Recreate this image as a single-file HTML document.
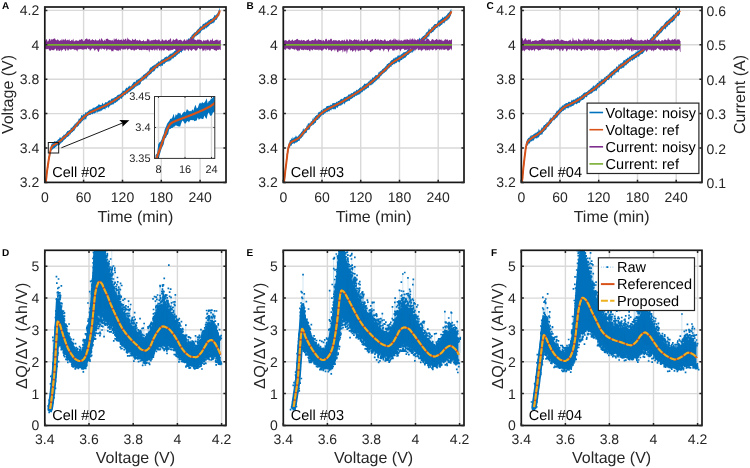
<!DOCTYPE html><html><head><meta charset="utf-8"><style>html,body{margin:0;padding:0;background:#fff}svg{display:block;will-change:transform;text-rendering:geometricPrecision}</style></head><body>
<svg width="750" height="468" viewBox="0 0 750 468" font-family="'Liberation Sans', sans-serif">
<rect width="750" height="468" fill="#fff"/>
<clipPath id="clipA"><rect x="44.8" y="7" width="181.2" height="175.4"/></clipPath>
<path d="M83.6 7V182.4M122.5 7V182.4M161.3 7V182.4M200.1 7V182.4M44.8 148H226M44.8 113.6H226M44.8 79.2H226M44.8 44.8H226M44.8 10.4H226" stroke="#d9d9d9" stroke-width="1.4" fill="none"/>
<g clip-path="url(#clipA)">
<path d="M45.5 178.2 46.4 173.3 47 168.2 47.6 163.8 48.2 158.6 48.8 155.3 49.4 153.2 50 149.7 50.6 147.3 51.2 145.1 51.8 143.6 52.4 143.6 53 142.6 53.6 142.3 54.2 141.3 54.8 141.3 55.4 141.5 56 141.6 56.6 141.1 57.2 140.7 57.8 139.8 58.4 138.9 59 139.5 59.6 137.3 60.2 137.8 60.8 137.6 61.4 138 62 136.7 62.6 136.3 63.2 135.8 63.8 134.5 64.4 135.1 65 134.2 65.6 133.9 66.2 132.6 66.8 132.2 67.4 131.1 68 130.9 68.6 130.7 69.2 129.9 69.8 130.2 70.4 129.4 71 127.2 71.6 128.1 72.2 127.4 72.8 126.4 73.4 125.8 74 125.2 74.6 124.2 75.2 123 75.8 123.9 76.4 122.2 77 122.2 77.6 121.6 78.2 120.4 78.8 118.6 79.4 118.9 80 118.1 80.6 117.7 81.2 115.5 81.8 114.8 82.4 115.9 83 114.4 83.6 114.3 84.2 114.3 84.8 114.5 85.4 111.9 86 112.5 86.6 112.6 87.2 112.1 87.8 111.6 88.4 110.5 89 110.9 89.6 109.5 90.2 109.4 90.8 109.7 91.4 108.9 92 109.5 92.6 108.2 93.2 107.2 93.8 108.3 94.4 107.7 95 107.2 95.6 107.3 96.2 106.5 96.8 106.3 97.4 106 98 105.2 98.6 104.3 99.2 104.8 99.8 104.6 100.4 105 101 105 101.6 104.9 102.2 102.6 102.8 103.5 103.4 104.4 104 103.5 104.6 103.8 105.2 102.3 105.8 102.3 106.4 102.3 107 102.5 107.6 101.9 108.2 100.5 108.8 100.9 109.4 99.9 110 100.5 110.6 100.5 111.2 98.2 111.8 99.2 112.4 98.7 113 97.8 113.6 98.6 114.2 98.2 114.8 97 115.4 97.1 116 97.1 116.6 96.3 117.2 95.3 117.8 95.2 118.4 94.6 119 94.9 119.6 94.2 120.2 94 120.8 93.4 121.4 92.6 122 92.8 122.6 90.8 123.2 90.5 123.8 91.1 124.4 90.8 125 90.1 125.6 88.8 126.2 87.9 126.8 87.4 127.4 88.5 128 86.9 128.6 86.8 129.2 85.2 129.8 86.4 130.4 86.1 131 86.5 131.6 85.1 132.2 84.3 132.8 83.6 133.4 82.2 134 82.2 134.6 81.6 135.2 82.6 135.8 81.3 136.4 79.8 137 80.6 137.6 79.5 138.2 79.2 138.8 78.9 139.4 78.7 140 78.1 140.6 77.5 141.2 77.9 141.8 76.1 142.4 76.7 143 75.3 143.6 74.7 144.2 74.3 144.8 74.3 145.4 73.6 146 73.1 146.6 72.8 147.2 71.9 147.8 71.2 148.4 71.2 149 70 149.6 68.8 150.2 67.5 150.8 67.6 151.4 67.2 152 66.6 152.6 66 153.2 65.7 153.8 65.3 154.4 65.3 155 63.9 155.6 64.8 156.2 63.8 156.8 63.1 157.4 62.7 158 62.3 158.6 61 159.2 61.7 159.8 61.4 160.4 61.1 161 60.1 161.6 59.4 162.2 59.8 162.8 58.9 163.4 58.9 164 58.6 164.6 57.6 165.2 57.3 165.8 56.9 166.4 56.8 167 56.1 167.6 57.2 168.2 55.9 168.8 55.2 169.4 54.5 170 54.5 170.6 53.8 171.2 53.1 171.8 54.3 172.4 53.1 173 52.3 173.6 52.6 174.2 50.7 174.8 51.6 175.4 50.1 176 50.6 176.6 49.2 177.2 48.8 177.8 49.2 178.4 49 179 48.1 179.6 48.1 180.2 47.4 180.8 46 181.4 44.8 182 45.4 182.6 44.5 183.2 44.5 183.8 43.9 184.4 43.2 185 41.4 185.6 40.9 186.2 42.2 186.8 40.9 187.4 40 188 39.1 188.6 38.2 189.2 38.7 189.8 38.5 190.4 36.7 191 37.1 191.6 35.6 192.2 34.3 192.8 34.7 193.4 33.5 194 33.3 194.6 32.3 195.2 32.2 195.8 31.9 196.4 30.8 197 30.5 197.6 29.4 198.2 28.4 198.8 29 199.4 27.4 200 27 200.6 25.9 201.2 26.7 201.8 26 202.4 25.3 203 23.5 203.6 24 204.2 23.7 204.8 23.2 205.4 22.2 206 22.7 206.6 22.3 207.2 21.1 207.8 21.7 208.4 20.6 209 19.5 209.6 20.2 210.2 19 210.8 18.9 211.4 18.7 212 18.8 212.6 18.3 213.2 17.5 213.8 16.7 214.4 15.2 215 14.7 215.6 15.7 216.2 14.7 216.8 14 217.4 13.5 218 11.9 218.6 10.9 219.2 8.9 219.7 6.8L219.7 12.4 219.2 15.9 218.6 16.2 218 16.7 217.4 18.2 216.8 19.4 216.2 20.1 215.6 19.9 215 20.8 214.4 22.5 213.8 22.2 213.2 23.4 212.6 23.1 212 23.6 211.4 24.1 210.8 24.1 210.2 24.6 209.6 25.2 209 25.8 208.4 26.4 207.8 26.8 207.2 27.6 206.6 27.7 206 29 205.4 27.2 204.8 29.4 204.2 29.2 203.6 29.7 203 29.4 202.4 30.3 201.8 30.6 201.2 31.2 200.6 32.7 200 33.1 199.4 33.8 198.8 33.7 198.2 34.8 197.6 35.3 197 35.1 196.4 36.3 195.8 36 195.2 36.7 194.6 37.6 194 38.3 193.4 40.3 192.8 39.7 192.2 40.5 191.6 40.8 191 41.9 190.4 43 189.8 44.2 189.2 44 188.6 44.8 188 44.9 187.4 45 186.8 46.2 186.2 46.6 185.6 48.2 185 47.4 184.4 48.3 183.8 48.8 183.2 50.8 182.6 50.5 182 51.5 181.4 52.9 180.8 51.8 180.2 51.9 179.6 53.4 179 53.4 178.4 53.7 177.8 54.4 177.2 55 176.6 55.2 176 56.6 175.4 56.8 174.8 56.7 174.2 57.3 173.6 58.1 173 58.9 172.4 58.3 171.8 58.6 171.2 60.2 170.6 60.7 170 59.8 169.4 61.7 168.8 60.6 168.2 62.1 167.6 61.3 167 62.1 166.4 61.8 165.8 63 165.2 62.3 164.6 64.3 164 63.7 163.4 63.8 162.8 65.4 162.2 66.1 161.6 66 161 65 160.4 67.1 159.8 66.1 159.2 66.1 158.6 66.4 158 68.1 157.4 68.3 156.8 68.1 156.2 68.5 155.6 68.8 155 70.2 154.4 71 153.8 71.4 153.2 71.5 152.6 71.7 152 72.4 151.4 73.4 150.8 73.9 150.2 74.3 149.6 75.4 149 74.5 148.4 76.2 147.8 76.6 147.2 77.3 146.6 79.2 146 77.5 145.4 79.1 144.8 79.3 144.2 79.5 143.6 80.4 143 80.6 142.4 80.7 141.8 81.3 141.2 81.8 140.6 83.7 140 84.6 139.4 85.1 138.8 84.4 138.2 85.7 137.6 86.1 137 85.3 136.4 86.8 135.8 86.5 135.2 87.2 134.6 87.9 134 88.6 133.4 89.1 132.8 89.2 132.2 89.9 131.6 90 131 91.2 130.4 91 129.8 92.3 129.2 91.4 128.6 92.5 128 92.8 127.4 94 126.8 93.6 126.2 94.1 125.6 95.1 125 95.6 124.4 95.1 123.8 95.5 123.2 97 122.6 97 122 98.1 121.4 99.3 120.8 98.1 120.2 98.8 119.6 99.5 119 100.5 118.4 99.9 117.8 101.2 117.2 101.5 116.6 101.7 116 102.4 115.4 103.1 114.8 102.6 114.2 103.5 113.6 103.9 113 104.9 112.4 104.1 111.8 105.2 111.2 104.5 110.6 104.9 110 106.3 109.4 106.1 108.8 108.5 108.2 107 107.6 106.6 107 107.9 106.4 107.8 105.8 107.6 105.2 110.1 104.6 109 104 108.7 103.4 109.3 102.8 109.2 102.2 110.3 101.6 111 101 110 100.4 111.4 99.8 110.9 99.2 111.7 98.6 111.7 98 111.2 97.4 113 96.8 111.1 96.2 112.9 95.6 112.8 95 112.8 94.4 113.8 93.8 113.2 93.2 113.6 92.6 114.6 92 113.8 91.4 113.9 90.8 115 90.2 114.7 89.6 115 89 115.2 88.4 115.4 87.8 115.9 87.2 116.3 86.6 117.5 86 119.9 85.4 118.9 84.8 118.6 84.2 120.5 83.6 119.8 83 120.4 82.4 121.3 81.8 121.4 81.2 122.7 80.6 123.5 80 123.6 79.4 124 78.8 125.9 78.2 125.5 77.6 127 77 126.7 76.4 127.2 75.8 128.1 75.2 129.1 74.6 130.2 74 131.1 73.4 131.1 72.8 132.1 72.2 132.3 71.6 132.7 71 133.2 70.4 134.7 69.8 134.1 69.2 135.9 68.6 136.1 68 136.9 67.4 136.8 66.8 137.5 66.2 137.8 65.6 139 65 138.9 64.4 140 63.8 140.3 63.2 141.1 62.6 142.3 62 141.8 61.4 143.1 60.8 143.6 60.2 143.4 59.6 145 59 144.9 58.4 145.7 57.8 145.5 57.2 145.2 56.6 146.2 56 146.8 55.4 147 54.8 148.3 54.2 148.1 53.6 148.5 53 149.2 52.4 149.4 51.8 150 51.2 151.1 50.6 153.5 50 156.6 49.4 159.6 48.8 161.6 48.2 167.7 47.6 171.3 47 175.7 46.4 180.4 45.5 183.5Z" fill="#0072bd"/>
<path d="M45.5 182L45.8 181.3 46 180.5 46.1 179.7 46.2 178.9 46.3 178.1 46.4 177.3 46.5 176.5 46.6 175.7 46.6 174.9 46.7 174.1 46.8 173.3 46.9 172.5 47 171.7 47.1 170.9 47.2 170.2 47.3 169.4 47.4 168.6 47.6 167.8 47.7 167 47.8 166.2 47.9 165.4 48 164.6 48.2 163.8 48.3 163 48.4 162.2 48.5 161.4 48.6 160.7 48.7 159.9 48.8 159.1 49 158.3 49.1 157.5 49.2 156.7 49.4 155.9 49.5 155.1 49.6 154.3 49.8 153.6 50 152.8 50.1 152 50.3 151.2 50.5 150.4 50.6 149.6 50.8 148.8 51.1 148.1 51.4 147.4 51.9 146.7 52.4 146.1 53 145.6 53.6 145.1 54.4 144.7 55.1 144.4 55.8 144 56.5 143.6 57.2 143.2 57.9 142.8 58.5 142.3 59.1 141.8 59.7 141.3 60.4 140.8 61 140.3 61.6 139.7 62.1 139.2 62.7 138.6 63.3 138.1 63.9 137.5 64.5 137 65.1 136.5 65.7 135.9 66.3 135.4 66.9 134.9 67.5 134.3 68.1 133.8 68.7 133.3 69.2 132.7 69.8 132.2 70.4 131.6 71 131.1 71.6 130.5 72.1 130 72.7 129.4 73.3 128.8 73.8 128.2 74.4 127.7 74.9 127.1 75.4 126.4 75.9 125.8 76.4 125.2 76.9 124.6 77.4 123.9 77.9 123.3 78.4 122.7 78.9 122.1 79.5 121.5 80 120.9 80.6 120.3 81.1 119.7 81.7 119.2 82.2 118.6 82.8 118 83.4 117.5 84 117 84.6 116.4 85.2 115.9 85.8 115.4 86.4 114.9 87.1 114.4 87.7 113.9 88.4 113.5 89 113.1 89.7 112.7 90.4 112.3 91.2 112 91.9 111.6 92.6 111.3 93.4 111 94.1 110.6 94.8 110.3 95.5 109.9 96.3 109.6 97 109.3 97.7 108.9 98.5 108.6 99.2 108.3 99.9 108 100.7 107.7 101.4 107.4 102.1 107 102.9 106.7 103.6 106.4 104.3 106 105 105.7 105.7 105.3 106.4 105 107.2 104.6 107.9 104.2 108.6 103.8 109.3 103.4 110 103 110.6 102.6 111.3 102.2 112 101.8 112.7 101.4 113.4 101 114.1 100.5 114.7 100.1 115.4 99.7 116.1 99.2 116.7 98.8 117.4 98.3 118.1 97.9 118.7 97.4 119.4 96.9 120 96.5 120.7 96 121.3 95.5 122 95.1 122.6 94.6 123.2 94.1 123.9 93.6 124.5 93.1 125.1 92.7 125.8 92.2 126.4 91.7 127 91.2 127.6 90.7 128.3 90.2 128.9 89.7 129.5 89.2 130.2 88.7 130.8 88.2 131.4 87.7 132 87.2 132.7 86.7 133.3 86.2 133.9 85.7 134.6 85.2 135.2 84.7 135.8 84.2 136.4 83.7 137.1 83.2 137.7 82.7 138.3 82.2 138.9 81.7 139.5 81.2 140.2 80.7 140.8 80.2 141.4 79.7 142 79.1 142.6 78.6 143.2 78.1 143.8 77.6 144.4 77.1 145 76.5 145.6 76 146.2 75.4 146.8 74.9 147.4 74.3 147.9 73.8 148.5 73.2 149.1 72.7 149.7 72.1 150.2 71.5 150.8 71 151.4 70.4 152 69.9 152.6 69.4 153.2 68.8 153.8 68.3 154.4 67.8 155 67.2 155.6 66.7 156.2 66.2 156.8 65.7 157.4 65.2 158.1 64.7 158.7 64.3 159.4 63.8 160 63.4 160.7 63 161.4 62.5 162.1 62.1 162.8 61.7 163.5 61.3 164.2 60.9 164.9 60.5 165.6 60.1 166.3 59.7 167 59.3 167.6 58.9 168.3 58.5 169 58.1 169.7 57.7 170.4 57.3 171.1 56.9 171.7 56.4 172.4 55.9 173 55.5 173.7 55 174.3 54.5 174.9 54 175.5 53.5 176.2 53 176.8 52.5 177.4 52 178 51.5 178.7 51 179.3 50.5 179.9 50 180.5 49.4 181.1 48.9 181.7 48.4 182.3 47.8 182.9 47.3 183.5 46.8 184.1 46.2 184.7 45.7 185.2 45.1 185.8 44.6 186.4 44 187 43.5 187.5 42.9 188.1 42.3 188.7 41.8 189.2 41.2 189.8 40.6 190.3 40 190.9 39.4 191.4 38.8 191.9 38.2 192.4 37.6 193 37 193.5 36.4 194 35.8 194.6 35.2 195.1 34.6 195.7 34.1 196.2 33.5 196.8 32.9 197.3 32.3 197.9 31.8 198.5 31.2 199 30.7 199.6 30.1 200.2 29.6 200.8 29.1 201.5 28.6 202.1 28.1 202.7 27.6 203.4 27.1 204 26.6 204.6 26.1 205.3 25.7 205.9 25.2 206.6 24.7 207.2 24.3 207.9 23.8 208.6 23.4 209.2 22.9 209.9 22.4 210.5 22 211.2 21.5 211.8 21.1 212.5 20.6 213.1 20.1 213.7 19.6 214.3 19.1 214.9 18.5 215.5 18 216.1 17.4 216.7 16.8 217.2 16.2 217.6 15.6 218.1 14.9 218.5 14.2 218.8 13.5 219.2 12.8 219.4 12 219.6 11.2 219.7 10.4 219.7 10.4" stroke="#d95319" stroke-width="2" fill="none" stroke-linejoin="round"/>
<path d="M44.8 41.7 46 39.4 46.8 39.3 47.6 41.7 48.4 41 49.2 39.1 50 38.8 50.8 41 51.6 38.7 52.4 39.8 53.2 38.8 54 38.9 54.8 38 55.6 39.8 56.4 40.6 57.2 39.5 58 39.4 58.8 40.6 59.6 40.9 60.4 40 61.2 40.8 62 38.4 62.8 40.7 63.6 39.1 64.4 40.5 65.2 38.6 66 39.7 66.8 40.8 67.6 39.6 68.4 40.6 69.2 39.1 70 41 70.8 40.9 71.6 39.8 72.4 40.7 73.2 38.4 74 41.7 74.8 40.8 75.6 40.4 76.4 40.3 77.2 40.7 78 40.7 78.8 40.8 79.6 39.6 80.4 39.9 81.2 39.2 82 38.7 82.8 40.3 83.6 41.3 84.4 40.7 85.2 39.1 86 39.2 86.8 38.1 87.6 39.5 88.4 39.8 89.2 38.7 90 39.6 90.8 40.7 91.6 40.1 92.4 39.1 93.2 40 94 40 94.8 40.7 95.6 38.9 96.4 40.4 97.2 40.6 98 40.6 98.8 40.3 99.6 38.6 100.4 41.1 101.2 37.9 102 39.1 102.8 40.3 103.6 41.3 104.4 39.4 105.2 41.3 106 38.8 106.8 38.9 107.6 38.4 108.4 39.4 109.2 40.3 110 39.7 110.8 40.5 111.6 40.4 112.4 39.8 113.2 41.5 114 38 114.8 39.9 115.6 39.1 116.4 38.3 117.2 40.3 118 39.8 118.8 39.3 119.6 40.2 120.4 39.9 121.2 39.4 122 39.8 122.8 41 123.6 38.5 124.4 40.3 125.2 39.1 126 38.6 126.8 41.2 127.6 37.2 128.4 39.3 129.2 39.4 130 40.3 130.8 40.3 131.6 41.1 132.4 38.4 133.2 39.9 134 39.8 134.8 39.7 135.6 38.6 136.4 40.7 137.2 40 138 40.6 138.8 40.8 139.6 39.4 140.4 40.3 141.2 41.2 142 41 142.8 40.9 143.6 39.8 144.4 41.4 145.2 40.8 146 41.4 146.8 40.4 147.6 38.6 148.4 39.5 149.2 39.4 150 41.4 150.8 40.3 151.6 40.3 152.4 40.2 153.2 40.3 154 39.5 154.8 40.3 155.6 38.9 156.4 40.3 157.2 39.9 158 40.6 158.8 38.9 159.6 40.1 160.4 41.3 161.2 41.3 162 39.2 162.8 39.6 163.6 40.8 164.4 40.6 165.2 40.2 166 39.3 166.8 40.5 167.6 41 168.4 39.8 169.2 40.3 170 38.7 170.8 38.2 171.6 41.9 172.4 40.7 173.2 38.8 174 40.2 174.8 39.9 175.6 39.5 176.4 38.4 177.2 38.8 178 40.8 178.8 39.9 179.6 40.1 180.4 39.4 181.2 40.3 182 40.4 182.8 41.7 183.6 40.3 184.4 39 185.2 40.2 186 41.2 186.8 39.1 187.6 40.6 188.4 39.2 189.2 40.6 190 38.9 190.8 39.5 191.6 37.1 192.4 39.5 193.2 39.4 194 37.9 194.8 39.9 195.6 39.8 196.4 40.4 197.2 40.1 198 39.1 198.8 39.9 199.6 39.5 200.4 40.1 201.2 39.9 202 40.9 202.8 41.7 203.6 39.8 204.4 40.8 205.2 40.5 206 40.2 206.8 40.4 207.6 39.2 208.4 39.8 209.2 41.7 210 40.4 210.8 39.4 211.6 40.8 212.4 38 213.2 40.9 214 40.8 214.8 40.6 215.6 39.9 216.4 39.4 217.2 40.4 218 39.2 218.8 41.6 219.6 40.3 220.8 39.9L220.8 50.2 219.6 49.3 218.8 50.1 218 49.4 217.2 50 216.4 50.9 215.6 50.5 214.8 50.1 214 50.2 213.2 48.7 212.4 49.3 211.6 48.8 210.8 49.4 210 51.2 209.2 50 208.4 49.5 207.6 49.7 206.8 50.7 206 48.6 205.2 51.4 204.4 49.3 203.6 50.4 202.8 51.5 202 48.8 201.2 48.4 200.4 49.4 199.6 49.3 198.8 48.1 198 48.3 197.2 50 196.4 50.4 195.6 50.7 194.8 50 194 48.9 193.2 49.1 192.4 49.7 191.6 50.9 190.8 50.3 190 49.6 189.2 49.3 188.4 51.5 187.6 49.4 186.8 49.5 186 49.2 185.2 51.1 184.4 50.6 183.6 49.6 182.8 48.7 182 51 181.2 50.6 180.4 50.5 179.6 49.2 178.8 50.6 178 49.7 177.2 52.5 176.4 50.2 175.6 50.1 174.8 49.1 174 48.9 173.2 49.6 172.4 50 171.6 49.7 170.8 50.8 170 49.5 169.2 51 168.4 50.8 167.6 50.1 166.8 50.3 166 48.9 165.2 49.1 164.4 50.5 163.6 50.6 162.8 50.2 162 49.3 161.2 51.6 160.4 49 159.6 50.9 158.8 49.5 158 48.3 157.2 51 156.4 49.4 155.6 49.2 154.8 50.9 154 49.2 153.2 49.4 152.4 50.6 151.6 50 150.8 49.6 150 49.8 149.2 52.6 148.4 49.2 147.6 50.2 146.8 49.9 146 50.2 145.2 49.3 144.4 50.1 143.6 49.8 142.8 49.2 142 50.5 141.2 50 140.4 49.8 139.6 50.2 138.8 49.6 138 48.8 137.2 49.3 136.4 49.9 135.6 49.4 134.8 50.3 134 50.9 133.2 49.4 132.4 49.8 131.6 50.3 130.8 50.1 130 48.8 129.2 48.7 128.4 49.3 127.6 50.4 126.8 48.6 126 48.7 125.2 49.8 124.4 49.3 123.6 49.6 122.8 49.6 122 49.2 121.2 48.4 120.4 50.9 119.6 49.6 118.8 51.2 118 49.9 117.2 51 116.4 50.2 115.6 49.7 114.8 50 114 49.1 113.2 51.5 112.4 51 111.6 51.6 110.8 49.3 110 50 109.2 49.4 108.4 49.2 107.6 49.2 106.8 51.2 106 49.1 105.2 48.6 104.4 50 103.6 49.1 102.8 48.9 102 48.3 101.2 50.1 100.4 48.5 99.6 49.2 98.8 52 98 51.5 97.2 49.6 96.4 49.1 95.6 49.6 94.8 51 94 49.6 93.2 48.5 92.4 48.5 91.6 49 90.8 50 90 51.1 89.2 48.7 88.4 49.3 87.6 47.5 86.8 49.7 86 48.9 85.2 49.3 84.4 49.3 83.6 49.5 82.8 49.9 82 48.9 81.2 49.6 80.4 49.1 79.6 49.3 78.8 49.4 78 49.3 77.2 51.7 76.4 50.1 75.6 49.4 74.8 50.3 74 49.3 73.2 49.3 72.4 49.1 71.6 49.6 70.8 49.6 70 49.7 69.2 48.8 68.4 50.5 67.6 50.5 66.8 48.2 66 50.5 65.2 51.1 64.4 49.1 63.6 48.7 62.8 50.3 62 49.5 61.2 51.7 60.4 49.3 59.6 51 58.8 51 58 49.1 57.2 51 56.4 50.7 55.6 48.5 54.8 48.9 54 50.5 53.2 49.9 52.4 50.3 51.6 49.4 50.8 50.8 50 50.4 49.2 50.4 48.4 48.7 47.6 48.9 46.8 49.4 46 48.7 44.8 49.2Z" fill="#7e2f8e"/>
<path d="M44.8 44.9H220.8" stroke="#77ac30" stroke-width="1.7"/>
</g>
<rect x="44.8" y="7" width="181.2" height="175.4" fill="none" stroke="#181818" stroke-width="1.7"/>
<path d="M44.8 182.4v-2.6M44.8 7v2.6M83.6 182.4v-2.6M83.6 7v2.6M122.5 182.4v-2.6M122.5 7v2.6M161.3 182.4v-2.6M161.3 7v2.6M200.1 182.4v-2.6M200.1 7v2.6M44.8 182.4h2.6M226 182.4h-2.6M44.8 148h2.6M226 148h-2.6M44.8 113.6h2.6M226 113.6h-2.6M44.8 79.2h2.6M226 79.2h-2.6M44.8 44.8h2.6M226 44.8h-2.6M44.8 10.4h2.6M226 10.4h-2.6" stroke="#262626" stroke-width="1.5" fill="none"/>
<g font-size="14" fill="#262626" text-anchor="middle">
<text x="44.8" y="201.7">0</text>
<text x="83.6" y="201.7">60</text>
<text x="122.5" y="201.7">120</text>
<text x="161.3" y="201.7">180</text>
<text x="200.1" y="201.7">240</text>
</g>
<g font-size="14" fill="#262626" text-anchor="end">
<text x="39.3" y="187.3">3.2</text>
<text x="39.3" y="152.9">3.4</text>
<text x="39.3" y="118.5">3.6</text>
<text x="39.3" y="84.1">3.8</text>
<text x="39.3" y="49.7">4</text>
<text x="39.3" y="15.3">4.2</text>
</g>
<text font-size="16" fill="#262626" text-anchor="middle" x="135.4" y="221.6">Time (min)</text>
<text font-size="16" fill="#262626" text-anchor="middle" transform="translate(13,94.5) rotate(-90)">Voltage (V)</text>
<text font-size="10" font-weight="bold" fill="#000" x="2" y="9.3">A</text>
<text font-size="14.5" fill="#000" x="52.3" y="177">Cell #02</text>
<clipPath id="clipB"><rect x="283.3" y="7" width="180.7" height="175.4"/></clipPath>
<path d="M322 7V182.4M360.7 7V182.4M399.5 7V182.4M438.2 7V182.4M283.3 148H464M283.3 113.6H464M283.3 79.2H464M283.3 44.8H464M283.3 10.4H464" stroke="#d9d9d9" stroke-width="1.4" fill="none"/>
<g clip-path="url(#clipB)">
<path d="M283.6 177.7 284.5 174.1 285.1 166.3 285.7 165.3 286.3 159.2 286.9 153.6 287.5 148.3 288.1 145.7 288.7 143.5 289.3 142.7 289.9 139.9 290.5 140 291.1 139.6 291.7 137.7 292.3 139.2 292.9 136.6 293.5 138.8 294.1 137.4 294.7 137.6 295.3 137 295.9 135.3 296.5 136.6 297.1 136.9 297.7 136.4 298.3 136.1 298.9 134.7 299.5 134.6 300.1 133.5 300.7 133.3 301.3 132.1 301.9 131.5 302.5 130.9 303.1 127.9 303.7 129.4 304.3 129.8 304.9 128.6 305.5 128.2 306.1 127.8 306.7 125.6 307.3 125.7 307.9 123.4 308.5 123.1 309.1 124.3 309.7 122.5 310.3 123 310.9 121.2 311.5 121.2 312.1 120.7 312.7 118 313.3 119.7 313.9 117 314.5 118.1 315.1 116 315.7 116.2 316.3 115 316.9 115.2 317.5 114.9 318.1 112.2 318.7 112.4 319.3 112.3 319.9 111.6 320.5 111.7 321.1 110.1 321.7 110.1 322.3 111 322.9 108.8 323.5 108.8 324.1 108.9 324.7 108 325.3 108.2 325.9 107.4 326.5 106.2 327.1 105.9 327.7 106.1 328.3 106 328.9 105.5 329.5 105.7 330.1 105.6 330.7 104.6 331.3 104.7 331.9 104.9 332.5 103.1 333.1 103.2 333.7 102.9 334.3 102.7 334.9 103.2 335.5 103 336.1 102.3 336.7 101.5 337.3 102.5 337.9 101.1 338.5 101.1 339.1 100.7 339.7 100.5 340.3 99.5 340.9 99.2 341.5 98.4 342.1 99.5 342.7 98.8 343.3 98.6 343.9 97.5 344.5 97 345.1 96.7 345.7 97.2 346.3 96.5 346.9 96.5 347.5 96.3 348.1 95 348.7 94.5 349.3 94 349.9 95 350.5 93.8 351.1 93.5 351.7 93 352.3 93.2 352.9 93 353.5 91.8 354.1 91.7 354.7 91.2 355.3 91.6 355.9 90.7 356.5 89.5 357.1 90.5 357.7 89.7 358.3 89.2 358.9 89.1 359.5 87.8 360.1 87.9 360.7 86.7 361.3 88.1 361.9 86.4 362.5 86.3 363.1 85.6 363.7 84.9 364.3 83.6 364.9 83.7 365.5 84.1 366.1 83.6 366.7 83.5 367.3 83.2 367.9 82.3 368.5 81.6 369.1 81.6 369.7 80.6 370.3 79.7 370.9 79.8 371.5 79.5 372.1 78.4 372.7 77 373.3 77.7 373.9 77.4 374.5 76.6 375.1 75.8 375.7 74.9 376.3 75.3 376.9 75.1 377.5 75.1 378.1 73.8 378.7 71.9 379.3 72.4 379.9 71.2 380.5 71.2 381.1 70.3 381.7 70.7 382.3 68.8 382.9 69.3 383.5 68.2 384.1 68.1 384.7 67.4 385.3 66.1 385.9 66.7 386.5 64.9 387.1 64 387.7 64 388.3 63.3 388.9 63 389.5 63.1 390.1 61.3 390.7 61.6 391.3 60.2 391.9 59.9 392.5 60.1 393.1 58.7 393.7 58.3 394.3 58.7 394.9 57.4 395.5 57.4 396.1 57.7 396.7 56.9 397.3 56.5 397.9 55.3 398.5 55.6 399.1 55.7 399.7 55.3 400.3 55.4 400.9 54.5 401.5 54.3 402.1 53.4 402.7 53.5 403.3 52.6 403.9 52.2 404.5 52.3 405.1 51.9 405.7 51.8 406.3 51.4 406.9 50.7 407.5 49.7 408.1 49.1 408.7 49.2 409.3 47.8 409.9 49.4 410.5 48.4 411.1 47.6 411.7 46 412.3 47 412.9 46.5 413.5 44.6 414.1 44.1 414.7 43.9 415.3 43.6 415.9 43.8 416.5 42.5 417.1 41.9 417.7 42.2 418.3 40.7 418.9 39.7 419.5 37.5 420.1 38.3 420.7 39.5 421.3 37.8 421.9 37.4 422.5 36.7 423.1 36.1 423.7 36.1 424.3 34.4 424.9 35.8 425.5 34.1 426.1 32.3 426.7 32.4 427.3 31.8 427.9 31.2 428.5 29.6 429.1 28 429.7 30.1 430.3 29.2 430.9 29 431.5 27 432.1 27.2 432.7 26.5 433.3 25.4 433.9 25.2 434.5 23.9 435.1 23.9 435.7 23.9 436.3 24 436.9 23.5 437.5 22.3 438.1 20.7 438.7 20.4 439.3 20.5 439.9 20.3 440.5 19.6 441.1 19.1 441.7 19 442.3 16.5 442.9 17.9 443.5 18.1 444.1 16.3 444.7 16.9 445.3 16.6 445.9 15.8 446.5 15.2 447.1 14.5 447.7 13.5 448.3 12.9 448.9 12.5 449.5 11.8 450.1 11 450.7 9.8 451.3 8.7L451.3 13.8 450.7 16.1 450.1 16.8 449.5 18.4 448.9 18.4 448.3 19.7 447.7 19.6 447.1 20.9 446.5 20.7 445.9 20.6 445.3 21.8 444.7 22.5 444.1 23.7 443.5 22.7 442.9 23.1 442.3 24.4 441.7 24.7 441.1 24.9 440.5 25.9 439.9 25.8 439.3 27.2 438.7 26.1 438.1 26.5 437.5 27.7 436.9 28 436.3 28.1 435.7 28.7 435.1 29.6 434.5 30.3 433.9 30.6 433.3 31.9 432.7 32 432.1 32.3 431.5 33.3 430.9 33 430.3 33.3 429.7 34.4 429.1 36.9 428.5 35.9 427.9 37.9 427.3 36.7 426.7 39.1 426.1 38.9 425.5 39.5 424.9 40.2 424.3 40.5 423.7 41.4 423.1 42 422.5 42.5 421.9 43.2 421.3 43.7 420.7 43.5 420.1 44.7 419.5 45 418.9 45.5 418.3 46.6 417.7 46.3 417.1 47.7 416.5 49.3 415.9 48.7 415.3 49.5 414.7 49.3 414.1 50.1 413.5 51.4 412.9 51.6 412.3 52.9 411.7 51.4 411.1 53.3 410.5 52.5 409.9 53.3 409.3 53.7 408.7 54.6 408.1 55 407.5 55.1 406.9 55.8 406.3 56.6 405.7 57.3 405.1 58 404.5 57.7 403.9 58.4 403.3 58.7 402.7 58.6 402.1 59.9 401.5 60 400.9 60.2 400.3 60.5 399.7 62.8 399.1 61.6 398.5 62.2 397.9 61 397.3 62.1 396.7 62.8 396.1 63.3 395.5 63.3 394.9 63.6 394.3 64.5 393.7 64 393.1 64.6 392.5 65.2 391.9 65.1 391.3 67.1 390.7 66.8 390.1 66.8 389.5 68.1 388.9 68.5 388.3 68.6 387.7 69.4 387.1 70.3 386.5 71.1 385.9 71.9 385.3 71.5 384.7 73.1 384.1 72.5 383.5 73.3 382.9 74.5 382.3 74.1 381.7 75.6 381.1 75.7 380.5 76.2 379.9 77.3 379.3 78.5 378.7 78.5 378.1 79.1 377.5 79.4 376.9 79.9 376.3 80.9 375.7 80.7 375.1 82.6 374.5 82.1 373.9 82.8 373.3 83.5 372.7 84.7 372.1 83.6 371.5 85.2 370.9 85 370.3 85.5 369.7 85.1 369.1 86.3 368.5 88.3 367.9 87.8 367.3 87.9 366.7 88.7 366.1 89.3 365.5 89.4 364.9 89.5 364.3 91.1 363.7 90.5 363.1 90.7 362.5 92.3 361.9 92.3 361.3 92.2 360.7 93.7 360.1 93.2 359.5 94.4 358.9 94.5 358.3 94.8 357.7 94.8 357.1 95.4 356.5 95.8 355.9 95.7 355.3 95.8 354.7 97.4 354.1 96.4 353.5 97.2 352.9 98.1 352.3 98.2 351.7 98.7 351.1 99.1 350.5 99.1 349.9 100.5 349.3 101 348.7 100.5 348.1 101 347.5 101.3 346.9 101.8 346.3 101.7 345.7 102 345.1 103.2 344.5 104.8 343.9 102.6 343.3 103.7 342.7 104.4 342.1 104.3 341.5 105 340.9 106 340.3 105.2 339.7 105.5 339.1 106 338.5 106.1 337.9 107.4 337.3 107.9 336.7 106.9 336.1 108.1 335.5 109.7 334.9 108.5 334.3 109.6 333.7 109 333.1 109.6 332.5 108.9 331.9 108.6 331.3 110.4 330.7 110.3 330.1 109.8 329.5 111.4 328.9 111.5 328.3 110.9 327.7 112.4 327.1 111.4 326.5 112.3 325.9 112.6 325.3 113.3 324.7 113.5 324.1 113.7 323.5 115.3 322.9 114.3 322.3 115.2 321.7 115.2 321.1 116.3 320.5 116.7 319.9 117.5 319.3 118.7 318.7 118.2 318.1 119.9 317.5 119.9 316.9 119.8 316.3 121 315.7 123 315.1 123.1 314.5 123.4 313.9 124.2 313.3 125 312.7 124.6 312.1 125.7 311.5 125.8 310.9 126.1 310.3 127.3 309.7 129.6 309.1 129.5 308.5 129.7 307.9 130.3 307.3 130.1 306.7 132.8 306.1 132.8 305.5 133.2 304.9 133.3 304.3 134.5 303.7 134.6 303.1 136.5 302.5 136.4 301.9 137.4 301.3 138.3 300.7 138.4 300.1 138.9 299.5 140.9 298.9 141 298.3 140.8 297.7 141.7 297.1 142.3 296.5 142.6 295.9 142.4 295.3 142.8 294.7 144 294.1 143.3 293.5 143.2 292.9 144 292.3 143.4 291.7 145.3 291.1 146.1 290.5 145.6 289.9 148 289.3 147.3 288.7 149.4 288.1 153.8 287.5 156.9 286.9 161.8 286.3 167.3 285.7 170.8 285.1 178.5 284.5 180.1 283.6 184.9Z" fill="#0072bd"/>
<path d="M283.6 182L283.9 181.3 284.1 180.5 284.3 179.7 284.4 178.9 284.5 178.2 284.6 177.4 284.7 176.6 284.8 175.8 284.9 175 285 174.2 285.1 173.4 285.1 172.6 285.2 171.8 285.3 171 285.4 170.2 285.5 169.4 285.6 168.6 285.7 167.8 285.8 167 285.9 166.2 286 165.4 286.1 164.6 286.2 163.8 286.3 163 286.4 162.2 286.5 161.4 286.6 160.6 286.7 159.9 286.8 159.1 286.9 158.3 287 157.5 287.1 156.7 287.2 155.9 287.2 155.1 287.3 154.3 287.4 153.5 287.6 152.7 287.7 151.9 287.8 151.1 287.9 150.3 288.1 149.5 288.2 148.7 288.4 148 288.6 147.2 288.8 146.4 289.1 145.7 289.3 144.9 289.6 144.1 290 143.5 290.5 142.9 291.1 142.3 291.8 141.8 292.4 141.4 293.1 141 293.9 140.7 294.6 140.3 295.3 140 296 139.6 296.8 139.2 297.5 138.9 298.2 138.4 298.8 138 299.4 137.5 299.9 136.9 300.5 136.3 301 135.7 301.5 135 302 134.4 302.5 133.8 303 133.2 303.5 132.5 304 131.9 304.5 131.3 305 130.7 305.6 130.1 306.1 129.5 306.6 128.9 307.2 128.3 307.7 127.7 308.3 127.1 308.8 126.6 309.3 126 309.9 125.4 310.4 124.8 311 124.2 311.5 123.6 312 123 312.6 122.4 313.1 121.8 313.7 121.2 314.2 120.6 314.7 120.1 315.3 119.5 315.8 118.9 316.4 118.3 316.9 117.7 317.5 117.1 318 116.5 318.6 116 319.1 115.4 319.7 114.8 320.3 114.3 320.9 113.7 321.5 113.2 322.1 112.7 322.7 112.2 323.4 111.8 324 111.3 324.7 110.9 325.4 110.4 326.1 110 326.7 109.6 327.4 109.2 328.1 108.8 328.8 108.4 329.6 108.1 330.3 107.7 331 107.4 331.7 107 332.4 106.7 333.2 106.3 333.9 106 334.6 105.6 335.3 105.3 336 104.9 336.7 104.5 337.5 104.2 338.2 103.8 338.9 103.4 339.6 103.1 340.3 102.7 341 102.3 341.7 102 342.4 101.6 343.1 101.2 343.8 100.7 344.4 100.3 345.1 99.8 345.8 99.4 346.5 99 347.2 98.6 347.8 98.2 348.5 97.8 349.2 97.4 349.9 97 350.6 96.6 351.3 96.1 352 95.7 352.6 95.3 353.3 94.9 354 94.5 354.7 94 355.4 93.6 356 93.2 356.7 92.8 357.4 92.3 358.1 91.9 358.7 91.5 359.4 91 360.1 90.6 360.7 90.1 361.4 89.7 362.1 89.2 362.7 88.8 363.4 88.3 364 87.8 364.6 87.4 365.3 86.9 365.9 86.4 366.6 85.9 367.2 85.4 367.8 84.9 368.4 84.4 369.1 83.9 369.7 83.4 370.3 82.9 370.9 82.4 371.5 81.9 372.2 81.4 372.8 80.9 373.4 80.4 374 79.8 374.6 79.3 375.2 78.8 375.8 78.3 376.4 77.8 377 77.2 377.6 76.7 378.2 76.1 378.8 75.6 379.3 75 379.9 74.4 380.5 73.9 381 73.3 381.6 72.8 382.2 72.3 382.8 71.7 383.4 71.2 384 70.7 384.6 70.1 385.2 69.6 385.8 69 386.3 68.4 386.9 67.9 387.4 67.3 388 66.7 388.5 66.1 389.1 65.5 389.6 64.9 390.2 64.4 390.8 63.9 391.4 63.4 392.1 62.9 392.7 62.5 393.4 62 394.1 61.5 394.7 61.1 395.4 60.7 396.1 60.2 396.8 59.8 397.5 59.4 398.2 59 398.8 58.6 399.5 58.2 400.2 57.8 400.9 57.4 401.6 57 402.3 56.5 402.9 56.1 403.6 55.6 404.2 55.1 404.9 54.7 405.5 54.2 406.1 53.7 406.8 53.2 407.4 52.8 408.1 52.3 408.7 51.8 409.4 51.4 410 50.9 410.6 50.4 411.3 49.9 411.9 49.4 412.5 48.9 413.1 48.3 413.7 47.8 414.3 47.3 414.9 46.7 415.5 46.2 416 45.6 416.6 45.1 417.2 44.5 417.8 44 418.4 43.4 418.9 42.9 419.5 42.3 420.1 41.8 420.7 41.2 421.3 40.7 421.9 40.1 422.5 39.6 423.1 39.1 423.7 38.6 424.3 38 424.8 37.5 425.4 36.9 425.9 36.3 426.5 35.7 427 35.1 427.5 34.5 428 33.9 428.6 33.3 429.1 32.7 429.7 32.1 430.2 31.5 430.8 31 431.3 30.4 431.9 29.8 432.5 29.2 433 28.7 433.6 28.1 434.2 27.6 434.8 27.1 435.4 26.6 436 26.1 436.7 25.6 437.3 25.1 437.9 24.6 438.6 24.1 439.2 23.6 439.9 23.2 440.5 22.7 441.2 22.3 441.9 21.8 442.5 21.4 443.2 20.9 443.8 20.4 444.4 19.9 445.1 19.4 445.7 18.9 446.3 18.4 446.9 17.8 447.4 17.3 448 16.7 448.5 16.1 449.1 15.5 449.6 14.8 450 14.2 450.4 13.5 450.8 12.8 451.1 12.1 451.3 11.3" stroke="#d95319" stroke-width="2" fill="none" stroke-linejoin="round"/>
<path d="M283.3 40.3 284.5 40.5 285.3 40.3 286.1 39.9 286.9 41 287.7 41.2 288.5 40 289.3 39.4 290.1 40.6 290.9 40.9 291.7 40.3 292.5 39.3 293.3 41.1 294.1 40.4 294.9 40.2 295.7 40.1 296.5 39.3 297.3 38.8 298.1 39.6 298.9 40.4 299.7 39.9 300.5 40.8 301.3 39.6 302.1 40.7 302.9 40.2 303.7 39.9 304.5 40.2 305.3 41.2 306.1 40.8 306.9 40.2 307.7 40 308.5 38.9 309.3 40.9 310.1 40.4 310.9 41.3 311.7 39.9 312.5 40 313.3 40.2 314.1 40.4 314.9 38.7 315.7 38.7 316.5 40.6 317.3 40.8 318.1 39.2 318.9 39.4 319.7 40.1 320.5 40.1 321.3 39.7 322.1 41.4 322.9 39.8 323.7 40.2 324.5 41.4 325.3 39.5 326.1 38.6 326.9 39.6 327.7 41.5 328.5 39.6 329.3 40.5 330.1 39.6 330.9 38.4 331.7 39.1 332.5 41.2 333.3 40.2 334.1 39.8 334.9 40.7 335.7 40 336.5 40.2 337.3 41.3 338.1 40 338.9 40.4 339.7 39.9 340.5 41.2 341.3 40.8 342.1 39.7 342.9 40.5 343.7 40.8 344.5 39.3 345.3 41.4 346.1 40.6 346.9 38.8 347.7 39.9 348.5 41.4 349.3 39.4 350.1 39.1 350.9 40.4 351.7 39.8 352.5 40.9 353.3 40.2 354.1 39.8 354.9 39.1 355.7 40.2 356.5 39.5 357.3 40.3 358.1 40.4 358.9 39.1 359.7 41.6 360.5 41 361.3 40.1 362.1 40.1 362.9 41.4 363.7 40.5 364.5 38.7 365.3 39.8 366.1 41.1 366.9 39.8 367.7 39.1 368.5 41.6 369.3 41 370.1 40.3 370.9 41 371.7 39.5 372.5 38.9 373.3 40.8 374.1 40.4 374.9 39 375.7 38.8 376.5 40.2 377.3 40.1 378.1 38.7 378.9 40.5 379.7 40.6 380.5 39.6 381.3 39.9 382.1 40.1 382.9 40.9 383.7 40.5 384.5 39.2 385.3 39.6 386.1 41.2 386.9 41 387.7 40.5 388.5 41.3 389.3 39.9 390.1 40.3 390.9 38.9 391.7 41.1 392.5 40 393.3 39.7 394.1 38.1 394.9 40.8 395.7 38.5 396.5 40.2 397.3 39.8 398.1 41.2 398.9 39.1 399.7 40.7 400.5 40.4 401.3 40.3 402.1 40.2 402.9 41.2 403.7 39.7 404.5 39.8 405.3 39.3 406.1 40.4 406.9 38.8 407.7 39.5 408.5 40.1 409.3 40.2 410.1 38.1 410.9 40.4 411.7 38.9 412.5 38.2 413.3 40.6 414.1 38 414.9 40.2 415.7 39.3 416.5 40.4 417.3 39.5 418.1 38.7 418.9 39.8 419.7 40.8 420.5 41.2 421.3 38.3 422.1 40.4 422.9 38.3 423.7 39.7 424.5 40.2 425.3 40.7 426.1 40.1 426.9 38.1 427.7 38.8 428.5 39 429.3 39.9 430.1 41.2 430.9 40.9 431.7 39.5 432.5 38.9 433.3 39.4 434.1 40.6 434.9 40.3 435.7 39.7 436.5 38.7 437.3 39.5 438.1 40.6 438.9 39.4 439.7 39.5 440.5 40 441.3 39.3 442.1 41.2 442.9 40 443.7 41.2 444.5 40.1 445.3 38.7 446.1 40.2 446.9 39.3 447.7 39.6 448.5 40.9 449.3 39.7 450.1 40.3 450.9 40.3 452 38.9L452 50.7 450.9 48.3 450.1 49.4 449.3 49.7 448.5 50.5 447.7 50.7 446.9 49.5 446.1 49.1 445.3 49.6 444.5 49.9 443.7 49.5 442.9 49.9 442.1 48.6 441.3 50.6 440.5 49 439.7 50.5 438.9 49.1 438.1 49 437.3 49.2 436.5 50 435.7 50.8 434.9 48.4 434.1 49.3 433.3 49.8 432.5 50.6 431.7 49.2 430.9 50.1 430.1 48.9 429.3 50.9 428.5 49.6 427.7 50 426.9 50.8 426.1 49.3 425.3 50.9 424.5 48.9 423.7 48.8 422.9 50.4 422.1 49.5 421.3 51.6 420.5 49.6 419.7 49.8 418.9 49.8 418.1 50.4 417.3 48.1 416.5 49.5 415.7 49.6 414.9 51.4 414.1 49.3 413.3 48.7 412.5 49.4 411.7 49.9 410.9 48.1 410.1 49.3 409.3 50.2 408.5 50.7 407.7 49.1 406.9 50 406.1 49.6 405.3 50 404.5 50.2 403.7 48.8 402.9 48.9 402.1 48.7 401.3 49.6 400.5 51.6 399.7 49.7 398.9 49.3 398.1 48.9 397.3 50.1 396.5 50.2 395.7 48.8 394.9 50.9 394.1 49.6 393.3 51.1 392.5 50.4 391.7 48.9 390.9 48.7 390.1 49.4 389.3 49.6 388.5 52.6 387.7 49.5 386.9 49.3 386.1 48.9 385.3 48.9 384.5 49.6 383.7 51.7 382.9 48.9 382.1 49.4 381.3 48.6 380.5 50.4 379.7 50.5 378.9 49.8 378.1 49 377.3 49.8 376.5 49.6 375.7 49.4 374.9 49.7 374.1 48.9 373.3 49.9 372.5 50.7 371.7 50.7 370.9 52.2 370.1 51.8 369.3 49.8 368.5 50.1 367.7 49.5 366.9 50.2 366.1 48.3 365.3 49.4 364.5 50.6 363.7 50 362.9 49.8 362.1 49.9 361.3 49.5 360.5 50.7 359.7 50.5 358.9 50.4 358.1 51.6 357.3 49.6 356.5 49.4 355.7 52.5 354.9 49.4 354.1 50.8 353.3 50.6 352.5 52 351.7 50.1 350.9 50.3 350.1 50.8 349.3 48 348.5 49.4 347.7 50.1 346.9 54.2 346.1 49.4 345.3 51.6 344.5 51.7 343.7 49.1 342.9 53.1 342.1 49.8 341.3 50 340.5 50.4 339.7 50.9 338.9 50 338.1 52.5 337.3 52.1 336.5 49.4 335.7 49.2 334.9 51.4 334.1 49.2 333.3 49.7 332.5 49.8 331.7 51.5 330.9 50.6 330.1 49.6 329.3 49.9 328.5 50.6 327.7 48.1 326.9 49.6 326.1 50 325.3 48.9 324.5 48.4 323.7 49.4 322.9 49.7 322.1 51 321.3 50.4 320.5 49.7 319.7 49.4 318.9 50.8 318.1 49.2 317.3 50 316.5 49.8 315.7 49.7 314.9 50.1 314.1 49.3 313.3 49.2 312.5 50.4 311.7 50.1 310.9 49.1 310.1 51.4 309.3 50.8 308.5 49.5 307.7 50.3 306.9 49.9 306.1 49.6 305.3 49.9 304.5 49.3 303.7 50.6 302.9 49.5 302.1 50.3 301.3 49.8 300.5 48.6 299.7 50.9 298.9 49.8 298.1 51.6 297.3 50.6 296.5 49.9 295.7 48.4 294.9 50.2 294.1 49.3 293.3 49.2 292.5 49.1 291.7 48.6 290.9 48.6 290.1 50 289.3 49.5 288.5 49.2 287.7 48.8 286.9 47.9 286.1 49.3 285.3 49.9 284.5 49.2 283.3 49.4Z" fill="#7e2f8e"/>
<path d="M283.3 44.9H452" stroke="#77ac30" stroke-width="1.7"/>
</g>
<rect x="283.3" y="7" width="180.7" height="175.4" fill="none" stroke="#181818" stroke-width="1.7"/>
<path d="M283.3 182.4v-2.6M283.3 7v2.6M322 182.4v-2.6M322 7v2.6M360.7 182.4v-2.6M360.7 7v2.6M399.5 182.4v-2.6M399.5 7v2.6M438.2 182.4v-2.6M438.2 7v2.6M283.3 182.4h2.6M464 182.4h-2.6M283.3 148h2.6M464 148h-2.6M283.3 113.6h2.6M464 113.6h-2.6M283.3 79.2h2.6M464 79.2h-2.6M283.3 44.8h2.6M464 44.8h-2.6M283.3 10.4h2.6M464 10.4h-2.6" stroke="#262626" stroke-width="1.5" fill="none"/>
<g font-size="14" fill="#262626" text-anchor="middle">
<text x="283.3" y="201.7">0</text>
<text x="322" y="201.7">60</text>
<text x="360.7" y="201.7">120</text>
<text x="399.5" y="201.7">180</text>
<text x="438.2" y="201.7">240</text>
</g>
<g font-size="14" fill="#262626" text-anchor="end">
<text x="277.8" y="187.3">3.2</text>
<text x="277.8" y="152.9">3.4</text>
<text x="277.8" y="118.5">3.6</text>
<text x="277.8" y="84.1">3.8</text>
<text x="277.8" y="49.7">4</text>
<text x="277.8" y="15.3">4.2</text>
</g>
<text font-size="16" fill="#262626" text-anchor="middle" x="373.6" y="221.6">Time (min)</text>
<text font-size="10" font-weight="bold" fill="#000" x="246.6" y="9.3">B</text>
<text font-size="14.5" fill="#000" x="290.8" y="177">Cell #03</text>
<clipPath id="clipC"><rect x="521.3" y="7" width="180.7" height="175.4"/></clipPath>
<path d="M560 7V182.4M598.7 7V182.4M637.5 7V182.4M676.2 7V182.4M521.3 148H702M521.3 113.6H702M521.3 79.2H702M521.3 44.8H702M521.3 10.4H702" stroke="#d9d9d9" stroke-width="1.4" fill="none"/>
<g clip-path="url(#clipC)">
<path d="M521.7 177.6 522.6 172 523.2 165.4 523.8 160.4 524.4 155.3 525 151.1 525.6 146.3 526.2 141.9 526.8 140.5 527.4 139.2 528 138.5 528.6 137.7 529.2 137.9 529.8 136.7 530.4 135.2 531 137 531.6 135 532.2 134.9 532.8 135.4 533.4 134.2 534 133.9 534.6 133.5 535.2 133.5 535.8 132.4 536.4 132.8 537 132.2 537.6 131.4 538.2 131.4 538.8 128.6 539.4 129.9 540 131.1 540.6 130.1 541.2 128.7 541.8 127.2 542.4 128.1 543 127 543.6 125.6 544.2 125.1 544.8 125 545.4 123.7 546 124.3 546.6 122.5 547.2 122.2 547.8 122.6 548.4 121.5 549 120.3 549.6 119.4 550.2 116.9 550.8 118.9 551.4 117.7 552 117.8 552.6 116.7 553.2 115.4 553.8 114.9 554.4 114.9 555 113.8 555.6 113.1 556.2 111.9 556.8 110.5 557.4 111.1 558 109.9 558.6 109.5 559.2 109 559.8 107.3 560.4 108 561 106.6 561.6 107 562.2 104.8 562.8 106.1 563.4 105.6 564 103.9 564.6 104.6 565.2 103.4 565.8 103.4 566.4 103 567 103.1 567.6 103.2 568.2 101.9 568.8 101.7 569.4 101.8 570 102.1 570.6 101.9 571.2 101.1 571.8 99.4 572.4 100.5 573 100.2 573.6 99.5 574.2 99.1 574.8 100.3 575.4 98.8 576 98.2 576.6 98.5 577.2 97.4 577.8 97.3 578.4 97.7 579 96.7 579.6 96.3 580.2 96.5 580.8 96 581.4 95.2 582 94.7 582.6 94.5 583.2 93.5 583.8 92.9 584.4 92.3 585 92.9 585.6 92.3 586.2 91.9 586.8 91.9 587.4 91.2 588 90.9 588.6 90 589.2 89.7 589.8 89.6 590.4 89 591 88 591.6 87.8 592.2 87.7 592.8 86.3 593.4 85.1 594 86.8 594.6 85.7 595.2 85.5 595.8 84.4 596.4 84.5 597 83 597.6 82.7 598.2 83.3 598.8 81.8 599.4 80.8 600 81.7 600.6 80.4 601.2 79.5 601.8 79.3 602.4 79.6 603 79 603.6 79.1 604.2 77.3 604.8 77.5 605.4 77.5 606 75.7 606.6 76 607.2 76 607.8 74.6 608.4 74.6 609 74.2 609.6 72.7 610.2 72.6 610.8 72.1 611.4 71.3 612 71 612.6 70.7 613.2 69.8 613.8 69.4 614.4 69.1 615 68.4 615.6 68.7 616.2 66.8 616.8 66.2 617.4 66.7 618 66.7 618.6 64 619.2 65.1 619.8 63.9 620.4 63.3 621 63.8 621.6 62.9 622.2 62.5 622.8 62.4 623.4 60.7 624 59.8 624.6 60.3 625.2 60.8 625.8 58.8 626.4 59 627 58.7 627.6 57.6 628.2 57.8 628.8 57.7 629.4 56.4 630 56.2 630.6 56.5 631.2 54.6 631.8 55.6 632.4 54.6 633 54.8 633.6 53.8 634.2 54.3 634.8 53 635.4 53.1 636 51.1 636.6 52.3 637.2 51.4 637.8 51.1 638.4 50.8 639 50 639.6 50.5 640.2 48.7 640.8 48.2 641.4 47.8 642 47.3 642.6 46.8 643.2 46.5 643.8 46 644.4 46 645 45.2 645.6 43.6 646.2 43.8 646.8 43.1 647.4 42.6 648 41.5 648.6 40.7 649.2 40.4 649.8 39.3 650.4 38 651 38.4 651.6 36.8 652.2 36.8 652.8 36.3 653.4 34.1 654 34.3 654.6 34.5 655.2 33.5 655.8 33.3 656.4 31.6 657 30.4 657.6 30.4 658.2 30.7 658.8 29.4 659.4 28.9 660 28 660.6 27.4 661.2 26.1 661.8 26.8 662.4 25.7 663 25.7 663.6 25 664.2 23.6 664.8 23.5 665.4 21.9 666 22.1 666.6 20.7 667.2 20.8 667.8 20.6 668.4 19.4 669 19.4 669.6 18.3 670.2 18.8 670.8 16.7 671.4 17.5 672 15.9 672.6 16 673.2 14.6 673.8 14.7 674.4 14.8 675 13.5 675.6 12.8 676.2 12.2 676.8 12.4 677.4 10.2 678 9.7 678.6 10.8 679.2 8.6 680 8L680 14.1 679.2 15.3 678.6 16.4 678 15.4 677.4 16.3 676.8 16.6 676.2 17.9 675.6 17.9 675 19.2 674.4 20.6 673.8 21.1 673.2 21.3 672.6 22.5 672 22.3 671.4 22.6 670.8 23.3 670.2 23.8 669.6 25 669 24.7 668.4 24.9 667.8 26.9 667.2 26.3 666.6 26.9 666 28.2 665.4 29.7 664.8 28.4 664.2 29 663.6 29.5 663 30.6 662.4 31.2 661.8 32.6 661.2 32.5 660.6 32.9 660 34 659.4 34.3 658.8 35.4 658.2 35.5 657.6 36.9 657 36.5 656.4 37.5 655.8 38.2 655.2 39.2 654.6 40.1 654 40.2 653.4 41.1 652.8 41.7 652.2 42.7 651.6 42.2 651 42.9 650.4 43.8 649.8 44.9 649.2 45 648.6 46.7 648 47.5 647.4 47.4 646.8 48.3 646.2 49.5 645.6 50.4 645 50.3 644.4 51.4 643.8 52.3 643.2 53 642.6 54 642 53.7 641.4 54.1 640.8 54.7 640.2 54.4 639.6 55.4 639 56.9 638.4 56.4 637.8 56.6 637.2 56.6 636.6 57.7 636 58.1 635.4 58.1 634.8 58.7 634.2 59.8 633.6 59.2 633 60.1 632.4 61 631.8 59.9 631.2 60.6 630.6 61.6 630 62 629.4 61.6 628.8 63 628.2 63.2 627.6 63.7 627 64.1 626.4 65.5 625.8 65.1 625.2 65.7 624.6 65.7 624 68.2 623.4 67.4 622.8 67.5 622.2 68.3 621.6 68.4 621 68.9 620.4 68.5 619.8 69.6 619.2 70.3 618.6 72.2 618 72.4 617.4 71.6 616.8 72.6 616.2 72.7 615.6 72.8 615 75.7 614.4 74.2 613.8 74.4 613.2 75.8 612.6 75.8 612 76.9 611.4 78.7 610.8 77.2 610.2 77.7 609.6 78.8 609 79.4 608.4 80.2 607.8 80 607.2 80.1 606.6 81.3 606 81.7 605.4 82.6 604.8 83.1 604.2 84.6 603.6 84 603 83.9 602.4 84.6 601.8 86.3 601.2 85.1 600.6 86.1 600 86.9 599.4 87.8 598.8 87.5 598.2 87.8 597.6 88.7 597 89.8 596.4 91.3 595.8 90.4 595.2 90.8 594.6 91.5 594 91.1 593.4 91.8 592.8 92.5 592.2 92.7 591.6 93.7 591 93.3 590.4 93.9 589.8 93.9 589.2 94.8 588.6 95 588 94.8 587.4 95.9 586.8 97.4 586.2 96.9 585.6 96.8 585 97.5 584.4 98.7 583.8 98.9 583.2 99.7 582.6 100.1 582 100 581.4 100.5 580.8 100.5 580.2 102.1 579.6 102.9 579 102.8 578.4 102.8 577.8 103.5 577.2 103.3 576.6 104.4 576 103.9 575.4 103.5 574.8 104.3 574.2 104.8 573.6 105.6 573 106.1 572.4 105.7 571.8 106.6 571.2 106.5 570.6 107.5 570 106 569.4 107.3 568.8 108.8 568.2 107.4 567.6 108.4 567 108.1 566.4 108.3 565.8 108.6 565.2 110.2 564.6 109.6 564 110.3 563.4 110.9 562.8 110.8 562.2 111.5 561.6 112.3 561 112.5 560.4 113.4 559.8 113.9 559.2 114.8 558.6 115.5 558 115.7 557.4 117.6 556.8 117.6 556.2 118 555.6 118.7 555 119.1 554.4 120.5 553.8 119.8 553.2 120.7 552.6 120.7 552 122.3 551.4 122.9 550.8 123.8 550.2 124.3 549.6 124.7 549 126.6 548.4 126.3 547.8 127.4 547.2 126.8 546.6 128.9 546 129.8 545.4 130.3 544.8 130.6 544.2 131.2 543.6 131.9 543 132.2 542.4 134.4 541.8 134.3 541.2 134.7 540.6 134.8 540 135 539.4 136.2 538.8 137.1 538.2 137.8 537.6 137.5 537 138.7 536.4 138.3 535.8 138.1 535.2 138.4 534.6 138.5 534 139.9 533.4 140.7 532.8 140.3 532.2 141.2 531.6 141.5 531 141 530.4 142.1 529.8 142.9 529.2 143.7 528.6 143.6 528 145.2 527.4 145.3 526.8 146.4 526.2 148.6 525.6 152.4 525 157.3 524.4 163.1 523.8 168.5 523.2 173.2 522.6 181.1 521.7 184.5Z" fill="#0072bd"/>
<path d="M521.7 182L521.9 181.2 522.1 180.5 522.2 179.7 522.4 178.9 522.5 178.1 522.6 177.3 522.6 176.5 522.7 175.7 522.8 174.9 522.8 174.1 522.9 173.3 523 172.5 523 171.7 523.1 170.9 523.2 170.1 523.2 169.3 523.3 168.5 523.4 167.7 523.5 166.9 523.6 166.1 523.7 165.3 523.8 164.5 523.9 163.7 523.9 163 524 162.2 524.1 161.4 524.2 160.6 524.3 159.8 524.4 159 524.5 158.2 524.6 157.4 524.7 156.6 524.8 155.8 524.9 155 525 154.2 525.1 153.4 525.2 152.6 525.3 151.8 525.4 151 525.5 150.2 525.6 149.5 525.7 148.7 525.9 147.9 526 147 526.1 146.2 526.3 145.5 526.5 144.7 526.7 143.9 526.9 143.2 527.3 142.5 527.7 141.8 528.3 141.2 528.8 140.6 529.3 140 529.9 139.5 530.6 139 531.2 138.5 531.9 138 532.5 137.6 533.2 137.1 533.9 136.7 534.6 136.3 535.3 135.9 536 135.5 536.6 135.1 537.3 134.7 538 134.2 538.6 133.7 539.2 133.2 539.9 132.7 540.5 132.2 541.1 131.7 541.7 131.2 542.3 130.6 542.8 130 543.4 129.5 543.9 128.9 544.5 128.3 545 127.7 545.6 127.1 546.1 126.5 546.6 125.9 547.1 125.3 547.6 124.7 548.2 124.1 548.7 123.5 549.2 122.8 549.7 122.2 550.2 121.6 550.8 121 551.3 120.4 551.8 119.9 552.4 119.3 552.9 118.7 553.5 118.1 554 117.5 554.5 116.9 555.1 116.3 555.6 115.7 556.1 115.1 556.7 114.5 557.2 113.9 557.8 113.4 558.3 112.8 558.9 112.2 559.4 111.6 560 111.1 560.6 110.5 561.2 109.9 561.7 109.3 562.3 108.8 562.9 108.3 563.5 107.8 564.2 107.3 564.8 106.8 565.5 106.4 566.2 106 566.9 105.7 567.6 105.3 568.3 105 569.1 104.6 569.8 104.3 570.5 103.9 571.2 103.6 572 103.3 572.7 102.9 573.4 102.6 574.1 102.2 574.9 101.9 575.6 101.5 576.3 101.1 577 100.7 577.6 100.3 578.3 99.9 579 99.5 579.7 99.1 580.4 98.6 581 98.2 581.7 97.7 582.3 97.2 583 96.8 583.6 96.3 584.2 95.8 584.9 95.3 585.5 94.9 586.2 94.4 586.8 93.9 587.5 93.5 588.1 93 588.8 92.5 589.5 92.1 590.1 91.6 590.8 91.2 591.5 90.8 592.1 90.3 592.8 89.9 593.4 89.4 594.1 88.9 594.7 88.4 595.3 87.9 595.9 87.4 596.5 86.9 597.1 86.4 597.7 85.8 598.3 85.3 598.9 84.8 599.6 84.3 600.2 83.8 600.8 83.3 601.4 82.8 602.1 82.3 602.7 81.8 603.3 81.3 603.9 80.7 604.5 80.2 605.1 79.7 605.8 79.2 606.4 78.7 607 78.2 607.6 77.6 608.2 77.1 608.8 76.6 609.4 76 610 75.5 610.6 75 611.2 74.5 611.8 73.9 612.4 73.4 613 72.9 613.6 72.4 614.2 71.8 614.8 71.3 615.4 70.8 616 70.3 616.6 69.7 617.2 69.2 617.8 68.6 618.4 68.1 619 67.6 619.6 67.1 620.2 66.6 620.9 66.1 621.5 65.6 622.2 65.2 622.9 64.8 623.5 64.3 624.2 63.9 624.8 63.4 625.4 62.9 626.1 62.4 626.7 61.9 627.3 61.4 627.9 60.9 628.6 60.4 629.2 59.9 629.9 59.4 630.5 59 631.2 58.5 631.8 58 632.5 57.6 633.1 57.1 633.8 56.7 634.4 56.2 635.1 55.7 635.8 55.3 636.4 54.9 637.1 54.4 637.7 54 638.4 53.5 639.1 53 639.7 52.6 640.4 52.1 641 51.6 641.7 51.2 642.3 50.7 642.9 50.2 643.5 49.7 644.1 49.1 644.7 48.6 645.2 48 645.7 47.4 646.2 46.8 646.8 46.2 647.3 45.6 647.8 44.9 648.3 44.3 648.8 43.7 649.3 43 649.8 42.4 650.3 41.8 650.8 41.1 651.3 40.5 651.8 39.9 652.4 39.3 652.9 38.8 653.5 38.2 654 37.6 654.5 37 655.1 36.4 655.6 35.8 656.2 35.2 656.7 34.6 657.2 34 657.8 33.4 658.3 32.8 658.8 32.2 659.4 31.7 659.9 31.1 660.4 30.5 661 29.9 661.5 29.3 662.1 28.7 662.6 28.1 663.1 27.5 663.7 26.9 664.2 26.4 664.8 25.8 665.4 25.2 666 24.7 666.6 24.2 667.2 23.6 667.8 23.1 668.4 22.6 669 22 669.6 21.5 670.2 21 670.8 20.4 671.4 19.9 672 19.4 672.6 18.9 673.2 18.3 673.7 17.8 674.3 17.2 674.8 16.6 675.3 16 675.8 15.3 676.3 14.7 676.9 14.1 677.4 13.6 678 13 678.6 12.4 679.1 11.9 679.7 11.3 680 10.8" stroke="#d95319" stroke-width="2" fill="none" stroke-linejoin="round"/>
<path d="M521.3 38.8 522.5 38 523.3 40.8 524.1 40.1 524.9 38.6 525.7 38.2 526.5 39.9 527.3 40.5 528.1 39.8 528.9 39.6 529.7 40 530.5 39.1 531.3 42.1 532.1 40.9 532.9 40.7 533.7 41.1 534.5 40.6 535.3 40.6 536.1 39.8 536.9 41.1 537.7 40.7 538.5 40.7 539.3 40 540.1 40.1 540.9 40.1 541.7 38.4 542.5 38.6 543.3 38.7 544.1 40.1 544.9 38.9 545.7 41 546.5 40.4 547.3 40.3 548.1 40.5 548.9 39.8 549.7 40.6 550.5 39.8 551.3 41.2 552.1 39 552.9 41.1 553.7 39.9 554.5 38.7 555.3 39.9 556.1 40.1 556.9 39.4 557.7 38.9 558.5 39.2 559.3 40.7 560.1 40.8 560.9 39.9 561.7 39.6 562.5 40.1 563.3 40.2 564.1 40.7 564.9 40.7 565.7 40.9 566.5 40.7 567.3 41.2 568.1 41 568.9 40.4 569.7 40.3 570.5 39.6 571.3 41.2 572.1 41.2 572.9 37.2 573.7 40.4 574.5 40.2 575.3 40.8 576.1 39.5 576.9 40.8 577.7 41.6 578.5 38.3 579.3 39.6 580.1 40.6 580.9 39.8 581.7 41.2 582.5 40.6 583.3 40 584.1 38.1 584.9 40.4 585.7 39.1 586.5 40 587.3 40.5 588.1 37.9 588.9 40.1 589.7 40.5 590.5 38.9 591.3 39.2 592.1 39.8 592.9 39.6 593.7 39.7 594.5 41.4 595.3 40.5 596.1 41 596.9 40.4 597.7 39.5 598.5 39.4 599.3 39.3 600.1 40.7 600.9 39.8 601.7 39.5 602.5 40.3 603.3 41.1 604.1 39.6 604.9 39.6 605.7 41.3 606.5 40.5 607.3 39.1 608.1 39.1 608.9 39.4 609.7 40.3 610.5 40.1 611.3 39.1 612.1 39.4 612.9 40.4 613.7 40 614.5 39.7 615.3 39.8 616.1 40.4 616.9 39.7 617.7 40 618.5 40.5 619.3 39.7 620.1 40.4 620.9 39.2 621.7 39.5 622.5 40.6 623.3 38.6 624.1 40.9 624.9 39.4 625.7 39.6 626.5 40.3 627.3 39.4 628.1 39.4 628.9 39.4 629.7 39.9 630.5 38.6 631.3 37.1 632.1 39.5 632.9 39.1 633.7 39.9 634.5 40.2 635.3 40.5 636.1 39.3 636.9 41.3 637.7 39.9 638.5 40.3 639.3 40.7 640.1 39.8 640.9 40.5 641.7 39.6 642.5 40.5 643.3 40.8 644.1 40.6 644.9 39.5 645.7 40.1 646.5 40.8 647.3 38.4 648.1 40.1 648.9 39.9 649.7 40.1 650.5 39.8 651.3 40.5 652.1 40.1 652.9 41.2 653.7 39.8 654.5 40.4 655.3 39 656.1 40.7 656.9 39.8 657.7 41.2 658.5 39.3 659.3 40 660.1 41.5 660.9 40.8 661.7 40.3 662.5 40.1 663.3 41.1 664.1 39.5 664.9 39.7 665.7 39.6 666.5 40.3 667.3 40.2 668.1 37.5 668.9 39.8 669.7 39.8 670.5 40.4 671.3 40.2 672.1 39.3 672.9 39.4 673.7 39.9 674.5 39 675.3 38.5 676.1 40.8 676.9 39.6 677.7 39.4 678.5 39.4 679.3 39.2 680.1 40.9 680.5 41.1L680.5 51.9 680.1 52 679.3 48.6 678.5 49 677.7 50.1 676.9 50.7 676.1 50.6 675.3 50.8 674.5 49.4 673.7 49.2 672.9 48.4 672.1 51.1 671.3 49.4 670.5 50.4 669.7 49.9 668.9 49.9 668.1 49.2 667.3 51 666.5 50.3 665.7 50.1 664.9 49.8 664.1 51.4 663.3 50.3 662.5 49.2 661.7 49 660.9 50.7 660.1 49.5 659.3 49.8 658.5 49 657.7 48.1 656.9 48.8 656.1 49.8 655.3 50 654.5 49.7 653.7 51.7 652.9 49.4 652.1 50.7 651.3 50.7 650.5 49.6 649.7 49.8 648.9 49.4 648.1 49.4 647.3 51.1 646.5 52.2 645.7 50 644.9 49.8 644.1 50.5 643.3 48.4 642.5 50.9 641.7 49.7 640.9 51.3 640.1 48.5 639.3 50.1 638.5 49.8 637.7 50.7 636.9 49.5 636.1 50.2 635.3 50.1 634.5 49.7 633.7 51 632.9 48.8 632.1 51.9 631.3 50.7 630.5 48.6 629.7 50.7 628.9 49.5 628.1 49.4 627.3 49.7 626.5 48.2 625.7 49 624.9 48.8 624.1 50.1 623.3 50.4 622.5 49.7 621.7 49.3 620.9 49.1 620.1 49.2 619.3 49.7 618.5 50.6 617.7 48.9 616.9 51.9 616.1 49.3 615.3 49.4 614.5 50.5 613.7 49.6 612.9 48.9 612.1 47.8 611.3 50.1 610.5 48.7 609.7 49.8 608.9 49.9 608.1 49.7 607.3 49.9 606.5 50.3 605.7 49.8 604.9 51.1 604.1 49.8 603.3 49.9 602.5 49.9 601.7 49.5 600.9 50.4 600.1 50.1 599.3 50.7 598.5 49.4 597.7 51 596.9 48.7 596.1 49.2 595.3 49.7 594.5 51.1 593.7 49.1 592.9 49.6 592.1 51.1 591.3 49.7 590.5 50 589.7 49.6 588.9 48.7 588.1 49.7 587.3 49.9 586.5 49.8 585.7 49.3 584.9 51.3 584.1 49.1 583.3 49.8 582.5 49.6 581.7 51 580.9 51.1 580.1 49.3 579.3 49.3 578.5 48.5 577.7 50.7 576.9 50.5 576.1 50.1 575.3 48.7 574.5 50.4 573.7 49.1 572.9 49.5 572.1 49.1 571.3 50.7 570.5 48.6 569.7 49.7 568.9 49.3 568.1 49.1 567.3 50.4 566.5 51.7 565.7 48.7 564.9 49 564.1 48.4 563.3 50.6 562.5 51 561.7 49.5 560.9 48.8 560.1 51.5 559.3 50.2 558.5 49 557.7 49.3 556.9 49.7 556.1 48.4 555.3 48.6 554.5 49 553.7 50.5 552.9 48.9 552.1 49.7 551.3 50.7 550.5 49.4 549.7 49.7 548.9 49.9 548.1 48.5 547.3 49.8 546.5 48.9 545.7 49.6 544.9 48.4 544.1 49.5 543.3 48.9 542.5 49.4 541.7 48.8 540.9 49.7 540.1 50.2 539.3 49.9 538.5 50.8 537.7 49.7 536.9 49.3 536.1 49 535.3 49.3 534.5 51.4 533.7 49.3 532.9 49.9 532.1 50.2 531.3 50.4 530.5 49.3 529.7 50.8 528.9 50.3 528.1 49.9 527.3 49 526.5 49.5 525.7 49.4 524.9 50.5 524.1 51.6 523.3 49.7 522.5 51 521.3 49.8Z" fill="#7e2f8e"/>
<path d="M521.3 44.9H680.5" stroke="#77ac30" stroke-width="1.7"/>
</g>
<rect x="521.3" y="7" width="180.7" height="175.4" fill="none" stroke="#181818" stroke-width="1.7"/>
<path d="M521.3 182.4v-2.6M521.3 7v2.6M560 182.4v-2.6M560 7v2.6M598.7 182.4v-2.6M598.7 7v2.6M637.5 182.4v-2.6M637.5 7v2.6M676.2 182.4v-2.6M676.2 7v2.6M521.3 182.4h2.6M521.3 148h2.6M521.3 113.6h2.6M521.3 79.2h2.6M521.3 44.8h2.6M521.3 10.4h2.6M702 182.4h-2.6M702 148h-2.6M702 113.6h-2.6M702 79.2h-2.6M702 44.8h-2.6M702 10.4h-2.6" stroke="#262626" stroke-width="1.5" fill="none"/>
<g font-size="14" fill="#262626" text-anchor="middle">
<text x="521.3" y="201.7">0</text>
<text x="560" y="201.7">60</text>
<text x="598.7" y="201.7">120</text>
<text x="637.5" y="201.7">180</text>
<text x="676.2" y="201.7">240</text>
</g>
<g font-size="14" fill="#262626" text-anchor="end">
<text x="515.8" y="187.3">3.2</text>
<text x="515.8" y="152.9">3.4</text>
<text x="515.8" y="118.5">3.6</text>
<text x="515.8" y="84.1">3.8</text>
<text x="515.8" y="49.7">4</text>
<text x="515.8" y="15.3">4.2</text>
</g>
<g font-size="14" fill="#262626" text-anchor="start">
<text x="706.5" y="187.9">0.1</text>
<text x="706.5" y="153.5">0.2</text>
<text x="706.5" y="119.1">0.3</text>
<text x="706.5" y="84.7">0.4</text>
<text x="706.5" y="50.3">0.5</text>
<text x="706.5" y="15.9">0.6</text>
</g>
<text font-size="16" fill="#262626" text-anchor="middle" transform="translate(745,94.5) rotate(-90)">Current (A)</text>
<text font-size="16" fill="#262626" text-anchor="middle" x="611.6" y="221.6">Time (min)</text>
<text font-size="10" font-weight="bold" fill="#000" x="486.4" y="9.3">C</text>
<text font-size="14.5" fill="#000" x="528.8" y="177">Cell #04</text>
<clipPath id="clipD"><rect x="44.8" y="250.3" width="181.2" height="175.2"/></clipPath>
<path d="M89 250.3V425.5M133.2 250.3V425.5M177.4 250.3V425.5M221.6 250.3V425.5M44.8 393.6H226M44.8 361.8H226M44.8 329.9H226M44.8 298.1H226M44.8 266.2H226" stroke="#d9d9d9" stroke-width="1.4" fill="none"/>
<g clip-path="url(#clipD)">
<path d="M50.2 393.3 50.6 389.5 51 385.6 51.4 381.6 51.8 377.4 52.2 372.7 52.6 367.3 53 361.3 53.4 354 53.8 345.4 54.2 336.4 54.6 327.4 55 318.2 55.4 310.1 55.8 302 56.2 299.6 56.6 299.6 57 299.6 57.4 299.6 57.8 299.6 58.2 299.6 58.6 299.6 59 299.6 59.4 299.6 59.8 300.8 60.2 302.2 60.6 303.8 61 305.5 61.4 307.5 61.8 309.7 62.2 311.6 62.6 313.3 63 315.1 63.4 316.7 63.8 318.3 64.2 319.9 64.6 321.5 65 323.1 65.4 324.6 65.8 326.1 66.2 327.6 66.6 329 67 330.5 67.4 331.9 67.8 333.3 68.2 334.6 68.6 335.9 69 337.2 69.4 338.3 69.8 339.4 70.2 340.4 70.6 341.4 71 342.3 71.4 343.2 71.8 344.1 72.2 344.9 72.6 345.7 73 346.5 73.4 347.3 73.8 348 74.2 348.7 74.6 349.4 75 350.2 75.4 350.8 75.8 351.4 76.2 351.9 76.6 352.3 77 352.7 77.4 353.1 77.8 353.3 78.2 353.6 78.6 353.9 79 354.1 79.4 354.3 79.8 354.3 80.2 353.9 80.6 353.4 81 352.9 81.4 352.3 81.8 351.8 82.2 351.1 82.6 350.3 83 349.4 83.4 348.2 83.8 347 84.2 345.6 84.6 343.9 85 342.2 85.4 340.4 85.8 338.5 86.2 336.4 86.6 334.1 87 331.6 87.4 328.8 87.8 325.9 88.2 322.8 88.6 319.5 89 315.9 89.4 312.1 89.8 307.9 90.2 303.3 90.6 298.2 91 292.5 91.4 286.5 91.8 280.5 92.2 274.6 92.6 268.3 93 262 93.4 256.2 93.8 251.3 94.2 248.3 94.6 248.3 95 248.3 95.4 248.3 95.8 248.3 96.2 248.3 96.6 248.3 97 248.3 97.4 248.3 97.8 248.3 98.2 248.3 98.6 248.3 99 248.3 99.4 248.3 99.8 248.3 100.2 248.3 100.6 248.3 101 248.3 101.4 248.3 101.8 248.3 102.2 248.3 102.6 248.3 103 248.3 103.4 248.3 103.8 248.3 104.2 248.3 104.6 248.3 105 250.4 105.4 252.6 105.8 254.6 106.2 256.5 106.6 258.5 107 260.4 107.4 262.3 107.8 264.1 108.2 266 108.6 267.9 109 269.8 109.4 271.8 109.8 273.7 110.2 275.7 110.6 277.5 111 278.8 111.4 280.1 111.8 281.3 112.2 282.6 112.6 283.8 113 285 113.4 286.2 113.8 287.4 114.2 288.5 114.6 289.6 115 290.8 115.4 291.9 115.8 293 116.2 294.1 116.6 295.1 117 296.2 117.4 297.2 117.8 298.3 118.2 299.3 118.6 300.3 119 301.3 119.4 302.3 119.8 303.3 120.2 304.3 120.6 305.3 121 306.3 121.4 307.3 121.8 308.3 122.2 309.2 122.6 310.1 123 310.9 123.4 311.8 123.8 312.5 124.2 313.3 124.6 314 125 314.7 125.4 315.4 125.8 316.1 126.2 316.8 126.6 317.5 127 318.1 127.4 318.8 127.8 319.4 128.2 320 128.6 320.7 129 321.3 129.4 321.9 129.8 322.5 130.2 323.1 130.6 323.7 131 324.3 131.4 324.9 131.8 325.4 132.2 326 132.6 326.6 133 327.1 133.4 327.6 133.8 328.2 134.2 328.7 134.6 329.2 135 329.7 135.4 330.2 135.8 330.7 136.2 331.1 136.6 331.6 137 332.1 137.4 332.5 137.8 333 138.2 333.5 138.6 334 139 334.5 139.4 335 139.8 335.6 140.2 336.2 140.6 336.8 141 337.3 141.4 337.8 141.8 338.3 142.2 338.7 142.6 339 143 339.3 143.4 339.5 143.8 339.8 144.2 340 144.6 340.3 145 340.3 145.4 339.8 145.8 339.4 146.2 338.9 146.6 338.3 147 337.7 147.4 337.2 147.8 336.5 148.2 335.6 148.6 334.6 149 333.5 149.4 332.3 149.8 331.1 150.2 329.8 150.6 328.5 151 327.3 151.4 326.1 151.8 324.9 152.2 323.9 152.6 322.8 153 321.8 153.4 320.7 153.8 319.6 154.2 318.6 154.6 317.6 155 316.6 155.4 315.7 155.8 314.8 156.2 314 156.6 313.2 157 312.4 157.4 311.6 157.8 310.8 158.2 310.1 158.6 309.3 159 308.6 159.4 307.9 159.8 307.3 160.2 306.8 160.6 306.3 161 306 161.4 305.8 161.8 305.8 162.2 305.8 162.6 305.8 163 305.8 163.4 305.8 163.8 305.8 164.2 305.8 164.6 305.8 165 305.9 165.4 306.2 165.8 306.5 166.2 306.8 166.6 307.1 167 307.5 167.4 307.9 167.8 308.3 168.2 308.7 168.6 309.1 169 309.5 169.4 310 169.8 310.5 170.2 311 170.6 311.6 171 312.2 171.4 312.8 171.8 313.5 172.2 314.2 172.6 314.9 173 315.6 173.4 316.3 173.8 317.1 174.2 317.8 174.6 318.6 175 319.3 175.4 320.1 175.8 321 176.2 321.8 176.6 322.7 177 323.6 177.4 324.5 177.8 325.4 178.2 326.3 178.6 327.1 179 328 179.4 328.9 179.8 329.7 180.2 330.6 180.6 331.5 181 332.4 181.4 333.3 181.8 334.2 182.2 335 182.6 335.8 183 336.6 183.4 337.3 183.8 337.9 184.2 338.6 184.6 339.2 185 339.9 185.4 340.5 185.8 341.1 186.2 341.6 186.6 342.2 187 342.7 187.4 343.2 187.8 343.7 188.2 344.1 188.6 344.5 189 344.9 189.4 345.3 189.8 345.6 190.2 346 190.6 346.3 191 346.6 191.4 346.9 191.8 347.2 192.2 347.4 192.6 347.5 193 347.6 193.4 347.8 193.8 347.9 194.2 348 194.6 348.1 195 348.2 195.4 347.9 195.8 347.5 196.2 347.1 196.6 346.6 197 346 197.4 345.4 197.8 344.8 198.2 344.2 198.6 343.6 199 343 199.4 342.3 199.8 341.6 200.2 340.8 200.6 339.9 201 339.1 201.4 338.2 201.8 337.2 202.2 336.3 202.6 335.4 203 334.5 203.4 333.6 203.8 332.7 204.2 331.8 204.6 330.9 205 330 205.4 329 205.8 328.2 206.2 327.4 206.6 326.8 207 326.3 207.4 325.8 207.8 325.4 208.2 325 208.6 324.6 209 324.3 209.4 324.1 209.8 324.1 210.2 324.1 210.6 324.1 211 324.1 211.4 324.1 211.8 324.1 212.2 324.1 212.6 324.1 213 324.1 213.4 324.3 213.8 324.7 214.2 325.2 214.6 325.7 215 326.2 215.4 326.8 215.8 327.4 216.2 328.1 216.6 328.9 217 329.7 217.4 330.7 217.8 331.6 218.2 332.6 218.6 333.6 219 334.6 219.4 335.6 219.8 336.6 220.2 337.7L220.2 362.5 219.8 362.5 219.4 362.5 219 362.5 218.6 362.5 218.2 361.7 217.8 360.9 217.4 360.2 217 359.5 216.6 358.8 216.2 358.1 215.8 357.5 215.4 356.9 215 356.2 214.6 355.6 214.2 355 213.8 354.5 213.4 354 213 353.5 212.6 353.1 212.2 352.8 211.8 352.5 211.4 352.3 211 352 210.6 352 210.2 352.1 209.8 352.3 209.4 352.6 209 353 208.6 353.5 208.2 354 207.8 354.5 207.4 355.1 207 355.6 206.6 356 206.2 356.5 205.8 357.1 205.4 357.6 205 358.2 204.6 358.7 204.2 359.2 203.8 359.8 203.4 360.3 203 360.7 202.6 361.1 202.2 361.5 201.8 361.8 201.4 362.1 201 362.4 200.6 362.8 200.2 363.1 199.8 363.4 199.4 363.6 199 363.8 198.6 364 198.2 364.1 197.8 364.1 197.4 364.1 197 364.1 196.6 364.1 196.2 364.1 195.8 364.1 195.4 364.1 195 364.1 194.6 364.1 194.2 364.1 193.8 364.1 193.4 364.1 193 364.1 192.6 364.1 192.2 364.1 191.8 364.1 191.4 364 191 364 190.6 363.9 190.2 363.9 189.8 363.8 189.4 363.8 189 363.7 188.6 363.6 188.2 363.4 187.8 363.3 187.4 363.1 187 362.8 186.6 362.6 186.2 362.3 185.8 362.1 185.4 361.8 185 361.6 184.6 361.3 184.2 360.9 183.8 360.6 183.4 360.2 183 359.8 182.6 359.4 182.2 359 181.8 358.6 181.4 358.1 181 357.7 180.6 357.2 180.2 356.7 179.8 356.2 179.4 355.7 179 355.1 178.6 354.5 178.2 353.9 177.8 353.2 177.4 352.6 177 351.9 176.6 351.3 176.2 350.7 175.8 350.1 175.4 349.6 175 349.1 174.6 348.6 174.2 348.1 173.8 347.6 173.4 347.2 173 346.7 172.6 346.2 172.2 345.8 171.8 345.4 171.4 345 171 344.7 170.6 344.3 170.2 344 169.8 343.7 169.4 343.3 169 343 168.6 342.7 168.2 342.4 167.8 342.2 167.4 341.9 167 341.7 166.6 341.6 166.2 341.4 165.8 341.3 165.4 341.2 165 341.1 164.6 341.1 164.2 341 163.8 341 163.4 341 163 341.1 162.6 341.3 162.2 341.6 161.8 341.9 161.4 342.2 161 342.5 160.6 342.9 160.2 343.2 159.8 343.5 159.4 343.9 159 344.3 158.6 344.7 158.2 345.1 157.8 345.6 157.4 346.2 157 346.7 156.6 347.3 156.2 347.9 155.8 348.4 155.4 349 155 349.6 154.6 350.2 154.2 351 153.8 351.7 153.4 352.5 153 353.3 152.6 354 152.2 354.7 151.8 355.4 151.4 356 151 356.4 150.6 356.8 150.2 357 149.8 357.3 149.4 357.5 149 357.8 148.6 357.9 148.2 358.1 147.8 358.2 147.4 358.2 147 358.2 146.6 358.2 146.2 358.2 145.8 358.2 145.4 358.2 145 358.2 144.6 358.2 144.2 358.2 143.8 358.2 143.4 358.2 143 358.2 142.6 358.1 142.2 358.1 141.8 358 141.4 357.9 141 357.8 140.6 357.7 140.2 357.5 139.8 357.4 139.4 357.2 139 357.1 138.6 356.8 138.2 356.5 137.8 356.2 137.4 355.8 137 355.4 136.6 355.1 136.2 354.7 135.8 354.3 135.4 354 135 353.7 134.6 353.4 134.2 353.1 133.8 352.8 133.4 352.5 133 352.2 132.6 351.9 132.2 351.6 131.8 351.3 131.4 351 131 350.7 130.6 350.4 130.2 350 129.8 349.7 129.4 349.3 129 349 128.6 348.6 128.2 348.3 127.8 347.9 127.4 347.5 127 347.1 126.6 346.8 126.2 346.4 125.8 346 125.4 345.6 125 345.2 124.6 344.8 124.2 344.4 123.8 344 123.4 343.5 123 343.1 122.6 342.6 122.2 342.2 121.8 341.7 121.4 341.2 121 340.7 120.6 340.1 120.2 339.6 119.8 339 119.4 338.4 119 337.7 118.6 337.1 118.2 336.4 117.8 335.7 117.4 335 117 334.3 116.6 333.5 116.2 332.8 115.8 332.1 115.4 331.4 115 330.7 114.6 329.9 114.2 329.2 113.8 328.5 113.4 327.8 113 327.1 112.6 326.3 112.2 325.6 111.8 324.9 111.4 324.1 111 323.4 110.6 322.6 110.2 321.8 109.8 321.1 109.4 320.3 109 319.5 108.6 318.6 108.2 317.8 107.8 316.9 107.4 316.1 107 315.5 106.6 315 106.2 314.6 105.8 314.2 105.4 313.8 105 313.5 104.6 313.2 104.2 312.9 103.8 312.6 103.4 312.3 103 312 102.6 311.8 102.2 311.5 101.8 311.9 101.4 312.3 101 312.9 100.6 313.7 100.2 313.8 99.8 313.8 99.4 314 99 314.1 98.6 314.5 98.2 315 97.8 315.8 97.4 316.8 97 318 96.6 319.9 96.2 322.3 95.8 325.1 95.4 328 95 330.8 94.6 333.8 94.2 336.9 93.8 339.9 93.4 342.6 93 344.8 92.6 347 92.2 348.9 91.8 350.7 91.4 352.3 91 353.8 90.6 355.3 90.2 356.6 89.8 357.9 89.4 359 89 359.9 88.6 360.7 88.2 361.4 87.8 362.2 87.4 362.9 87 363.6 86.6 364.2 86.2 364.8 85.8 365.2 85.4 365.5 85 365.7 84.6 365.9 84.2 366 83.8 366.1 83.4 366.1 83 366.2 82.6 366.2 82.2 366.2 81.8 366.2 81.4 366.2 81 366.2 80.6 366.2 80.2 366.2 79.8 366.2 79.4 366.1 79 366.1 78.6 365.9 78.2 365.9 77.8 365.9 77.4 365.8 77 365.7 76.6 365.6 76.2 365.5 75.8 365.4 75.4 365.2 75 365.1 74.6 364.9 74.2 364.7 73.8 364.5 73.4 364.2 73 363.9 72.6 363.5 72.2 363.1 71.8 362.7 71.4 362.2 71 361.8 70.6 361.4 70.2 361 69.8 360.5 69.4 360.1 69 359.6 68.6 359.1 68.2 358.6 67.8 358 67.4 357.4 67 356.8 66.6 356.2 66.2 355.5 65.8 354.8 65.4 354 65 353.2 64.6 352.3 64.2 351.4 63.8 350.5 63.4 349.5 63 348.6 62.6 347.7 62.2 346.7 61.8 345.7 61.4 344.7 61 343.7 60.6 342.7 60.2 341.7 59.8 340.7 59.4 339.6 59 339.7 58.6 344.2 58.2 348.9 57.8 354.6 57.4 360.3 57 366.1 56.6 371.8 56.2 376.6 55.8 380.6 55.4 384.2 55 387.7 54.6 391 54.2 394.2 53.8 397.2 53.4 400.2 53 403.1 52.6 405.8 52.2 408.4 51.8 410.8 51.4 410.8 51 410.8 50.6 410.8 50.2 410.8Z" fill="#0072bd"/>
<path d="M50.2 409L50.3 408.2 50.4 407.4 50.5 406.6 50.7 405.8 50.8 405 50.9 404.2 51 403.5 51.1 402.7 51.2 401.9 51.3 401.1 51.4 400.3 51.5 399.5 51.6 398.7 51.7 397.9 51.8 397.1 51.9 396.3 52 395.5 52.1 394.7 52.2 393.9 52.3 393.1 52.4 392.3 52.5 391.5 52.6 390.8 52.6 390 52.7 389.2 52.8 388.4 52.9 387.6 53 386.8 53.1 386 53.2 385.2 53.3 384.4 53.3 383.6 53.4 382.8 53.5 382 53.6 381.2 53.7 380.4 53.8 379.6 53.8 378.8 53.9 378 54 377.2 54.1 376.4 54.1 375.6 54.2 374.8 54.3 374 54.3 373.2 54.4 372.4 54.5 371.6 54.5 370.8 54.6 370.1 54.7 369.3 54.7 368.5 54.8 367.7 54.8 366.9 54.9 366.1 54.9 365.3 55 364.5 55 363.7 55.1 362.9 55.1 362.1 55.2 361.3 55.2 360.5 55.3 359.7 55.3 358.9 55.4 358.1 55.4 357.3 55.4 356.5 55.5 355.7 55.5 354.9 55.6 354.1 55.6 353.3 55.7 352.5 55.7 351.7 55.8 350.9 55.8 350.1 55.9 349.3 55.9 348.5 55.9 347.7 56 346.9 56 346.1 56.1 345.3 56.1 344.5 56.2 343.7 56.2 342.9 56.3 342.1 56.3 341.3 56.3 340.5 56.4 339.7 56.4 338.9 56.5 338.1 56.5 337.3 56.6 336.5 56.6 335.7 56.7 334.9 56.7 334.1 56.8 333.3 56.8 332.5 56.9 331.7 57 330.9 57 330.1 57.1 329.3 57.2 328.5 57.2 327.7 57.3 326.9 57.4 326.1 57.4 325.3 57.5 324.5 57.6 323.8 57.7 323 57.7 322.2 57.8 321.5" stroke="#0072bd" stroke-width="5.5" stroke-linecap="round" fill="none"/>
<path transform="scale(0.1)" d="M492 4046V4081M511 4054V4083M498 4059V4063M482 4059V4088M527 4029V4071M496 4012V4065M504 4093V4069M519 3978V4042M520 4023V3980M510 4015V3976M532 3838V3912M540 3935V3857M536 3923V3893M529 3644V3677M531 3627V3792M553 3502V3607M551 3357V3555M529 3373V3591M563 3580V3458M564 3520V3304M572 3534V3310M580 3530V3341M588 3464V3376M581 2922V3202M594 3420V3343M583 2931V3226M592 2951V3228M592 2929V3287M602 2950V3221M600 2993V3240M596 3452V3203M592 3404V3337M612 3415V3187M619 3036V3325M628 3452V3313M613 3032V3259M608 3070V3317M615 3447V3384M608 3442V3294M620 3476V3315M627 3111V3256M612 3497V3371M621 3128V3319M618 3155V3322M628 3114V3314M616 3060V3297M633 3527V3315M640 3489V3346M634 3508V3403M639 3135V3412M658 3501V3331M644 3206V3332M632 3251V3406M653 3529V3398M640 3535V3351M659 3593V3448M668 3327V3489M672 3567V3404M668 3573V3462M678 3624V3478M685 3363V3523M675 3591V3496M679 3361V3494M690 3333V3509M698 3383V3500M682 3357V3519M718 3616V3504M702 3402V3504M701 3620V3516M711 3390V3547M724 3618V3539M718 3619V3537M715 3419V3560M717 3643V3513M734 3395V3521M715 3436V3555M706 3445V3550M734 3437V3529M719 3471V3539M722 3661V3523M736 3467V3558M734 3480V3565M743 3657V3570M740 3662V3595M736 3667V3611M757 3669V3567M752 3689V3571M765 3508V3639M764 3668V3622M769 3505V3599M778 3491V3580M780 3671V3584M781 3674V3607M799 3672V3602M792 3675V3582M805 3505V3609M802 3671V3613M793 3672V3626M822 3493V3589M809 3674V3615M835 3680V3563M817 3675V3588M829 3449V3591M830 3678V3609M826 3676V3607M833 3719V3632M843 3423V3567M841 3454V3633M834 3688V3573M845 3673V3516M853 3450V3531M832 3407V3633M835 3446V3547M866 3656V3603M852 3667V3539M880 3346V3542M899 3611V3472M869 3279V3409M879 3600V3443M883 3190V3426M889 3200V3381M897 2916V3355M912 3557V3402M913 3519V3297M911 3496V3319M913 2936V3331M939 2883V3295M914 3513V3346M907 2814V3224M934 3388V3081M947 3391V3090M942 2753V3244M937 2582V3063M933 2677V3118M942 2538V3178M955 3388V2966M912 3405V2937M952 3334V3210M945 2548V3026M926 3311V2966M960 3305V2908M961 3283V3076M944 3289V2729M960 3268V2901M928 3263V3007M967 3278V2939M940 3281V2973M952 3357V3166M962 3332V3160M969 3226V3080M959 3289V2905M985 3285V2626M978 3213V3097M964 3230V2832M991 3266V2643M987 3241V2935M997 3204V2797M998 3208V2496M986 3227V2844M985 3234V2723M1002 3196V2970M996 3209V2812M1013 3197V2822M1004 3336V2772M990 3227V2901M1005 3245V3021M1017 3169V2827M1011 3212V2762M1025 3214V2754M1009 3181V2961M1015 3199V3000M1037 3172V2942M1030 3232V2709M1028 3267V3092M1018 3262V2941M1048 3220V2763M1041 3231V2858M1026 3228V2858M1037 3204V2931M1053 3179V2766M1045 3234V2828M1039 3189V3049M1052 3252V2950M1061 3184V2729M1060 3172V2894M1041 3367V3000M1062 3239V2788M1054 2562V2793M1065 2571V2956M1063 3199V2966M1076 2503V2895M1074 2538V2999M1076 2627V2979M1080 2629V3134M1085 3241V3024M1090 3275V2928M1084 3203V2943M1066 2647V2883M1088 2635V3088M1076 2668V2918M1081 2691V3064M1117 3223V2735M1104 3229V2994M1088 2648V3049M1094 3276V3148M1099 3291V2960M1112 3265V2961M1118 2503V3007M1114 2715V3087M1115 2760V3110M1121 2673V2996M1122 2749V3024M1138 3304V3017M1134 2790V3142M1126 2746V3094M1140 3330V3049M1128 3305V3190M1161 3320V3168M1148 2682V3112M1135 2881V3197M1143 3329V3099M1146 2887V3086M1170 3343V2980M1159 3333V3082M1153 3330V3083M1151 3388V3230M1179 3353V3219M1166 3400V3117M1178 2902V3151M1178 2818V3288M1154 2923V3236M1187 2929V3221M1191 2890V3150M1169 3379V3096M1164 2886V3238M1163 2944V3215M1186 3367V3242M1185 3410V3259M1170 3405V3175M1203 2963V3189M1169 3368V3201M1198 2951V3029M1192 3394V3323M1204 3420V3206M1183 3379V3256M1182 3408V3135M1203 3382V3237M1187 2953V3261M1190 2997V3078M1168 3393V3312M1189 2932V3213M1205 2833V3332M1197 2961V3264M1190 2930V3242M1187 2931V3223M1207 3428V3250M1204 3019V3293M1201 3408V3227M1213 2963V3223M1214 3047V3241M1207 3046V3325M1235 3438V3239M1233 3432V3287M1231 3001V3334M1235 3457V3363M1248 3446V3275M1231 3048V3394M1223 3081V3213M1227 3080V3257M1247 2988V3327M1261 3452V3365M1241 3094V3232M1233 3050V3255M1247 3072V3309M1251 3473V3203M1242 3467V3308M1240 3071V3378M1248 3462V3343M1249 3117V3360M1261 3478V3396M1258 3138V3333M1273 3530V3391M1272 3491V3254M1270 3485V3380M1260 3091V3294M1286 3011V3350M1264 3496V3361M1285 3160V3364M1284 3488V3374M1281 3069V3356M1273 3133V3270M1289 3513V3352M1290 3099V3350M1295 3559V3281M1294 3104V3333M1320 3194V3283M1296 3506V3389M1306 3045V3405M1295 3197V3416M1287 3518V3334M1315 3532V3396M1319 3542V3491M1324 3176V3420M1308 3553V3390M1340 3237V3385M1333 3543V3447M1336 3204V3462M1360 3545V3406M1334 3554V3405M1342 3552V3395M1339 3225V3502M1338 3207V3451M1343 3562V3495M1366 3229V3402M1351 3194V3478M1368 3560V3436M1363 3578V3452M1363 3258V3428M1358 3248V3406M1386 3576V3452M1382 3299V3488M1378 3590V3445M1389 3581V3420M1401 3585V3457M1379 3583V3501M1407 3310V3513M1405 3610V3563M1405 3342V3515M1406 3310V3570M1410 3323V3460M1421 3285V3489M1421 3343V3494M1414 3351V3564M1427 3654V3481M1432 3281V3460M1446 3603V3523M1446 3380V3493M1454 3601V3543M1458 3371V3520M1442 3235V3492M1454 3650V3466M1469 3628V3563M1458 3607V3474M1459 3372V3528M1470 3605V3504M1468 3357V3469M1465 3344V3455M1450 3632V3498M1469 3341V3522M1473 3350V3535M1471 3341V3556M1496 3644V3499M1492 3266V3572M1498 3597V3503M1483 3282V3505M1515 3587V3486M1518 3588V3505M1502 3253V3455M1508 3606V3456M1480 3277V3367M1497 3257V3358M1526 3571V3302M1500 3571V3406M1522 3548V3422M1543 3530V3326M1534 3562V3398M1533 3572V3407M1525 3508V3313M1550 3504V3418M1560 3145V3409M1542 3516V3400M1559 3076V3317M1584 3492V3305M1554 3011V3348M1563 3104V3383M1581 3497V3334M1564 3488V3425M1563 3060V3280M1560 3066V3251M1577 3092V3280M1606 2978V3211M1576 2950V3366M1583 3074V3221M1579 3064V3286M1599 3496V3287M1583 3036V3308M1573 3479V3264M1618 3010V3367M1577 3487V3318M1601 2956V3207M1593 3456V3246M1593 3002V3190M1606 2987V3233M1602 3457V3344M1600 2857V3334M1602 2863V3287M1605 3490V3152M1624 3008V3209M1626 2851V3261M1629 2971V3366M1624 3452V3191M1625 2892V3228M1618 2913V3345M1625 3446V3244M1639 2917V3236M1641 2984V3336M1626 3477V3170M1631 2912V3179M1642 3503V3328M1626 3450V3331M1635 3451V3291M1626 2993V3126M1645 2995V3190M1644 3491V3232M1669 3006V3326M1658 3461V3313M1647 3442V3317M1678 3456V3282M1651 3449V3276M1668 3004V3192M1671 3447V3219M1665 3496V3325M1663 3474V3108M1655 3489V3286M1681 3486V3266M1657 2964V3265M1658 3448V3350M1675 3021V3185M1661 3477V3381M1667 3451V3350M1668 2952V3353M1670 3010V3249M1703 3464V3339M1677 3007V3191M1670 3535V3316M1689 3489V3317M1689 3044V3282M1707 3493V3325M1715 3028V3311M1700 3468V3411M1710 2974V3370M1703 3069V3264M1722 3474V3309M1721 3095V3352M1735 3124V3233M1753 2949V3357M1737 3106V3271M1743 3043V3354M1738 3503V3363M1748 3018V3416M1750 3167V3357M1737 3156V3345M1769 3194V3283M1753 3549V3395M1767 3209V3334M1765 3205V3385M1772 3534V3310M1767 3540V3289M1766 3210V3333M1757 3545V3257M1765 3558V3392M1794 3560V3438M1781 3573V3447M1781 3574V3394M1795 3259V3456M1793 3229V3419M1789 3547V3334M1785 3565V3394M1796 3567V3415M1791 3287V3432M1802 3300V3470M1798 3239V3372M1795 3591V3423M1829 3315V3502M1826 3609V3455M1829 3294V3557M1823 3321V3529M1803 3595V3540M1816 3615V3542M1846 3354V3457M1826 3370V3523M1858 3367V3542M1844 3382V3520M1858 3252V3514M1856 3382V3533M1876 3633V3552M1875 3646V3581M1864 3658V3523M1895 3682V3589M1884 3419V3566M1892 3678V3565M1884 3369V3531M1887 3662V3571M1889 3371V3499M1895 3655V3528M1902 3421V3595M1906 3657V3539M1916 3434V3554M1923 3421V3628M1898 3435V3539M1922 3410V3610M1905 3379V3503M1923 3447V3598M1933 3660V3593M1939 3671V3568M1920 3430V3563M1933 3447V3547M1951 3453V3611M1952 3664V3532M1937 3659V3588M1950 3660V3560M1941 3437V3549M1937 3679V3623M1935 3665V3618M1967 3660V3631M1948 3686V3614M1964 3674V3559M1956 3358V3590M1969 3675V3548M1976 3373V3573M1988 3655V3573M1982 3371V3595M2021 3385V3536M1993 3353V3567M2024 3327V3560M2010 3296V3505M2017 3380V3499M2010 3644V3560M2026 3632V3466M2042 3324V3509M2036 3309V3515M2035 3613V3502M2035 3317V3475M2055 3596V3348M2044 3612V3442M2046 3584V3436M2048 3279V3514M2068 3268V3476M2063 3182V3423M2071 3140V3390M2086 3158V3388M2068 3568V3400M2059 3598V3338M2087 3579V3366M2073 3588V3501M2092 3175V3417M2089 3104V3445M2087 3590V3339M2079 3566V3449M2097 3554V3427M2105 3103V3445M2080 3201V3446M2099 3549V3253M2092 3162V3416M2095 3550V3391M2108 3551V3417M2121 3178V3362M2094 3597V3433M2097 3566V3389M2114 3551V3326M2120 3584V3420M2134 3167V3482M2119 3101V3378M2124 3564V3250M2107 3548V3451M2125 3594V3468M2129 3562V3435M2114 3167V3456M2128 3558V3401M2126 3578V3413M2129 3570V3330M2129 3143V3300M2161 3649V3388M2178 3576V3351M2145 3179V3362M2145 3109V3390M2183 3238V3518M2157 3607V3507M2176 3607V3470M2190 3637V3527M2167 3622V3466M2177 3625V3542M2197 3639V3556" stroke="#0072bd" stroke-opacity="0.3" stroke-width="6" fill="none"/>
<path transform="scale(0.1)" d="M474 4059h17M483 4125h17M484 4046h17M484 4058h17M484 4002h17M488 4012h17M489 4059h17M490 4106h17M492 4031h17M493 4005h17M493 4085h17M494 4039h17M496 4093h17M497 3839h17M498 3938h17M499 3949h17M499 4035h17M500 3764h17M502 3971h17M502 4015h17M502 3976h17M502 4109h17M503 4029h17M503 4054h17M503 4115h17M503 4109h17M505 4039h17M505 3996h17M506 4068h17M507 4038h17M507 3971h17M509 3938h17M510 3978h17M511 3860h17M511 3896h17M511 4023h17M512 4007h17M512 3946h17M513 3944h17M513 3938h17M513 4034h17M513 3965h17M514 3941h17M517 3750h17M517 3800h17M518 3915h17M519 4029h17M519 3857h17M520 3849h17M520 3644h17M520 3373h17M520 3799h17M522 3837h17M523 3627h17M523 3838h17M524 3822h17M524 3406h17M525 3845h17M525 3909h17M525 3733h17M526 3948h17M526 3982h17M527 3977h17M528 3923h17M528 3908h17M528 3532h17M529 3659h17M529 3774h17M530 3779h17M530 3572h17M531 3977h17M531 3935h17M533 3716h17M535 3931h17M536 3841h17M537 3721h17M537 3820h17M538 3442h17M539 3569h17M539 3768h17M540 3837h17M543 3357h17M543 3607h17M543 3668h17M543 3778h17M544 3356h17M544 3463h17M544 3502h17M545 3273h17M546 3177h17M546 3883h17M547 3774h17M547 3718h17M547 3814h17M547 3562h17M549 3509h17M549 3176h17M550 3736h17M551 3479h17M551 3108h17M552 3374h17M553 3117h17M553 3142h17M555 2994h17M555 3580h17M555 3352h17M555 3520h17M556 2766h17M557 3479h17M558 3140h17M558 3435h17M559 2988h17M560 2831h17M560 3044h17M561 3106h17M561 3279h17M562 3187h17M563 3663h17M563 3446h17M563 3103h17M564 3366h17M564 3534h17M564 3508h17M564 3544h17M565 2927h17M567 3201h17M568 3401h17M568 2950h17M568 3407h17M568 2996h17M569 3469h17M569 3026h17M570 3388h17M570 3143h17M570 3550h17M570 2884h17M570 2969h17M570 3376h17M571 3364h17M571 3384h17M571 3367h17M571 3530h17M571 3007h17M572 3029h17M572 3390h17M572 3353h17M572 2922h17M574 3530h17M575 2931h17M575 3409h17M575 3013h17M577 3052h17M577 2952h17M577 2999h17M577 3617h17M577 2790h17M578 2990h17M578 3025h17M578 3412h17M578 3044h17M579 3364h17M579 3464h17M579 3356h17M580 3361h17M581 2875h17M581 3410h17M582 3375h17M582 3023h17M583 3395h17M584 2929h17M584 3366h17M584 3404h17M584 2951h17M584 2953h17M585 3385h17M585 3422h17M585 3386h17M586 3420h17M586 3385h17M586 3390h17M587 3030h17M587 3077h17M588 3452h17M589 3393h17M590 2982h17M590 3379h17M590 3435h17M590 3397h17M590 2929h17M590 3378h17M591 3360h17M591 3426h17M592 2993h17M592 2961h17M592 3088h17M592 3378h17M592 3387h17M593 3387h17M593 3429h17M593 2950h17M594 3387h17M595 3390h17M595 3059h17M595 2975h17M595 3375h17M596 3084h17M596 3081h17M596 3067h17M596 3372h17M597 2957h17M597 3108h17M598 3404h17M598 3383h17M599 3404h17M599 3395h17M599 3085h17M600 3442h17M600 3454h17M600 3070h17M601 3399h17M601 3145h17M602 3143h17M602 3391h17M603 3128h17M604 3415h17M604 3171h17M604 3497h17M604 3472h17M604 3032h17M605 2858h17M605 3400h17M605 3070h17M605 3461h17M607 3447h17M607 3200h17M607 3060h17M607 3483h17M608 3107h17M608 3408h17M608 3105h17M609 3198h17M609 3155h17M611 3183h17M611 3036h17M611 3494h17M611 3468h17M611 3398h17M611 3422h17M611 3476h17M611 3158h17M612 3149h17M612 3139h17M613 3487h17M613 3128h17M613 3422h17M613 3139h17M614 3419h17M614 3139h17M614 3480h17M615 3419h17M615 3194h17M616 3415h17M616 3434h17M617 3459h17M617 3454h17M618 3495h17M619 3111h17M619 3114h17M620 3452h17M621 3479h17M621 3162h17M622 3451h17M623 3251h17M624 3241h17M624 3257h17M625 3527h17M625 3165h17M626 3508h17M626 3415h17M626 3186h17M626 3111h17M627 3182h17M628 3198h17M629 3185h17M630 3554h17M630 3267h17M630 3516h17M630 3135h17M631 3489h17M631 3535h17M631 3513h17M632 3460h17M632 3251h17M633 3273h17M635 3245h17M635 3187h17M636 3206h17M636 3162h17M636 3508h17M636 3128h17M638 3269h17M638 3483h17M638 3534h17M638 3566h17M638 3300h17M639 3269h17M639 3523h17M641 3481h17M641 3268h17M643 3542h17M643 3469h17M645 3529h17M645 3279h17M645 3290h17M646 3272h17M646 3512h17M647 3533h17M648 3240h17M648 3505h17M648 3263h17M649 3524h17M650 3501h17M650 3261h17M650 3302h17M651 3593h17M651 3324h17M651 3495h17M651 3345h17M651 3503h17M652 3325h17M652 3484h17M653 3252h17M653 3288h17M654 3376h17M655 3289h17M655 3503h17M657 3311h17M657 3287h17M658 3534h17M658 3334h17M658 3563h17M659 3551h17M659 3298h17M659 3506h17M659 3327h17M660 3557h17M660 3573h17M660 3546h17M661 3565h17M661 3360h17M661 3502h17M663 3388h17M663 3398h17M664 3567h17M664 3386h17M664 3264h17M664 3333h17M665 3571h17M665 3329h17M665 3598h17M665 3555h17M665 3563h17M666 3548h17M667 3591h17M667 3563h17M667 3575h17M667 3558h17M669 3408h17M669 3370h17M669 3532h17M670 3624h17M670 3361h17M671 3387h17M671 3568h17M671 3572h17M672 3556h17M672 3563h17M672 3379h17M674 3357h17M674 3399h17M676 3582h17M677 3363h17M677 3573h17M679 3590h17M680 3358h17M680 3377h17M682 3333h17M682 3240h17M683 3572h17M683 3340h17M683 3446h17M685 3600h17M685 3569h17M686 3382h17M686 3441h17M687 3383h17M687 3417h17M687 3586h17M688 3411h17M689 3435h17M689 3607h17M689 3371h17M689 3388h17M690 3383h17M690 3601h17M690 3553h17M691 3431h17M691 3470h17M691 3458h17M693 3613h17M693 3601h17M693 3620h17M693 3596h17M693 3614h17M693 3402h17M694 3444h17M695 3595h17M696 3477h17M697 3588h17M697 3575h17M697 3445h17M697 3407h17M698 3583h17M698 3604h17M699 3591h17M700 3417h17M701 3592h17M702 3390h17M703 3601h17M705 3619h17M706 3612h17M706 3464h17M706 3436h17M707 3598h17M707 3446h17M707 3419h17M707 3416h17M708 3468h17M708 3450h17M709 3643h17M709 3431h17M709 3616h17M710 3645h17M710 3471h17M710 3619h17M710 3600h17M711 3471h17M712 3616h17M712 3439h17M712 3623h17M713 3475h17M713 3595h17M713 3603h17M713 3661h17M714 3441h17M714 3444h17M714 3447h17M714 3458h17M715 3429h17M715 3631h17M716 3618h17M716 3619h17M718 3486h17M721 3645h17M721 3449h17M721 3488h17M722 3641h17M722 3505h17M722 3617h17M723 3614h17M723 3668h17M723 3500h17M723 3504h17M723 3635h17M724 3613h17M724 3639h17M724 3509h17M724 3628h17M725 3480h17M726 3395h17M726 3437h17M727 3641h17M727 3467h17M727 3641h17M728 3667h17M728 3495h17M729 3501h17M729 3621h17M729 3629h17M731 3649h17M731 3468h17M731 3635h17M732 3662h17M733 3646h17M734 3495h17M734 3657h17M735 3480h17M735 3666h17M737 3537h17M737 3519h17M739 3537h17M739 3521h17M740 3643h17M740 3640h17M740 3640h17M740 3484h17M740 3535h17M742 3641h17M744 3651h17M744 3689h17M745 3504h17M745 3690h17M746 3518h17M747 3437h17M747 3528h17M748 3669h17M749 3511h17M749 3511h17M749 3509h17M749 3540h17M750 3656h17M752 3635h17M752 3651h17M752 3676h17M753 3657h17M753 3539h17M753 3493h17M754 3656h17M754 3475h17M754 3647h17M755 3668h17M755 3531h17M756 3544h17M756 3508h17M758 3544h17M758 3655h17M758 3650h17M759 3655h17M759 3659h17M760 3505h17M761 3505h17M761 3516h17M763 3539h17M764 3660h17M764 3648h17M765 3658h17M766 3523h17M766 3485h17M766 3662h17M767 3677h17M768 3543h17M769 3534h17M769 3539h17M769 3491h17M769 3536h17M769 3651h17M771 3540h17M771 3534h17M771 3671h17M772 3674h17M773 3677h17M773 3517h17M775 3685h17M775 3666h17M775 3652h17M776 3653h17M776 3654h17M776 3665h17M777 3517h17M778 3654h17M779 3673h17M780 3545h17M781 3536h17M781 3662h17M782 3537h17M782 3660h17M783 3551h17M783 3656h17M784 3654h17M784 3675h17M784 3535h17M784 3549h17M784 3672h17M785 3656h17M785 3658h17M785 3669h17M785 3543h17M786 3533h17M787 3556h17M787 3465h17M788 3553h17M789 3513h17M790 3498h17M790 3672h17M791 3533h17M791 3553h17M792 3499h17M792 3520h17M793 3538h17M793 3655h17M793 3671h17M794 3665h17M796 3516h17M796 3539h17M796 3536h17M796 3669h17M796 3478h17M796 3662h17M796 3505h17M797 3557h17M797 3556h17M798 3519h17M798 3655h17M798 3538h17M798 3527h17M798 3548h17M799 3517h17M800 3538h17M801 3674h17M801 3669h17M801 3658h17M801 3551h17M801 3542h17M802 3667h17M802 3522h17M803 3658h17M805 3670h17M806 3536h17M807 3541h17M808 3533h17M808 3655h17M808 3532h17M809 3675h17M809 3683h17M811 3537h17M811 3539h17M812 3521h17M813 3666h17M814 3689h17M814 3493h17M815 3660h17M815 3667h17M815 3555h17M816 3511h17M816 3660h17M817 3676h17M818 3662h17M818 3660h17M820 3677h17M821 3475h17M821 3449h17M821 3678h17M822 3665h17M822 3482h17M823 3663h17M823 3407h17M823 3649h17M824 3672h17M824 3647h17M824 3479h17M825 3719h17M825 3688h17M826 3637h17M826 3680h17M826 3650h17M827 3446h17M827 3686h17M827 3396h17M827 3502h17M828 3666h17M828 3661h17M829 3502h17M830 3631h17M831 3644h17M831 3507h17M832 3454h17M833 3644h17M833 3473h17M834 3670h17M834 3423h17M835 3470h17M836 3417h17M836 3404h17M837 3673h17M837 3672h17M839 3669h17M840 3681h17M841 3399h17M841 3487h17M841 3655h17M841 3484h17M842 3442h17M843 3642h17M843 3667h17M843 3659h17M844 3635h17M844 3450h17M844 3440h17M845 3491h17M845 3405h17M845 3468h17M846 3338h17M849 3684h17M849 3632h17M850 3656h17M850 3652h17M850 3442h17M852 3638h17M852 3610h17M853 3402h17M853 3487h17M853 3471h17M854 3665h17M854 3348h17M855 3395h17M855 3338h17M855 3638h17M856 3447h17M857 3432h17M857 3606h17M857 3656h17M859 3287h17M859 3630h17M859 3638h17M860 3652h17M860 3608h17M860 3279h17M861 3448h17M861 3400h17M862 3346h17M862 3491h17M864 3605h17M864 3263h17M864 3306h17M865 3363h17M865 3453h17M865 3515h17M868 3378h17M869 3298h17M869 3403h17M870 3576h17M871 3600h17M871 3340h17M871 3030h17M871 3346h17M871 3273h17M872 3511h17M872 3211h17M872 3548h17M873 3210h17M873 3252h17M873 3604h17M874 3355h17M874 3549h17M875 3190h17M875 3211h17M875 3335h17M875 3292h17M876 3529h17M877 3315h17M877 3532h17M877 3284h17M878 3357h17M878 3249h17M878 3328h17M878 3585h17M879 3557h17M879 3203h17M880 3360h17M880 3381h17M881 3589h17M881 3200h17M881 3533h17M882 3198h17M882 3522h17M883 3298h17M884 3566h17M884 3500h17M884 3199h17M886 3570h17M886 3123h17M886 3274h17M888 3166h17M889 2916h17M889 3484h17M889 3261h17M890 3152h17M890 3597h17M890 3083h17M890 3465h17M890 3147h17M890 3297h17M891 3210h17M891 3485h17M891 3249h17M891 3611h17M891 3209h17M891 3325h17M892 3178h17M892 3273h17M893 3565h17M894 3216h17M896 3141h17M896 3360h17M896 3213h17M898 2814h17M898 3455h17M898 3095h17M899 3163h17M899 3035h17M899 3564h17M900 3039h17M900 3526h17M901 3046h17M901 3159h17M901 3516h17M902 3516h17M903 3496h17M903 3405h17M904 3524h17M904 3557h17M904 3303h17M905 2936h17M905 3519h17M906 3513h17M906 3375h17M907 3484h17M908 3432h17M908 3553h17M908 3014h17M908 3432h17M909 2900h17M910 3348h17M910 2887h17M910 2959h17M911 2848h17M911 2912h17M911 3454h17M911 2809h17M911 2864h17M912 3357h17M912 2853h17M914 2925h17M914 3330h17M914 2931h17M914 2940h17M914 2976h17M914 2806h17M914 3365h17M915 2838h17M916 3460h17M916 3073h17M918 2788h17M918 3311h17M918 3409h17M919 3263h17M920 3367h17M921 2585h17M921 2828h17M921 2871h17M921 3449h17M921 3350h17M922 3406h17M923 3332h17M923 3195h17M923 2996h17M923 3324h17M923 2628h17M924 2838h17M924 2760h17M924 2677h17M925 2729h17M925 3341h17M926 3388h17M926 2523h17M927 2752h17M927 2773h17M928 3383h17M928 2582h17M928 3025h17M929 3304h17M929 3276h17M929 2564h17M929 3231h17M929 2667h17M930 2883h17M931 3206h17M931 2644h17M931 3281h17M932 3380h17M932 2858h17M932 2610h17M932 2928h17M933 3268h17M933 3315h17M933 2538h17M934 3328h17M934 3237h17M934 2753h17M934 2719h17M934 3266h17M935 3276h17M936 2694h17M936 3274h17M936 3289h17M936 2726h17M937 2548h17M937 3165h17M937 3231h17M938 3352h17M938 2641h17M938 2656h17M938 3231h17M939 3391h17M939 3177h17M939 2534h17M939 3241h17M940 2510h17M941 3225h17M941 3198h17M942 3304h17M942 2619h17M942 3212h17M943 2665h17M944 3285h17M944 3160h17M944 3334h17M944 3357h17M944 3152h17M946 2524h17M947 3388h17M947 3187h17M948 3195h17M948 3179h17M948 3200h17M951 3289h17M951 3268h17M952 3305h17M952 3238h17M953 3283h17M953 3332h17M953 3123h17M954 3272h17M954 3150h17M954 3183h17M954 3168h17M955 3201h17M955 2589h17M956 3230h17M957 3157h17M958 3186h17M958 3138h17M958 3278h17M959 3200h17M960 3141h17M960 3164h17M961 3226h17M961 3262h17M961 3143h17M961 3285h17M961 3244h17M962 3150h17M962 3176h17M963 3197h17M963 3132h17M963 3214h17M964 3240h17M964 3145h17M964 3243h17M964 3180h17M966 3193h17M966 3120h17M966 3116h17M966 3137h17M967 3145h17M968 3144h17M968 3134h17M969 3335h17M970 3213h17M972 3118h17M974 3105h17M974 3148h17M974 3194h17M974 3206h17M974 3103h17M975 3137h17M975 3183h17M976 3139h17M976 3285h17M977 3234h17M977 3285h17M977 3227h17M977 3334h17M977 3121h17M978 3145h17M979 3185h17M979 3241h17M981 3227h17M982 3130h17M982 3266h17M983 3116h17M983 3147h17M984 3142h17M985 3133h17M986 3138h17M986 3141h17M986 3117h17M987 3132h17M987 3209h17M988 3094h17M988 3204h17M989 3114h17M989 3260h17M989 3141h17M990 3208h17M990 3148h17M991 3356h17M992 3324h17M992 3124h17M992 3195h17M994 3196h17M994 3162h17M996 3135h17M996 3336h17M996 3245h17M997 3126h17M998 3175h17M998 3098h17M999 3120h17M999 3113h17M999 3151h17M1000 3148h17M1000 3155h17M1000 3117h17M1001 3181h17M1003 3212h17M1003 3095h17M1004 3094h17M1004 3227h17M1004 3197h17M1004 3097h17M1005 3111h17M1005 3105h17M1006 3122h17M1006 3095h17M1007 3199h17M1008 3169h17M1008 3169h17M1009 3144h17M1009 3213h17M1010 3262h17M1010 3151h17M1010 3094h17M1011 3162h17M1011 3162h17M1012 3113h17M1012 3300h17M1012 3134h17M1013 3129h17M1013 3097h17M1014 3121h17M1014 3208h17M1015 2514h17M1016 3133h17M1017 3214h17M1017 3133h17M1017 3142h17M1017 3228h17M1018 3101h17M1019 3105h17M1019 3103h17M1020 3267h17M1020 3091h17M1020 3091h17M1021 2517h17M1021 3132h17M1021 3134h17M1022 3232h17M1023 2546h17M1023 3096h17M1024 3134h17M1024 3203h17M1025 3153h17M1026 2514h17M1027 2579h17M1027 3103h17M1027 3091h17M1028 3230h17M1028 3172h17M1029 3177h17M1029 3204h17M1030 3137h17M1031 2591h17M1031 2587h17M1031 3189h17M1032 3147h17M1032 3231h17M1032 3107h17M1032 3367h17M1033 2581h17M1034 3171h17M1035 3117h17M1036 3099h17M1037 3234h17M1037 3143h17M1038 3121h17M1038 3241h17M1038 2579h17M1039 2489h17M1039 3151h17M1039 3168h17M1039 3109h17M1039 3135h17M1039 2537h17M1040 3144h17M1040 3126h17M1040 3220h17M1040 3151h17M1040 3117h17M1040 3172h17M1041 2544h17M1041 3126h17M1042 2619h17M1042 2522h17M1043 2491h17M1043 3171h17M1044 2629h17M1044 3252h17M1044 2595h17M1044 3199h17M1044 2524h17M1045 2689h17M1045 3179h17M1045 2502h17M1046 2562h17M1046 2608h17M1046 3150h17M1046 3200h17M1047 3187h17M1047 3246h17M1047 3140h17M1047 2686h17M1048 3111h17M1048 3134h17M1048 2507h17M1049 2559h17M1049 2710h17M1050 2611h17M1051 2498h17M1051 3178h17M1051 3208h17M1051 3172h17M1051 3125h17M1052 2672h17M1052 3152h17M1052 3156h17M1052 2642h17M1053 3184h17M1054 2732h17M1054 3239h17M1055 3199h17M1055 3149h17M1055 3109h17M1055 3159h17M1055 3099h17M1056 3118h17M1056 3121h17M1056 3127h17M1057 2571h17M1057 2647h17M1058 2684h17M1059 2692h17M1059 3147h17M1059 2659h17M1060 2665h17M1060 2647h17M1061 3122h17M1061 3148h17M1061 2492h17M1061 3138h17M1062 3218h17M1062 3118h17M1062 3123h17M1063 2649h17M1063 3171h17M1064 3171h17M1064 3160h17M1064 2669h17M1064 3190h17M1064 2651h17M1064 2540h17M1064 3190h17M1065 2597h17M1065 3202h17M1065 2556h17M1065 2538h17M1066 3254h17M1067 3238h17M1067 3191h17M1067 3235h17M1067 3131h17M1067 2627h17M1068 2668h17M1068 2491h17M1069 3183h17M1069 3166h17M1069 2632h17M1069 3308h17M1070 3147h17M1070 3200h17M1070 3147h17M1071 3183h17M1072 2629h17M1072 3138h17M1072 3153h17M1072 3276h17M1073 2691h17M1073 2788h17M1073 3182h17M1074 2657h17M1074 2645h17M1074 2750h17M1075 3224h17M1075 2712h17M1075 2666h17M1075 3203h17M1075 2697h17M1076 2753h17M1076 3173h17M1076 3241h17M1076 2710h17M1077 2762h17M1078 2819h17M1079 2635h17M1079 2648h17M1080 3215h17M1081 3142h17M1081 3164h17M1082 3275h17M1082 2833h17M1082 2637h17M1082 2701h17M1082 3242h17M1082 3267h17M1082 2775h17M1083 2614h17M1083 3201h17M1083 2784h17M1084 3167h17M1084 3159h17M1084 3130h17M1085 2714h17M1085 3276h17M1085 2837h17M1086 3220h17M1086 3167h17M1087 3157h17M1087 3189h17M1088 3155h17M1088 3319h17M1089 2765h17M1089 2801h17M1089 2877h17M1089 3178h17M1089 3151h17M1090 2777h17M1090 2806h17M1090 2689h17M1090 3256h17M1090 2733h17M1091 2804h17M1091 3291h17M1091 2744h17M1091 3189h17M1091 2813h17M1092 2672h17M1092 2746h17M1092 3178h17M1092 3182h17M1093 2783h17M1093 3163h17M1094 2845h17M1094 3241h17M1095 3210h17M1095 3229h17M1095 3256h17M1096 2789h17M1096 2696h17M1096 2734h17M1096 3238h17M1097 2808h17M1097 3250h17M1098 2590h17M1099 3180h17M1099 3251h17M1099 2762h17M1099 2825h17M1099 3275h17M1100 2749h17M1101 3215h17M1101 2868h17M1101 2813h17M1101 3186h17M1103 2824h17M1103 3318h17M1104 3265h17M1104 3149h17M1104 3205h17M1104 3226h17M1105 3249h17M1105 3203h17M1106 2715h17M1106 3214h17M1106 2837h17M1107 2760h17M1107 3275h17M1107 2726h17M1107 2783h17M1108 2874h17M1108 2842h17M1108 2786h17M1109 3223h17M1109 3238h17M1109 2878h17M1109 3213h17M1109 3222h17M1109 3225h17M1109 2501h17M1110 2703h17M1111 2899h17M1112 3241h17M1112 3285h17M1112 3214h17M1112 3234h17M1113 2692h17M1113 2673h17M1113 2879h17M1113 3189h17M1113 2749h17M1114 2861h17M1115 2891h17M1115 2857h17M1115 3245h17M1115 3298h17M1116 3243h17M1116 2819h17M1116 2928h17M1116 3209h17M1117 3221h17M1118 2746h17M1119 3252h17M1120 2862h17M1120 3305h17M1120 2854h17M1120 3239h17M1120 2867h17M1120 2736h17M1121 2894h17M1122 2936h17M1123 2896h17M1123 2906h17M1123 2942h17M1123 3258h17M1124 3228h17M1124 3331h17M1125 3257h17M1125 3263h17M1126 2790h17M1126 3243h17M1126 2887h17M1126 3227h17M1126 2660h17M1126 2917h17M1127 2881h17M1127 3233h17M1127 3286h17M1128 3244h17M1128 3244h17M1129 3409h17M1129 3306h17M1129 2921h17M1129 2953h17M1129 3318h17M1130 3270h17M1130 3304h17M1131 3271h17M1131 3297h17M1131 3330h17M1132 2845h17M1133 2840h17M1134 2872h17M1135 3329h17M1135 3261h17M1136 2921h17M1136 2933h17M1137 2929h17M1137 2887h17M1137 3268h17M1138 3297h17M1138 2701h17M1139 3303h17M1139 2682h17M1140 3349h17M1141 3282h17M1141 2824h17M1141 2941h17M1142 3285h17M1142 2970h17M1143 2724h17M1143 3388h17M1143 2984h17M1143 2828h17M1144 3350h17M1144 3270h17M1144 3303h17M1144 2979h17M1144 3330h17M1145 3272h17M1145 3291h17M1146 2923h17M1148 3319h17M1149 2924h17M1150 2929h17M1150 3356h17M1151 2997h17M1151 2979h17M1151 3333h17M1151 3345h17M1151 3293h17M1152 2865h17M1152 3307h17M1153 3320h17M1153 3362h17M1155 2960h17M1155 3298h17M1155 2944h17M1155 2904h17M1155 3328h17M1155 2886h17M1156 3011h17M1157 3012h17M1157 3013h17M1157 3325h17M1157 3321h17M1157 3400h17M1159 3335h17M1160 2846h17M1160 3393h17M1160 3009h17M1160 3368h17M1161 3325h17M1161 2985h17M1161 3379h17M1161 3305h17M1161 3405h17M1161 3339h17M1161 3343h17M1162 3313h17M1162 3042h17M1163 3328h17M1163 2980h17M1164 2994h17M1164 3291h17M1164 3344h17M1164 3319h17M1165 3317h17M1165 3365h17M1166 2775h17M1167 3331h17M1167 3067h17M1167 3334h17M1167 3345h17M1167 3339h17M1167 3292h17M1167 3359h17M1167 3329h17M1168 3014h17M1169 3341h17M1169 2818h17M1170 2902h17M1170 2960h17M1170 3340h17M1171 3061h17M1171 3364h17M1171 3353h17M1171 3035h17M1172 2970h17M1172 3324h17M1173 2966h17M1173 3408h17M1173 3384h17M1174 3080h17M1174 3356h17M1174 3382h17M1174 3379h17M1175 3357h17M1175 3030h17M1175 3004h17M1175 3024h17M1176 3078h17M1177 3410h17M1177 3380h17M1177 3373h17M1177 3046h17M1177 3390h17M1178 3348h17M1178 3367h17M1178 3374h17M1178 2929h17M1178 2953h17M1178 3037h17M1179 3349h17M1179 2931h17M1179 2872h17M1179 3019h17M1180 2984h17M1180 2932h17M1180 3026h17M1181 2913h17M1181 3024h17M1181 3387h17M1181 3360h17M1182 2997h17M1182 2930h17M1182 3100h17M1182 3351h17M1182 3358h17M1182 2890h17M1183 3345h17M1183 2971h17M1183 3045h17M1183 3394h17M1184 3363h17M1185 3032h17M1185 2988h17M1186 3398h17M1186 2959h17M1186 3113h17M1186 3085h17M1186 3355h17M1186 3071h17M1188 3395h17M1188 3377h17M1189 2961h17M1189 2951h17M1190 3034h17M1190 3079h17M1190 3061h17M1191 2991h17M1191 3386h17M1191 3077h17M1192 3408h17M1192 3068h17M1193 3358h17M1194 3091h17M1194 3382h17M1194 3416h17M1194 3076h17M1195 3471h17M1195 2963h17M1195 2897h17M1195 3038h17M1196 3420h17M1196 3120h17M1196 3019h17M1196 3399h17M1196 3020h17M1197 2833h17M1197 3044h17M1197 3427h17M1197 3402h17M1198 3358h17M1198 3439h17M1198 3391h17M1198 3428h17M1199 3046h17M1199 3103h17M1199 3047h17M1200 3410h17M1200 3389h17M1201 3098h17M1201 3044h17M1201 3038h17M1202 3401h17M1202 2971h17M1203 3125h17M1203 3373h17M1203 3487h17M1203 3434h17M1203 3442h17M1204 2963h17M1205 3368h17M1205 3115h17M1206 3377h17M1206 3047h17M1207 3383h17M1207 3387h17M1207 3110h17M1208 3121h17M1209 3431h17M1209 3447h17M1209 3084h17M1209 2855h17M1210 3058h17M1210 3044h17M1210 3119h17M1211 3422h17M1211 3411h17M1211 3485h17M1211 3044h17M1212 3402h17M1213 3458h17M1213 3404h17M1213 3405h17M1213 3049h17M1214 3411h17M1214 3396h17M1214 3110h17M1214 3107h17M1214 3081h17M1215 3418h17M1216 3137h17M1216 3424h17M1216 3118h17M1217 3105h17M1217 3096h17M1217 3125h17M1218 3148h17M1218 3159h17M1218 3080h17M1219 3436h17M1220 3151h17M1220 3145h17M1222 3128h17M1222 3001h17M1223 3048h17M1223 3135h17M1223 3411h17M1224 3050h17M1225 3432h17M1225 3070h17M1226 3438h17M1226 3386h17M1226 3440h17M1226 3431h17M1227 3457h17M1227 3414h17M1228 3173h17M1230 3427h17M1231 3071h17M1232 3174h17M1232 3094h17M1233 3132h17M1233 3467h17M1233 3385h17M1233 3137h17M1234 3496h17M1235 3458h17M1236 3460h17M1236 3472h17M1236 3164h17M1236 3455h17M1238 3140h17M1239 3072h17M1239 2988h17M1239 3462h17M1240 3446h17M1240 3144h17M1240 3117h17M1240 3158h17M1242 3164h17M1242 3428h17M1242 3441h17M1242 3159h17M1242 3434h17M1243 3473h17M1243 3173h17M1243 3179h17M1244 3193h17M1246 3423h17M1246 3175h17M1248 3208h17M1248 3081h17M1249 3484h17M1249 3171h17M1249 3138h17M1249 3100h17M1250 3457h17M1251 3058h17M1251 3202h17M1251 3091h17M1252 3194h17M1252 3478h17M1252 3454h17M1252 3190h17M1252 3478h17M1252 3455h17M1253 3452h17M1254 3472h17M1254 3197h17M1254 3217h17M1255 3438h17M1255 3469h17M1255 3462h17M1256 3496h17M1257 3470h17M1257 3522h17M1258 3441h17M1258 3211h17M1259 3184h17M1259 3446h17M1260 3517h17M1260 3484h17M1261 3500h17M1261 3190h17M1261 3485h17M1262 3154h17M1262 3190h17M1262 3520h17M1263 3463h17M1264 3491h17M1264 3133h17M1265 3530h17M1265 3444h17M1265 3507h17M1267 3226h17M1268 3096h17M1268 3205h17M1269 3480h17M1269 3199h17M1269 3559h17M1271 3520h17M1272 3166h17M1272 3199h17M1272 3480h17M1273 3069h17M1273 3216h17M1274 3212h17M1274 3187h17M1274 3472h17M1275 3453h17M1276 3488h17M1277 3160h17M1277 3484h17M1277 3011h17M1278 3491h17M1278 3465h17M1279 3518h17M1280 3504h17M1280 3221h17M1281 3513h17M1281 3226h17M1281 3136h17M1281 3099h17M1282 3211h17M1283 3478h17M1283 3493h17M1284 3206h17M1285 3486h17M1285 3104h17M1285 3497h17M1285 3468h17M1286 3478h17M1286 3197h17M1286 3478h17M1287 3159h17M1287 3559h17M1287 3506h17M1291 3481h17M1291 3482h17M1291 3092h17M1292 3511h17M1292 3260h17M1293 3509h17M1293 3269h17M1293 3484h17M1295 3252h17M1298 3468h17M1298 3045h17M1298 3530h17M1300 3553h17M1300 3233h17M1303 3503h17M1304 3509h17M1304 3214h17M1304 3257h17M1304 3510h17M1305 3209h17M1305 3273h17M1306 3551h17M1306 3253h17M1306 3285h17M1306 3532h17M1306 3488h17M1307 3550h17M1308 3282h17M1308 3511h17M1308 3262h17M1310 3274h17M1311 3516h17M1311 3542h17M1311 3556h17M1311 3518h17M1311 3194h17M1312 3232h17M1312 3548h17M1313 3273h17M1315 3176h17M1315 3289h17M1315 3275h17M1315 3518h17M1316 3207h17M1317 3518h17M1317 3531h17M1317 3313h17M1319 3503h17M1320 3520h17M1321 3237h17M1321 3268h17M1322 3288h17M1322 3519h17M1324 3272h17M1324 3268h17M1325 3543h17M1325 3228h17M1326 3554h17M1327 3204h17M1328 3507h17M1328 3538h17M1328 3301h17M1329 3533h17M1329 3531h17M1329 3207h17M1330 3225h17M1330 3288h17M1330 3611h17M1330 3539h17M1331 3237h17M1332 3301h17M1332 3520h17M1332 3569h17M1333 3517h17M1333 3322h17M1334 3552h17M1334 3170h17M1334 3562h17M1335 3303h17M1335 3534h17M1336 3301h17M1337 3303h17M1337 3521h17M1337 3531h17M1338 3126h17M1338 3264h17M1338 3237h17M1338 3237h17M1340 3535h17M1340 3575h17M1341 3588h17M1341 3517h17M1342 3277h17M1342 3296h17M1342 3525h17M1342 3315h17M1342 3550h17M1343 3194h17M1343 3561h17M1345 3530h17M1345 3298h17M1346 3327h17M1347 3544h17M1347 3333h17M1348 3541h17M1348 3524h17M1349 3529h17M1349 3248h17M1349 3583h17M1349 3552h17M1349 3580h17M1349 3326h17M1350 3333h17M1350 3287h17M1351 3545h17M1351 3312h17M1351 3546h17M1354 3258h17M1354 3578h17M1356 3533h17M1356 3525h17M1357 3542h17M1357 3333h17M1358 3551h17M1358 3229h17M1359 3351h17M1359 3543h17M1359 3560h17M1360 3280h17M1360 3539h17M1360 3560h17M1360 3539h17M1361 3559h17M1362 3348h17M1365 3556h17M1367 3545h17M1367 3323h17M1367 3336h17M1368 3581h17M1368 3570h17M1369 3343h17M1369 3367h17M1370 3590h17M1370 3352h17M1370 3544h17M1370 3324h17M1371 3583h17M1371 3336h17M1372 3353h17M1373 3564h17M1373 3299h17M1374 3541h17M1374 3555h17M1374 3547h17M1374 3344h17M1375 3333h17M1376 3537h17M1377 3616h17M1377 3576h17M1379 3555h17M1380 3570h17M1380 3367h17M1380 3581h17M1381 3382h17M1381 3327h17M1382 3550h17M1382 3566h17M1382 3385h17M1382 3563h17M1383 3368h17M1383 3316h17M1383 3564h17M1385 3578h17M1387 3554h17M1388 3566h17M1388 3367h17M1389 3341h17M1389 3333h17M1389 3577h17M1389 3563h17M1390 3566h17M1390 3587h17M1391 3576h17M1391 3371h17M1392 3187h17M1392 3579h17M1392 3585h17M1392 3307h17M1393 3548h17M1393 3351h17M1393 3574h17M1394 3569h17M1396 3369h17M1396 3610h17M1397 3342h17M1398 3310h17M1398 3326h17M1399 3310h17M1399 3573h17M1399 3374h17M1400 3571h17M1400 3578h17M1402 3323h17M1402 3587h17M1404 3571h17M1404 3587h17M1404 3402h17M1405 3571h17M1406 3351h17M1406 3387h17M1407 3590h17M1407 3600h17M1408 3367h17M1408 3570h17M1408 3580h17M1409 3390h17M1410 3396h17M1410 3605h17M1411 3370h17M1411 3376h17M1411 3582h17M1411 3578h17M1412 3403h17M1412 3285h17M1412 3343h17M1412 3589h17M1413 3565h17M1414 3582h17M1414 3395h17M1414 3387h17M1416 3387h17M1416 3408h17M1417 3586h17M1417 3391h17M1418 3654h17M1418 3378h17M1419 3348h17M1421 3583h17M1422 3375h17M1422 3407h17M1423 3281h17M1424 3578h17M1425 3577h17M1425 3413h17M1426 3600h17M1427 3629h17M1427 3578h17M1427 3605h17M1427 3585h17M1428 3593h17M1430 3404h17M1430 3584h17M1431 3618h17M1431 3392h17M1432 3602h17M1432 3399h17M1432 3355h17M1433 3235h17M1433 3596h17M1434 3406h17M1435 3409h17M1437 3583h17M1437 3587h17M1437 3380h17M1437 3575h17M1438 3603h17M1438 3590h17M1440 3608h17M1441 3380h17M1441 3632h17M1442 3587h17M1442 3577h17M1443 3394h17M1443 3576h17M1444 3411h17M1445 3413h17M1445 3650h17M1446 3601h17M1446 3579h17M1448 3579h17M1448 3613h17M1448 3581h17M1449 3607h17M1449 3371h17M1450 3388h17M1450 3372h17M1452 3410h17M1452 3576h17M1452 3391h17M1453 3366h17M1454 3408h17M1454 3409h17M1454 3631h17M1454 3384h17M1455 3410h17M1455 3398h17M1456 3344h17M1457 3584h17M1459 3357h17M1460 3341h17M1461 3596h17M1461 3628h17M1462 3605h17M1462 3341h17M1463 3586h17M1464 3574h17M1464 3350h17M1464 3564h17M1464 3565h17M1465 3578h17M1465 3583h17M1466 3345h17M1466 3561h17M1466 3400h17M1466 3368h17M1467 3583h17M1467 3597h17M1467 3389h17M1467 3594h17M1470 3380h17M1471 3360h17M1471 3370h17M1472 3277h17M1472 3575h17M1472 3268h17M1473 3592h17M1474 3359h17M1474 3282h17M1475 3398h17M1475 3368h17M1476 3596h17M1476 3588h17M1477 3336h17M1477 3363h17M1479 3366h17M1479 3368h17M1479 3349h17M1480 3567h17M1480 3325h17M1480 3585h17M1481 3357h17M1481 3586h17M1481 3631h17M1483 3266h17M1484 3405h17M1484 3323h17M1484 3573h17M1485 3578h17M1485 3567h17M1486 3568h17M1486 3338h17M1487 3540h17M1487 3362h17M1488 3644h17M1488 3257h17M1488 3580h17M1489 3317h17M1489 3549h17M1489 3570h17M1489 3366h17M1490 3597h17M1490 3321h17M1492 3571h17M1493 3570h17M1493 3556h17M1493 3263h17M1493 3253h17M1495 3527h17M1496 3555h17M1497 3337h17M1498 3542h17M1499 3515h17M1499 3236h17M1499 3357h17M1499 3278h17M1500 3606h17M1500 3381h17M1502 3289h17M1502 3530h17M1502 3353h17M1502 3274h17M1503 3561h17M1503 3321h17M1503 3574h17M1505 3308h17M1505 3524h17M1505 3545h17M1505 3324h17M1506 3223h17M1507 3241h17M1507 3535h17M1507 3318h17M1507 3284h17M1507 3587h17M1508 3489h17M1509 3544h17M1509 3561h17M1509 3286h17M1510 3588h17M1510 3527h17M1510 3563h17M1510 3512h17M1510 3280h17M1510 3552h17M1510 3247h17M1511 3524h17M1511 3274h17M1513 3309h17M1513 3552h17M1514 3332h17M1514 3548h17M1515 3557h17M1516 3510h17M1516 3305h17M1516 3513h17M1516 3533h17M1517 3296h17M1517 3508h17M1517 3237h17M1517 3541h17M1517 3571h17M1518 3525h17M1518 3244h17M1519 3564h17M1520 3288h17M1521 3525h17M1521 3518h17M1521 3186h17M1522 2988h17M1522 3515h17M1522 3241h17M1522 3524h17M1523 3489h17M1524 3204h17M1524 3545h17M1525 3572h17M1525 3495h17M1525 3180h17M1525 3562h17M1526 3229h17M1526 3139h17M1527 3170h17M1527 3095h17M1528 3532h17M1528 3536h17M1529 3492h17M1529 3547h17M1530 3166h17M1531 3534h17M1531 3203h17M1532 3191h17M1532 3517h17M1532 3502h17M1533 3516h17M1534 3183h17M1534 3465h17M1534 3530h17M1535 3493h17M1535 3190h17M1535 3504h17M1536 3178h17M1536 3468h17M1537 2966h17M1538 3487h17M1538 3130h17M1538 3483h17M1538 3507h17M1539 3478h17M1539 3475h17M1539 3480h17M1539 3482h17M1539 3497h17M1540 3154h17M1541 3163h17M1541 3213h17M1542 3504h17M1543 3155h17M1544 3194h17M1545 3191h17M1546 3011h17M1546 3157h17M1546 3451h17M1546 3165h17M1547 3210h17M1547 3219h17M1547 3174h17M1549 3147h17M1549 3481h17M1550 3076h17M1550 3490h17M1551 3145h17M1551 3066h17M1551 3486h17M1552 3455h17M1552 3154h17M1552 3473h17M1553 2971h17M1553 3136h17M1554 3109h17M1554 3129h17M1554 3151h17M1554 3104h17M1555 3060h17M1555 3513h17M1555 3483h17M1555 3477h17M1556 3488h17M1556 3146h17M1556 3443h17M1557 3474h17M1557 3436h17M1557 3444h17M1558 3432h17M1558 3100h17M1558 3461h17M1559 3055h17M1560 2994h17M1560 3139h17M1563 3139h17M1564 3135h17M1564 3116h17M1565 3479h17M1565 3444h17M1565 3092h17M1566 3426h17M1566 3465h17M1566 3464h17M1566 3067h17M1567 3443h17M1567 3053h17M1567 2950h17M1567 3152h17M1567 3093h17M1568 3478h17M1568 3473h17M1568 3092h17M1568 3425h17M1568 3142h17M1569 3077h17M1569 3487h17M1570 3134h17M1570 3149h17M1570 3434h17M1570 3420h17M1570 3064h17M1571 3449h17M1571 3424h17M1572 3097h17M1573 3457h17M1573 3497h17M1573 3148h17M1574 3036h17M1574 3157h17M1575 3074h17M1575 3142h17M1575 3069h17M1575 3145h17M1575 3427h17M1576 3155h17M1576 3492h17M1576 3446h17M1576 3427h17M1577 3078h17M1577 3407h17M1578 3146h17M1579 3113h17M1579 3467h17M1580 3131h17M1580 3110h17M1581 3453h17M1581 3060h17M1583 3421h17M1583 3407h17M1583 3420h17M1584 3460h17M1584 3496h17M1584 3162h17M1584 3439h17M1584 3002h17M1585 3422h17M1585 3456h17M1585 3493h17M1585 3465h17M1586 3063h17M1586 3038h17M1586 3434h17M1588 3058h17M1589 3423h17M1589 3409h17M1589 3088h17M1589 3444h17M1590 3496h17M1590 3087h17M1591 3125h17M1591 3114h17M1591 3148h17M1592 2857h17M1592 2956h17M1592 3161h17M1593 3114h17M1593 3457h17M1594 2863h17M1594 3429h17M1594 3436h17M1594 3087h17M1595 3434h17M1595 3403h17M1595 3412h17M1596 3437h17M1596 3490h17M1596 3079h17M1597 2978h17M1597 3442h17M1597 3102h17M1598 2987h17M1598 3416h17M1599 3056h17M1599 3027h17M1599 3431h17M1600 3419h17M1600 3023h17M1601 3065h17M1601 3023h17M1601 3438h17M1602 3468h17M1602 3015h17M1603 3459h17M1603 3414h17M1604 3016h17M1604 3414h17M1605 3431h17M1606 3063h17M1606 3051h17M1606 3063h17M1606 3049h17M1606 3399h17M1608 3080h17M1608 3401h17M1608 3403h17M1608 3401h17M1608 3403h17M1608 3437h17M1610 2913h17M1610 3010h17M1611 3105h17M1611 2937h17M1612 3076h17M1612 3405h17M1613 3397h17M1613 3085h17M1614 3012h17M1614 3072h17M1615 3008h17M1615 3432h17M1615 3064h17M1615 3456h17M1616 3452h17M1616 2892h17M1616 3418h17M1617 3446h17M1617 2851h17M1617 3450h17M1618 3477h17M1618 2993h17M1618 3450h17M1618 3010h17M1618 3061h17M1618 3057h17M1619 2862h17M1619 3450h17M1620 3402h17M1620 2974h17M1620 2928h17M1621 2971h17M1621 3082h17M1621 3399h17M1622 3406h17M1622 3433h17M1622 3421h17M1622 3437h17M1623 2912h17M1623 3441h17M1623 3486h17M1624 3398h17M1624 3050h17M1624 3000h17M1624 3406h17M1624 2941h17M1625 3420h17M1625 3424h17M1625 2959h17M1626 2848h17M1627 3451h17M1628 3424h17M1629 3049h17M1629 3426h17M1630 3029h17M1631 2917h17M1631 3001h17M1631 3000h17M1632 3035h17M1632 3066h17M1632 2984h17M1633 3070h17M1633 3416h17M1633 3027h17M1633 3503h17M1633 2993h17M1634 3049h17M1634 3048h17M1634 3458h17M1634 3437h17M1634 2784h17M1635 3052h17M1635 3415h17M1635 3084h17M1636 3491h17M1636 3013h17M1636 2995h17M1636 3069h17M1636 3063h17M1638 3445h17M1638 3458h17M1638 3439h17M1638 2971h17M1638 3079h17M1638 3436h17M1639 3442h17M1641 3436h17M1641 3403h17M1641 3450h17M1641 3458h17M1642 3413h17M1642 3449h17M1642 3448h17M1643 3025h17M1643 2957h17M1643 3460h17M1643 3083h17M1643 2983h17M1644 3025h17M1645 3416h17M1645 3022h17M1645 3434h17M1646 3421h17M1646 3050h17M1646 3064h17M1646 3489h17M1647 2949h17M1648 3039h17M1648 3418h17M1648 3433h17M1649 3427h17M1649 2964h17M1649 3427h17M1649 3461h17M1650 3448h17M1651 3472h17M1651 3405h17M1651 3077h17M1651 3070h17M1651 3044h17M1652 3071h17M1652 3399h17M1653 3442h17M1653 3477h17M1654 3411h17M1654 3067h17M1655 3474h17M1655 3420h17M1656 3090h17M1657 3069h17M1657 3496h17M1657 3403h17M1658 3405h17M1658 3454h17M1658 3067h17M1659 3451h17M1659 3510h17M1659 3085h17M1659 3075h17M1659 2952h17M1660 3004h17M1660 3092h17M1660 3006h17M1661 3044h17M1661 3010h17M1661 3458h17M1661 3090h17M1661 3016h17M1662 3535h17M1662 3447h17M1663 2978h17M1663 3088h17M1664 3492h17M1664 3079h17M1665 3433h17M1665 3432h17M1665 3057h17M1666 3095h17M1666 3421h17M1666 3057h17M1666 3486h17M1666 3021h17M1667 3444h17M1667 3126h17M1667 3125h17M1668 3007h17M1669 3030h17M1669 3494h17M1669 3100h17M1669 3443h17M1670 3456h17M1670 3476h17M1671 3005h17M1671 3021h17M1671 3074h17M1672 3486h17M1672 3410h17M1673 3059h17M1673 3103h17M1675 3426h17M1675 2884h17M1675 3407h17M1676 3093h17M1677 3035h17M1677 3409h17M1677 3108h17M1679 3116h17M1680 3066h17M1680 2652h17M1680 3129h17M1680 3489h17M1680 3044h17M1682 3117h17M1682 3423h17M1682 3057h17M1682 3408h17M1682 3061h17M1682 3130h17M1684 3433h17M1684 3415h17M1684 3425h17M1684 3111h17M1685 3135h17M1685 3443h17M1686 3455h17M1686 3131h17M1686 3416h17M1687 3413h17M1687 3151h17M1687 2963h17M1688 2921h17M1688 3150h17M1688 3414h17M1689 3422h17M1690 3430h17M1690 3447h17M1691 3419h17M1691 3468h17M1691 3122h17M1692 3091h17M1694 3444h17M1694 3451h17M1694 3148h17M1695 3464h17M1695 3069h17M1695 3424h17M1695 3125h17M1695 3471h17M1695 3428h17M1695 3140h17M1695 3453h17M1696 3102h17M1696 3443h17M1696 3462h17M1697 3165h17M1697 3133h17M1697 3080h17M1698 3455h17M1698 2892h17M1698 3493h17M1698 3157h17M1699 3439h17M1699 3183h17M1700 3064h17M1702 2974h17M1703 3193h17M1704 3151h17M1705 3420h17M1706 3419h17M1707 3028h17M1707 3443h17M1707 3195h17M1707 3129h17M1708 3435h17M1708 3089h17M1708 3464h17M1710 3453h17M1710 3497h17M1711 3454h17M1711 3455h17M1712 3095h17M1713 3462h17M1713 3444h17M1713 3474h17M1715 3162h17M1715 3152h17M1716 3167h17M1716 3147h17M1720 3075h17M1720 3471h17M1720 3470h17M1721 3471h17M1721 3471h17M1722 3184h17M1722 3074h17M1723 3185h17M1723 3458h17M1724 3125h17M1725 3159h17M1725 3184h17M1725 3177h17M1725 3020h17M1726 3188h17M1726 3457h17M1726 3124h17M1726 3451h17M1727 3448h17M1727 3223h17M1727 3441h17M1728 3106h17M1729 3156h17M1729 3190h17M1729 3503h17M1730 3448h17M1730 3463h17M1731 3449h17M1732 3487h17M1732 3205h17M1732 3253h17M1732 3485h17M1733 3497h17M1733 3469h17M1733 3458h17M1733 3208h17M1733 3179h17M1734 3545h17M1734 3043h17M1735 3484h17M1736 3465h17M1736 3477h17M1736 3196h17M1737 3492h17M1737 3501h17M1737 3143h17M1737 3472h17M1739 3491h17M1739 3217h17M1739 3242h17M1740 3018h17M1740 3470h17M1740 3503h17M1741 3053h17M1741 3174h17M1742 3167h17M1742 3467h17M1744 3504h17M1744 3451h17M1745 3549h17M1745 2949h17M1746 3494h17M1747 3506h17M1747 3209h17M1748 3246h17M1749 3545h17M1749 3241h17M1749 3474h17M1749 3262h17M1750 3283h17M1751 3176h17M1752 3481h17M1752 3507h17M1753 3162h17M1753 3239h17M1753 3282h17M1754 3561h17M1755 3459h17M1756 3492h17M1756 3205h17M1757 3558h17M1758 3254h17M1758 3210h17M1758 3522h17M1758 3540h17M1759 3265h17M1759 3209h17M1760 3220h17M1760 3194h17M1760 3563h17M1761 3475h17M1762 3530h17M1763 3277h17M1763 3228h17M1763 3291h17M1764 3534h17M1764 3258h17M1764 3232h17M1765 3536h17M1766 3520h17M1767 3280h17M1767 3213h17M1768 3208h17M1768 3493h17M1769 3477h17M1771 3545h17M1772 3266h17M1772 3257h17M1772 3249h17M1772 3509h17M1772 3262h17M1773 3230h17M1773 3574h17M1773 3573h17M1774 3311h17M1775 3302h17M1776 3336h17M1776 3565h17M1776 3199h17M1776 3525h17M1776 3567h17M1778 3297h17M1778 3274h17M1779 3256h17M1779 3532h17M1779 3272h17M1779 3523h17M1780 3274h17M1780 3530h17M1780 3547h17M1781 3550h17M1781 3618h17M1782 3487h17M1782 3541h17M1782 3311h17M1782 3545h17M1783 3514h17M1783 3561h17M1783 3287h17M1783 3526h17M1784 3282h17M1784 3186h17M1784 3596h17M1785 3229h17M1785 3582h17M1786 3560h17M1786 3575h17M1786 3259h17M1786 3515h17M1787 3319h17M1787 3591h17M1787 3536h17M1787 3576h17M1787 3567h17M1789 3239h17M1789 3301h17M1789 3304h17M1790 3302h17M1791 3248h17M1792 3308h17M1792 3324h17M1793 3289h17M1793 3574h17M1793 3300h17M1795 3595h17M1795 3536h17M1795 3572h17M1796 3373h17M1796 3558h17M1797 3560h17M1798 3567h17M1798 3305h17M1799 3366h17M1799 3260h17M1800 3545h17M1801 3577h17M1801 3296h17M1801 3314h17M1802 3557h17M1803 3568h17M1803 3293h17M1803 3558h17M1804 3388h17M1805 3330h17M1806 3333h17M1806 3217h17M1806 3376h17M1806 3331h17M1807 3366h17M1808 3615h17M1808 3383h17M1808 3559h17M1809 3582h17M1809 3358h17M1809 3583h17M1809 3591h17M1809 3373h17M1810 3587h17M1810 3309h17M1811 3382h17M1811 3574h17M1811 3365h17M1811 3577h17M1812 3363h17M1812 3352h17M1812 3351h17M1812 3551h17M1812 3351h17M1813 3596h17M1813 3361h17M1814 3569h17M1814 3585h17M1815 3391h17M1815 3321h17M1815 3368h17M1816 3287h17M1816 3601h17M1816 3404h17M1817 3586h17M1817 3609h17M1818 3558h17M1818 3370h17M1818 3597h17M1818 3366h17M1819 3602h17M1819 3384h17M1820 3348h17M1820 3294h17M1821 3315h17M1821 3603h17M1821 3611h17M1822 3568h17M1822 3616h17M1823 3608h17M1823 3361h17M1824 3572h17M1825 3588h17M1827 3585h17M1827 3417h17M1827 3561h17M1827 3620h17M1828 3598h17M1828 3575h17M1828 3419h17M1829 3575h17M1829 3375h17M1831 3618h17M1831 3592h17M1831 3590h17M1832 3423h17M1832 3581h17M1832 3610h17M1834 3604h17M1834 3591h17M1835 3596h17M1835 3382h17M1836 3371h17M1836 3399h17M1837 3354h17M1837 3386h17M1837 3412h17M1838 3373h17M1838 3407h17M1839 3429h17M1839 3619h17M1839 3623h17M1840 3602h17M1840 3605h17M1840 3446h17M1842 3601h17M1843 3597h17M1843 3437h17M1845 3361h17M1847 3382h17M1848 3617h17M1848 3425h17M1848 3365h17M1849 3409h17M1849 3410h17M1850 3367h17M1850 3252h17M1851 3417h17M1851 3669h17M1852 3622h17M1852 3391h17M1853 3440h17M1853 3605h17M1853 3442h17M1854 3614h17M1854 3613h17M1854 3351h17M1854 3392h17M1855 3593h17M1855 3658h17M1855 3611h17M1856 3619h17M1856 3621h17M1857 3351h17M1859 3423h17M1859 3400h17M1860 3453h17M1861 3449h17M1862 3638h17M1862 3453h17M1864 3612h17M1865 3439h17M1866 3642h17M1866 3646h17M1867 3468h17M1867 3633h17M1867 3608h17M1867 3619h17M1870 3623h17M1871 3636h17M1872 3618h17M1872 3662h17M1872 3644h17M1872 3451h17M1874 3400h17M1875 3369h17M1876 3419h17M1876 3468h17M1877 3434h17M1877 3616h17M1878 3634h17M1878 3465h17M1878 3635h17M1878 3662h17M1879 3655h17M1880 3455h17M1880 3641h17M1881 3371h17M1881 3630h17M1881 3436h17M1881 3632h17M1882 3430h17M1882 3432h17M1883 3459h17M1883 3678h17M1884 3655h17M1884 3630h17M1885 3372h17M1886 3633h17M1886 3631h17M1886 3682h17M1887 3655h17M1887 3628h17M1888 3431h17M1889 3435h17M1889 3651h17M1890 3639h17M1890 3483h17M1891 3644h17M1892 3648h17M1892 3461h17M1892 3451h17M1893 3481h17M1893 3458h17M1894 3421h17M1895 3478h17M1895 3678h17M1896 3379h17M1897 3657h17M1898 3439h17M1899 3644h17M1899 3645h17M1899 3628h17M1900 3458h17M1902 3482h17M1903 3647h17M1904 3639h17M1904 3637h17M1904 3468h17M1905 3472h17M1905 3634h17M1906 3481h17M1907 3456h17M1907 3434h17M1909 3646h17M1909 3459h17M1909 3633h17M1910 3646h17M1910 3659h17M1911 3482h17M1911 3430h17M1912 3483h17M1912 3484h17M1912 3427h17M1913 3645h17M1913 3410h17M1913 3637h17M1914 3636h17M1914 3480h17M1914 3447h17M1914 3421h17M1916 3640h17M1917 3655h17M1917 3469h17M1917 3487h17M1917 3639h17M1918 3455h17M1920 3638h17M1921 3459h17M1923 3633h17M1923 3440h17M1924 3660h17M1925 3415h17M1925 3447h17M1925 3439h17M1925 3491h17M1925 3665h17M1925 3458h17M1925 3642h17M1926 3440h17M1926 3469h17M1926 3460h17M1927 3665h17M1927 3654h17M1929 3679h17M1929 3659h17M1929 3426h17M1930 3652h17M1930 3464h17M1930 3481h17M1931 3671h17M1933 3642h17M1933 3437h17M1933 3479h17M1933 3639h17M1934 3478h17M1934 3477h17M1935 3648h17M1935 3638h17M1936 3643h17M1936 3493h17M1937 3635h17M1937 3658h17M1938 3688h17M1938 3642h17M1940 3686h17M1941 3638h17M1942 3638h17M1942 3660h17M1942 3453h17M1942 3636h17M1943 3639h17M1943 3641h17M1944 3664h17M1944 3667h17M1946 3642h17M1946 3638h17M1946 3650h17M1947 3483h17M1947 3358h17M1947 3414h17M1947 3640h17M1949 3635h17M1949 3468h17M1949 3656h17M1950 3635h17M1952 3645h17M1954 3489h17M1954 3649h17M1954 3473h17M1954 3681h17M1955 3649h17M1955 3630h17M1955 3485h17M1956 3640h17M1956 3674h17M1956 3455h17M1957 3641h17M1957 3493h17M1958 3660h17M1960 3675h17M1960 3655h17M1960 3640h17M1961 3647h17M1961 3474h17M1962 3662h17M1962 3480h17M1962 3639h17M1963 3637h17M1963 3635h17M1964 3654h17M1965 3479h17M1965 3455h17M1966 3647h17M1966 3480h17M1966 3416h17M1967 3471h17M1967 3637h17M1967 3373h17M1967 3636h17M1967 3651h17M1968 3664h17M1968 3424h17M1968 3662h17M1969 3437h17M1970 3681h17M1970 3634h17M1972 3396h17M1973 3465h17M1974 3371h17M1974 3639h17M1975 3626h17M1975 3635h17M1975 3429h17M1976 3643h17M1976 3630h17M1977 3628h17M1978 3666h17M1980 3425h17M1980 3655h17M1980 3472h17M1983 3638h17M1983 3635h17M1983 3642h17M1984 3611h17M1985 3420h17M1985 3353h17M1985 3408h17M1985 3425h17M1986 3380h17M1986 3466h17M1987 3374h17M1987 3647h17M1987 3669h17M1989 3455h17M1991 3446h17M1992 3630h17M1992 3626h17M1992 3631h17M1993 3641h17M1993 3443h17M1994 3439h17M1994 3468h17M1994 3437h17M1995 3399h17M1995 3413h17M1996 3398h17M1996 3592h17M1998 3600h17M1998 3620h17M1998 3627h17M1998 3451h17M1999 3416h17M2000 3636h17M2001 3622h17M2001 3644h17M2001 3625h17M2001 3296h17M2001 3662h17M2004 3370h17M2004 3634h17M2004 3626h17M2005 3650h17M2006 3616h17M2006 3621h17M2007 3396h17M2007 3423h17M2007 3359h17M2007 3435h17M2008 3601h17M2009 3385h17M2009 3380h17M2011 3690h17M2011 3587h17M2011 3357h17M2011 3438h17M2011 3347h17M2011 3344h17M2011 3430h17M2012 3385h17M2012 3589h17M2013 3413h17M2015 3364h17M2015 3327h17M2015 3378h17M2016 3609h17M2016 3395h17M2018 3595h17M2018 3632h17M2019 3313h17M2019 3582h17M2019 3599h17M2020 3601h17M2021 3575h17M2022 3327h17M2022 3582h17M2022 3596h17M2024 3322h17M2024 3588h17M2025 3380h17M2026 3613h17M2026 3330h17M2027 3317h17M2027 3352h17M2028 3309h17M2028 3330h17M2028 3570h17M2029 3412h17M2030 3350h17M2031 3375h17M2031 3385h17M2031 3587h17M2031 3558h17M2032 3554h17M2032 3642h17M2034 3324h17M2034 3580h17M2034 3372h17M2034 3342h17M2035 3541h17M2035 3589h17M2035 3311h17M2036 3612h17M2036 3540h17M2036 3329h17M2037 3600h17M2037 3584h17M2038 3560h17M2039 3343h17M2039 3586h17M2039 3279h17M2042 3341h17M2043 3571h17M2043 3630h17M2043 3333h17M2043 3302h17M2043 3332h17M2045 3355h17M2046 3535h17M2046 3290h17M2046 3596h17M2047 3305h17M2047 3343h17M2048 3570h17M2048 3246h17M2048 3572h17M2049 3265h17M2050 3316h17M2050 3633h17M2050 3598h17M2051 3269h17M2051 3577h17M2051 3574h17M2052 3293h17M2053 3553h17M2054 3307h17M2054 3547h17M2054 3575h17M2054 3315h17M2055 3182h17M2055 3227h17M2055 3298h17M2056 3537h17M2056 3547h17M2056 3336h17M2056 3293h17M2056 3301h17M2057 3512h17M2057 3322h17M2057 3296h17M2058 3269h17M2058 3105h17M2059 3560h17M2059 3568h17M2060 3268h17M2060 3316h17M2060 3249h17M2060 3225h17M2061 3272h17M2062 3271h17M2062 3140h17M2064 3588h17M2065 3314h17M2065 3307h17M2065 3133h17M2067 3169h17M2068 3521h17M2068 3551h17M2069 3578h17M2069 3234h17M2069 3525h17M2069 3546h17M2070 3240h17M2071 3566h17M2071 3238h17M2071 3201h17M2072 3533h17M2072 3259h17M2073 3534h17M2073 3517h17M2074 3190h17M2074 3520h17M2074 3534h17M2074 3517h17M2075 3522h17M2076 3244h17M2076 3520h17M2076 3255h17M2076 3540h17M2077 3513h17M2077 3204h17M2078 3111h17M2078 3158h17M2078 3249h17M2078 3511h17M2079 3590h17M2079 3579h17M2080 3104h17M2081 3179h17M2081 3227h17M2081 3276h17M2083 3563h17M2083 3162h17M2083 3175h17M2085 3239h17M2085 3512h17M2085 3597h17M2086 3549h17M2087 3550h17M2087 3188h17M2089 3566h17M2089 3554h17M2090 3278h17M2090 3236h17M2090 3549h17M2090 3537h17M2091 3232h17M2092 3250h17M2092 3266h17M2093 3510h17M2094 3514h17M2094 3509h17M2097 3103h17M2097 3209h17M2098 3514h17M2098 3532h17M2098 3526h17M2098 3548h17M2099 3530h17M2099 3525h17M2100 3566h17M2100 3551h17M2100 3263h17M2101 3533h17M2102 3126h17M2103 3600h17M2103 3174h17M2103 3238h17M2104 3238h17M2104 3229h17M2105 3526h17M2106 3167h17M2106 3551h17M2109 3516h17M2109 3223h17M2109 3260h17M2109 3511h17M2110 3245h17M2110 3101h17M2111 3584h17M2111 3523h17M2113 3534h17M2113 3511h17M2113 3178h17M2113 3551h17M2113 3207h17M2114 3521h17M2115 3233h17M2116 3564h17M2116 3547h17M2116 3226h17M2116 3594h17M2117 3545h17M2117 3578h17M2117 3521h17M2118 3242h17M2119 3558h17M2120 3518h17M2120 3521h17M2120 3570h17M2120 3534h17M2121 3143h17M2121 3562h17M2121 3544h17M2121 3271h17M2122 3533h17M2123 3589h17M2123 3576h17M2123 3528h17M2124 3225h17M2124 3220h17M2126 3167h17M2126 3544h17M2127 3161h17M2129 3582h17M2129 3244h17M2129 3236h17M2130 3576h17M2130 3312h17M2131 3281h17M2131 3218h17M2132 3289h17M2133 3259h17M2133 3280h17M2134 3286h17M2134 3518h17M2134 3279h17M2136 3519h17M2136 3250h17M2136 3109h17M2137 3179h17M2137 3549h17M2139 3561h17M2139 3162h17M2139 3543h17M2140 3556h17M2140 3304h17M2141 3244h17M2141 3286h17M2141 3528h17M2143 3550h17M2145 3212h17M2145 3542h17M2145 3543h17M2145 3546h17M2145 3540h17M2146 3539h17M2146 3267h17M2147 3269h17M2148 3607h17M2148 3564h17M2149 3296h17M2149 3301h17M2149 3619h17M2149 3536h17M2150 3533h17M2150 3273h17M2150 3532h17M2150 3261h17M2152 3562h17M2152 3288h17M2153 3649h17M2153 3587h17M2153 3347h17M2153 3558h17M2154 3262h17M2154 3342h17M2154 3558h17M2154 3291h17M2154 3558h17M2154 3336h17M2155 3330h17M2155 3311h17M2155 3284h17M2155 3562h17M2155 3360h17M2156 3548h17M2156 3110h17M2158 3622h17M2159 3270h17M2160 3567h17M2160 3313h17M2161 3614h17M2162 3348h17M2163 3309h17M2164 3620h17M2164 3576h17M2168 3587h17M2168 3607h17M2168 3600h17M2168 3551h17M2169 3625h17M2170 3550h17M2170 3576h17M2171 3556h17M2172 3331h17M2172 3627h17M2173 3356h17M2173 3362h17M2174 3238h17M2174 3248h17M2175 3584h17M2176 3373h17M2176 3590h17M2177 3616h17M2177 3420h17M2178 3641h17M2179 3596h17M2179 3376h17M2180 3405h17M2180 3634h17M2180 3617h17M2181 3433h17M2181 3637h17M2181 3611h17M2182 3394h17M2185 3636h17M2185 3618h17M2185 3608h17M2185 3386h17M2187 3622h17M2187 3296h17M2188 3399h17M2188 3639h17M2191 3390h17M2191 3374h17M2192 3602h17M2192 3604h17M2192 3579h17M2193 3397h17M2194 3367h17M2194 3633h17M2194 3394h17M2195 3645h17M2202 3621h17M2203 3357h17M2204 3383h17M2205 3639h17" stroke="#0072bd" stroke-width="17" fill="none"/>
<path d="M50.2 409L50.3 408.2 50.4 407.4 50.5 406.6 50.7 405.8 50.8 405 50.9 404.2 51 403.5 51.1 402.7 51.2 401.9 51.3 401.1 51.4 400.3 51.5 399.5 51.6 398.7 51.7 397.9 51.8 397.1 51.9 396.3 52 395.5 52.1 394.7 52.2 393.9 52.3 393.1 52.4 392.3 52.5 391.5 52.6 390.8 52.6 390 52.7 389.2 52.8 388.4 52.9 387.6 53 386.8 53.1 386 53.2 385.2 53.3 384.4 53.3 383.6 53.4 382.8 53.5 382 53.6 381.2 53.7 380.4 53.8 379.6 53.8 378.8 53.9 378 54 377.2 54.1 376.4 54.1 375.6 54.2 374.8 54.3 374 54.3 373.2 54.4 372.4 54.5 371.6 54.5 370.8 54.6 370.1 54.7 369.3 54.7 368.5 54.8 367.7 54.8 366.9 54.9 366.1 54.9 365.3 55 364.5 55 363.7 55.1 362.9 55.1 362.1 55.2 361.3 55.2 360.5 55.3 359.7 55.3 358.9 55.4 358.1 55.4 357.3 55.4 356.5 55.5 355.7 55.5 354.9 55.6 354.1 55.6 353.3 55.7 352.5 55.7 351.7 55.8 350.9 55.8 350.1 55.9 349.3 55.9 348.5 55.9 347.7 56 346.9 56 346.1 56.1 345.3 56.1 344.5 56.2 343.7 56.2 342.9 56.3 342.1 56.3 341.3 56.3 340.5 56.4 339.7 56.4 338.9 56.5 338.1 56.5 337.3 56.6 336.5 56.6 335.7 56.7 334.9 56.7 334.1 56.8 333.3 56.8 332.5 56.9 331.6 56.9 330.6 57 329.6 57 328.5 57.1 327.4 57.1 326.4 57.2 325.4 57.2 324.5 57.3 323.6 57.4 322.9 57.4 322.3 57.6 321.8 57.7 321.6 57.8 321.5 58.4 322 59 322.7 59.4 323.4 59.7 324.1 60 324.8 60.3 325.5 60.5 326.3 60.7 327.1 61 327.9 61.2 328.7 61.4 329.5 61.6 330.3 61.9 331 62.1 331.8 62.4 332.6 62.6 333.3 62.9 334.1 63.1 334.9 63.3 335.6 63.6 336.4 63.8 337.1 64.1 337.9 64.4 338.7 64.6 339.4 64.9 340.2 65.1 340.9 65.4 341.7 65.7 342.4 65.9 343.2 66.2 344 66.5 344.7 66.8 345.5 67.1 346.2 67.4 346.9 67.7 347.7 68 348.4 68.4 349.1 68.7 349.8 69.1 350.5 69.5 351.2 69.9 351.9 70.4 352.6 70.8 353.3 71.2 353.9 71.7 354.6 72.1 355.2 72.6 355.9 73.1 356.6 73.6 357.3 74.1 357.9 74.7 358.5 75.2 359 75.9 359.4 76.5 359.8 77.3 360.2 78 360.5 78.8 360.8 79.6 360.9 80.4 361 81.2 360.8 81.9 360.5 82.7 360.1 83.3 359.6 83.8 359.1 84.2 358.5 84.6 357.9 85 357.2 85.4 356.5 85.7 355.7 86 354.9 86.3 354.1 86.6 353.3 86.8 352.5 87.1 351.7 87.3 350.9 87.6 350.2 87.8 349.4 88 348.6 88.2 347.9 88.4 347.1 88.5 346.3 88.7 345.5 88.9 344.7 89.1 343.9 89.2 343.1 89.4 342.4 89.5 341.6 89.7 340.8 89.8 340 90 339.2 90.1 338.4 90.2 337.6 90.4 336.8 90.5 336 90.6 335.3 90.7 334.5 90.9 333.7 91 332.9 91.1 332.1 91.2 331.3 91.3 330.5 91.4 329.7 91.5 328.9 91.6 328.1 91.7 327.3 91.8 326.5 91.9 325.7 92 325 92.1 324.2 92.2 323.4 92.3 322.6 92.3 321.8 92.4 321 92.5 320.2 92.6 319.4 92.7 318.6 92.7 317.8 92.8 317 92.9 316.2 93 315.4 93 314.6 93.1 313.8 93.2 313 93.3 312.2 93.4 311.4 93.4 310.6 93.5 309.8 93.6 309 93.7 308.2 93.8 307.4 93.8 306.6 93.9 305.8 94 305 94.1 304.2 94.1 303.4 94.2 302.6 94.3 301.8 94.4 301 94.4 300.2 94.5 299.4 94.6 298.7 94.7 297.9 94.8 297.1 94.9 296.3 95 295.5 95.1 294.7 95.2 293.9 95.3 293.1 95.4 292.3 95.6 291.5 95.7 290.8 95.9 290 96.1 289.2 96.2 288.4 96.4 287.6 96.7 286.8 96.9 286 97.2 285.3 97.5 284.6 97.8 283.8 98.2 282.9 98.7 282.2 99.3 281.7 99.8 281.8 100.5 282.2 101.2 282.9 101.7 283.5 102.1 284.1 102.5 284.8 102.8 285.5 103.1 286.3 103.4 287.1 103.7 287.9 104 288.6 104.4 289.3 104.7 290 105.1 290.8 105.4 291.5 105.8 292.2 106.1 292.9 106.5 293.6 106.8 294.4 107.1 295.1 107.5 295.8 107.8 296.6 108.1 297.3 108.4 298 108.7 298.8 109 299.5 109.2 300.3 109.5 301 109.8 301.8 110.1 302.5 110.4 303.3 110.7 304 111 304.8 111.3 305.5 111.6 306.2 111.9 307 112.3 307.7 112.6 308.4 112.9 309.2 113.2 309.9 113.6 310.6 113.9 311.3 114.2 312.1 114.5 312.8 114.9 313.5 115.2 314.3 115.6 315 115.9 315.7 116.2 316.4 116.6 317.2 116.9 317.9 117.3 318.6 117.6 319.3 117.9 320.1 118.3 320.8 118.6 321.5 119 322.2 119.3 323 119.7 323.7 120 324.4 120.4 325.1 120.8 325.8 121.2 326.5 121.6 327.2 122 327.9 122.4 328.6 122.8 329.2 123.3 329.9 123.7 330.5 124.2 331.2 124.7 331.8 125.1 332.5 125.6 333.1 126.1 333.7 126.6 334.4 127.2 335 127.7 335.6 128.2 336.2 128.7 336.8 129.2 337.4 129.7 338 130.3 338.6 130.8 339.2 131.4 339.8 131.9 340.4 132.5 341 133 341.5 133.6 342.1 134.2 342.6 134.8 343.2 135.4 343.7 136 344.2 136.6 344.8 137.1 345.3 137.7 345.9 138.2 346.6 138.8 347.2 139.3 347.8 139.9 348.4 140.5 348.9 141.1 349.3 141.8 349.6 142.6 349.9 143.4 350.2 144.2 350.5 145 350.6 145.7 350.6 146.4 350.3 147.1 349.9 147.8 349.3 148.5 348.8 149 348.2 149.5 347.6 149.9 347 150.3 346.4 150.6 345.7 150.9 344.9 151.3 344.2 151.6 343.4 151.9 342.6 152.2 341.8 152.5 341.1 152.8 340.3 153.1 339.5 153.5 338.8 153.9 338.1 154.2 337.4 154.6 336.7 155 335.9 155.4 335.2 155.7 334.5 156.1 333.8 156.5 333.1 157 332.4 157.4 331.8 157.9 331.2 158.4 330.5 158.9 329.8 159.4 329.1 160 328.4 160.6 327.7 161.2 327.1 161.8 326.7 162.5 326.5 163.1 326.4 163.9 326.5 164.6 326.7 165.4 327 166.2 327.4 167 327.7 167.7 328.1 168.3 328.5 168.9 329 169.5 329.5 170.1 330.1 170.6 330.7 171.2 331.4 171.7 332 172.2 332.6 172.7 333.3 173.2 333.9 173.6 334.5 174.1 335.2 174.5 335.9 175 336.5 175.4 337.2 175.8 337.9 176.2 338.6 176.7 339.3 177.1 339.9 177.5 340.6 177.9 341.3 178.3 342 178.7 342.7 179 343.5 179.4 344.2 179.8 344.9 180.2 345.6 180.6 346.3 181 347 181.4 347.6 181.9 348.3 182.3 348.9 182.8 349.6 183.3 350.2 183.8 350.9 184.3 351.5 184.8 352.1 185.4 352.7 185.9 353.3 186.5 353.8 187.1 354.3 187.7 354.8 188.4 355.3 189.1 355.8 189.8 356.2 190.5 356.5 191.3 356.7 192.1 356.8 192.9 356.9 193.7 357.1 194.5 357.1 195.3 357.2 196 357.2 196.7 357 197.4 356.7 198.1 356.2 198.7 355.6 199.3 354.9 199.9 354.2 200.4 353.6 200.9 353 201.4 352.4 201.8 351.8 202.3 351.1 202.7 350.4 203.1 349.7 203.5 349 203.9 348.3 204.3 347.6 204.7 346.9 205.1 346.2 205.5 345.5 206 344.8 206.4 344 206.8 343.3 207.2 342.6 207.7 342 208.2 341.4 208.8 341 209.5 340.6 210.3 340.2 211 340 211.7 340.1 212.4 340.5 213.1 341.1 213.7 341.7 214.2 342.3 214.7 342.9 215.2 343.5 215.6 344.2 216 344.9 216.4 345.7 216.7 346.4 217.1 347.1 217.5 347.8 217.8 348.5 218.2 349.2 218.5 350 218.9 350.7 219.2 351.4 219.5 352.1 219.8 352.9 220.1 353.6 220.4 354.4 220.6 354.8" stroke="#d95319" stroke-width="2" fill="none" stroke-linejoin="round"/>
<path d="M50.2 409L50.3 408.2 50.4 407.4 50.5 406.6 50.7 405.8 50.8 405 50.9 404.2 51 403.5 51.1 402.7 51.2 401.9 51.3 401.1 51.4 400.3 51.5 399.5 51.6 398.7 51.7 397.9 51.8 397.1 51.9 396.3 52 395.5 52.1 394.7 52.2 393.9 52.3 393.1 52.4 392.3 52.5 391.5 52.6 390.8 52.6 390 52.7 389.2 52.8 388.4 52.9 387.6 53 386.8 53.1 386 53.2 385.2 53.3 384.4 53.3 383.6 53.4 382.8 53.5 382 53.6 381.2 53.7 380.4 53.8 379.6 53.8 378.8 53.9 378 54 377.2 54.1 376.4 54.1 375.6 54.2 374.8 54.3 374 54.3 373.2 54.4 372.4 54.5 371.6 54.5 370.8 54.6 370.1 54.7 369.3 54.7 368.5 54.8 367.7 54.8 366.9 54.9 366.1 54.9 365.3 55 364.5 55 363.7 55.1 362.9 55.1 362.1 55.2 361.3 55.2 360.5 55.3 359.7 55.3 358.9 55.4 358.1 55.4 357.3 55.4 356.5 55.5 355.7 55.5 354.9 55.6 354.1 55.6 353.3 55.7 352.5 55.7 351.7 55.8 350.9 55.8 350.1 55.9 349.3 55.9 348.5 55.9 347.7 56 346.9 56 346.1 56.1 345.3 56.1 344.5 56.2 343.7 56.2 342.9 56.3 342.1 56.3 341.3 56.3 340.5 56.4 339.7 56.4 338.9 56.5 338.1 56.5 337.3 56.6 336.5 56.6 335.7 56.7 334.9 56.7 334.1 56.8 333.3 56.8 332.5 56.9 331.6 56.9 330.6 57 329.6 57 328.5 57.1 327.4 57.1 326.4 57.2 325.4 57.2 324.5 57.3 323.6 57.4 322.9 57.4 322.3 57.6 321.8 57.7 321.6 57.8 321.5 58.4 322 59 322.7 59.4 323.4 59.7 324.1 60 324.8 60.3 325.5 60.5 326.3 60.7 327.1 61 327.9 61.2 328.7 61.4 329.5 61.6 330.3 61.9 331 62.1 331.8 62.4 332.6 62.6 333.3 62.9 334.1 63.1 334.9 63.3 335.6 63.6 336.4 63.8 337.1 64.1 337.9 64.4 338.7 64.6 339.4 64.9 340.2 65.1 340.9 65.4 341.7 65.7 342.4 65.9 343.2 66.2 344 66.5 344.7 66.8 345.5 67.1 346.2 67.4 346.9 67.7 347.7 68 348.4 68.4 349.1 68.7 349.8 69.1 350.5 69.5 351.2 69.9 351.9 70.4 352.6 70.8 353.3 71.2 353.9 71.7 354.6 72.1 355.2 72.6 355.9 73.1 356.6 73.6 357.3 74.1 357.9 74.7 358.5 75.2 359 75.9 359.4 76.5 359.8 77.3 360.2 78 360.5 78.8 360.8 79.6 360.9 80.4 361 81.2 360.8 81.9 360.5 82.7 360.1 83.3 359.6 83.8 359.1 84.2 358.5 84.6 357.9 85 357.2 85.4 356.5 85.7 355.7 86 354.9 86.3 354.1 86.6 353.3 86.8 352.5 87.1 351.7 87.3 350.9 87.6 350.2 87.8 349.4 88 348.6 88.2 347.9 88.4 347.1 88.5 346.3 88.7 345.5 88.9 344.7 89.1 343.9 89.2 343.1 89.4 342.4 89.5 341.6 89.7 340.8 89.8 340 90 339.2 90.1 338.4 90.2 337.6 90.4 336.8 90.5 336 90.6 335.3 90.7 334.5 90.9 333.7 91 332.9 91.1 332.1 91.2 331.3 91.3 330.5 91.4 329.7 91.5 328.9 91.6 328.1 91.7 327.3 91.8 326.5 91.9 325.7 92 325 92.1 324.2 92.2 323.4 92.3 322.6 92.3 321.8 92.4 321 92.5 320.2 92.6 319.4 92.7 318.6 92.7 317.8 92.8 317 92.9 316.2 93 315.4 93 314.6 93.1 313.8 93.2 313 93.3 312.2 93.4 311.4 93.4 310.6 93.5 309.8 93.6 309 93.7 308.2 93.8 307.4 93.8 306.6 93.9 305.8 94 305 94.1 304.2 94.1 303.4 94.2 302.6 94.3 301.8 94.4 301 94.4 300.2 94.5 299.4 94.6 298.7 94.7 297.9 94.8 297.1 94.9 296.3 95 295.5 95.1 294.7 95.2 293.9 95.3 293.1 95.4 292.3 95.6 291.5 95.7 290.8 95.9 290 96.1 289.2 96.2 288.4 96.4 287.6 96.7 286.8 96.9 286 97.2 285.3 97.5 284.6 97.8 283.8 98.2 282.9 98.7 282.2 99.3 281.7 99.8 281.8 100.5 282.2 101.2 282.9 101.7 283.5 102.1 284.1 102.5 284.8 102.8 285.5 103.1 286.3 103.4 287.1 103.7 287.9 104 288.6 104.4 289.3 104.7 290 105.1 290.8 105.4 291.5 105.8 292.2 106.1 292.9 106.5 293.6 106.8 294.4 107.1 295.1 107.5 295.8 107.8 296.6 108.1 297.3 108.4 298 108.7 298.8 109 299.5 109.2 300.3 109.5 301 109.8 301.8 110.1 302.5 110.4 303.3 110.7 304 111 304.8 111.3 305.5 111.6 306.2 111.9 307 112.3 307.7 112.6 308.4 112.9 309.2 113.2 309.9 113.6 310.6 113.9 311.3 114.2 312.1 114.5 312.8 114.9 313.5 115.2 314.3 115.6 315 115.9 315.7 116.2 316.4 116.6 317.2 116.9 317.9 117.3 318.6 117.6 319.3 117.9 320.1 118.3 320.8 118.6 321.5 119 322.2 119.3 323 119.7 323.7 120 324.4 120.4 325.1 120.8 325.8 121.2 326.5 121.6 327.2 122 327.9 122.4 328.6 122.8 329.2 123.3 329.9 123.7 330.5 124.2 331.2 124.7 331.8 125.1 332.5 125.6 333.1 126.1 333.7 126.6 334.4 127.2 335 127.7 335.6 128.2 336.2 128.7 336.8 129.2 337.4 129.7 338 130.3 338.6 130.8 339.2 131.4 339.8 131.9 340.4 132.5 341 133 341.5 133.6 342.1 134.2 342.6 134.8 343.2 135.4 343.7 136 344.2 136.6 344.8 137.1 345.3 137.7 345.9 138.2 346.6 138.8 347.2 139.3 347.8 139.9 348.4 140.5 348.9 141.1 349.3 141.8 349.6 142.6 349.9 143.4 350.2 144.2 350.5 145 350.6 145.7 350.6 146.4 350.3 147.1 349.9 147.8 349.3 148.5 348.8 149 348.2 149.5 347.6 149.9 347 150.3 346.4 150.6 345.7 150.9 344.9 151.3 344.2 151.6 343.4 151.9 342.6 152.2 341.8 152.5 341.1 152.8 340.3 153.1 339.5 153.5 338.8 153.9 338.1 154.2 337.4 154.6 336.7 155 335.9 155.4 335.2 155.7 334.5 156.1 333.8 156.5 333.1 157 332.4 157.4 331.8 157.9 331.2 158.4 330.5 158.9 329.8 159.4 329.1 160 328.4 160.6 327.7 161.2 327.1 161.8 326.7 162.5 326.5 163.1 326.4 163.9 326.5 164.6 326.7 165.4 327 166.2 327.4 167 327.7 167.7 328.1 168.3 328.5 168.9 329 169.5 329.5 170.1 330.1 170.6 330.7 171.2 331.4 171.7 332 172.2 332.6 172.7 333.3 173.2 333.9 173.6 334.5 174.1 335.2 174.5 335.9 175 336.5 175.4 337.2 175.8 337.9 176.2 338.6 176.7 339.3 177.1 339.9 177.5 340.6 177.9 341.3 178.3 342 178.7 342.7 179 343.5 179.4 344.2 179.8 344.9 180.2 345.6 180.6 346.3 181 347 181.4 347.6 181.9 348.3 182.3 348.9 182.8 349.6 183.3 350.2 183.8 350.9 184.3 351.5 184.8 352.1 185.4 352.7 185.9 353.3 186.5 353.8 187.1 354.3 187.7 354.8 188.4 355.3 189.1 355.8 189.8 356.2 190.5 356.5 191.3 356.7 192.1 356.8 192.9 356.9 193.7 357.1 194.5 357.1 195.3 357.2 196 357.2 196.7 357 197.4 356.7 198.1 356.2 198.7 355.6 199.3 354.9 199.9 354.2 200.4 353.6 200.9 353 201.4 352.4 201.8 351.8 202.3 351.1 202.7 350.4 203.1 349.7 203.5 349 203.9 348.3 204.3 347.6 204.7 346.9 205.1 346.2 205.5 345.5 206 344.8 206.4 344 206.8 343.3 207.2 342.6 207.7 342 208.2 341.4 208.8 341 209.5 340.6 210.3 340.2 211 340 211.7 340.1 212.4 340.5 213.1 341.1 213.7 341.7 214.2 342.3 214.7 342.9 215.2 343.5 215.6 344.2 216 344.9 216.4 345.7 216.7 346.4 217.1 347.1 217.5 347.8 217.8 348.5 218.2 349.2 218.5 350 218.9 350.7 219.2 351.4 219.5 352.1 219.8 352.9 220.1 353.6 220.4 354.4 220.6 354.8" stroke="#edb120" stroke-width="2" fill="none" stroke-dasharray="6 1.6" stroke-linejoin="round"/>
</g>
<rect x="44.8" y="250.3" width="181.2" height="175.2" fill="none" stroke="#181818" stroke-width="1.7"/>
<path d="M44.8 425.5v-2.6M44.8 250.3v2.6M89 425.5v-2.6M89 250.3v2.6M133.2 425.5v-2.6M133.2 250.3v2.6M177.4 425.5v-2.6M177.4 250.3v2.6M221.6 425.5v-2.6M221.6 250.3v2.6M44.8 425.5h2.6M226 425.5h-2.6M44.8 393.6h2.6M226 393.6h-2.6M44.8 361.8h2.6M226 361.8h-2.6M44.8 329.9h2.6M226 329.9h-2.6M44.8 298.1h2.6M226 298.1h-2.6M44.8 266.2h2.6M226 266.2h-2.6" stroke="#262626" stroke-width="1.5" fill="none"/>
<g font-size="14" fill="#262626" text-anchor="middle">
<text x="44.8" y="443.7">3.4</text>
<text x="89" y="443.7">3.6</text>
<text x="133.2" y="443.7">3.8</text>
<text x="177.4" y="443.7">4</text>
<text x="221.6" y="443.7">4.2</text>
</g>
<g font-size="14" fill="#262626" text-anchor="end">
<text x="39.3" y="430.4">0</text>
<text x="39.3" y="398.5">1</text>
<text x="39.3" y="366.7">2</text>
<text x="39.3" y="334.8">3</text>
<text x="39.3" y="303">4</text>
<text x="39.3" y="271.1">5</text>
</g>
<text font-size="16" fill="#262626" text-anchor="middle" x="135.4" y="463">Voltage (V)</text>
<text font-size="16" fill="#262626" text-anchor="middle" transform="translate(26.8,335.8) rotate(-90)" textLength="106.5" lengthAdjust="spacing">ΔQ/ΔV (Ah/V)</text>
<text font-size="10" font-weight="bold" fill="#000" x="2.1" y="255.8">D</text>
<text font-size="14.5" fill="#000" x="52.3" y="420">Cell #02</text>
<clipPath id="clipE"><rect x="283.3" y="250.3" width="180.7" height="175.2"/></clipPath>
<path d="M327.4 250.3V425.5M371.4 250.3V425.5M415.5 250.3V425.5M459.6 250.3V425.5M283.3 393.6H464M283.3 361.8H464M283.3 329.9H464M283.3 298.1H464M283.3 266.2H464" stroke="#d9d9d9" stroke-width="1.4" fill="none"/>
<g clip-path="url(#clipE)">
<path d="M293.7 392.3 294.1 389.3 294.5 386.4 294.9 383.6 295.3 380.8 295.7 377.7 296.1 373.9 296.5 368.9 296.9 362.7 297.3 355.8 297.7 348.7 298.1 341.2 298.5 333.6 298.9 326.8 299.3 320.2 299.7 314.8 300.1 311.1 300.5 308.5 300.9 307.9 301.3 307.9 301.7 307.9 302.1 307.9 302.5 307.9 302.9 307.9 303.3 307.9 303.7 307.9 304.1 307.9 304.5 309.6 304.9 311.5 305.3 313.5 305.7 315.7 306.1 318.1 306.5 320.3 306.9 322.3 307.3 323.6 307.7 324.8 308.1 325.9 308.5 327 308.9 328.1 309.3 329.2 309.7 330.3 310.1 331.3 310.5 332.3 310.9 333.3 311.3 334.3 311.7 335.2 312.1 336.2 312.5 337.1 312.9 337.9 313.3 338.8 313.7 339.6 314.1 340.4 314.5 341.2 314.9 341.9 315.3 342.6 315.7 343.4 316.1 344.1 316.5 344.7 316.9 345.4 317.3 346.1 317.7 346.7 318.1 347.4 318.5 348 318.9 348.6 319.3 349.2 319.7 349.8 320.1 350.3 320.5 350.6 320.9 350.8 321.3 351 321.7 351.3 322.1 351.5 322.5 351.7 322.9 351.4 323.3 351.1 323.7 350.7 324.1 350.3 324.5 349.9 324.9 349.4 325.3 348.9 325.7 348.4 326.1 347.3 326.5 346 326.9 344.5 327.3 342.9 327.7 341.2 328.1 339.4 328.5 337.4 328.9 335.3 329.3 333.1 329.7 330.8 330.1 328.3 330.5 326.2 330.9 324 331.3 321.5 331.7 318.6 332.1 315.3 332.5 311.8 332.9 308 333.3 304 333.7 299.9 334.1 295.6 334.5 291 334.9 287.3 335.3 283.7 335.7 279.9 336.1 276.1 336.5 271.9 336.9 266.9 337.3 262 337.7 257.9 338.1 255.1 338.5 252.6 338.9 250.3 339.3 248.5 339.7 248.3 340.1 248.3 340.5 248.3 340.9 248.3 341.3 248.3 341.7 248.3 342.1 248.3 342.5 248.3 342.9 248.3 343.3 248.3 343.7 249 344.1 250.4 344.5 251.8 344.9 253.4 345.3 255 345.7 256.5 346.1 258.2 346.5 259.9 346.9 261.8 347.3 263.7 347.7 265.6 348.1 267.5 348.5 269.3 348.9 270.9 349.3 272 349.7 273.1 350.1 274.3 350.5 275.4 350.9 276.6 351.3 277.7 351.7 278.9 352.1 280 352.5 281.2 352.9 282.3 353.3 283.4 353.7 284.5 354.1 285.6 354.5 286.7 354.9 287.9 355.3 289 355.7 290.1 356.1 291.2 356.5 292.3 356.9 293.3 357.3 294.4 357.7 295.5 358.1 296.5 358.5 297.5 358.9 298.5 359.3 299.5 359.7 300.5 360.1 301.4 360.5 302.2 360.9 303 361.3 303.7 361.7 304.5 362.1 305.3 362.5 306 362.9 306.7 363.3 307.5 363.7 308.1 364.1 308.8 364.5 309.5 364.9 310.1 365.3 310.7 365.7 311.3 366.1 311.9 366.5 312.5 366.9 313.1 367.3 313.6 367.7 314.2 368.1 314.7 368.5 315.2 368.9 315.7 369.3 316.3 369.7 316.8 370.1 317.3 370.5 317.8 370.9 318.3 371.3 318.8 371.7 319.3 372.1 319.8 372.5 320.3 372.9 320.8 373.3 321.3 373.7 321.8 374.1 322.3 374.5 322.8 374.9 323.3 375.3 323.7 375.7 324.2 376.1 324.7 376.5 325.1 376.9 325.6 377.3 326 377.7 326.5 378.1 326.9 378.5 327.3 378.9 327.7 379.3 328.2 379.7 328.6 380.1 329 380.5 329.5 380.9 329.9 381.3 330.3 381.7 330.7 382.1 331 382.5 331.4 382.9 331.8 383.3 332.1 383.7 332.4 384.1 332.7 384.5 332.9 384.9 333.1 385.3 333.4 385.7 333.6 386.1 333.8 386.5 334.1 386.9 334.3 387.3 334.5 387.7 334.7 388.1 334.7 388.5 334.3 388.9 333.7 389.3 333.1 389.7 332.5 390.1 331.9 390.5 331.2 390.9 330.5 391.3 329.7 391.7 328.8 392.1 327.9 392.5 327 392.9 326 393.3 325 393.7 324 394.1 323 394.5 322 394.9 321 395.3 320 395.7 318.9 396.1 317.7 396.5 316.5 396.9 315.3 397.3 314.2 397.7 313.2 398.1 312.3 398.5 311.6 398.9 310.9 399.3 310.2 399.7 309.5 400.1 308.9 400.5 308.3 400.9 307.7 401.3 307.2 401.7 306.8 402.1 306.4 402.5 306.1 402.9 305.9 403.3 305.9 403.7 305.9 404.1 305.9 404.5 305.9 404.9 305.9 405.3 305.9 405.7 305.9 406.1 305.9 406.5 306.1 406.9 306.3 407.3 306.6 407.7 306.9 408.1 307.2 408.5 307.6 408.9 307.9 409.3 308.3 409.7 308.7 410.1 309.1 410.5 309.5 410.9 310 411.3 310.6 411.7 311.3 412.1 312 412.5 312.8 412.9 313.6 413.3 314.4 413.7 315.2 414.1 315.9 414.5 316.6 414.9 317.4 415.3 318.1 415.7 318.9 416.1 319.7 416.5 320.4 416.9 321.2 417.3 322 417.7 322.8 418.1 323.6 418.5 324.3 418.9 325.1 419.3 325.9 419.7 326.6 420.1 327.3 420.5 328.1 420.9 328.7 421.3 329.5 421.7 330.2 422.1 330.9 422.5 331.6 422.9 332.3 423.3 333 423.7 333.7 424.1 334.4 424.5 335.1 424.9 335.8 425.3 336.5 425.7 337.1 426.1 337.8 426.5 338.4 426.9 339 427.3 339.6 427.7 340.2 428.1 340.8 428.5 341.3 428.9 341.9 429.3 342.5 429.7 343 430.1 343.5 430.5 344 430.9 344.4 431.3 344.8 431.7 345.2 432.1 345.5 432.5 345.8 432.9 346.2 433.3 346.5 433.7 346.8 434.1 347 434.5 347 434.9 346.7 435.3 346.4 435.7 346.1 436.1 345.7 436.5 345.4 436.9 345 437.3 344.6 437.7 344.2 438.1 343.8 438.5 343.4 438.9 343 439.3 342.6 439.7 342.1 440.1 341.5 440.5 340.9 440.9 340.3 441.3 339.6 441.7 338.9 442.1 338.3 442.5 337.6 442.9 337 443.3 336.4 443.7 335.8 444.1 335.4 444.5 334.9 444.9 334.4 445.3 333.9 445.7 333.4 446.1 332.9 446.5 332.5 446.9 332.1 447.3 331.7 447.7 331.4 448.1 331.1 448.5 331 448.9 331 449.3 331 449.7 331 450.1 331 450.5 331 450.9 331 451.3 331 451.7 331 452.1 331 452.5 331.2 452.9 331.5 453.3 331.8 453.7 332.2 454.1 332.6 454.5 333 454.9 333.5 455.3 334 455.7 334.5 456.1 335.1 456.5 335.7 456.9 336.2 457.3 336.8 457.7 337.5 458.1 338.2 458.5 339.1L458.5 363 458.1 363 457.7 363 457.3 363 456.9 363 456.5 362.3 456.1 361.7 455.7 361.1 455.3 360.5 454.9 360 454.5 359.6 454.1 359.2 453.7 358.9 453.3 358.6 452.9 358.3 452.5 358 452.1 357.8 451.7 357.5 451.3 357.3 450.9 357.1 450.5 357 450.1 356.8 449.7 356.9 449.3 357.1 448.9 357.2 448.5 357.4 448.1 357.7 447.7 357.9 447.3 358.1 446.9 358.3 446.5 358.5 446.1 358.8 445.7 359.1 445.3 359.5 444.9 359.8 444.5 360.2 444.1 360.5 443.7 360.9 443.3 361.2 442.9 361.5 442.5 361.7 442.1 361.9 441.7 362.1 441.3 362.2 440.9 362.4 440.5 362.5 440.1 362.7 439.7 362.8 439.3 363 438.9 363.1 438.5 363.2 438.1 363.3 437.7 363.4 437.3 363.4 436.9 363.4 436.5 363.5 436.1 363.5 435.7 363.5 435.3 363.6 434.9 363.6 434.5 363.6 434.1 363.6 433.7 363.6 433.3 363.6 432.9 363.6 432.5 363.6 432.1 363.6 431.7 363.5 431.3 363.5 430.9 363.4 430.5 363.3 430.1 363.1 429.7 363 429.3 362.8 428.9 362.6 428.5 362.5 428.1 362.3 427.7 362.1 427.3 361.8 426.9 361.5 426.5 361.2 426.1 360.9 425.7 360.6 425.3 360.2 424.9 359.8 424.5 359.5 424.1 359.1 423.7 358.8 423.3 358.4 422.9 358 422.5 357.6 422.1 357.2 421.7 356.8 421.3 356.4 420.9 356 420.5 355.5 420.1 355.1 419.7 354.6 419.3 354.2 418.9 353.8 418.5 353.3 418.1 352.9 417.7 352.5 417.3 352 416.9 351.6 416.5 351.2 416.1 350.8 415.7 350.3 415.3 349.9 414.9 349.5 414.5 349.1 414.1 348.7 413.7 348.3 413.3 347.9 412.9 347.5 412.5 347.1 412.1 346.8 411.7 346.4 411.3 346.1 410.9 345.7 410.5 345.3 410.1 345 409.7 344.6 409.3 344.2 408.9 343.8 408.5 343.5 408.1 343.2 407.7 343 407.3 342.8 406.9 342.7 406.5 342.6 406.1 342.5 405.7 342.4 405.3 342.4 404.9 342.4 404.5 342.4 404.1 342.4 403.7 342.4 403.3 342.5 402.9 342.7 402.5 342.9 402.1 343.1 401.7 343.3 401.3 343.5 400.9 343.9 400.5 344.4 400.1 344.9 399.7 345.5 399.3 346.1 398.9 346.7 398.5 347.3 398.1 347.8 397.7 348.3 397.3 348.7 396.9 349.3 396.5 349.8 396.1 350.3 395.7 350.7 395.3 351.2 394.9 351.6 394.5 352 394.1 352.4 393.7 352.8 393.3 353 392.9 353.3 392.5 353.5 392.1 353.7 391.7 353.9 391.3 354.2 390.9 354.4 390.5 354.6 390.1 354.7 389.7 354.8 389.3 354.8 388.9 354.8 388.5 354.8 388.1 354.8 387.7 354.8 387.3 354.8 386.9 354.8 386.5 354.8 386.1 354.8 385.7 354.8 385.3 354.7 384.9 354.7 384.5 354.6 384.1 354.5 383.7 354.4 383.3 354.3 382.9 354.1 382.5 354 382.1 353.9 381.7 353.7 381.3 353.6 380.9 353.4 380.5 353.3 380.1 353.1 379.7 352.9 379.3 352.7 378.9 352.4 378.5 352.2 378.1 351.9 377.7 351.7 377.3 351.4 376.9 351.1 376.5 350.8 376.1 350.6 375.7 350.3 375.3 350 374.9 349.7 374.5 349.4 374.1 349.2 373.7 348.9 373.3 348.6 372.9 348.3 372.5 348 372.1 347.7 371.7 347.3 371.3 347 370.9 346.7 370.5 346.4 370.1 346 369.7 345.7 369.3 345.3 368.9 345 368.5 344.6 368.1 344.2 367.7 343.9 367.3 343.5 366.9 343.1 366.5 342.8 366.1 342.4 365.7 342 365.3 341.6 364.9 341.2 364.5 340.9 364.1 340.5 363.7 340.1 363.3 339.6 362.9 339.2 362.5 338.8 362.1 338.3 361.7 337.9 361.3 337.4 360.9 336.9 360.5 336.5 360.1 335.9 359.7 335.4 359.3 334.9 358.9 334.3 358.5 333.8 358.1 333.2 357.7 332.6 357.3 332 356.9 331.5 356.5 330.9 356.1 330.4 355.7 329.9 355.3 329.4 354.9 328.9 354.5 328.3 354.1 327.8 353.7 327.2 353.3 326.7 352.9 326.1 352.5 325.6 352.1 325 351.7 324.5 351.3 323.9 350.9 323.4 350.5 322.8 350.1 322.3 349.7 321.7 349.3 321.2 348.9 320.6 348.5 320.1 348.1 319.5 347.7 319 347.3 318.4 346.9 317.9 346.5 317.4 346.1 316.8 345.7 316.3 345.3 316.1 344.9 315.9 344.5 315.7 344.1 315.9 343.7 316.2 343.3 316.5 342.9 317.2 342.5 318.5 342.1 320.3 341.7 322.4 341.3 324.6 340.9 327 340.5 330 340.1 333.6 339.7 337.1 339.3 340.1 338.9 342.9 338.5 345.6 338.1 348.2 337.7 350.5 337.3 352.2 336.9 353.8 336.5 355.3 336.1 356.8 335.7 358.2 335.3 359.6 334.9 360.7 334.5 361.8 334.1 362.6 333.7 363.2 333.3 363.8 332.9 364.1 332.5 364.4 332.1 364.7 331.7 364.9 331.3 365.1 330.9 365.2 330.5 365.2 330.1 365.2 329.7 365.2 329.3 365.2 328.9 365.2 328.5 365.2 328.1 365.4 327.7 365.7 327.3 365.9 326.9 366.1 326.5 366.3 326.1 366.4 325.7 366.5 325.3 366.6 324.9 366.6 324.5 366.6 324.1 366.6 323.7 366.6 323.3 366.6 322.9 366.6 322.5 366.6 322.1 366.6 321.7 366.6 321.3 366.5 320.9 366.4 320.5 366.2 320.1 366 319.7 365.8 319.3 365.5 318.9 365.2 318.5 364.9 318.1 364.6 317.7 364.3 317.3 364 316.9 363.6 316.5 363.3 316.1 363 315.7 362.7 315.3 362.3 314.9 361.9 314.5 361.4 314.1 361 313.7 360.6 313.3 360.2 312.9 359.8 312.5 359.3 312.1 358.9 311.7 358.4 311.3 357.9 310.9 357.5 310.5 357 310.1 356.5 309.7 356 309.3 355.5 308.9 354.9 308.5 354.4 308.1 353.9 307.7 353.3 307.3 352.7 306.9 352.1 306.5 351.5 306.1 350.9 305.7 350.3 305.3 349.6 304.9 349 304.5 348.3 304.1 347.6 303.7 346.9 303.3 346.4 302.9 345.8 302.5 348.5 302.1 352.3 301.7 356.5 301.3 361.3 300.9 366.2 300.5 371 300.1 376.1 299.7 381 299.3 385 298.9 387.9 298.5 390.4 298.1 392.6 297.7 394.8 297.3 397.1 296.9 399.5 296.5 401.8 296.1 404.2 295.7 406.5 295.3 408.8 294.9 408.8 294.5 408.8 294.1 408.8 293.7 408.8Z" fill="#0072bd"/>
<path d="M293.7 406.8L293.8 406 293.9 405.2 294.1 404.4 294.2 403.6 294.3 402.8 294.4 402.1 294.6 401.3 294.7 400.5 294.8 399.7 294.9 398.9 295 398.1 295.2 397.3 295.3 396.5 295.4 395.7 295.5 394.9 295.6 394.1 295.7 393.4 295.9 392.6 296 391.8 296.1 391 296.2 390.2 296.4 389.4 296.5 388.6 296.6 387.8 296.8 387 296.9 386.2 297 385.4 297.1 384.7 297.2 383.9 297.3 383.1 297.4 382.3 297.5 381.5 297.6 380.7 297.7 379.9 297.8 379.1 297.9 378.3 297.9 377.5 298 376.7 298.1 375.9 298.1 375.1 298.2 374.3 298.3 373.5 298.3 372.7 298.4 371.9 298.4 371.1 298.5 370.3 298.6 369.5 298.6 368.7 298.7 367.9 298.7 367.1 298.8 366.3 298.8 365.5 298.9 364.7 298.9 363.9 299 363.1 299 362.3 299.1 361.6 299.1 360.8 299.2 360 299.3 359.2 299.3 358.4 299.4 357.6 299.4 356.8 299.5 356 299.5 355.2 299.6 354.4 299.6 353.6 299.7 352.8 299.7 352 299.8 351.2 299.8 350.4 299.9 349.6 300 348.8 300 348 300.1 347.2 300.1 346.4 300.2 345.6 300.2 344.8 300.3 344 300.4 343.2 300.4 342.4 300.5 341.6 300.5 340.8 300.6 340 300.7 339.2 300.7 338.4 300.8 337.6 300.9 336.8 300.9 336 301 335.2 301.1 334.4 301.2 333.6 301.3 332.8 301.4 332 301.5 331.3 301.7 330.5 301.9 329.7 302.2 328.9 302.2 328.8" stroke="#0072bd" stroke-width="5.5" stroke-linecap="round" fill="none"/>
<path transform="scale(0.1)" d="M2935 4096V4068M2905 4097V4059M2950 4094V4069M2947 4050V4042M2953 3970V4028M2950 3955V4009M2939 4048V4000M2947 4002V3986M2949 4004V3976M2952 4004V3974M2969 3899V3971M2947 3876V3927M2941 3827V3918M2960 3957V3928M2961 3787V3823M2980 3915V3867M2956 3750V3864M2972 3892V3829M2978 3714V3770M3000 3718V3837M2989 3628V3719M3001 3831V3802M2984 3458V3628M2979 3696V3584M2985 3416V3550M2986 3453V3503M2994 3336V3509M3006 3589V3508M3029 3473V3323M3030 2746V3183M3014 3473V3160M3019 2974V3262M3033 3047V3377M3049 3472V3402M3043 2938V3260M3041 3085V3336M3045 3487V3344M3046 3116V3317M3041 3485V3335M3034 3512V3319M3051 3111V3376M3047 3507V3377M3050 3514V3406M3057 3548V3358M3048 3525V3358M3048 3204V3440M3068 3227V3368M3055 3225V3420M3060 3539V3432M3094 3273V3420M3077 3550V3427M3079 3267V3421M3095 3623V3492M3088 3586V3460M3116 3612V3486M3107 3576V3464M3104 3612V3511M3104 3584V3529M3119 3595V3520M3127 3606V3499M3108 3615V3511M3118 3604V3470M3128 3386V3505M3132 3380V3539M3140 3395V3520M3140 3630V3572M3165 3405V3517M3150 3388V3539M3162 3430V3556M3145 3638V3539M3179 3649V3580M3176 3458V3515M3185 3664V3579M3186 3452V3593M3221 3673V3533M3200 3697V3605M3233 3703V3646M3254 3469V3536M3256 3687V3566M3255 3461V3651M3261 3469V3578M3248 3399V3562M3267 3668V3533M3293 3704V3573M3276 3671V3528M3282 3687V3547M3294 3291V3538M3300 3694V3550M3288 3299V3525M3272 3683V3547M3309 3690V3465M3305 3695V3507M3323 3672V3472M3297 2906V3487M3312 3738V3467M3307 3678V3491M3313 3668V3462M3324 3670V3386M3333 3089V3433M3313 3679V3485M3336 3022V3432M3338 2687V3496M3345 2976V3505M3344 2867V3383M3331 3665V3244M3338 2942V3190M3351 3641V3425M3336 2588V3397M3342 3642V3360M3358 3588V3339M3348 2795V3367M3369 3575V3438M3351 3565V3072M3367 3584V3303M3344 3549V3344M3357 3530V3160M3363 2540V3013M3363 3515V3278M3365 3481V3320M3381 3428V3224M3369 3372V2928M3388 3339V2588M3415 3287V2944M3395 3251V2983M3428 3247V3005M3413 3232V3090M3406 3269V2844M3437 3217V2867M3437 3209V2707M3445 3248V2872M3445 3212V2951M3456 3272V2781M3460 3241V3042M3460 2569V2985M3466 3226V2870M3475 3265V2975M3473 2522V2899M3477 3215V2967M3483 2617V2927M3483 3220V2950M3472 3292V2915M3478 2599V2936M3479 2590V3061M3478 2638V3004M3478 2582V2928M3505 3219V2986M3516 3289V3121M3494 3240V3035M3477 2667V3007M3481 3250V3001M3493 2646V2856M3511 3253V3096M3502 3258V2957M3526 2678V3095M3507 3280V3030M3488 2703V3058M3505 3255V3033M3498 3264V3119M3499 3262V3035M3511 3249V3000M3510 3305V3099M3511 3251V3058M3505 2724V3104M3518 3296V3010M3518 2536V3075M3524 2693V3086M3532 2797V3063M3552 2812V3085M3543 3299V3130M3555 3321V3062M3532 2813V3134M3550 2794V3278M3548 2668V3131M3551 2776V3237M3540 3352V3066M3564 3345V3182M3559 2865V3086M3551 2828V3113M3560 2800V3201M3551 3320V3236M3564 3338V3174M3565 2804V3156M3569 2883V3158M3555 2909V3134M3587 2886V3165M3566 3334V3203M3567 3359V3215M3571 3344V3184M3580 2947V3002M3582 3349V3252M3588 2837V3243M3574 2931V3221M3593 3386V3186M3565 2953V3148M3589 2953V3212M3590 3372V3176M3608 2961V3121M3614 3412V3251M3599 2993V3196M3606 2975V3240M3627 2919V3215M3609 3400V3279M3638 2944V3315M3620 2927V3264M3630 2946V3234M3622 2938V3270M3643 3027V3336M3636 3424V3296M3635 3047V3294M3645 3022V3282M3637 3450V3275M3634 2958V3300M3640 3030V3333M3640 3061V3291M3646 3449V3289M3644 3039V3292M3652 3446V3315M3653 3489V3313M3657 3077V3302M3661 3058V3216M3663 3442V3357M3678 3021V3243M3661 3459V3308M3661 3445V3189M3669 3084V3263M3660 3452V3348M3676 3487V3314M3669 3461V3302M3659 3450V3332M3672 3459V3273M3696 3458V3347M3692 3107V3376M3687 3525V3338M3701 3099V3426M3683 3488V3362M3717 3090V3293M3691 3498V3350M3713 3114V3359M3707 3490V3358M3718 3150V3270M3687 3137V3328M3715 3130V3315M3715 3147V3286M3701 3488V3239M3720 3517V3403M3722 3024V3326M3717 3111V3350M3739 3502V3393M3751 3499V3312M3723 3164V3329M3732 3182V3234M3739 3157V3428M3738 3100V3413M3754 3509V3422M3740 3024V3371M3728 3527V3271M3755 3527V3433M3750 3541V3458M3767 3202V3437M3755 3197V3386M3754 3519V3414M3750 3152V3345M3729 3203V3356M3767 3161V3396M3755 3225V3424M3767 3151V3420M3748 3575V3384M3782 3241V3344M3781 3209V3416M3781 3575V3448M3784 3213V3368M3790 3236V3417M3780 3561V3413M3795 3213V3439M3794 3547V3442M3809 3186V3446M3810 3259V3410M3823 3137V3480M3786 3624V3426M3782 3556V3390M3816 3551V3392M3812 3560V3432M3806 3572V3412M3805 3230V3491M3795 3230V3454M3828 3283V3448M3806 3215V3418M3823 3204V3412M3827 3571V3416M3849 3568V3429M3866 3599V3494M3852 3610V3469M3858 3583V3538M3859 3221V3400M3882 3591V3444M3876 3581V3458M3891 3621V3479M3891 3575V3446M3890 3274V3484M3875 3253V3483M3905 3595V3408M3900 3606V3393M3895 3613V3468M3899 3242V3482M3873 3283V3486M3890 3266V3421M3886 3279V3406M3907 3270V3535M3908 3224V3429M3910 3560V3425M3927 3568V3440M3924 3069V3430M3921 3254V3449M3936 3552V3358M3940 3200V3378M3951 3136V3424M3942 3140V3394M3948 3024V3381M3971 3560V3315M3952 3152V3378M3979 3557V3258M3941 3510V3289M3949 3113V3389M3970 3538V3349M3952 2982V3350M3956 3118V3364M3967 3069V3447M3978 3486V3395M3985 3029V3368M3976 3054V3366M3995 3079V3377M3983 3534V3329M3995 2904V3199M3976 3480V3266M4003 3501V3355M4003 3014V3346M3999 3012V3272M3989 3012V3261M4025 3029V3364M3997 3028V3204M4038 3458V3205M4004 3014V3272M4031 2994V3230M4012 3470V3369M4030 3512V3246M4024 3460V3175M4021 3005V3167M4029 3014V3320M4024 3506V3271M4025 2990V3342M4028 2740V3358M4019 2950V3378M4027 2982V3307M4043 2943V3279M4031 3468V3211M4047 3511V3258M4051 3504V3291M4045 3461V3242M4047 3462V3232M4048 2944V3274M4057 3475V3197M4068 2938V3262M4075 3525V3304M4067 3457V3208M4062 3513V3302M4074 3484V3331M4066 3459V3327M4080 2779V3305M4080 2955V3377M4084 2936V3239M4086 3489V3184M4089 3547V3264M4103 3006V3310M4096 2893V3184M4091 2957V3343M4104 3513V3420M4103 2945V3308M4094 3506V3368M4101 3479V3233M4096 3483V3307M4099 2983V3273M4107 3508V3234M4105 3000V3329M4114 3062V3324M4103 3476V3152M4104 2913V3251M4094 3491V3363M4113 3029V3382M4134 3003V3389M4109 3009V3365M4123 3499V3308M4133 2794V3429M4122 3523V3290M4121 3509V3283M4125 3087V3398M4122 3498V3351M4136 3546V3408M4141 3503V3401M4136 3089V3306M4145 3502V3318M4130 3522V3276M4142 3122V3397M4142 3028V3384M4142 3553V3349M4168 3069V3379M4148 3609V3306M4150 3039V3386M4149 3107V3306M4175 3165V3480M4157 3180V3463M4170 3535V3400M4159 3563V3363M4149 3200V3502M4181 3567V3437M4179 3164V3434M4190 3119V3399M4179 3211V3344M4209 3235V3381M4205 3560V3423M4228 3221V3469M4209 3578V3448M4213 3245V3497M4207 3624V3444M4227 3275V3532M4225 3224V3434M4228 3603V3369M4217 3585V3427M4230 3612V3452M4243 3215V3474M4258 3323V3513M4262 3337V3492M4248 3309V3529M4253 3615V3528M4251 3635V3542M4266 3337V3507M4259 3353V3517M4270 3333V3512M4256 3621V3555M4267 3341V3551M4261 3630V3574M4278 3650V3487M4277 3385V3537M4289 3386V3540M4287 3674V3513M4287 3647V3532M4289 3332V3492M4294 3336V3550M4298 3645V3541M4306 3376V3576M4305 3669V3465M4328 3438V3539M4308 3427V3545M4328 3694V3527M4347 3339V3598M4318 3361V3518M4327 3416V3600M4334 3661V3531M4326 3432V3542M4329 3661V3577M4340 3661V3577M4352 3661V3555M4339 3652V3551M4342 3653V3556M4345 3652V3590M4367 3441V3567M4327 3419V3605M4349 3658V3573M4363 3667V3589M4378 3420V3575M4363 3421V3576M4361 3650V3503M4393 3664V3497M4391 3412V3589M4392 3392V3542M4402 3654V3543M4410 3655V3587M4389 3388V3527M4417 3650V3581M4402 3649V3571M4392 3389V3545M4417 3374V3434M4427 3384V3523M4433 3318V3431M4411 3345V3548M4401 3652V3535M4402 3655V3528M4449 3117V3482M4438 3613V3603M4453 3649V3494M4435 3620V3505M4433 3276V3493M4453 3610V3481M4472 3653V3484M4459 3276V3446M4482 3604V3451M4468 3638V3537M4491 3623V3471M4479 3270V3491M4499 3271V3409M4480 3234V3429M4490 3238V3404M4486 3254V3376M4506 3595V3443M4486 3622V3490M4501 3612V3425M4507 3253V3535M4515 3256V3425M4521 3595V3489M4518 3256V3484M4523 3226V3409M4512 3124V3425M4516 3268V3495M4532 3593V3474M4515 3129V3532M4525 3254V3415M4518 3609V3426M4516 3598V3486M4545 3632V3508M4545 3637V3496M4578 3312V3503M4573 3216V3435M4536 3278V3411M4562 3320V3547M4559 3616V3450M4559 3286V3510M4550 3620V3491M4559 3647V3493M4566 3285V3564M4578 3725V3514M4602 3392V3528" stroke="#0072bd" stroke-opacity="0.3" stroke-width="6" fill="none"/>
<path transform="scale(0.1)" d="M2897 4097h17M2919 4013h17M2922 4033h17M2924 3853h17M2926 4096h17M2926 4066h17M2927 4042h17M2927 4042h17M2928 4092h17M2930 4081h17M2930 3950h17M2931 4048h17M2931 3941h17M2931 3984h17M2931 4004h17M2932 4041h17M2932 3827h17M2933 4027h17M2934 4050h17M2934 4004h17M2936 4088h17M2938 4002h17M2938 4050h17M2939 3876h17M2940 3999h17M2941 3939h17M2941 4004h17M2941 3955h17M2941 3926h17M2942 4094h17M2942 3974h17M2942 3930h17M2943 4000h17M2943 4004h17M2945 3970h17M2945 3942h17M2945 4010h17M2946 3978h17M2947 3810h17M2947 3750h17M2947 3868h17M2948 3721h17M2948 3816h17M2949 3981h17M2950 4041h17M2950 3764h17M2951 3922h17M2951 3992h17M2951 3916h17M2952 3932h17M2952 3957h17M2952 3968h17M2953 3787h17M2953 3923h17M2955 3870h17M2955 3927h17M2956 3828h17M2956 4065h17M2958 3953h17M2959 3903h17M2959 3633h17M2960 3809h17M2960 3899h17M2961 3776h17M2961 3814h17M2962 3537h17M2963 3725h17M2964 3892h17M2964 3846h17M2965 3806h17M2965 3880h17M2966 3854h17M2966 3839h17M2968 3631h17M2968 3881h17M2969 3854h17M2969 3714h17M2970 3496h17M2970 3856h17M2970 3689h17M2970 3874h17M2970 3811h17M2970 3696h17M2971 3915h17M2974 3735h17M2976 3552h17M2976 3458h17M2976 3812h17M2976 3630h17M2977 3416h17M2977 3453h17M2978 3724h17M2978 3385h17M2978 3475h17M2978 3743h17M2978 3790h17M2979 3766h17M2979 3756h17M2979 3615h17M2979 3788h17M2980 3350h17M2980 3628h17M2981 3625h17M2982 3887h17M2983 3469h17M2983 3822h17M2984 3908h17M2985 3814h17M2986 3484h17M2986 3336h17M2986 3480h17M2987 3707h17M2987 3342h17M2991 3084h17M2992 3725h17M2992 3718h17M2993 3831h17M2994 3626h17M2994 3124h17M2994 3576h17M2996 3522h17M2996 3157h17M2996 3160h17M2997 3450h17M2997 3589h17M2998 3522h17M2998 3118h17M2998 3427h17M2999 3121h17M3001 3163h17M3001 3470h17M3001 3099h17M3002 3030h17M3003 3457h17M3003 3030h17M3004 3458h17M3004 2916h17M3005 3423h17M3005 3473h17M3005 3785h17M3005 3062h17M3007 3442h17M3007 3446h17M3007 3129h17M3007 3163h17M3008 3456h17M3008 3056h17M3009 3447h17M3009 3078h17M3010 3101h17M3010 3092h17M3010 3099h17M3011 3455h17M3011 2974h17M3011 3452h17M3011 3199h17M3012 2927h17M3012 3049h17M3012 3492h17M3012 3447h17M3013 3442h17M3013 3051h17M3014 3094h17M3014 3491h17M3014 3470h17M3015 3435h17M3015 3147h17M3016 3083h17M3017 2985h17M3017 3053h17M3019 3454h17M3019 3480h17M3019 3078h17M3019 3093h17M3020 3141h17M3020 3473h17M3020 3446h17M3021 3046h17M3021 3099h17M3022 3039h17M3022 3039h17M3022 2746h17M3022 3093h17M3022 3444h17M3023 3475h17M3025 3047h17M3025 3087h17M3025 3069h17M3026 3482h17M3026 3512h17M3026 3146h17M3026 3478h17M3026 3449h17M3027 3508h17M3027 3119h17M3027 3128h17M3027 3055h17M3027 3125h17M3028 3443h17M3028 3105h17M3029 3138h17M3029 3109h17M3030 3498h17M3031 3070h17M3032 3485h17M3033 3478h17M3033 3085h17M3034 3447h17M3034 3435h17M3034 3160h17M3034 2938h17M3035 3473h17M3036 3256h17M3036 3177h17M3036 3487h17M3037 3155h17M3037 3486h17M3037 3080h17M3037 3116h17M3038 3507h17M3038 3173h17M3039 3182h17M3039 3217h17M3039 3525h17M3039 3477h17M3039 3204h17M3040 3459h17M3040 3211h17M3040 3472h17M3041 3159h17M3041 3482h17M3041 3514h17M3042 3117h17M3042 3166h17M3042 3111h17M3042 3500h17M3042 3254h17M3043 3519h17M3044 3456h17M3044 3241h17M3044 3247h17M3045 3265h17M3045 3474h17M3045 3206h17M3045 3488h17M3046 3226h17M3046 3497h17M3046 3481h17M3046 3224h17M3046 3225h17M3047 3201h17M3047 3248h17M3048 3231h17M3049 3548h17M3049 3464h17M3049 3212h17M3049 3238h17M3050 3449h17M3051 3223h17M3051 3231h17M3051 3247h17M3052 3539h17M3052 3219h17M3053 3222h17M3055 3244h17M3055 3016h17M3055 3498h17M3056 3474h17M3056 3229h17M3057 3520h17M3058 3509h17M3059 3209h17M3060 3227h17M3060 3232h17M3061 3194h17M3061 3491h17M3061 3506h17M3061 3544h17M3063 3258h17M3063 3476h17M3066 3249h17M3066 3498h17M3066 3228h17M3067 3241h17M3067 3550h17M3067 3220h17M3068 3549h17M3068 3517h17M3068 3550h17M3070 3516h17M3071 3267h17M3071 3527h17M3071 3347h17M3071 3254h17M3072 3306h17M3072 3507h17M3074 3293h17M3074 3228h17M3074 3550h17M3074 3575h17M3074 3502h17M3075 3519h17M3076 3326h17M3077 3090h17M3078 3303h17M3079 3279h17M3079 3259h17M3079 3533h17M3080 3586h17M3081 3505h17M3081 3347h17M3082 3510h17M3082 3332h17M3083 3606h17M3083 3279h17M3083 3556h17M3084 3564h17M3085 3273h17M3086 3524h17M3086 3542h17M3087 3506h17M3087 3277h17M3087 3316h17M3087 3361h17M3087 3623h17M3088 3292h17M3088 3275h17M3089 3583h17M3089 3550h17M3090 3317h17M3091 3345h17M3091 3530h17M3092 3531h17M3092 3319h17M3093 3545h17M3093 3352h17M3093 3327h17M3094 3331h17M3094 3343h17M3095 3364h17M3095 3291h17M3095 3373h17M3095 3535h17M3095 3584h17M3095 3612h17M3095 3567h17M3096 3558h17M3096 3551h17M3096 3546h17M3097 3336h17M3097 3372h17M3097 3530h17M3098 3338h17M3099 3570h17M3099 3374h17M3099 3576h17M3099 3615h17M3100 3382h17M3101 3593h17M3102 3406h17M3102 3559h17M3102 3366h17M3102 3625h17M3103 3395h17M3104 3384h17M3104 3574h17M3105 3246h17M3105 3363h17M3105 3546h17M3105 3549h17M3107 3362h17M3107 3369h17M3107 3570h17M3107 3569h17M3107 3560h17M3108 3612h17M3108 3578h17M3108 3411h17M3109 3568h17M3109 3597h17M3110 3604h17M3110 3616h17M3110 3553h17M3111 3595h17M3111 3395h17M3113 3579h17M3115 3587h17M3115 3594h17M3115 3387h17M3116 3411h17M3117 3387h17M3118 3606h17M3119 3584h17M3119 3386h17M3119 3591h17M3120 3419h17M3120 3581h17M3121 3597h17M3122 3591h17M3123 3574h17M3123 3410h17M3123 3582h17M3123 3577h17M3123 3380h17M3127 3602h17M3127 3597h17M3128 3589h17M3129 3595h17M3129 3582h17M3130 3441h17M3131 3630h17M3132 3395h17M3132 3358h17M3132 3603h17M3132 3616h17M3132 3620h17M3134 3457h17M3136 3618h17M3136 3638h17M3137 3604h17M3137 3599h17M3139 3425h17M3139 3438h17M3140 3424h17M3140 3602h17M3141 3388h17M3142 3455h17M3144 3473h17M3144 3444h17M3144 3451h17M3145 3437h17M3145 3460h17M3146 3429h17M3147 3451h17M3147 3499h17M3147 3630h17M3148 3621h17M3150 3628h17M3150 3444h17M3151 3600h17M3151 3428h17M3151 3628h17M3151 3615h17M3153 3643h17M3153 3430h17M3154 3461h17M3155 3498h17M3155 3405h17M3157 3486h17M3157 3663h17M3157 3405h17M3159 3619h17M3159 3626h17M3160 3484h17M3162 3453h17M3163 3474h17M3167 3458h17M3167 3637h17M3167 3631h17M3167 3477h17M3168 3670h17M3169 3646h17M3169 3483h17M3169 3516h17M3170 3463h17M3171 3649h17M3171 3630h17M3173 3488h17M3173 3635h17M3173 3645h17M3175 3632h17M3175 3472h17M3176 3444h17M3176 3651h17M3176 3632h17M3176 3664h17M3177 3502h17M3177 3647h17M3178 3494h17M3178 3452h17M3178 3651h17M3178 3643h17M3178 3630h17M3179 3502h17M3179 3644h17M3180 3479h17M3182 3494h17M3183 3652h17M3183 3638h17M3184 3651h17M3185 3638h17M3186 3516h17M3186 3665h17M3187 3493h17M3188 3638h17M3188 3645h17M3190 3642h17M3190 3405h17M3190 3663h17M3191 3475h17M3191 3697h17M3192 3658h17M3192 3643h17M3193 3506h17M3193 3513h17M3194 3657h17M3195 3500h17M3195 3465h17M3196 3488h17M3196 3652h17M3196 3668h17M3197 3472h17M3198 3689h17M3201 3657h17M3202 3654h17M3202 3651h17M3203 3519h17M3204 3697h17M3206 3485h17M3206 3676h17M3206 3669h17M3206 3659h17M3208 3659h17M3209 3521h17M3209 3413h17M3210 3695h17M3212 3500h17M3212 3517h17M3212 3673h17M3213 3658h17M3214 3519h17M3214 3504h17M3214 3662h17M3215 3495h17M3215 3660h17M3216 3526h17M3216 3678h17M3217 3665h17M3217 3514h17M3218 3670h17M3219 3524h17M3219 3680h17M3220 3515h17M3220 3674h17M3221 3662h17M3222 3655h17M3222 3487h17M3222 3663h17M3223 3670h17M3223 3659h17M3224 3667h17M3224 3501h17M3224 3530h17M3224 3516h17M3225 3487h17M3225 3660h17M3225 3703h17M3226 3504h17M3226 3514h17M3227 3664h17M3227 3423h17M3228 3498h17M3228 3484h17M3229 3662h17M3229 3500h17M3229 3689h17M3231 3501h17M3231 3660h17M3232 3662h17M3235 3671h17M3235 3519h17M3236 3513h17M3236 3490h17M3236 3666h17M3236 3505h17M3237 3659h17M3237 3659h17M3238 3665h17M3239 3682h17M3239 3399h17M3240 3676h17M3240 3669h17M3240 3682h17M3240 3661h17M3241 3496h17M3244 3665h17M3245 3674h17M3245 3506h17M3246 3469h17M3246 3664h17M3246 3461h17M3247 3503h17M3247 3713h17M3247 3658h17M3247 3687h17M3248 3660h17M3250 3527h17M3251 3669h17M3252 3653h17M3252 3496h17M3252 3469h17M3253 3478h17M3254 3468h17M3255 3681h17M3255 3665h17M3255 3675h17M3255 3468h17M3257 3438h17M3258 3653h17M3258 3643h17M3258 3668h17M3258 3444h17M3258 3382h17M3259 3649h17M3259 3503h17M3259 3427h17M3260 3461h17M3261 3493h17M3262 3478h17M3262 3665h17M3262 3650h17M3263 3482h17M3263 3392h17M3263 3649h17M3263 3680h17M3264 3683h17M3264 3656h17M3266 3658h17M3267 3671h17M3267 3661h17M3268 3662h17M3269 3662h17M3270 3465h17M3271 3677h17M3272 3449h17M3273 3687h17M3275 3469h17M3275 3716h17M3275 3412h17M3276 3663h17M3276 3406h17M3277 3418h17M3278 3652h17M3279 3458h17M3279 3299h17M3280 3485h17M3280 3383h17M3281 3652h17M3281 3659h17M3283 3669h17M3283 3670h17M3284 3704h17M3286 3291h17M3286 3199h17M3286 3689h17M3286 3700h17M3287 3684h17M3287 3646h17M3288 2906h17M3290 3666h17M3291 3347h17M3291 3694h17M3292 3409h17M3293 3212h17M3294 3637h17M3295 3404h17M3296 3639h17M3296 3695h17M3297 3663h17M3298 3678h17M3298 3382h17M3298 3296h17M3298 3659h17M3299 3666h17M3299 3379h17M3300 3624h17M3300 3690h17M3300 3646h17M3301 3233h17M3302 3651h17M3302 3658h17M3302 3606h17M3303 3655h17M3304 3671h17M3304 3738h17M3304 3679h17M3304 3668h17M3305 3405h17M3305 3122h17M3307 3635h17M3308 3671h17M3308 3180h17M3309 3639h17M3309 3172h17M3309 3646h17M3311 3653h17M3311 3643h17M3311 3639h17M3311 3684h17M3311 2982h17M3312 3188h17M3313 3265h17M3313 3659h17M3314 3644h17M3314 3670h17M3314 2845h17M3314 3276h17M3314 3177h17M3315 3683h17M3315 3672h17M3315 3082h17M3316 3670h17M3317 3589h17M3317 3227h17M3319 3099h17M3320 3184h17M3322 3597h17M3322 3181h17M3322 3638h17M3322 3142h17M3323 3665h17M3323 3243h17M3323 3050h17M3323 3643h17M3323 3638h17M3324 3564h17M3324 3089h17M3325 3580h17M3326 3025h17M3327 3275h17M3327 3616h17M3327 3140h17M3327 2588h17M3327 3022h17M3328 3596h17M3328 3637h17M3328 3211h17M3328 3596h17M3329 3623h17M3329 3110h17M3329 3597h17M3329 2687h17M3329 3116h17M3330 3602h17M3330 2942h17M3330 3645h17M3330 3188h17M3330 2965h17M3330 3619h17M3331 3623h17M3332 3616h17M3332 3615h17M3333 3642h17M3333 3572h17M3333 3625h17M3334 2584h17M3334 3154h17M3334 3147h17M3334 3516h17M3334 3593h17M3335 2577h17M3335 2867h17M3336 3549h17M3336 2921h17M3336 2976h17M3336 3625h17M3336 3029h17M3337 3567h17M3337 3171h17M3337 2914h17M3338 3564h17M3338 3617h17M3338 2863h17M3338 3588h17M3339 3555h17M3339 3508h17M3339 2795h17M3340 3567h17M3340 3139h17M3341 3534h17M3341 2700h17M3341 3507h17M3342 3030h17M3342 2876h17M3342 3641h17M3342 3565h17M3342 2966h17M3343 2989h17M3343 3529h17M3343 3603h17M3344 3113h17M3345 2845h17M3345 3523h17M3346 2953h17M3346 3549h17M3347 2871h17M3347 2995h17M3348 3100h17M3348 2962h17M3348 3530h17M3349 3588h17M3350 3541h17M3350 2765h17M3350 3011h17M3351 2906h17M3351 2940h17M3351 3440h17M3351 3570h17M3351 2960h17M3353 2846h17M3354 3540h17M3354 3023h17M3354 3491h17M3354 3515h17M3355 2540h17M3355 2695h17M3357 3481h17M3357 3459h17M3357 3059h17M3358 2880h17M3358 2845h17M3358 3527h17M3359 3584h17M3359 2715h17M3360 3575h17M3361 3372h17M3361 3362h17M3361 3441h17M3362 3458h17M3362 3401h17M3362 3548h17M3362 2915h17M3363 3473h17M3363 2867h17M3364 2766h17M3364 2852h17M3364 2775h17M3365 2765h17M3365 2719h17M3366 3468h17M3366 3477h17M3366 3465h17M3367 3266h17M3367 2562h17M3368 3444h17M3369 2624h17M3369 2571h17M3370 2639h17M3370 2584h17M3370 3282h17M3371 3449h17M3372 3219h17M3373 3428h17M3373 3317h17M3373 3429h17M3373 3544h17M3373 3530h17M3373 3464h17M3373 2825h17M3374 2722h17M3374 2733h17M3374 2559h17M3375 3330h17M3375 2641h17M3376 3463h17M3376 3417h17M3376 3282h17M3377 2683h17M3377 2592h17M3378 2759h17M3379 3308h17M3379 3284h17M3380 3339h17M3380 2503h17M3381 2517h17M3381 3404h17M3382 3362h17M3383 2686h17M3383 3490h17M3384 3355h17M3384 2559h17M3385 2538h17M3386 2645h17M3386 2496h17M3387 3251h17M3387 3466h17M3388 3391h17M3391 3170h17M3391 3224h17M3391 2526h17M3391 3181h17M3391 3296h17M3392 2509h17M3392 3164h17M3394 2628h17M3394 3289h17M3394 3374h17M3394 2540h17M3396 3352h17M3396 2499h17M3397 3323h17M3397 3241h17M3397 2708h17M3397 3269h17M3398 3155h17M3400 3185h17M3401 3339h17M3401 3253h17M3402 3177h17M3402 2596h17M3403 2509h17M3404 3231h17M3404 2523h17M3404 3232h17M3405 2538h17M3405 3153h17M3406 3157h17M3407 3287h17M3407 2541h17M3407 3255h17M3408 3172h17M3408 2494h17M3408 3204h17M3409 3254h17M3409 2582h17M3409 3232h17M3410 3150h17M3411 2525h17M3412 3156h17M3412 3180h17M3413 3166h17M3413 3173h17M3415 2498h17M3415 2528h17M3416 3252h17M3416 2570h17M3416 3166h17M3417 3218h17M3417 3207h17M3418 3146h17M3418 3206h17M3419 3136h17M3419 3247h17M3420 3146h17M3420 2608h17M3421 2547h17M3422 3276h17M3423 2571h17M3423 2548h17M3425 3170h17M3425 3141h17M3425 3180h17M3426 3198h17M3426 2541h17M3426 3177h17M3426 3181h17M3426 3146h17M3426 3165h17M3428 2531h17M3428 3200h17M3428 3178h17M3428 3158h17M3428 3209h17M3428 2649h17M3428 3217h17M3428 3179h17M3429 2605h17M3429 3182h17M3431 2549h17M3431 3211h17M3432 3181h17M3432 3188h17M3432 3144h17M3433 3161h17M3434 2593h17M3434 2640h17M3434 3139h17M3434 2512h17M3434 2590h17M3434 2502h17M3435 2527h17M3435 2595h17M3435 2603h17M3435 3153h17M3436 3160h17M3436 3133h17M3436 3140h17M3437 3212h17M3437 3248h17M3438 2560h17M3438 3154h17M3439 3189h17M3440 3148h17M3440 3175h17M3440 3202h17M3440 3139h17M3441 3205h17M3442 2604h17M3442 2649h17M3442 3200h17M3443 3140h17M3443 3208h17M3444 2609h17M3444 2620h17M3444 3160h17M3444 3199h17M3445 2606h17M3445 2623h17M3445 3238h17M3445 2573h17M3445 3142h17M3445 3201h17M3447 2492h17M3447 3228h17M3448 3194h17M3448 3262h17M3448 2539h17M3448 3272h17M3449 3156h17M3449 2716h17M3450 2665h17M3450 2525h17M3450 3208h17M3451 3241h17M3451 2625h17M3452 2569h17M3452 2688h17M3453 2660h17M3453 3187h17M3454 3152h17M3454 2619h17M3454 3146h17M3454 2717h17M3455 2704h17M3455 3173h17M3456 3187h17M3456 3201h17M3457 3198h17M3457 2714h17M3457 2692h17M3457 3164h17M3457 2711h17M3458 3190h17M3458 3183h17M3458 3226h17M3459 2661h17M3459 2649h17M3460 3150h17M3462 2714h17M3462 2693h17M3462 2691h17M3463 3198h17M3463 3194h17M3463 2707h17M3464 3292h17M3464 3155h17M3464 2717h17M3465 3230h17M3465 3292h17M3465 2522h17M3465 2641h17M3465 2643h17M3465 2594h17M3466 2685h17M3466 3265h17M3468 2671h17M3468 2648h17M3468 2724h17M3469 3215h17M3469 2667h17M3469 2599h17M3470 3152h17M3470 2638h17M3470 3213h17M3470 2582h17M3470 3208h17M3470 2551h17M3471 2590h17M3471 3193h17M3471 2777h17M3472 3250h17M3472 2737h17M3473 3187h17M3474 3189h17M3474 2773h17M3474 3220h17M3474 2771h17M3474 3192h17M3474 3161h17M3474 2617h17M3475 3281h17M3475 3219h17M3478 3161h17M3478 2742h17M3479 2723h17M3479 3220h17M3479 3214h17M3479 3282h17M3479 3217h17M3480 2690h17M3480 2703h17M3480 2765h17M3480 2794h17M3481 2753h17M3481 3158h17M3482 2797h17M3483 3180h17M3483 3204h17M3483 3166h17M3484 2646h17M3484 2718h17M3484 2758h17M3485 3180h17M3485 3240h17M3485 3195h17M3486 2702h17M3486 2666h17M3486 3187h17M3487 3212h17M3487 3308h17M3487 3184h17M3488 3216h17M3488 2785h17M3488 2745h17M3488 3201h17M3488 3196h17M3488 3205h17M3488 3170h17M3488 2715h17M3489 2716h17M3489 3204h17M3489 3264h17M3489 3270h17M3489 2780h17M3489 2754h17M3490 2702h17M3490 3206h17M3490 3262h17M3491 2485h17M3491 2708h17M3491 2730h17M3492 3376h17M3492 2693h17M3492 2752h17M3492 3225h17M3493 3250h17M3494 3205h17M3494 3258h17M3494 3201h17M3494 2559h17M3494 2760h17M3494 3185h17M3495 2850h17M3496 2831h17M3496 3255h17M3496 2717h17M3496 3185h17M3496 3219h17M3496 2724h17M3497 2764h17M3497 2780h17M3497 2821h17M3498 3182h17M3499 3280h17M3500 2816h17M3500 2778h17M3500 3241h17M3500 2851h17M3501 3248h17M3501 2662h17M3501 3270h17M3501 3305h17M3501 3204h17M3501 2746h17M3502 3251h17M3502 2720h17M3502 2750h17M3502 3249h17M3502 3253h17M3503 3251h17M3503 2829h17M3503 3200h17M3503 2808h17M3504 3202h17M3504 3206h17M3505 3320h17M3505 2832h17M3505 2683h17M3506 2590h17M3506 2752h17M3506 2549h17M3507 3256h17M3507 3215h17M3507 3289h17M3507 3223h17M3507 3317h17M3508 3219h17M3508 2776h17M3508 3209h17M3508 3205h17M3509 3249h17M3509 2859h17M3509 3195h17M3509 3256h17M3509 2830h17M3510 3296h17M3510 2536h17M3510 2727h17M3511 3271h17M3512 3246h17M3512 3209h17M3512 3218h17M3512 3300h17M3513 3257h17M3513 2759h17M3513 2652h17M3514 3296h17M3514 3285h17M3514 2822h17M3515 3222h17M3515 2872h17M3515 3279h17M3515 2693h17M3516 2753h17M3516 3277h17M3516 3333h17M3517 3216h17M3517 3254h17M3517 3265h17M3517 2678h17M3518 3265h17M3518 3226h17M3519 3311h17M3520 3214h17M3521 2869h17M3521 3250h17M3521 2863h17M3521 3209h17M3521 2858h17M3521 3210h17M3522 3243h17M3522 2734h17M3523 2813h17M3524 2797h17M3525 2888h17M3525 2831h17M3526 3264h17M3526 3304h17M3527 3257h17M3528 2881h17M3528 3272h17M3529 3284h17M3529 2860h17M3530 3318h17M3531 2920h17M3531 3310h17M3531 2863h17M3531 2861h17M3531 3352h17M3532 3250h17M3532 2787h17M3533 3241h17M3534 2845h17M3534 3293h17M3534 3238h17M3534 3328h17M3534 2874h17M3534 2813h17M3534 3299h17M3534 3269h17M3535 2865h17M3535 2774h17M3535 3278h17M3535 2809h17M3535 2807h17M3535 3248h17M3537 3232h17M3538 3246h17M3539 3259h17M3539 2738h17M3539 3259h17M3539 2668h17M3540 3304h17M3540 2573h17M3541 2794h17M3542 2828h17M3542 3320h17M3543 2776h17M3543 3286h17M3543 2892h17M3544 2812h17M3544 2900h17M3544 2910h17M3545 2861h17M3546 3265h17M3546 3321h17M3546 2956h17M3546 2909h17M3546 2832h17M3547 3018h17M3547 3257h17M3548 3286h17M3548 2780h17M3548 3273h17M3549 3274h17M3549 2961h17M3549 2932h17M3549 3273h17M3550 2968h17M3550 2973h17M3550 2865h17M3551 2980h17M3551 2946h17M3552 2800h17M3552 3287h17M3552 2940h17M3552 2938h17M3552 2972h17M3552 3278h17M3553 3335h17M3553 2924h17M3553 2943h17M3553 3309h17M3553 3297h17M3553 3254h17M3553 3376h17M3553 2855h17M3554 2942h17M3555 2967h17M3556 3345h17M3556 3302h17M3556 3285h17M3556 3338h17M3556 3275h17M3556 2804h17M3556 2836h17M3556 3274h17M3557 2919h17M3557 2953h17M3557 2965h17M3557 2947h17M3558 3031h17M3558 3334h17M3558 3281h17M3558 2968h17M3558 2911h17M3559 3359h17M3560 2997h17M3560 2793h17M3560 3302h17M3561 3304h17M3561 2883h17M3561 3311h17M3561 2905h17M3562 2754h17M3562 3344h17M3563 3288h17M3563 3319h17M3563 3325h17M3564 2948h17M3564 3321h17M3564 3315h17M3565 2931h17M3566 3306h17M3566 2969h17M3566 3313h17M3566 2999h17M3567 3264h17M3568 3350h17M3568 3374h17M3570 3351h17M3571 2947h17M3571 3316h17M3572 2936h17M3572 2958h17M3572 3028h17M3572 3312h17M3573 3048h17M3574 3349h17M3574 2991h17M3575 3320h17M3575 3368h17M3576 3318h17M3576 2991h17M3576 3390h17M3577 3024h17M3577 3299h17M3578 3355h17M3578 2886h17M3579 2921h17M3579 3380h17M3579 2996h17M3579 2923h17M3579 2837h17M3580 2953h17M3580 3039h17M3581 3357h17M3581 3305h17M3581 3372h17M3581 3367h17M3581 2952h17M3582 2914h17M3583 3345h17M3583 3320h17M3584 3323h17M3584 3290h17M3584 3019h17M3584 3023h17M3585 3386h17M3585 2967h17M3586 3006h17M3586 3359h17M3586 3322h17M3586 2901h17M3587 3338h17M3587 3357h17M3588 2961h17M3588 3047h17M3588 3328h17M3588 3288h17M3588 3354h17M3589 2816h17M3589 3306h17M3589 2881h17M3590 2974h17M3590 2993h17M3591 3348h17M3591 3044h17M3591 3038h17M3591 3337h17M3592 2846h17M3593 3014h17M3594 2993h17M3595 2940h17M3596 3328h17M3596 3360h17M3597 3365h17M3597 3407h17M3597 2961h17M3597 2978h17M3597 3354h17M3597 2975h17M3598 3009h17M3599 2986h17M3599 3373h17M3599 2961h17M3600 3400h17M3601 3386h17M3602 2978h17M3602 2969h17M3602 3330h17M3602 3036h17M3603 3038h17M3603 3099h17M3603 3340h17M3604 3369h17M3605 3412h17M3606 3080h17M3606 3360h17M3607 3405h17M3607 3064h17M3607 3344h17M3608 2976h17M3608 3380h17M3609 3024h17M3609 3048h17M3610 3422h17M3610 3063h17M3610 3350h17M3611 3415h17M3611 3065h17M3611 2927h17M3612 3377h17M3614 3084h17M3614 2938h17M3614 3089h17M3615 3368h17M3615 3336h17M3616 2937h17M3616 3370h17M3616 3441h17M3616 3025h17M3617 3077h17M3618 2977h17M3618 3106h17M3618 2919h17M3618 3370h17M3620 3383h17M3620 3081h17M3621 3114h17M3621 3116h17M3622 2946h17M3624 3390h17M3625 3386h17M3625 3360h17M3625 2958h17M3626 3448h17M3626 3047h17M3626 3119h17M3627 3388h17M3627 3382h17M3627 3365h17M3628 3424h17M3628 3402h17M3628 3410h17M3628 3394h17M3628 3349h17M3628 3450h17M3629 3127h17M3629 3395h17M3629 3363h17M3629 3415h17M3629 3146h17M3630 3066h17M3630 2944h17M3631 3435h17M3632 3061h17M3632 3030h17M3633 3364h17M3633 3385h17M3635 3027h17M3635 3400h17M3635 3039h17M3635 3435h17M3637 3386h17M3637 3022h17M3637 3449h17M3638 3385h17M3638 3079h17M3639 3077h17M3640 3137h17M3641 3030h17M3641 3383h17M3641 3060h17M3642 3406h17M3642 3118h17M3643 3446h17M3643 3386h17M3644 3127h17M3644 3489h17M3645 3071h17M3646 3140h17M3646 3099h17M3648 3386h17M3648 3438h17M3649 3165h17M3649 3077h17M3649 3109h17M3650 3167h17M3650 3396h17M3650 3416h17M3651 3450h17M3651 3452h17M3651 3422h17M3651 3398h17M3652 3105h17M3652 3488h17M3652 3128h17M3652 3058h17M3653 3118h17M3653 3459h17M3653 3445h17M3653 3083h17M3653 3127h17M3653 3401h17M3654 3395h17M3654 3442h17M3655 3432h17M3657 3405h17M3657 3440h17M3658 3128h17M3658 3126h17M3658 3411h17M3658 3420h17M3658 3137h17M3659 3451h17M3659 3407h17M3660 3420h17M3660 3084h17M3661 3461h17M3661 3491h17M3661 3146h17M3661 3171h17M3662 3137h17M3662 3393h17M3663 3399h17M3663 3433h17M3663 3459h17M3664 3414h17M3664 3425h17M3664 3139h17M3665 3427h17M3665 3434h17M3665 3002h17M3665 3470h17M3665 3431h17M3665 3435h17M3666 3138h17M3667 3508h17M3667 3487h17M3668 3155h17M3668 3153h17M3668 3130h17M3668 3168h17M3668 3164h17M3670 3021h17M3672 3419h17M3672 3178h17M3673 3193h17M3674 3448h17M3674 3488h17M3675 3447h17M3676 3164h17M3677 3435h17M3677 3445h17M3677 3183h17M3677 3468h17M3678 3458h17M3678 3147h17M3678 3525h17M3679 3137h17M3679 3430h17M3680 3181h17M3681 3416h17M3681 3196h17M3682 3519h17M3682 3199h17M3683 3190h17M3683 3429h17M3683 3498h17M3684 3107h17M3684 3446h17M3685 3151h17M3685 3434h17M3685 3174h17M3686 3459h17M3686 3189h17M3687 3172h17M3687 3482h17M3688 3457h17M3688 3458h17M3688 3465h17M3689 3477h17M3690 3469h17M3690 3153h17M3691 3132h17M3691 3450h17M3691 3185h17M3692 3139h17M3692 3470h17M3692 3488h17M3692 3216h17M3692 3099h17M3693 3197h17M3693 3470h17M3693 3218h17M3694 3165h17M3694 3461h17M3694 3156h17M3696 3442h17M3696 3457h17M3696 3207h17M3697 3451h17M3697 3126h17M3697 3175h17M3697 3434h17M3698 3177h17M3698 3224h17M3698 3462h17M3698 3143h17M3698 3490h17M3698 3482h17M3699 3439h17M3699 3059h17M3700 3173h17M3701 3462h17M3702 3458h17M3702 3435h17M3703 3205h17M3703 3509h17M3703 3212h17M3704 3114h17M3704 3204h17M3705 3454h17M3706 3130h17M3706 3147h17M3706 3508h17M3706 3466h17M3707 3480h17M3708 3530h17M3708 3525h17M3708 3481h17M3708 3453h17M3708 3212h17M3708 3111h17M3709 3470h17M3709 3166h17M3709 3090h17M3709 3170h17M3709 3150h17M3710 3183h17M3711 3237h17M3711 3108h17M3711 3517h17M3712 3469h17M3714 3024h17M3714 3483h17M3714 3181h17M3714 3185h17M3714 3164h17M3715 3029h17M3715 3485h17M3716 3225h17M3716 3497h17M3717 3469h17M3718 3496h17M3719 3458h17M3719 3484h17M3720 3483h17M3720 3527h17M3720 3469h17M3720 3477h17M3720 3478h17M3721 3190h17M3721 3203h17M3721 3501h17M3721 3215h17M3722 3202h17M3722 3479h17M3722 3461h17M3723 3485h17M3723 3237h17M3723 3182h17M3723 3461h17M3724 3180h17M3724 3245h17M3726 3486h17M3726 3508h17M3727 3237h17M3727 3236h17M3729 3466h17M3730 3100h17M3730 3157h17M3731 3492h17M3731 3502h17M3731 3188h17M3731 3024h17M3731 3485h17M3732 3482h17M3732 3485h17M3733 3487h17M3733 3152h17M3733 3206h17M3734 3244h17M3734 3503h17M3735 3188h17M3736 3492h17M3736 3234h17M3737 3482h17M3738 3258h17M3738 3573h17M3739 3496h17M3739 3246h17M3739 3575h17M3740 3245h17M3740 3241h17M3741 3541h17M3741 3229h17M3742 3152h17M3742 3252h17M3742 3195h17M3742 3499h17M3743 3483h17M3744 3209h17M3745 3283h17M3745 3490h17M3745 3505h17M3745 3509h17M3745 3519h17M3746 3475h17M3746 3527h17M3747 3225h17M3747 3197h17M3747 3275h17M3747 3483h17M3747 3517h17M3748 3494h17M3748 3276h17M3749 3263h17M3749 3490h17M3749 3280h17M3750 3512h17M3751 3490h17M3751 3298h17M3751 3523h17M3751 3233h17M3752 3494h17M3753 3493h17M3754 3221h17M3754 3498h17M3754 3487h17M3754 3312h17M3754 3504h17M3754 3240h17M3755 3138h17M3755 3492h17M3755 3499h17M3756 3488h17M3756 3507h17M3758 3599h17M3758 3268h17M3758 3508h17M3759 3161h17M3759 3151h17M3759 3202h17M3759 3230h17M3759 3517h17M3760 3267h17M3760 3499h17M3761 3256h17M3761 3230h17M3761 3280h17M3761 3506h17M3762 3262h17M3763 3291h17M3763 3277h17M3764 3500h17M3764 3239h17M3764 3529h17M3765 3503h17M3766 3259h17M3766 3512h17M3767 3237h17M3767 3264h17M3767 3517h17M3768 3502h17M3768 3256h17M3768 3508h17M3768 3515h17M3769 3299h17M3769 3523h17M3770 3499h17M3771 3515h17M3771 3292h17M3771 3561h17M3772 3193h17M3773 3275h17M3773 3209h17M3773 3505h17M3773 3575h17M3773 3556h17M3773 3284h17M3773 3277h17M3773 3241h17M3774 3540h17M3776 3213h17M3776 3520h17M3776 3295h17M3776 3284h17M3777 3288h17M3778 3624h17M3778 3530h17M3778 3536h17M3778 3545h17M3780 3522h17M3781 3545h17M3781 3279h17M3781 3236h17M3782 3286h17M3783 3522h17M3783 3535h17M3784 3515h17M3784 3507h17M3784 3327h17M3785 3307h17M3785 3497h17M3785 3547h17M3786 3190h17M3786 3517h17M3786 3529h17M3786 3230h17M3787 3213h17M3787 3528h17M3788 3526h17M3788 3522h17M3788 3269h17M3790 3298h17M3791 3609h17M3791 3305h17M3791 3254h17M3791 3314h17M3791 3293h17M3792 3512h17M3793 3523h17M3794 3328h17M3796 3285h17M3796 3306h17M3796 3581h17M3796 3513h17M3796 3324h17M3796 3230h17M3796 3323h17M3798 3215h17M3798 3527h17M3798 3572h17M3799 3315h17M3799 3516h17M3799 3306h17M3800 3332h17M3800 3296h17M3800 3186h17M3801 3569h17M3801 3259h17M3802 3573h17M3802 3311h17M3803 3334h17M3803 3585h17M3804 3548h17M3804 3560h17M3805 3523h17M3805 3526h17M3805 3318h17M3805 3531h17M3806 3542h17M3807 3533h17M3807 3329h17M3807 3565h17M3808 3550h17M3808 3551h17M3808 3306h17M3808 3551h17M3809 3563h17M3810 3535h17M3811 3542h17M3814 3311h17M3814 3204h17M3815 3530h17M3815 3137h17M3815 3325h17M3816 3328h17M3817 3544h17M3818 3550h17M3818 3571h17M3820 3541h17M3820 3283h17M3820 3564h17M3820 3304h17M3820 3254h17M3820 3535h17M3821 3547h17M3821 3335h17M3822 3546h17M3822 3585h17M3822 3334h17M3823 3550h17M3823 3533h17M3824 3339h17M3824 3319h17M3825 3276h17M3825 3540h17M3825 3544h17M3825 3579h17M3826 3549h17M3826 3596h17M3827 3568h17M3828 3535h17M3829 3316h17M3830 3539h17M3830 3324h17M3830 3315h17M3830 3529h17M3832 3200h17M3833 3239h17M3834 3319h17M3835 3548h17M3836 3338h17M3836 3538h17M3836 3538h17M3836 3534h17M3837 3550h17M3837 3327h17M3837 3549h17M3837 3552h17M3838 3535h17M3838 3318h17M3839 3538h17M3840 3325h17M3840 3242h17M3840 3568h17M3843 3341h17M3844 3610h17M3844 3542h17M3844 3541h17M3844 3355h17M3844 3551h17M3846 3350h17M3848 3539h17M3849 3587h17M3849 3286h17M3850 3583h17M3850 3221h17M3851 3603h17M3852 3356h17M3853 3354h17M3853 3549h17M3854 3294h17M3855 3348h17M3855 3319h17M3856 3538h17M3856 3539h17M3857 3554h17M3857 3291h17M3858 3599h17M3858 3558h17M3859 3329h17M3860 3554h17M3860 3300h17M3860 3336h17M3861 3548h17M3862 3552h17M3862 3361h17M3864 3355h17M3864 3599h17M3864 3283h17M3864 3601h17M3865 3591h17M3865 3549h17M3865 3339h17M3866 3557h17M3866 3566h17M3867 3253h17M3868 3581h17M3868 3359h17M3868 3352h17M3869 3346h17M3869 3330h17M3870 3540h17M3870 3332h17M3870 3544h17M3871 3347h17M3871 3343h17M3872 3549h17M3873 3344h17M3873 3600h17M3873 3591h17M3874 3559h17M3875 3296h17M3876 3357h17M3878 3349h17M3878 3279h17M3878 3554h17M3879 3358h17M3880 3250h17M3880 3352h17M3881 3336h17M3881 3350h17M3881 3274h17M3881 3266h17M3883 3329h17M3883 3575h17M3883 3621h17M3883 3554h17M3883 3613h17M3884 3561h17M3884 3345h17M3884 3580h17M3884 3550h17M3885 3545h17M3886 3322h17M3887 3613h17M3887 3574h17M3888 3562h17M3889 3561h17M3889 3538h17M3891 3242h17M3891 3606h17M3893 3286h17M3893 3312h17M3893 3291h17M3894 3559h17M3894 3543h17M3896 3311h17M3896 3342h17M3896 3595h17M3897 3534h17M3897 3559h17M3897 3543h17M3898 3557h17M3899 3293h17M3899 3270h17M3900 3224h17M3900 3291h17M3900 3538h17M3901 3313h17M3901 3536h17M3901 3560h17M3902 3285h17M3902 3527h17M3903 3566h17M3903 3530h17M3904 3305h17M3904 3357h17M3905 3293h17M3906 3587h17M3907 3522h17M3907 3301h17M3908 3329h17M3908 3543h17M3910 3527h17M3910 3549h17M3910 3543h17M3911 3321h17M3911 3506h17M3911 3274h17M3913 3254h17M3914 3187h17M3914 3524h17M3914 3287h17M3915 3575h17M3915 3517h17M3915 3308h17M3916 3536h17M3916 3069h17M3916 3532h17M3917 3558h17M3918 3532h17M3918 3531h17M3918 3307h17M3918 3568h17M3920 3307h17M3921 3585h17M3921 3266h17M3924 3198h17M3924 3297h17M3924 3204h17M3925 3518h17M3925 3519h17M3926 3508h17M3927 3496h17M3928 3552h17M3928 3537h17M3928 3539h17M3929 3318h17M3929 3273h17M3930 3537h17M3931 3234h17M3931 3248h17M3931 3264h17M3931 3200h17M3932 3200h17M3933 3519h17M3933 3510h17M3934 3140h17M3934 3501h17M3934 3259h17M3935 3512h17M3935 3259h17M3935 3541h17M3938 3270h17M3938 3243h17M3938 3237h17M3939 3531h17M3939 3263h17M3939 3498h17M3939 3489h17M3939 3555h17M3939 3215h17M3940 3024h17M3940 3497h17M3940 3495h17M3941 3113h17M3942 3526h17M3942 3136h17M3942 3526h17M3942 3462h17M3943 3214h17M3943 2982h17M3943 3258h17M3943 3152h17M3944 3511h17M3944 3223h17M3944 3190h17M3945 3521h17M3947 3528h17M3947 3192h17M3948 3118h17M3950 3495h17M3950 3508h17M3951 3205h17M3951 3516h17M3951 3195h17M3952 3141h17M3952 3235h17M3953 3228h17M3953 3498h17M3953 3508h17M3954 3534h17M3954 3498h17M3955 3449h17M3955 3136h17M3955 3494h17M3955 3211h17M3956 3179h17M3958 3069h17M3958 3186h17M3960 3220h17M3961 3526h17M3961 3538h17M3962 3206h17M3962 3560h17M3962 3484h17M3963 3130h17M3963 3516h17M3963 3113h17M3963 3470h17M3964 3109h17M3964 3490h17M3965 3199h17M3965 3461h17M3965 3434h17M3966 3154h17M3966 3540h17M3966 3208h17M3966 3019h17M3966 3521h17M3967 3474h17M3967 3054h17M3967 3492h17M3968 3480h17M3968 3478h17M3968 3491h17M3968 3459h17M3968 3153h17M3969 3212h17M3969 3480h17M3969 3131h17M3969 3483h17M3970 3486h17M3970 3451h17M3971 3557h17M3971 3487h17M3971 3473h17M3971 3183h17M3972 3488h17M3972 3456h17M3973 3476h17M3973 3446h17M3974 3131h17M3974 3158h17M3974 3440h17M3974 3534h17M3974 3111h17M3974 3147h17M3975 3499h17M3975 3132h17M3976 3029h17M3977 3475h17M3978 3151h17M3979 3121h17M3979 3145h17M3980 3178h17M3980 3527h17M3980 3012h17M3981 3040h17M3981 3140h17M3981 3474h17M3981 3113h17M3981 3221h17M3982 3076h17M3982 3083h17M3982 3110h17M3983 3456h17M3984 3158h17M3985 3438h17M3985 3460h17M3986 3051h17M3986 3456h17M3986 3027h17M3986 2904h17M3987 3079h17M3987 3116h17M3988 3435h17M3988 3120h17M3989 3028h17M3989 3514h17M3990 3012h17M3991 3433h17M3991 3110h17M3991 3126h17M3991 3072h17M3992 3460h17M3992 3094h17M3992 3111h17M3993 3442h17M3994 3501h17M3994 3014h17M3995 3448h17M3995 3014h17M3996 3503h17M3997 3472h17M3997 3019h17M3998 3429h17M3999 3036h17M3999 3114h17M4000 3452h17M4002 3417h17M4002 3418h17M4003 3444h17M4004 3447h17M4004 3470h17M4004 2958h17M4004 3450h17M4005 3061h17M4005 2821h17M4006 3112h17M4006 2987h17M4006 3116h17M4006 2910h17M4007 3413h17M4007 3511h17M4008 3005h17M4008 3045h17M4009 3044h17M4009 3452h17M4010 3105h17M4010 2950h17M4011 3420h17M4011 3091h17M4011 3433h17M4013 2993h17M4013 3443h17M4013 3005h17M4013 3429h17M4014 3418h17M4014 3437h17M4014 3088h17M4014 3424h17M4015 3455h17M4015 3037h17M4015 3441h17M4015 3460h17M4015 3506h17M4016 3050h17M4016 3029h17M4016 2990h17M4017 3434h17M4017 3502h17M4018 3492h17M4018 3085h17M4019 2982h17M4019 3087h17M4019 3056h17M4019 3437h17M4019 3057h17M4020 2740h17M4020 2977h17M4021 3418h17M4021 3014h17M4022 3512h17M4022 3415h17M4022 2994h17M4023 3468h17M4023 3072h17M4023 3415h17M4023 3065h17M4023 3055h17M4024 3419h17M4024 3489h17M4024 3436h17M4025 3065h17M4026 3420h17M4026 3417h17M4027 3464h17M4027 3437h17M4027 2913h17M4028 3419h17M4028 3053h17M4028 3430h17M4029 3417h17M4029 3418h17M4029 3026h17M4029 3436h17M4029 3413h17M4030 3083h17M4030 3458h17M4030 3505h17M4031 2979h17M4031 3057h17M4033 3043h17M4033 3419h17M4034 3418h17M4034 2943h17M4035 3449h17M4035 3419h17M4035 3061h17M4035 3420h17M4036 3461h17M4037 3068h17M4037 3500h17M4037 3428h17M4037 3437h17M4038 3065h17M4038 3014h17M4038 3458h17M4038 3462h17M4039 3511h17M4039 2944h17M4039 2725h17M4039 3434h17M4040 3079h17M4040 3418h17M4042 3504h17M4043 3071h17M4043 3023h17M4043 3062h17M4044 3023h17M4044 3429h17M4044 3467h17M4045 3081h17M4046 3053h17M4046 2996h17M4046 3027h17M4047 3089h17M4047 3071h17M4048 3421h17M4048 3475h17M4049 3010h17M4049 3074h17M4049 3416h17M4049 2986h17M4049 3424h17M4050 3458h17M4050 3052h17M4051 3486h17M4051 3096h17M4051 3448h17M4051 3063h17M4053 2994h17M4053 3513h17M4055 3420h17M4055 3541h17M4056 3070h17M4057 3090h17M4058 3099h17M4058 3459h17M4058 3457h17M4058 3435h17M4059 2938h17M4059 3448h17M4059 3418h17M4060 3420h17M4060 3436h17M4061 3098h17M4063 3014h17M4064 3424h17M4064 3049h17M4064 3095h17M4065 3444h17M4065 3093h17M4065 3484h17M4066 3047h17M4067 3436h17M4067 3525h17M4067 3057h17M4068 3434h17M4069 3050h17M4069 3412h17M4069 3447h17M4069 3033h17M4070 3059h17M4070 3455h17M4070 3495h17M4070 3414h17M4071 3091h17M4071 3416h17M4071 2779h17M4072 2955h17M4073 3032h17M4073 3421h17M4074 3441h17M4074 3052h17M4074 3095h17M4075 3466h17M4075 2936h17M4077 3463h17M4077 3489h17M4078 3419h17M4078 3447h17M4080 3438h17M4080 3547h17M4080 3127h17M4081 3059h17M4081 3443h17M4082 3431h17M4082 2957h17M4082 3103h17M4083 2969h17M4083 3092h17M4083 3433h17M4085 3500h17M4086 3506h17M4086 3420h17M4086 3491h17M4086 3019h17M4087 3118h17M4088 2893h17M4088 3483h17M4088 3467h17M4089 3459h17M4089 3122h17M4089 3459h17M4090 3098h17M4090 3087h17M4090 2983h17M4091 3441h17M4091 3438h17M4092 3108h17M4092 2970h17M4092 3140h17M4092 3430h17M4093 3479h17M4094 3063h17M4094 3006h17M4095 3476h17M4095 2945h17M4095 2913h17M4096 3513h17M4096 3089h17M4097 3462h17M4097 3000h17M4097 3106h17M4098 3444h17M4098 3499h17M4099 3508h17M4099 3423h17M4100 3084h17M4100 3004h17M4100 3451h17M4100 3057h17M4101 3009h17M4101 3450h17M4101 3456h17M4101 3448h17M4103 3062h17M4103 3124h17M4105 3170h17M4105 3029h17M4106 3062h17M4107 3451h17M4107 3530h17M4108 3453h17M4108 3478h17M4109 3147h17M4109 3455h17M4110 3192h17M4110 3142h17M4111 3148h17M4112 3440h17M4112 3482h17M4112 3465h17M4112 3093h17M4113 3509h17M4113 3099h17M4113 3498h17M4113 3147h17M4113 3466h17M4114 3435h17M4114 3113h17M4114 3523h17M4114 3499h17M4114 3449h17M4115 3531h17M4115 3113h17M4116 3156h17M4116 3087h17M4116 3477h17M4117 2992h17M4117 3484h17M4117 3182h17M4118 3499h17M4118 3458h17M4118 3119h17M4118 3122h17M4119 3455h17M4120 3184h17M4120 3160h17M4120 2847h17M4120 3116h17M4121 3170h17M4122 3055h17M4122 3522h17M4122 3459h17M4122 3159h17M4123 3156h17M4123 3160h17M4123 3156h17M4124 3116h17M4124 3440h17M4125 2794h17M4125 3495h17M4125 3003h17M4126 3490h17M4126 3073h17M4126 3456h17M4127 3451h17M4127 3089h17M4127 3546h17M4128 3153h17M4130 3480h17M4131 3037h17M4132 3214h17M4133 3503h17M4133 3190h17M4133 3458h17M4133 3122h17M4134 3168h17M4134 3028h17M4134 3553h17M4134 3453h17M4134 3191h17M4134 3485h17M4134 3466h17M4134 3504h17M4134 3472h17M4135 3213h17M4135 3485h17M4135 3490h17M4135 3195h17M4136 3487h17M4136 3552h17M4136 3502h17M4136 3150h17M4138 3472h17M4139 3188h17M4139 3146h17M4140 3609h17M4140 3200h17M4141 3479h17M4141 3107h17M4141 3179h17M4142 3512h17M4142 3039h17M4142 3541h17M4142 3504h17M4143 3167h17M4143 3508h17M4143 3492h17M4144 3147h17M4144 3539h17M4145 3511h17M4146 3220h17M4146 3214h17M4147 3471h17M4147 3208h17M4148 3483h17M4148 3508h17M4148 3180h17M4148 3488h17M4149 3483h17M4149 3501h17M4150 3241h17M4150 3563h17M4151 3213h17M4151 3150h17M4152 3165h17M4152 3518h17M4153 3493h17M4153 3233h17M4154 3260h17M4154 3167h17M4155 3496h17M4156 3221h17M4156 3515h17M4157 3217h17M4158 3495h17M4159 3244h17M4159 3260h17M4159 3069h17M4160 3236h17M4160 3243h17M4161 3241h17M4161 3535h17M4162 3511h17M4162 3233h17M4162 3489h17M4162 3237h17M4164 3185h17M4164 3247h17M4165 3189h17M4165 3255h17M4165 3232h17M4165 3184h17M4166 3532h17M4166 3520h17M4166 3165h17M4167 3507h17M4167 3530h17M4167 3251h17M4168 3050h17M4168 3268h17M4168 3558h17M4168 3273h17M4168 3238h17M4168 3502h17M4169 3291h17M4169 3508h17M4169 3252h17M4170 3510h17M4170 3211h17M4171 3164h17M4171 3268h17M4171 3522h17M4171 3232h17M4172 3525h17M4172 3531h17M4172 3527h17M4172 3544h17M4173 3567h17M4174 3515h17M4175 3505h17M4175 3293h17M4176 3527h17M4176 3282h17M4179 3280h17M4179 3254h17M4179 3213h17M4180 3521h17M4181 3190h17M4181 3260h17M4181 3119h17M4182 3584h17M4183 3309h17M4184 3248h17M4184 3278h17M4185 3323h17M4186 3278h17M4186 3266h17M4187 3278h17M4188 3292h17M4189 3545h17M4189 3542h17M4189 3309h17M4191 3244h17M4191 3279h17M4191 3288h17M4192 3287h17M4192 3337h17M4193 3315h17M4193 3306h17M4193 3301h17M4194 3572h17M4195 3547h17M4196 3514h17M4196 3534h17M4196 3565h17M4196 3560h17M4198 3518h17M4199 3544h17M4199 3624h17M4199 3567h17M4199 3583h17M4199 3316h17M4200 3297h17M4200 3306h17M4200 3323h17M4200 3281h17M4200 3578h17M4200 3279h17M4201 3235h17M4201 3355h17M4202 3552h17M4203 3306h17M4203 3302h17M4204 3558h17M4204 3300h17M4204 3327h17M4204 3299h17M4204 3245h17M4205 3551h17M4205 3300h17M4205 3287h17M4205 3543h17M4206 3238h17M4206 3337h17M4208 3291h17M4208 3564h17M4208 3547h17M4208 3585h17M4208 3601h17M4209 3555h17M4209 3314h17M4210 3590h17M4212 3331h17M4212 3589h17M4212 3253h17M4212 3334h17M4213 3282h17M4213 3336h17M4213 3599h17M4214 3327h17M4215 3262h17M4215 3566h17M4216 3224h17M4217 3556h17M4217 3548h17M4217 3569h17M4218 3570h17M4218 3327h17M4219 3275h17M4219 3591h17M4219 3553h17M4220 3603h17M4220 3221h17M4221 3357h17M4222 3612h17M4222 3300h17M4222 3328h17M4224 3565h17M4224 3559h17M4224 3333h17M4224 3345h17M4224 3345h17M4225 3353h17M4225 3622h17M4225 3583h17M4226 3358h17M4227 3569h17M4227 3213h17M4230 3230h17M4233 3361h17M4233 3393h17M4234 3334h17M4235 3368h17M4235 3215h17M4235 3603h17M4237 3635h17M4237 3592h17M4239 3425h17M4239 3319h17M4240 3309h17M4240 3647h17M4242 3590h17M4243 3635h17M4244 3425h17M4244 3386h17M4245 3615h17M4246 3366h17M4246 3374h17M4247 3621h17M4247 3386h17M4248 3380h17M4249 3602h17M4249 3369h17M4249 3590h17M4249 3611h17M4249 3585h17M4250 3323h17M4250 3353h17M4251 3579h17M4252 3392h17M4253 3630h17M4253 3380h17M4253 3632h17M4254 3337h17M4254 3587h17M4254 3599h17M4255 3625h17M4255 3420h17M4256 3592h17M4256 3582h17M4256 3401h17M4257 3427h17M4257 3358h17M4257 3395h17M4258 3337h17M4258 3417h17M4258 3388h17M4258 3341h17M4258 3405h17M4259 3603h17M4259 3341h17M4260 3613h17M4261 3416h17M4261 3403h17M4261 3333h17M4262 3389h17M4263 3601h17M4264 3389h17M4264 3412h17M4264 3610h17M4265 3604h17M4265 3393h17M4265 3439h17M4267 3429h17M4267 3611h17M4268 3385h17M4268 3631h17M4269 3292h17M4269 3631h17M4270 3650h17M4270 3358h17M4270 3419h17M4271 3609h17M4272 3413h17M4274 3632h17M4275 3411h17M4275 3606h17M4275 3410h17M4275 3420h17M4276 3656h17M4276 3615h17M4277 3632h17M4277 3631h17M4278 3398h17M4278 3627h17M4278 3647h17M4278 3609h17M4278 3629h17M4278 3626h17M4279 3674h17M4279 3409h17M4279 3617h17M4280 3386h17M4281 3332h17M4281 3614h17M4281 3623h17M4283 3629h17M4283 3623h17M4283 3407h17M4283 3430h17M4284 3623h17M4286 3336h17M4286 3427h17M4287 3622h17M4288 3624h17M4288 3457h17M4288 3619h17M4288 3367h17M4289 3446h17M4289 3455h17M4289 3624h17M4289 3652h17M4290 3645h17M4290 3635h17M4290 3642h17M4292 3347h17M4293 3640h17M4293 3414h17M4294 3641h17M4294 3633h17M4295 3437h17M4295 3465h17M4295 3628h17M4296 3620h17M4296 3649h17M4296 3633h17M4296 3632h17M4297 3636h17M4297 3669h17M4298 3376h17M4299 3635h17M4300 3427h17M4300 3629h17M4300 3440h17M4301 3445h17M4301 3457h17M4302 3462h17M4302 3452h17M4302 3431h17M4302 3468h17M4303 3630h17M4304 3622h17M4304 3636h17M4304 3629h17M4305 3644h17M4305 3636h17M4307 3623h17M4307 3483h17M4307 3465h17M4308 3475h17M4308 3462h17M4309 3458h17M4310 3361h17M4310 3467h17M4310 3649h17M4311 3468h17M4311 3461h17M4312 3451h17M4312 3681h17M4313 3634h17M4314 3480h17M4315 3445h17M4315 3475h17M4315 3631h17M4315 3458h17M4315 3631h17M4317 3640h17M4317 3641h17M4317 3628h17M4317 3432h17M4317 3650h17M4318 3651h17M4318 3688h17M4318 3647h17M4318 3416h17M4319 3419h17M4320 3694h17M4320 3438h17M4320 3661h17M4320 3669h17M4321 3478h17M4322 3634h17M4323 3453h17M4324 3668h17M4324 3455h17M4325 3628h17M4325 3465h17M4326 3661h17M4326 3650h17M4327 3646h17M4327 3644h17M4329 3642h17M4330 3637h17M4330 3644h17M4330 3646h17M4330 3652h17M4330 3642h17M4330 3475h17M4330 3462h17M4331 3661h17M4333 3636h17M4334 3653h17M4334 3479h17M4335 3449h17M4336 3629h17M4337 3652h17M4337 3630h17M4337 3656h17M4338 3339h17M4338 3485h17M4340 3457h17M4340 3644h17M4340 3658h17M4340 3464h17M4341 3630h17M4342 3469h17M4342 3464h17M4342 3484h17M4342 3643h17M4343 3638h17M4343 3483h17M4344 3661h17M4344 3628h17M4345 3479h17M4345 3473h17M4346 3481h17M4347 3474h17M4347 3461h17M4347 3464h17M4350 3643h17M4350 3470h17M4351 3638h17M4351 3628h17M4352 3479h17M4353 3650h17M4353 3641h17M4354 3631h17M4354 3635h17M4354 3335h17M4355 3421h17M4355 3667h17M4356 3630h17M4356 3629h17M4357 3670h17M4357 3434h17M4358 3641h17M4358 3635h17M4358 3441h17M4360 3440h17M4360 3630h17M4360 3671h17M4360 3479h17M4360 3460h17M4361 3640h17M4361 3446h17M4361 3627h17M4361 3630h17M4361 3656h17M4362 3449h17M4363 3677h17M4363 3631h17M4363 3648h17M4364 3650h17M4365 3459h17M4365 3462h17M4368 3470h17M4369 3449h17M4370 3420h17M4371 3456h17M4371 3627h17M4371 3410h17M4374 3439h17M4375 3635h17M4377 3411h17M4377 3396h17M4377 3440h17M4378 3451h17M4379 3637h17M4379 3619h17M4380 3448h17M4380 3388h17M4381 3630h17M4382 3412h17M4382 3428h17M4382 3411h17M4383 3462h17M4383 3389h17M4384 3606h17M4384 3392h17M4384 3664h17M4385 3629h17M4385 3649h17M4386 3449h17M4387 3631h17M4388 3626h17M4388 3414h17M4388 3447h17M4389 3447h17M4390 3639h17M4390 3619h17M4390 3636h17M4391 3653h17M4392 3652h17M4392 3670h17M4393 3614h17M4393 3649h17M4393 3619h17M4394 3654h17M4394 3655h17M4394 3632h17M4395 3417h17M4397 3637h17M4397 3655h17M4398 3451h17M4399 3387h17M4400 3427h17M4400 3632h17M4400 3618h17M4400 3397h17M4400 3618h17M4401 3634h17M4401 3436h17M4401 3655h17M4402 3648h17M4402 3345h17M4402 3616h17M4406 3601h17M4407 3404h17M4408 3647h17M4409 3650h17M4409 3374h17M4409 3406h17M4410 3610h17M4410 3592h17M4412 3410h17M4412 3416h17M4414 3589h17M4414 3612h17M4414 3381h17M4414 3606h17M4415 3600h17M4415 3422h17M4419 3349h17M4419 3397h17M4419 3595h17M4419 3384h17M4419 3361h17M4420 3603h17M4420 3614h17M4421 3599h17M4421 3405h17M4422 3362h17M4422 3605h17M4423 3596h17M4423 3600h17M4424 3405h17M4424 3362h17M4424 3318h17M4425 3276h17M4425 3625h17M4425 3599h17M4426 3595h17M4426 3377h17M4427 3620h17M4427 3354h17M4428 3393h17M4429 3613h17M4429 3613h17M4430 3584h17M4430 3624h17M4431 3402h17M4431 3347h17M4432 3590h17M4432 3361h17M4434 3598h17M4436 3332h17M4438 3585h17M4438 3379h17M4438 3586h17M4439 3598h17M4439 3612h17M4439 3584h17M4440 3117h17M4441 3304h17M4441 3317h17M4442 3603h17M4442 3357h17M4442 3580h17M4442 3351h17M4443 3308h17M4443 3333h17M4443 3351h17M4443 3579h17M4443 3266h17M4444 3350h17M4444 3591h17M4444 3610h17M4445 3649h17M4445 3579h17M4445 3332h17M4445 3583h17M4445 3581h17M4446 3221h17M4447 3584h17M4449 3595h17M4449 3591h17M4449 3573h17M4449 3591h17M4450 3600h17M4450 3354h17M4450 3276h17M4451 3324h17M4451 3569h17M4452 3229h17M4452 3596h17M4452 3224h17M4453 3342h17M4453 3580h17M4455 3260h17M4456 3580h17M4458 3345h17M4458 3309h17M4460 3638h17M4460 3343h17M4460 3312h17M4460 3324h17M4460 3586h17M4461 3600h17M4463 3322h17M4464 3653h17M4464 3567h17M4465 3598h17M4466 3560h17M4467 3593h17M4467 3338h17M4467 3340h17M4468 3336h17M4468 3597h17M4468 3597h17M4469 3567h17M4469 3574h17M4469 3573h17M4471 3270h17M4471 3234h17M4472 3334h17M4473 3570h17M4474 3604h17M4476 3264h17M4477 3566h17M4477 3622h17M4478 3254h17M4478 3320h17M4479 3180h17M4479 3283h17M4480 3330h17M4480 3323h17M4480 3580h17M4481 3573h17M4481 3274h17M4482 3238h17M4482 3226h17M4483 3623h17M4483 3281h17M4485 3301h17M4485 3328h17M4487 3325h17M4487 3571h17M4488 3577h17M4489 3564h17M4489 3581h17M4490 3271h17M4491 3262h17M4492 3612h17M4493 3308h17M4494 3270h17M4494 3321h17M4495 3309h17M4496 3594h17M4496 3260h17M4497 3313h17M4498 3595h17M4498 3612h17M4499 3562h17M4499 3253h17M4499 3628h17M4499 3237h17M4500 3575h17M4500 3560h17M4500 3303h17M4501 3289h17M4501 3326h17M4501 3293h17M4502 3299h17M4503 3593h17M4503 3558h17M4503 3124h17M4503 3559h17M4504 3581h17M4505 3609h17M4505 3586h17M4505 3573h17M4505 3289h17M4507 3129h17M4507 3302h17M4507 3256h17M4507 3598h17M4507 3268h17M4508 3604h17M4508 3303h17M4509 3609h17M4510 3610h17M4510 3256h17M4510 3334h17M4512 3575h17M4512 3595h17M4513 3578h17M4513 3307h17M4514 3226h17M4516 3328h17M4516 3561h17M4517 3254h17M4517 3342h17M4518 3589h17M4518 3583h17M4518 3312h17M4521 3289h17M4521 3579h17M4524 3587h17M4524 3593h17M4524 3582h17M4525 3309h17M4525 3292h17M4526 3585h17M4527 3597h17M4528 3278h17M4528 3592h17M4529 3329h17M4529 3593h17M4530 3625h17M4530 3578h17M4530 3351h17M4530 3580h17M4531 3345h17M4531 3344h17M4534 3609h17M4535 3250h17M4535 3322h17M4535 3571h17M4535 3590h17M4535 3591h17M4535 3584h17M4535 3320h17M4536 3322h17M4536 3607h17M4537 3632h17M4537 3637h17M4538 3350h17M4539 3303h17M4540 3329h17M4540 3299h17M4540 3331h17M4540 3609h17M4540 3359h17M4540 3596h17M4541 3322h17M4541 3620h17M4541 3347h17M4542 3356h17M4543 3271h17M4543 3371h17M4543 3296h17M4546 3363h17M4546 3617h17M4547 3612h17M4548 3280h17M4549 3411h17M4549 3614h17M4550 3286h17M4550 3616h17M4550 3345h17M4550 3602h17M4551 3647h17M4551 3588h17M4551 3330h17M4551 3631h17M4552 3391h17M4552 3370h17M4552 3586h17M4553 3279h17M4554 3339h17M4554 3320h17M4554 3405h17M4554 3314h17M4555 3616h17M4555 3637h17M4556 3358h17M4556 3366h17M4557 3388h17M4558 3408h17M4558 3410h17M4558 3285h17M4558 3378h17M4559 3585h17M4559 3694h17M4560 3375h17M4560 3594h17M4560 3347h17M4562 3601h17M4564 3635h17M4564 3323h17M4564 3611h17M4564 3216h17M4565 3624h17M4566 3636h17M4568 3629h17M4568 3629h17M4569 3336h17M4569 3312h17M4570 3725h17M4570 3378h17M4571 3595h17M4572 3625h17M4572 3392h17M4573 3626h17M4575 3421h17M4577 3604h17M4580 3666h17M4581 3414h17M4581 3388h17M4582 3408h17M4583 3632h17M4584 3634h17M4593 3392h17M4594 3376h17" stroke="#0072bd" stroke-width="17" fill="none"/>
<path d="M293.7 406.8L293.8 406 293.9 405.2 294.1 404.4 294.2 403.6 294.3 402.8 294.4 402.1 294.6 401.3 294.7 400.5 294.8 399.7 294.9 398.9 295 398.1 295.2 397.3 295.3 396.5 295.4 395.7 295.5 394.9 295.6 394.1 295.7 393.4 295.9 392.6 296 391.8 296.1 391 296.2 390.2 296.4 389.4 296.5 388.6 296.6 387.8 296.8 387 296.9 386.2 297 385.4 297.1 384.7 297.2 383.9 297.3 383.1 297.4 382.3 297.5 381.5 297.6 380.7 297.7 379.9 297.8 379.1 297.9 378.3 297.9 377.5 298 376.7 298.1 375.9 298.1 375.1 298.2 374.3 298.3 373.5 298.3 372.7 298.4 371.9 298.4 371.1 298.5 370.3 298.6 369.5 298.6 368.7 298.7 367.9 298.7 367.1 298.8 366.3 298.8 365.5 298.9 364.7 298.9 363.9 299 363.1 299 362.3 299.1 361.6 299.1 360.8 299.2 360 299.3 359.2 299.3 358.4 299.4 357.6 299.4 356.8 299.5 356 299.5 355.2 299.6 354.4 299.6 353.6 299.7 352.8 299.7 352 299.8 351.2 299.8 350.4 299.9 349.6 300 348.8 300 348 300.1 347.2 300.1 346.4 300.2 345.6 300.2 344.8 300.3 344 300.4 343.2 300.4 342.4 300.5 341.6 300.5 340.8 300.6 340 300.7 339.2 300.7 338.4 300.8 337.6 300.9 336.8 300.9 336 301 335.2 301.1 334.4 301.2 333.6 301.3 332.8 301.4 332 301.5 331.1 301.7 330.1 301.9 329.2 302.2 328.8 302.5 329.1 302.9 329.8 303.4 330.7 303.7 331.5 304 332.2 304.2 333 304.4 333.7 304.7 334.5 304.9 335.3 305.2 336 305.5 336.8 305.8 337.5 306.2 338.2 306.5 338.9 306.8 339.7 307.2 340.4 307.5 341.1 307.9 341.8 308.3 342.5 308.6 343.3 309 344 309.4 344.7 309.8 345.4 310.2 346.1 310.6 346.8 311 347.4 311.4 348.1 311.8 348.8 312.2 349.5 312.7 350.2 313.1 350.8 313.6 351.5 314.1 352.1 314.5 352.8 315 353.4 315.5 354 316 354.7 316.5 355.4 317 356 317.5 356.6 318.1 357.2 318.6 357.7 319.2 358.2 319.9 358.7 320.6 359.2 321.4 359.6 322.1 359.9 322.8 360.1 323.6 360.1 324.3 359.8 325 359.5 325.8 359 326.5 358.4 327.1 357.9 327.6 357.4 328.1 356.8 328.6 356.2 329 355.6 329.5 354.9 329.9 354.2 330.3 353.5 330.6 352.7 331 352 331.3 351.2 331.6 350.4 331.9 349.6 332.2 348.9 332.4 348.1 332.6 347.4 332.8 346.6 333 345.8 333.2 345.1 333.4 344.3 333.6 343.5 333.8 342.7 333.9 342 334.1 341.2 334.2 340.4 334.4 339.6 334.5 338.8 334.7 338 334.8 337.2 334.9 336.4 335.1 335.6 335.2 334.8 335.3 334 335.5 333.2 335.6 332.4 335.7 331.6 335.8 330.9 336 330.1 336.1 329.3 336.2 328.5 336.3 327.7 336.4 326.9 336.5 326.1 336.6 325.3 336.7 324.5 336.8 323.7 337 322.9 337.1 322.1 337.2 321.3 337.3 320.5 337.3 319.7 337.4 319 337.5 318.2 337.6 317.4 337.7 316.6 337.8 315.8 337.9 315 338 314.2 338.1 313.4 338.2 312.6 338.2 311.8 338.3 311 338.4 310.2 338.5 309.4 338.5 308.6 338.6 307.8 338.7 307 338.8 306.2 338.8 305.4 338.9 304.6 339 303.8 339.1 303 339.2 302.2 339.3 301.4 339.4 300.7 339.5 299.9 339.6 299 339.8 298.1 339.9 297 340 296 340.1 295 340.3 294 340.5 293 340.7 292.2 340.9 291.5 341.1 290.9 341.4 290.6 341.7 290.4 342.1 290.6 342.8 291 343.6 291.6 344.2 292.2 344.7 292.8 345.1 293.4 345.5 294.1 345.9 294.9 346.3 295.6 346.6 296.3 347 297 347.4 297.7 347.8 298.4 348.2 299.1 348.6 299.9 348.9 300.6 349.3 301.3 349.7 302 350 302.7 350.4 303.4 350.8 304.1 351.1 304.8 351.5 305.5 351.9 306.3 352.2 307 352.6 307.7 353 308.4 353.4 309.1 353.7 309.8 354.1 310.5 354.5 311.2 354.8 311.9 355.2 312.6 355.6 313.3 356 314 356.4 314.7 356.7 315.4 357.1 316.1 357.5 316.8 357.9 317.5 358.3 318.2 358.7 318.9 359.2 319.6 359.6 320.3 360 321 360.4 321.6 360.8 322.3 361.3 323 361.7 323.7 362.2 324.3 362.6 325 363.1 325.6 363.6 326.3 364.1 326.9 364.6 327.5 365.1 328.1 365.6 328.7 366.1 329.3 366.6 329.9 367.2 330.5 367.7 331.1 368.3 331.7 368.8 332.3 369.4 332.9 369.9 333.5 370.5 334 371 334.6 371.6 335.2 372.1 335.8 372.7 336.3 373.3 336.9 373.9 337.4 374.5 338 375 338.5 375.6 339.1 376.2 339.6 376.9 340.1 377.5 340.6 378.1 341.2 378.7 341.7 379.3 342.2 380 342.7 380.6 343.2 381.3 343.7 381.9 344.1 382.6 344.4 383.3 344.8 384.1 345.1 384.9 345.4 385.7 345.7 386.4 345.9 387.2 346.1 388 346.2 388.7 346.1 389.4 345.8 390.1 345.3 390.7 344.7 391.3 344.2 391.9 343.6 392.4 343 392.9 342.4 393.3 341.8 393.8 341.1 394.2 340.4 394.6 339.7 395 339 395.4 338.3 395.8 337.6 396.2 336.8 396.6 336.1 397 335.4 397.4 334.7 397.7 334 398.1 333.2 398.4 332.5 398.8 331.7 399.2 331.1 399.7 330.5 400.2 329.9 400.7 329.3 401.4 328.8 402.1 328.2 402.8 327.8 403.5 327.5 404.3 327.4 405 327.5 405.8 327.6 406.6 327.9 407.4 328.2 408.2 328.5 408.8 328.9 409.4 329.3 410 329.9 410.5 330.5 411 331.1 411.5 331.8 412 332.5 412.5 333.2 413 333.8 413.5 334.4 414 335 414.5 335.7 415 336.3 415.4 337 415.9 337.6 416.4 338.3 416.8 338.9 417.3 339.6 417.8 340.2 418.2 340.8 418.7 341.5 419.2 342.1 419.7 342.8 420.2 343.4 420.6 344.1 421.1 344.7 421.6 345.4 422 346 422.5 346.7 423 347.3 423.5 347.9 424 348.6 424.5 349.2 425 349.8 425.5 350.4 426 351 426.6 351.6 427.1 352.2 427.7 352.8 428.2 353.4 428.8 354 429.5 354.4 430.1 354.9 430.8 355.3 431.5 355.7 432.3 356 433 356.3 433.8 356.5 434.5 356.5 435.3 356.4 436.1 356.1 436.8 355.8 437.6 355.5 438.3 355.1 439.1 354.6 439.8 354.2 440.4 353.8 441 353.3 441.6 352.8 442.1 352.2 442.7 351.6 443.2 350.9 443.7 350.3 444.3 349.7 444.8 349.1 445.4 348.6 446 348.1 446.7 347.5 447.4 347 448.1 346.5 448.8 346.1 449.5 345.9 450.2 345.8 450.9 345.9 451.6 346.2 452.3 346.6 453.1 347.1 453.7 347.7 454.4 348.3 455 348.9 455.5 349.4 456 350 456.5 350.6 457 351.3 457.4 351.9 457.8 352.7 458.1 353.4 458.5 354.2 458.7 354.8" stroke="#d95319" stroke-width="2" fill="none" stroke-linejoin="round"/>
<path d="M293.7 406.8L293.8 406 293.9 405.2 294.1 404.4 294.2 403.6 294.3 402.8 294.4 402.1 294.6 401.3 294.7 400.5 294.8 399.7 294.9 398.9 295 398.1 295.2 397.3 295.3 396.5 295.4 395.7 295.5 394.9 295.6 394.1 295.7 393.4 295.9 392.6 296 391.8 296.1 391 296.2 390.2 296.4 389.4 296.5 388.6 296.6 387.8 296.8 387 296.9 386.2 297 385.4 297.1 384.7 297.2 383.9 297.3 383.1 297.4 382.3 297.5 381.5 297.6 380.7 297.7 379.9 297.8 379.1 297.9 378.3 297.9 377.5 298 376.7 298.1 375.9 298.1 375.1 298.2 374.3 298.3 373.5 298.3 372.7 298.4 371.9 298.4 371.1 298.5 370.3 298.6 369.5 298.6 368.7 298.7 367.9 298.7 367.1 298.8 366.3 298.8 365.5 298.9 364.7 298.9 363.9 299 363.1 299 362.3 299.1 361.6 299.1 360.8 299.2 360 299.3 359.2 299.3 358.4 299.4 357.6 299.4 356.8 299.5 356 299.5 355.2 299.6 354.4 299.6 353.6 299.7 352.8 299.7 352 299.8 351.2 299.8 350.4 299.9 349.6 300 348.8 300 348 300.1 347.2 300.1 346.4 300.2 345.6 300.2 344.8 300.3 344 300.4 343.2 300.4 342.4 300.5 341.6 300.5 340.8 300.6 340 300.7 339.2 300.7 338.4 300.8 337.6 300.9 336.8 300.9 336 301 335.2 301.1 334.4 301.2 333.6 301.3 332.8 301.4 332 301.5 331.1 301.7 330.1 301.9 329.2 302.2 328.8 302.5 329.1 302.9 329.8 303.4 330.7 303.7 331.5 304 332.2 304.2 333 304.4 333.7 304.7 334.5 304.9 335.3 305.2 336 305.5 336.8 305.8 337.5 306.2 338.2 306.5 338.9 306.8 339.7 307.2 340.4 307.5 341.1 307.9 341.8 308.3 342.5 308.6 343.3 309 344 309.4 344.7 309.8 345.4 310.2 346.1 310.6 346.8 311 347.4 311.4 348.1 311.8 348.8 312.2 349.5 312.7 350.2 313.1 350.8 313.6 351.5 314.1 352.1 314.5 352.8 315 353.4 315.5 354 316 354.7 316.5 355.4 317 356 317.5 356.6 318.1 357.2 318.6 357.7 319.2 358.2 319.9 358.7 320.6 359.2 321.4 359.6 322.1 359.9 322.8 360.1 323.6 360.1 324.3 359.8 325 359.5 325.8 359 326.5 358.4 327.1 357.9 327.6 357.4 328.1 356.8 328.6 356.2 329 355.6 329.5 354.9 329.9 354.2 330.3 353.5 330.6 352.7 331 352 331.3 351.2 331.6 350.4 331.9 349.6 332.2 348.9 332.4 348.1 332.6 347.4 332.8 346.6 333 345.8 333.2 345.1 333.4 344.3 333.6 343.5 333.8 342.7 333.9 342 334.1 341.2 334.2 340.4 334.4 339.6 334.5 338.8 334.7 338 334.8 337.2 334.9 336.4 335.1 335.6 335.2 334.8 335.3 334 335.5 333.2 335.6 332.4 335.7 331.6 335.8 330.9 336 330.1 336.1 329.3 336.2 328.5 336.3 327.7 336.4 326.9 336.5 326.1 336.6 325.3 336.7 324.5 336.8 323.7 337 322.9 337.1 322.1 337.2 321.3 337.3 320.5 337.3 319.7 337.4 319 337.5 318.2 337.6 317.4 337.7 316.6 337.8 315.8 337.9 315 338 314.2 338.1 313.4 338.2 312.6 338.2 311.8 338.3 311 338.4 310.2 338.5 309.4 338.5 308.6 338.6 307.8 338.7 307 338.8 306.2 338.8 305.4 338.9 304.6 339 303.8 339.1 303 339.2 302.2 339.3 301.4 339.4 300.7 339.5 299.9 339.6 299 339.8 298.1 339.9 297 340 296 340.1 295 340.3 294 340.5 293 340.7 292.2 340.9 291.5 341.1 290.9 341.4 290.6 341.7 290.4 342.1 290.6 342.8 291 343.6 291.6 344.2 292.2 344.7 292.8 345.1 293.4 345.5 294.1 345.9 294.9 346.3 295.6 346.6 296.3 347 297 347.4 297.7 347.8 298.4 348.2 299.1 348.6 299.9 348.9 300.6 349.3 301.3 349.7 302 350 302.7 350.4 303.4 350.8 304.1 351.1 304.8 351.5 305.5 351.9 306.3 352.2 307 352.6 307.7 353 308.4 353.4 309.1 353.7 309.8 354.1 310.5 354.5 311.2 354.8 311.9 355.2 312.6 355.6 313.3 356 314 356.4 314.7 356.7 315.4 357.1 316.1 357.5 316.8 357.9 317.5 358.3 318.2 358.7 318.9 359.2 319.6 359.6 320.3 360 321 360.4 321.6 360.8 322.3 361.3 323 361.7 323.7 362.2 324.3 362.6 325 363.1 325.6 363.6 326.3 364.1 326.9 364.6 327.5 365.1 328.1 365.6 328.7 366.1 329.3 366.6 329.9 367.2 330.5 367.7 331.1 368.3 331.7 368.8 332.3 369.4 332.9 369.9 333.5 370.5 334 371 334.6 371.6 335.2 372.1 335.8 372.7 336.3 373.3 336.9 373.9 337.4 374.5 338 375 338.5 375.6 339.1 376.2 339.6 376.9 340.1 377.5 340.6 378.1 341.2 378.7 341.7 379.3 342.2 380 342.7 380.6 343.2 381.3 343.7 381.9 344.1 382.6 344.4 383.3 344.8 384.1 345.1 384.9 345.4 385.7 345.7 386.4 345.9 387.2 346.1 388 346.2 388.7 346.1 389.4 345.8 390.1 345.3 390.7 344.7 391.3 344.2 391.9 343.6 392.4 343 392.9 342.4 393.3 341.8 393.8 341.1 394.2 340.4 394.6 339.7 395 339 395.4 338.3 395.8 337.6 396.2 336.8 396.6 336.1 397 335.4 397.4 334.7 397.7 334 398.1 333.2 398.4 332.5 398.8 331.7 399.2 331.1 399.7 330.5 400.2 329.9 400.7 329.3 401.4 328.8 402.1 328.2 402.8 327.8 403.5 327.5 404.3 327.4 405 327.5 405.8 327.6 406.6 327.9 407.4 328.2 408.2 328.5 408.8 328.9 409.4 329.3 410 329.9 410.5 330.5 411 331.1 411.5 331.8 412 332.5 412.5 333.2 413 333.8 413.5 334.4 414 335 414.5 335.7 415 336.3 415.4 337 415.9 337.6 416.4 338.3 416.8 338.9 417.3 339.6 417.8 340.2 418.2 340.8 418.7 341.5 419.2 342.1 419.7 342.8 420.2 343.4 420.6 344.1 421.1 344.7 421.6 345.4 422 346 422.5 346.7 423 347.3 423.5 347.9 424 348.6 424.5 349.2 425 349.8 425.5 350.4 426 351 426.6 351.6 427.1 352.2 427.7 352.8 428.2 353.4 428.8 354 429.5 354.4 430.1 354.9 430.8 355.3 431.5 355.7 432.3 356 433 356.3 433.8 356.5 434.5 356.5 435.3 356.4 436.1 356.1 436.8 355.8 437.6 355.5 438.3 355.1 439.1 354.6 439.8 354.2 440.4 353.8 441 353.3 441.6 352.8 442.1 352.2 442.7 351.6 443.2 350.9 443.7 350.3 444.3 349.7 444.8 349.1 445.4 348.6 446 348.1 446.7 347.5 447.4 347 448.1 346.5 448.8 346.1 449.5 345.9 450.2 345.8 450.9 345.9 451.6 346.2 452.3 346.6 453.1 347.1 453.7 347.7 454.4 348.3 455 348.9 455.5 349.4 456 350 456.5 350.6 457 351.3 457.4 351.9 457.8 352.7 458.1 353.4 458.5 354.2 458.7 354.8" stroke="#edb120" stroke-width="2" fill="none" stroke-dasharray="6 1.6" stroke-linejoin="round"/>
</g>
<rect x="283.3" y="250.3" width="180.7" height="175.2" fill="none" stroke="#181818" stroke-width="1.7"/>
<path d="M283.3 425.5v-2.6M283.3 250.3v2.6M327.4 425.5v-2.6M327.4 250.3v2.6M371.4 425.5v-2.6M371.4 250.3v2.6M415.5 425.5v-2.6M415.5 250.3v2.6M459.6 425.5v-2.6M459.6 250.3v2.6M283.3 425.5h2.6M464 425.5h-2.6M283.3 393.6h2.6M464 393.6h-2.6M283.3 361.8h2.6M464 361.8h-2.6M283.3 329.9h2.6M464 329.9h-2.6M283.3 298.1h2.6M464 298.1h-2.6M283.3 266.2h2.6M464 266.2h-2.6" stroke="#262626" stroke-width="1.5" fill="none"/>
<g font-size="14" fill="#262626" text-anchor="middle">
<text x="283.3" y="443.7">3.4</text>
<text x="327.4" y="443.7">3.6</text>
<text x="371.4" y="443.7">3.8</text>
<text x="415.5" y="443.7">4</text>
<text x="459.6" y="443.7">4.2</text>
</g>
<g font-size="14" fill="#262626" text-anchor="end">
<text x="277.8" y="430.4">0</text>
<text x="277.8" y="398.5">1</text>
<text x="277.8" y="366.7">2</text>
<text x="277.8" y="334.8">3</text>
<text x="277.8" y="303">4</text>
<text x="277.8" y="271.1">5</text>
</g>
<text font-size="16" fill="#262626" text-anchor="middle" x="373.6" y="463">Voltage (V)</text>
<text font-size="16" fill="#262626" text-anchor="middle" transform="translate(265.3,335.8) rotate(-90)" textLength="106.5" lengthAdjust="spacing">ΔQ/ΔV (Ah/V)</text>
<text font-size="10" font-weight="bold" fill="#000" x="246.6" y="255.8">E</text>
<text font-size="14.5" fill="#000" x="290.8" y="420">Cell #03</text>
<clipPath id="clipF"><rect x="521.3" y="250.3" width="180.7" height="175.2"/></clipPath>
<path d="M565.4 250.3V425.5M609.4 250.3V425.5M653.5 250.3V425.5M697.6 250.3V425.5M521.3 393.6H702M521.3 361.8H702M521.3 329.9H702M521.3 298.1H702M521.3 266.2H702" stroke="#d9d9d9" stroke-width="1.4" fill="none"/>
<g clip-path="url(#clipF)">
<path d="M534.1 391.9 534.5 388.6 534.9 385.2 535.3 381.7 535.7 378.1 536.1 374.4 536.5 370.7 536.9 367 537.3 363.3 537.7 359.7 538.1 356 538.5 352.3 538.9 348.6 539.3 345 539.7 341.2 540.1 337.1 540.5 332.8 540.9 328.6 541.3 324.7 541.7 321.3 542.1 318.1 542.5 316.9 542.9 316.7 543.3 316.7 543.7 316.7 544.1 316.7 544.5 316.7 544.9 316.7 545.3 316.7 545.7 316.7 546.1 316.7 546.5 317.9 546.9 319.2 547.3 320.5 547.7 322 548.1 323.6 548.5 325.3 548.9 327.1 549.3 328.7 549.7 329.9 550.1 331.1 550.5 332.2 550.9 333.3 551.3 334.4 551.7 335.5 552.1 336.6 552.5 337.6 552.9 338.6 553.3 339.6 553.7 340.4 554.1 341.3 554.5 342.1 554.9 343 555.3 343.7 555.7 344.5 556.1 345.2 556.5 345.9 556.9 346.5 557.3 347.1 557.7 347.7 558.1 348.2 558.5 348.7 558.9 349.2 559.3 349.7 559.7 350.2 560.1 350.7 560.5 351.1 560.9 351.6 561.3 351.9 561.7 352.3 562.1 352.6 562.5 352.9 562.9 353 563.3 353.2 563.7 353.3 564.1 353.5 564.5 353.6 564.9 353.4 565.3 353.1 565.7 352.8 566.1 352.4 566.5 351.7 566.9 351 567.3 350.3 567.7 349.5 568.1 348.6 568.5 347.6 568.9 346.5 569.3 345.2 569.7 343.8 570.1 342.3 570.5 340.7 570.9 339 571.3 337.1 571.7 334.6 572.1 331.6 572.5 328.2 572.9 324.5 573.3 320.6 573.7 316.2 574.1 310.9 574.5 305 574.9 299 575.3 293.2 575.7 287.2 576.1 281.5 576.5 276.4 576.9 272.1 577.3 268.3 577.7 264.7 578.1 261.4 578.5 258.3 578.9 255.6 579.3 253.3 579.7 251 580.1 248.8 580.5 248.3 580.9 248.3 581.3 248.3 581.7 248.3 582.1 248.3 582.5 248.3 582.9 248.3 583.3 248.3 583.7 248.3 584.1 248.8 584.5 250.1 584.9 251.6 585.3 253.1 585.7 254.7 586.1 256.4 586.5 258 586.9 259.7 587.3 261.5 587.7 263.3 588.1 265.2 588.5 267.2 588.9 269.1 589.3 271 589.7 273 590.1 275 590.5 277 590.9 279.1 591.3 281.2 591.7 283.2 592.1 285.2 592.5 287.2 592.9 289.1 593.3 290.9 593.7 292.2 594.1 293.3 594.5 294.3 594.9 295.4 595.3 296.5 595.7 297.5 596.1 298.5 596.5 299.6 596.9 300.6 597.3 301.7 597.7 302.7 598.1 303.7 598.5 304.7 598.9 305.8 599.3 306.9 599.7 308 600.1 309.1 600.5 310.1 600.9 311.2 601.3 312.2 601.7 313.1 602.1 314.1 602.5 314.8 602.9 315.5 603.3 316.1 603.7 316.7 604.1 317.3 604.5 317.9 604.9 318.4 605.3 318.9 605.7 319.4 606.1 319.9 606.5 320.3 606.9 320.8 607.3 321.2 607.7 321.6 608.1 322 608.5 322.3 608.9 322.7 609.3 323 609.7 323.3 610.1 323.6 610.5 323.9 610.9 324.1 611.3 324.4 611.7 324.7 612.1 324.9 612.5 325.1 612.9 325.3 613.3 325.6 613.7 325.8 614.1 326 614.5 326.2 614.9 326.4 615.3 326.5 615.7 326.7 616.1 326.9 616.5 327.1 616.9 327.2 617.3 327.4 617.7 327.5 618.1 327.7 618.5 327.8 618.9 327.9 619.3 328.1 619.7 328.2 620.1 328.3 620.5 328.5 620.9 328.6 621.3 328.8 621.7 328.9 622.1 329 622.5 329.2 622.9 329.4 623.3 329.5 623.7 329.7 624.1 329.9 624.5 330.1 624.9 330.2 625.3 330.4 625.7 330.6 626.1 330.8 626.5 330.9 626.9 331.1 627.3 331.3 627.7 331.4 628.1 331.6 628.5 331.7 628.9 331.8 629.3 332 629.7 332.1 630.1 332.3 630.5 332.2 630.9 331.8 631.3 331.4 631.7 330.9 632.1 330.4 632.5 329.8 632.9 329.3 633.3 328.7 633.7 328.1 634.1 327.5 634.5 326.9 634.9 326.2 635.3 325.4 635.7 324.6 636.1 323.7 636.5 322.8 636.9 321.8 637.3 320.9 637.7 319.9 638.1 319 638.5 318.1 638.9 317.2 639.3 316.5 639.7 315.8 640.1 315.1 640.5 314.4 640.9 313.8 641.3 313.3 641.7 313.1 642.1 313 642.5 312.9 642.9 312.9 643.3 312.9 643.7 312.9 644.1 312.9 644.5 312.9 644.9 312.9 645.3 312.9 645.7 312.9 646.1 312.9 646.5 313 646.9 313.2 647.3 313.5 647.7 313.9 648.1 314.4 648.5 315 648.9 315.6 649.3 316.2 649.7 316.8 650.1 317.4 650.5 318 650.9 318.7 651.3 319.4 651.7 320.2 652.1 321 652.5 321.8 652.9 322.7 653.3 323.6 653.7 324.4 654.1 325.3 654.5 326.2 654.9 327.1 655.3 327.9 655.7 328.7 656.1 329.5 656.5 330.3 656.9 331.2 657.3 332 657.7 332.8 658.1 333.7 658.5 334.5 658.9 335.3 659.3 336.1 659.7 336.8 660.1 337.5 660.5 338.1 660.9 338.7 661.3 339.2 661.7 339.7 662.1 340.2 662.5 340.7 662.9 341.2 663.3 341.7 663.7 342.1 664.1 342.6 664.5 343 664.9 343.4 665.3 343.8 665.7 344.2 666.1 344.6 666.5 345 666.9 345.4 667.3 345.7 667.7 346 668.1 346.3 668.5 346.7 668.9 346.9 669.3 347.2 669.7 347.5 670.1 347.8 670.5 348.1 670.9 348.3 671.3 348.6 671.7 348.9 672.1 349.2 672.5 349.4 672.9 349.7 673.3 349.9 673.7 350.1 674.1 350.3 674.5 350.5 674.9 350.4 675.3 350.1 675.7 349.9 676.1 349.7 676.5 349.4 676.9 349.1 677.3 348.8 677.7 348.5 678.1 348.1 678.5 347.8 678.9 347.4 679.3 347.1 679.7 346.8 680.1 346.4 680.5 346.1 680.9 345.8 681.3 345.4 681.7 345 682.1 344.6 682.5 344.1 682.9 343.7 683.3 343.2 683.7 342.7 684.1 342.2 684.5 341.8 684.9 341.4 685.3 341 685.7 340.7 686.1 340.4 686.5 340.2 686.9 340.1 687.3 340 687.7 340 688.1 340 688.5 340 688.9 340 689.3 340 689.7 340 690.1 340 690.5 340 690.9 340 691.3 340.1 691.7 340.4 692.1 340.6 692.5 340.9 692.9 341.2 693.3 341.5 693.7 341.9 694.1 342.2 694.5 342.5 694.9 342.9 695.3 343.4 695.7 343.9 696.1 344.4 696.5 345L696.5 365.6 696.1 365.6 695.7 365.6 695.3 365.6 694.9 365.6 694.5 365.2 694.1 364.8 693.7 364.5 693.3 364.1 692.9 363.8 692.5 363.5 692.1 363.3 691.7 363.1 691.3 363 690.9 362.9 690.5 362.8 690.1 362.6 689.7 362.5 689.3 362.5 688.9 362.4 688.5 362.3 688.1 362.4 687.7 362.6 687.3 362.8 686.9 363 686.5 363.2 686.1 363.5 685.7 363.7 685.3 363.9 684.9 364.1 684.5 364.3 684.1 364.4 683.7 364.6 683.3 364.7 682.9 364.8 682.5 365 682.1 365.1 681.7 365.3 681.3 365.4 680.9 365.5 680.5 365.7 680.1 365.8 679.7 365.9 679.3 366 678.9 366.1 678.5 366.1 678.1 366.2 677.7 366.2 677.3 366.2 676.9 366.2 676.5 366.2 676.1 366.2 675.7 366.2 675.3 366.2 674.9 366.2 674.5 366.2 674.1 366.2 673.7 366.2 673.3 366.1 672.9 366.1 672.5 366 672.1 366 671.7 365.9 671.3 365.8 670.9 365.7 670.5 365.6 670.1 365.5 669.7 365.4 669.3 365.2 668.9 365 668.5 364.9 668.1 364.7 667.7 364.5 667.3 364.4 666.9 364.2 666.5 364 666.1 363.8 665.7 363.7 665.3 363.5 664.9 363.3 664.5 363.1 664.1 362.9 663.7 362.6 663.3 362.4 662.9 362.1 662.5 361.9 662.1 361.6 661.7 361.3 661.3 361.1 660.9 360.8 660.5 360.5 660.1 360.2 659.7 359.9 659.3 359.5 658.9 359.2 658.5 358.9 658.1 358.5 657.7 358.1 657.3 357.7 656.9 357.3 656.5 356.9 656.1 356.4 655.7 356 655.3 355.6 654.9 355.2 654.5 354.7 654.1 354.3 653.7 353.8 653.3 353.4 652.9 353 652.5 352.6 652.1 352.2 651.7 351.8 651.3 351.3 650.9 350.9 650.5 350.4 650.1 350 649.7 349.6 649.3 349.1 648.9 348.7 648.5 348.4 648.1 348 647.7 347.7 647.3 347.5 646.9 347.2 646.5 347 646.1 346.8 645.7 346.6 645.3 346.8 644.9 347.1 644.5 347.4 644.1 347.7 643.7 347.9 643.3 348.1 642.9 348.4 642.5 348.6 642.1 348.9 641.7 349.2 641.3 349.6 640.9 350 640.5 350.5 640.1 350.9 639.7 351.3 639.3 351.8 638.9 352.2 638.5 352.6 638.1 352.9 637.7 353.1 637.3 353.3 636.9 353.5 636.5 353.7 636.1 353.9 635.7 354.1 635.3 354.3 634.9 354.5 634.5 354.6 634.1 354.7 633.7 354.8 633.3 354.8 632.9 354.8 632.5 354.8 632.1 354.8 631.7 354.8 631.3 354.8 630.9 354.8 630.5 354.8 630.1 354.8 629.7 354.8 629.3 354.8 628.9 354.8 628.5 354.8 628.1 354.7 627.7 354.6 627.3 354.5 626.9 354.4 626.5 354.3 626.1 354.2 625.7 354.1 625.3 354 624.9 353.9 624.5 353.8 624.1 353.7 623.7 353.6 623.3 353.4 622.9 353.3 622.5 353.2 622.1 353 621.7 352.9 621.3 352.8 620.9 352.6 620.5 352.5 620.1 352.4 619.7 352.2 619.3 352.1 618.9 352 618.5 351.9 618.1 351.8 617.7 351.7 617.3 351.6 616.9 351.5 616.5 351.4 616.1 351.3 615.7 351.1 615.3 351 614.9 350.9 614.5 350.8 614.1 350.7 613.7 350.6 613.3 350.5 612.9 350.4 612.5 350.2 612.1 350.1 611.7 349.9 611.3 349.8 610.9 349.7 610.5 349.5 610.1 349.3 609.7 349.2 609.3 349 608.9 348.8 608.5 348.6 608.1 348.5 607.7 348.3 607.3 348 606.9 347.8 606.5 347.6 606.1 347.4 605.7 347.1 605.3 346.9 604.9 346.6 604.5 346.3 604.1 346 603.7 345.7 603.3 345.4 602.9 345 602.5 344.6 602.1 344.3 601.7 343.9 601.3 343.5 600.9 343 600.5 342.6 600.1 342.1 599.7 341.7 599.3 341.2 598.9 340.6 598.5 340 598.1 339.4 597.7 338.8 597.3 338.1 596.9 337.4 596.5 336.7 596.1 336 595.7 335.3 595.3 334.7 594.9 334 594.5 333.4 594.1 332.7 593.7 332.1 593.3 331.4 592.9 330.8 592.5 330.1 592.1 329.5 591.7 328.8 591.3 328.2 590.9 327.5 590.5 326.9 590.1 326.4 589.7 326.1 589.3 325.8 588.9 325.6 588.5 325.3 588.1 325 587.7 324.7 587.3 324.4 586.9 324.2 586.5 323.9 586.1 323.9 585.7 324.1 585.3 324.4 584.9 324.6 584.5 325 584.1 325.4 583.7 326.2 583.3 326.7 582.9 327.1 582.5 327.5 582.1 328 581.7 328.7 581.3 329.6 580.9 330.8 580.5 332.1 580.1 333.5 579.7 335.3 579.3 337.6 578.9 340 578.5 342.3 578.1 344.6 577.7 347.1 577.3 349.6 576.9 351.9 576.5 353.7 576.1 355.2 575.7 356.6 575.3 357.8 574.9 358.9 574.5 359.9 574.1 360.8 573.7 361.6 573.3 362.3 572.9 363 572.5 363.6 572.1 364.1 571.7 364.5 571.3 364.8 570.9 365.1 570.5 365.2 570.1 365.3 569.7 365.4 569.3 365.5 568.9 365.7 568.5 366 568.1 366.2 567.7 366.4 567.3 366.5 566.9 366.6 566.5 366.6 566.1 366.6 565.7 366.6 565.3 366.6 564.9 366.6 564.5 366.6 564.1 366.6 563.7 366.6 563.3 366.6 562.9 366.6 562.5 366.6 562.1 366.5 561.7 366.5 561.3 366.4 560.9 366.3 560.5 366.2 560.1 366 559.7 365.9 559.3 365.8 558.9 365.7 558.5 365.5 558.1 365.4 557.7 365.2 557.3 364.9 556.9 364.7 556.5 364.4 556.1 364.1 555.7 363.8 555.3 363.5 554.9 363.2 554.5 362.9 554.1 362.6 553.7 362.2 553.3 361.8 552.9 361.4 552.5 361 552.1 360.6 551.7 360.1 551.3 359.7 550.9 359.2 550.5 358.7 550.1 358.2 549.7 357.6 549.3 357.1 548.9 356.4 548.5 355.8 548.1 355.2 547.7 354.5 547.3 353.8 546.9 353.2 546.5 352.5 546.1 351.8 545.7 351.2 545.3 350.6 544.9 350.1 544.5 350.7 544.1 352.6 543.7 354.9 543.3 357.3 542.9 359.6 542.5 362.2 542.1 365.1 541.7 368 541.3 370.9 540.9 373.8 540.5 376.7 540.1 379.6 539.7 382.5 539.3 385.4 538.9 388.2 538.5 391.1 538.1 393.8 537.7 396.5 537.3 399.1 536.9 401.7 536.5 404.2 536.1 406.7 535.7 409.1 535.3 409.1 534.9 409.1 534.5 409.1 534.1 409.1Z" fill="#0072bd"/>
<path d="M534.1 407.1L534.2 406.3 534.3 405.5 534.4 404.7 534.6 403.9 534.7 403.1 534.8 402.3 534.9 401.6 535 400.8 535.1 400 535.2 399.2 535.4 398.4 535.5 397.6 535.6 396.8 535.7 396 535.8 395.2 535.9 394.4 536 393.6 536.1 392.8 536.2 392 536.3 391.3 536.4 390.5 536.5 389.7 536.6 388.9 536.8 388.1 536.9 387.3 537 386.5 537.1 385.7 537.2 384.9 537.3 384.1 537.4 383.3 537.5 382.5 537.6 381.7 537.7 380.9 537.8 380.1 537.8 379.4 537.9 378.6 538 377.8 538.1 377 538.2 376.2 538.3 375.4 538.4 374.6 538.5 373.8 538.6 373 538.7 372.2 538.8 371.4 538.9 370.6 539 369.8 539.1 369 539.2 368.2 539.3 367.4 539.4 366.6 539.5 365.9 539.6 365.1 539.7 364.3 539.8 363.5 539.9 362.7 540 361.9 540.1 361.1 540.2 360.3 540.3 359.5 540.4 358.7 540.5 357.9 540.6 357.1 540.7 356.3 540.8 355.5 540.9 354.7 541 353.9 541.1 353.2 541.2 352.4 541.3 351.6 541.4 350.8 541.5 350 541.6 349.2 541.7 348.4 541.8 347.6 541.9 346.8 542 346 542.1 345.2 542.2 344.4 542.3 343.6 542.4 342.8 542.5 342 542.6 341.2 542.8 340.5 542.9 339.7 543 338.9 543.2 338.1 543.3 337.3 543.5 336.5 543.7 335.8 543.9 335" stroke="#0072bd" stroke-width="5.5" stroke-linecap="round" fill="none"/>
<path transform="scale(0.1)" d="M5342 4096V4079M5354 4057V4011M5372 3980V3941M5347 3836V3862M5373 3791V3867M5370 3900V3829M5372 3724V3766M5384 3596V3647M5388 3566V3652M5382 3769V3692M5399 3762V3655M5402 3761V3657M5415 3454V3632M5384 3664V3539M5424 3646V3517M5415 3329V3525M5409 3260V3504M5430 3276V3394M5418 3266V3529M5425 3556V3415M5416 3552V3405M5442 3233V3418M5431 3588V3338M5419 3542V3418M5428 3080V3362M5449 3527V3366M5420 3518V3384M5435 3094V3434M5452 3531V3354M5449 3009V3341M5461 3538V3294M5453 3156V3448M5474 3079V3287M5462 3165V3304M5482 3569V3372M5497 3118V3424M5458 2990V3325M5469 3570V3403M5461 3541V3442M5461 3588V3408M5479 3582V3427M5484 3577V3445M5472 3578V3335M5492 3219V3457M5489 3583V3448M5500 3260V3470M5485 3569V3408M5491 3161V3522M5470 3581V3504M5492 3277V3481M5489 3317V3445M5497 3295V3493M5510 3631V3495M5528 3338V3491M5501 3257V3473M5518 3633V3540M5511 3342V3522M5539 3623V3536M5540 3384V3539M5562 3416V3589M5561 3368V3547M5562 3640V3477M5550 3660V3542M5551 3370V3550M5568 3367V3639M5567 3398V3608M5592 3658V3552M5599 3678V3598M5595 3673V3589M5589 3496V3609M5599 3680V3637M5596 3479V3585M5627 3466V3573M5595 3681V3594M5614 3676V3582M5613 3674V3595M5622 3455V3603M5630 3509V3567M5632 3475V3603M5609 3680V3606M5632 3684V3588M5635 3505V3609M5660 3713V3625M5638 3713V3666M5653 3492V3574M5649 3687V3600M5664 3499V3588M5661 3684V3632M5640 3705V3586M5662 3476V3568M5669 3680V3622M5698 3453V3570M5663 3673V3512M5659 3675V3617M5688 3676V3573M5680 3669V3610M5682 3493V3631M5690 3698V3581M5699 3457V3588M5698 3678V3599M5696 3450V3584M5709 3676V3505M5708 3663V3605M5695 3681V3573M5711 3691V3545M5720 3410V3580M5715 3662V3560M5719 3300V3533M5715 3386V3539M5723 3654V3574M5724 3340V3418M5725 3240V3478M5738 3629V3418M5726 3165V3599M5728 3634V3483M5759 3088V3409M5749 3092V3478M5749 3120V3335M5768 3012V3411M5771 2887V3271M5788 2599V3053M5775 3473V3355M5782 3391V3118M5783 2532V3064M5765 3414V2811M5784 3371V2837M5803 3417V2968M5794 3395V3078M5830 3368V2888M5805 3405V3070M5819 3399V2882M5827 3339V3200M5811 3406V3082M5800 3409V3251M5819 3335V3090M5816 3330V3010M5800 3346V3178M5825 3329V3044M5798 3405V2881M5837 3313V2963M5827 3309V3006M5849 3350V2990M5843 3329V3069M5842 3302V3152M5857 3306V2954M5863 3294V3044M5871 3297V3075M5865 3392V2913M5864 3290V3179M5878 3342V3237M5878 2618V2821M5897 2584V3170M5918 3328V3154M5911 2716V3098M5893 3296V3003M5892 2682V3028M5894 3295V3048M5906 2528V2881M5917 3302V3207M5907 3316V3177M5899 2713V2993M5929 2648V3097M5919 2638V3079M5902 2633V3101M5898 2735V3065M5893 2774V3047M5912 2681V3108M5897 3297V3018M5892 3302V3168M5916 3309V3051M5924 2813V3209M5923 3323V3092M5919 3329V3138M5932 2737V3171M5917 2766V3160M5940 2833V3190M5933 3352V3131M5933 2845V3008M5928 2879V3056M5923 2856V3134M5944 3337V3193M5915 3366V3127M5941 3336V3095M5920 3368V3081M5936 2834V3033M5950 3348V3141M5946 2851V3167M5932 3369V3253M5937 2873V3216M5951 3364V3104M5944 3375V3253M5977 2924V3221M5962 2939V3291M5944 2920V3212M5959 2913V3163M5955 2956V3221M5949 2934V3270M5976 2954V3186M5953 2911V3157M5977 3394V3216M5970 2992V3241M5981 2997V3174M5960 2822V3208M5975 3456V3229M5976 2973V3258M6003 3403V3227M5979 3454V3389M6000 3027V3249M5981 2995V3264M6005 3022V3349M5997 2959V3301M6003 3460V3306M6030 3088V3242M6007 3456V3341M5997 3449V3331M5995 3460V3309M6026 3057V3322M6005 3460V3244M6014 3491V3307M6024 3073V3406M6014 3479V3243M6022 3097V3373M6024 3502V3271M6048 3466V3311M6023 3104V3354M6033 3125V3354M6030 2947V3298M6039 3103V3202M6042 2974V3308M6057 3138V3310M6055 3482V3371M6045 3057V3222M6027 3484V3294M6028 3487V3288M6047 3043V3311M6063 3504V3377M6045 3490V3395M6058 3499V3351M6052 3504V3295M6061 3145V3352M6053 3515V3364M6066 3500V3364M6054 3173V3440M6060 3495V3424M6066 3145V3349M6061 3139V3461M6052 3161V3368M6072 3173V3324M6056 3161V3363M6073 3499V3387M6086 3170V3328M6084 3508V3263M6059 3184V3380M6077 3188V3353M6075 3534V3414M6084 3518V3396M6088 3196V3319M6095 3146V3330M6100 3521V3367M6105 3179V3381M6095 3533V3490M6116 3535V3454M6112 3117V3400M6094 3160V3344M6095 3188V3420M6109 3123V3356M6108 3097V3306M6106 3106V3367M6128 3144V3400M6111 3171V3410M6119 3169V3430M6128 3567V3332M6118 3527V3421M6146 3211V3414M6139 3209V3382M6136 3556V3373M6156 3090V3330M6155 3527V3468M6162 3206V3441M6165 3533V3451M6146 3163V3454M6160 3576V3418M6145 3532V3402M6153 3231V3377M6177 3185V3364M6152 3205V3437M6186 3216V3468M6191 3600V3356M6185 3229V3346M6206 3562V3484M6204 3543V3438M6177 3545V3401M6204 3570V3389M6197 3239V3414M6215 3232V3394M6223 3577V3333M6219 3562V3307M6197 3226V3428M6227 3578V3446M6218 3575V3379M6233 3552V3494M6228 3553V3407M6245 3607V3444M6235 3572V3385M6228 3260V3404M6233 3242V3413M6249 3194V3395M6253 3572V3463M6250 3249V3426M6248 3256V3468M6258 3236V3481M6245 3570V3443M6254 3270V3476M6272 3262V3413M6265 3270V3388M6270 3577V3425M6263 3572V3377M6277 3574V3433M6272 3573V3444M6263 3572V3480M6298 3587V3464M6281 3580V3458M6298 3575V3536M6300 3570V3477M6291 3153V3523M6305 3580V3442M6309 3280V3438M6314 3583V3478M6308 3257V3506M6311 3238V3566M6322 3596V3381M6317 3592V3467M6316 3572V3458M6338 3578V3368M6332 3589V3424M6342 3222V3379M6351 3572V3437M6341 3212V3433M6340 3083V3472M6336 3571V3462M6352 3207V3407M6351 3562V3360M6359 3091V3456M6346 3011V3436M6367 3579V3410M6387 3559V3422M6379 3622V3389M6387 3600V3447M6375 3056V3386M6381 3572V3398M6367 3567V3308M6387 2911V3368M6388 3127V3416M6383 3557V3359M6389 2993V3383M6383 3129V3415M6392 3127V3349M6405 3532V3273M6417 2763V3178M6390 3534V3272M6412 3538V3304M6399 3550V3220M6407 3069V3372M6397 2957V3321M6407 3520V3280M6403 3534V3299M6445 3541V3382M6444 3529V3423M6427 3510V3291M6408 3056V3285M6437 3017V3267M6444 3571V3267M6420 3014V3400M6441 2924V3270M6434 3567V3307M6440 2847V3423M6440 3520V3461M6434 3046V3398M6454 3516V3394M6437 3534V3354M6450 3498V3359M6464 2965V3299M6450 3502V3209M6480 3517V3407M6454 3490V3238M6459 3531V3319M6471 3502V3252M6479 3529V3323M6469 3545V3349M6485 3528V3325M6476 3040V3339M6482 3096V3355M6493 3554V3219M6484 3558V3396M6493 3505V3318M6475 3114V3293M6500 3025V3351M6498 3070V3441M6487 3610V3385M6497 3565V3387M6512 3551V3355M6513 3536V3404M6508 3144V3309M6505 3559V3315M6500 3559V3269M6519 3164V3375M6536 3583V3410M6554 3210V3370M6542 3210V3411M6536 3571V3412M6537 3087V3456M6558 3568V3471M6575 3629V3420M6557 3567V3473M6559 3568V3518M6562 3277V3436M6567 3587V3449M6573 3273V3452M6550 3605V3479M6585 3234V3482M6586 3300V3500M6581 3296V3456M6583 3602V3463M6580 3607V3508M6588 3332V3502M6579 3303V3404M6603 3608V3512M6589 3608V3445M6590 3332V3447M6601 3363V3494M6608 3631V3513M6598 3378V3581M6634 3634V3480M6619 3634V3513M6640 3635V3491M6624 3335V3577M6631 3383V3568M6647 3399V3496M6625 3372V3522M6654 3645V3589M6648 3361V3559M6645 3385V3545M6652 3404V3598M6670 3653V3556M6646 3348V3534M6643 3667V3531M6667 3659V3577M6662 3658V3556M6657 3671V3586M6650 3417V3553M6682 3424V3559M6688 3440V3545M6696 3712V3571M6687 3662V3582M6702 3667V3588M6698 3396V3615M6691 3429V3578M6718 3677V3601M6692 3673V3543M6684 3393V3568M6719 3445V3578M6717 3692V3536M6732 3468V3618M6735 3454V3628M6712 3467V3619M6735 3478V3601M6715 3676V3629M6725 3477V3550M6745 3472V3554M6754 3682V3594M6757 3448V3605M6744 3709V3660M6767 3681V3665M6767 3447V3593M6762 3686V3551M6758 3470V3605M6776 3427V3549M6778 3694V3574M6782 3698V3590M6785 3439V3568M6791 3680V3646M6789 3693V3570M6793 3446V3675M6807 3699V3480M6807 3686V3526M6829 3391V3521M6824 3669V3590M6843 3313V3523M6819 3140V3526M6848 3661V3497M6843 3383V3479M6863 3303V3576M6876 3653V3650M6864 3675V3595M6860 3375V3547M6853 3367V3499M6869 3656V3578M6862 3650V3579M6873 3655V3559M6865 3644V3579M6864 3678V3457M6895 3645V3580M6869 3661V3493M6847 3358V3570M6878 3675V3421M6873 3649V3568M6863 3657V3547M6901 3305V3588M6875 3647V3540M6873 3342V3518M6889 3661V3556M6927 3266V3487M6930 3356V3546M6904 3370V3600M6920 3240V3373M6908 3372V3507M6926 3656V3517M6922 3286V3557M6931 3389V3519M6944 3287V3448M6932 3659V3515M6948 3355V3530M6935 3662V3567M6931 3679V3584M6955 3420V3489M6965 3400V3576M6975 3437V3566M6959 3687V3556" stroke="#0072bd" stroke-opacity="0.3" stroke-width="6" fill="none"/>
<path transform="scale(0.1)" d="M5307 4020h17M5318 4092h17M5319 4081h17M5322 4044h17M5327 4013h17M5328 4047h17M5330 3949h17M5330 4090h17M5332 3937h17M5332 3983h17M5333 4096h17M5335 3978h17M5336 4010h17M5336 3944h17M5338 3836h17M5340 4055h17M5340 4065h17M5341 3905h17M5342 4078h17M5343 4017h17M5343 4040h17M5344 3941h17M5344 3987h17M5345 3850h17M5345 3922h17M5346 4057h17M5346 3977h17M5348 4043h17M5348 3937h17M5349 3936h17M5349 4017h17M5351 3769h17M5354 3984h17M5355 3941h17M5355 3912h17M5355 3910h17M5355 4014h17M5358 3781h17M5358 4068h17M5360 4022h17M5360 3996h17M5361 3822h17M5361 3629h17M5362 3900h17M5362 3921h17M5363 3980h17M5364 3724h17M5365 3791h17M5365 3812h17M5365 3766h17M5365 3547h17M5366 3856h17M5367 3718h17M5367 3900h17M5368 3697h17M5369 3821h17M5369 3750h17M5370 3792h17M5371 3834h17M5371 3626h17M5372 3737h17M5372 3834h17M5373 3600h17M5373 3739h17M5373 3769h17M5374 3766h17M5374 3936h17M5375 3801h17M5375 3787h17M5375 3832h17M5375 3743h17M5376 3596h17M5376 3664h17M5376 3633h17M5377 3610h17M5378 3616h17M5379 3781h17M5379 3733h17M5379 3566h17M5380 3705h17M5381 3603h17M5381 3668h17M5381 3743h17M5383 3697h17M5384 3705h17M5384 3747h17M5386 3610h17M5388 3673h17M5388 3556h17M5390 3522h17M5390 3737h17M5391 3762h17M5392 3512h17M5393 3705h17M5394 3645h17M5394 3761h17M5394 3740h17M5399 3727h17M5400 3337h17M5400 3596h17M5400 3743h17M5400 3260h17M5402 3324h17M5402 3474h17M5402 3566h17M5402 3455h17M5404 3523h17M5405 3593h17M5406 3573h17M5406 3329h17M5407 3459h17M5407 3454h17M5407 3489h17M5407 3552h17M5409 3442h17M5409 3613h17M5409 3629h17M5409 3567h17M5409 3204h17M5409 3266h17M5411 3542h17M5411 3555h17M5411 3490h17M5411 3518h17M5413 3573h17M5413 3236h17M5414 3568h17M5415 3571h17M5415 3646h17M5415 3559h17M5417 3556h17M5417 3221h17M5417 3550h17M5417 3322h17M5418 3208h17M5419 3567h17M5419 3080h17M5420 2973h17M5420 3237h17M5420 3191h17M5421 3487h17M5421 3328h17M5422 3217h17M5422 3276h17M5422 3588h17M5423 3192h17M5423 3189h17M5423 3207h17M5423 3161h17M5424 3355h17M5425 3505h17M5425 3511h17M5426 3457h17M5427 3094h17M5427 3168h17M5430 3506h17M5431 3227h17M5431 3479h17M5431 3510h17M5431 3491h17M5432 3022h17M5432 3131h17M5434 3233h17M5434 3126h17M5434 3547h17M5435 3545h17M5435 3511h17M5436 3484h17M5437 3514h17M5437 3479h17M5439 3145h17M5440 3506h17M5441 3009h17M5441 3527h17M5442 3146h17M5442 3506h17M5442 3512h17M5442 3497h17M5443 3531h17M5444 3497h17M5444 3485h17M5444 3164h17M5444 3481h17M5444 3156h17M5446 3482h17M5447 3497h17M5447 3191h17M5448 3027h17M5448 3033h17M5449 2990h17M5450 3537h17M5450 3493h17M5450 3552h17M5451 3254h17M5452 3538h17M5452 3240h17M5452 3525h17M5452 3588h17M5452 3491h17M5453 3547h17M5453 3541h17M5453 3509h17M5453 3165h17M5453 3543h17M5453 3507h17M5454 3207h17M5454 3202h17M5454 3526h17M5454 3524h17M5454 3226h17M5455 3203h17M5456 3502h17M5456 3551h17M5456 3231h17M5456 3224h17M5457 3278h17M5458 3183h17M5458 3528h17M5459 3499h17M5459 3294h17M5460 3218h17M5460 3262h17M5461 3570h17M5462 3581h17M5462 3182h17M5464 3578h17M5464 3507h17M5465 3301h17M5466 3201h17M5466 3079h17M5466 3324h17M5466 3518h17M5467 3531h17M5467 3237h17M5467 3173h17M5468 3188h17M5468 2938h17M5469 3519h17M5469 3526h17M5470 3582h17M5470 3538h17M5471 3502h17M5471 3213h17M5472 3308h17M5472 3322h17M5473 3260h17M5473 3243h17M5473 3537h17M5473 3569h17M5474 3595h17M5476 3559h17M5476 3577h17M5476 3276h17M5476 3569h17M5478 3304h17M5478 3552h17M5479 3530h17M5479 3548h17M5479 3522h17M5480 3581h17M5480 3539h17M5480 3543h17M5480 3583h17M5481 3317h17M5482 3161h17M5483 3219h17M5483 3345h17M5484 3277h17M5484 3324h17M5485 3597h17M5486 3566h17M5486 3570h17M5487 3383h17M5488 3380h17M5488 3395h17M5488 3175h17M5489 3603h17M5489 3347h17M5489 3118h17M5489 3295h17M5490 3334h17M5490 3387h17M5490 3606h17M5490 3553h17M5492 3260h17M5492 3560h17M5492 3257h17M5493 3565h17M5495 3583h17M5496 3572h17M5496 3391h17M5496 3345h17M5496 3569h17M5497 3291h17M5497 3568h17M5499 3577h17M5500 3388h17M5500 3557h17M5501 3631h17M5503 3407h17M5503 3342h17M5503 3586h17M5503 3563h17M5505 3389h17M5506 3390h17M5506 3614h17M5507 3571h17M5508 3315h17M5508 3405h17M5509 3401h17M5509 3607h17M5509 3600h17M5509 3613h17M5510 3585h17M5510 3633h17M5510 3605h17M5512 3619h17M5512 3585h17M5513 3334h17M5513 3429h17M5515 3374h17M5516 3268h17M5516 3584h17M5517 3275h17M5517 3603h17M5518 3611h17M5519 3338h17M5520 3427h17M5520 3408h17M5520 3433h17M5520 3446h17M5521 3583h17M5523 3475h17M5524 3383h17M5525 3394h17M5525 3613h17M5525 3432h17M5527 3425h17M5528 3379h17M5528 3607h17M5530 3621h17M5530 3623h17M5531 3441h17M5531 3602h17M5532 3384h17M5532 3600h17M5532 3673h17M5534 3430h17M5535 3395h17M5536 3606h17M5539 3608h17M5539 3605h17M5539 3436h17M5539 3472h17M5539 3455h17M5540 3453h17M5540 3439h17M5540 3625h17M5540 3631h17M5541 3615h17M5541 3660h17M5542 3370h17M5543 3608h17M5543 3616h17M5543 3626h17M5545 3637h17M5545 3621h17M5546 3479h17M5547 3629h17M5547 3495h17M5547 3482h17M5547 3466h17M5548 3640h17M5548 3604h17M5549 3668h17M5550 3629h17M5550 3450h17M5551 3635h17M5551 3627h17M5551 3621h17M5551 3460h17M5551 3632h17M5551 3442h17M5552 3368h17M5552 3624h17M5553 3640h17M5553 3669h17M5554 3416h17M5554 3448h17M5555 3474h17M5555 3446h17M5558 3626h17M5559 3489h17M5559 3398h17M5559 3367h17M5560 3645h17M5560 3501h17M5560 3485h17M5561 3505h17M5562 3627h17M5562 3651h17M5562 3496h17M5562 3485h17M5563 3481h17M5563 3659h17M5564 3662h17M5566 3628h17M5567 3442h17M5568 3653h17M5568 3651h17M5569 3448h17M5571 3658h17M5571 3456h17M5572 3650h17M5572 3485h17M5572 3651h17M5572 3514h17M5573 3641h17M5573 3674h17M5573 3489h17M5574 3472h17M5575 3651h17M5575 3516h17M5576 3408h17M5576 3529h17M5576 3665h17M5577 3664h17M5579 3635h17M5580 3672h17M5580 3524h17M5580 3503h17M5580 3665h17M5580 3496h17M5581 3635h17M5582 3515h17M5583 3648h17M5584 3513h17M5584 3658h17M5584 3660h17M5585 3670h17M5586 3646h17M5586 3511h17M5587 3681h17M5587 3673h17M5588 3479h17M5588 3665h17M5589 3516h17M5590 3656h17M5590 3678h17M5590 3680h17M5591 3655h17M5591 3661h17M5591 3655h17M5591 3503h17M5593 3656h17M5594 3661h17M5596 3656h17M5600 3455h17M5600 3680h17M5601 3517h17M5602 3528h17M5604 3529h17M5604 3674h17M5605 3673h17M5605 3516h17M5606 3676h17M5606 3657h17M5607 3537h17M5608 3659h17M5609 3674h17M5609 3654h17M5610 3538h17M5611 3703h17M5613 3455h17M5613 3663h17M5614 3528h17M5617 3522h17M5617 3652h17M5617 3497h17M5618 3466h17M5618 3523h17M5618 3666h17M5619 3680h17M5619 3715h17M5620 3545h17M5621 3509h17M5622 3533h17M5622 3524h17M5623 3535h17M5623 3475h17M5623 3684h17M5624 3670h17M5625 3522h17M5625 3529h17M5626 3539h17M5626 3505h17M5626 3528h17M5626 3660h17M5627 3517h17M5627 3519h17M5627 3665h17M5629 3540h17M5629 3530h17M5629 3527h17M5630 3713h17M5632 3479h17M5632 3705h17M5632 3680h17M5633 3693h17M5633 3539h17M5635 3529h17M5635 3704h17M5637 3662h17M5637 3667h17M5638 3671h17M5639 3669h17M5640 3681h17M5640 3687h17M5642 3495h17M5642 3528h17M5643 3665h17M5643 3479h17M5644 3504h17M5644 3492h17M5645 3664h17M5646 3680h17M5646 3523h17M5648 3678h17M5648 3667h17M5648 3661h17M5649 3545h17M5650 3537h17M5650 3517h17M5650 3484h17M5651 3675h17M5651 3487h17M5652 3713h17M5652 3676h17M5652 3519h17M5652 3670h17M5652 3517h17M5652 3684h17M5654 3476h17M5654 3673h17M5655 3663h17M5655 3657h17M5655 3540h17M5655 3534h17M5655 3519h17M5656 3499h17M5656 3707h17M5657 3538h17M5659 3538h17M5659 3670h17M5660 3673h17M5661 3680h17M5661 3456h17M5662 3516h17M5663 3475h17M5663 3670h17M5663 3654h17M5664 3697h17M5664 3515h17M5664 3670h17M5664 3520h17M5666 3510h17M5666 3653h17M5666 3483h17M5666 3681h17M5666 3656h17M5667 3525h17M5667 3528h17M5669 3653h17M5669 3500h17M5670 3524h17M5670 3497h17M5670 3693h17M5671 3669h17M5671 3655h17M5672 3539h17M5672 3666h17M5674 3493h17M5674 3473h17M5674 3494h17M5674 3478h17M5674 3662h17M5675 3649h17M5676 3667h17M5678 3395h17M5679 3518h17M5679 3656h17M5680 3494h17M5680 3676h17M5681 3647h17M5682 3698h17M5682 3450h17M5682 3504h17M5683 3668h17M5684 3515h17M5686 3663h17M5686 3681h17M5686 3496h17M5686 3649h17M5687 3450h17M5687 3462h17M5688 3472h17M5688 3665h17M5689 3678h17M5689 3453h17M5690 3457h17M5691 3650h17M5693 3648h17M5698 3637h17M5699 3721h17M5700 3415h17M5700 3663h17M5701 3676h17M5701 3642h17M5701 3677h17M5702 3411h17M5702 3450h17M5702 3447h17M5703 3691h17M5704 3624h17M5704 3457h17M5705 3675h17M5706 3477h17M5706 3662h17M5707 3412h17M5707 3386h17M5707 3642h17M5707 3591h17M5708 3315h17M5708 3608h17M5708 3332h17M5709 3453h17M5710 3425h17M5711 3300h17M5711 3595h17M5711 3410h17M5712 3473h17M5712 3612h17M5713 3602h17M5714 3654h17M5714 3340h17M5715 3628h17M5715 3306h17M5715 3340h17M5716 3392h17M5716 3240h17M5717 3617h17M5717 3301h17M5717 3165h17M5718 3345h17M5719 3620h17M5720 3634h17M5720 3568h17M5720 3583h17M5720 3505h17M5720 3355h17M5721 3374h17M5722 3650h17M5722 3596h17M5722 3590h17M5723 3548h17M5724 3232h17M5725 3298h17M5726 2889h17M5727 3418h17M5728 3523h17M5729 3504h17M5729 3319h17M5730 3265h17M5730 3535h17M5730 3629h17M5731 3606h17M5731 3566h17M5732 3233h17M5732 3230h17M5732 3385h17M5733 3273h17M5734 3520h17M5735 3573h17M5735 3005h17M5735 3168h17M5735 3567h17M5736 3562h17M5736 3613h17M5737 3581h17M5737 3562h17M5738 3196h17M5738 3601h17M5738 3277h17M5739 3338h17M5740 3092h17M5740 2843h17M5741 3120h17M5741 3530h17M5742 3035h17M5742 2768h17M5742 3352h17M5743 3277h17M5743 3207h17M5744 3569h17M5744 3587h17M5746 3208h17M5746 3059h17M5747 3111h17M5747 3031h17M5748 3494h17M5748 3542h17M5748 2882h17M5749 3484h17M5749 3004h17M5749 2957h17M5750 3088h17M5750 3528h17M5752 3439h17M5752 3441h17M5752 3296h17M5753 3088h17M5753 3593h17M5753 3449h17M5753 3301h17M5754 3370h17M5754 3498h17M5754 3235h17M5754 2882h17M5756 2900h17M5756 3549h17M5756 2929h17M5756 3476h17M5757 3414h17M5757 3443h17M5757 3543h17M5757 3350h17M5758 3482h17M5759 2938h17M5759 2700h17M5760 3012h17M5760 3382h17M5761 2854h17M5762 2887h17M5763 3319h17M5763 3400h17M5764 2768h17M5765 3341h17M5765 2507h17M5765 3514h17M5766 3281h17M5766 3020h17M5766 2861h17M5767 3473h17M5767 2899h17M5767 2634h17M5768 3350h17M5768 3453h17M5768 2745h17M5768 2889h17M5768 3367h17M5768 2879h17M5769 3330h17M5770 2506h17M5770 3323h17M5770 2866h17M5771 3030h17M5772 3332h17M5772 3314h17M5772 3388h17M5773 3374h17M5773 2834h17M5773 2857h17M5773 3391h17M5773 3317h17M5773 2896h17M5774 2557h17M5774 3372h17M5774 2532h17M5775 3329h17M5775 3371h17M5775 3348h17M5775 2597h17M5776 3365h17M5776 3342h17M5777 2833h17M5777 3315h17M5777 3395h17M5777 2735h17M5778 3475h17M5778 3299h17M5778 2948h17M5779 2623h17M5779 3321h17M5780 2599h17M5780 3294h17M5780 3115h17M5780 3346h17M5781 2600h17M5782 2665h17M5783 3319h17M5783 2524h17M5783 2827h17M5783 3447h17M5785 3395h17M5786 3279h17M5786 2796h17M5787 3416h17M5788 2503h17M5788 3310h17M5788 3355h17M5788 3273h17M5789 3397h17M5789 3370h17M5790 3405h17M5790 3296h17M5790 3397h17M5790 3264h17M5791 2575h17M5791 3346h17M5791 3362h17M5792 3409h17M5792 3274h17M5794 3307h17M5794 2631h17M5795 3417h17M5796 2647h17M5796 3271h17M5796 3262h17M5796 3264h17M5796 2576h17M5797 3405h17M5798 3305h17M5798 2547h17M5799 3331h17M5799 2589h17M5799 2627h17M5800 2575h17M5802 2596h17M5802 3406h17M5803 2633h17M5803 2559h17M5804 3281h17M5805 3318h17M5808 3330h17M5808 3313h17M5808 2542h17M5808 3306h17M5808 3286h17M5809 3281h17M5809 3234h17M5809 3395h17M5809 3259h17M5810 3335h17M5811 3296h17M5811 3399h17M5812 3281h17M5813 3272h17M5814 3228h17M5814 3295h17M5815 3387h17M5815 3273h17M5815 2496h17M5816 3309h17M5816 3263h17M5816 3268h17M5816 3274h17M5816 2535h17M5816 3369h17M5816 3329h17M5816 2490h17M5817 3396h17M5817 2511h17M5818 3309h17M5818 3252h17M5818 3339h17M5818 3292h17M5820 3233h17M5820 3276h17M5820 3275h17M5821 3244h17M5822 3368h17M5822 3364h17M5822 3326h17M5822 2490h17M5824 3257h17M5824 3241h17M5825 3291h17M5825 3330h17M5826 2544h17M5826 3289h17M5827 3264h17M5827 2584h17M5827 3266h17M5828 2558h17M5828 2519h17M5829 3313h17M5829 3333h17M5830 3278h17M5831 2619h17M5831 3272h17M5832 3252h17M5833 3258h17M5833 2564h17M5833 3302h17M5834 2573h17M5835 3329h17M5835 3239h17M5835 2578h17M5836 2553h17M5836 2488h17M5836 2549h17M5836 3441h17M5837 2505h17M5838 2627h17M5838 3219h17M5839 3291h17M5839 2660h17M5839 3242h17M5839 2612h17M5840 3227h17M5840 3350h17M5840 3241h17M5840 3271h17M5841 3237h17M5841 2530h17M5841 3270h17M5841 2529h17M5842 3251h17M5842 2565h17M5842 3242h17M5843 3263h17M5843 2706h17M5843 2651h17M5843 3299h17M5843 3242h17M5844 3250h17M5845 2531h17M5846 2591h17M5846 3309h17M5847 3238h17M5847 3287h17M5847 3311h17M5848 2601h17M5848 3306h17M5850 3274h17M5850 3255h17M5850 3245h17M5850 3255h17M5850 2660h17M5850 3224h17M5851 3257h17M5851 2561h17M5852 3222h17M5852 2594h17M5852 3280h17M5853 2558h17M5854 3253h17M5854 3294h17M5854 2623h17M5855 3235h17M5855 3290h17M5857 3274h17M5857 2763h17M5857 2669h17M5857 2722h17M5857 3392h17M5857 2752h17M5857 3259h17M5857 3262h17M5860 2668h17M5860 3377h17M5861 2696h17M5862 3223h17M5862 3275h17M5862 3297h17M5862 3242h17M5864 3264h17M5864 2671h17M5866 2625h17M5866 3272h17M5866 3280h17M5867 3233h17M5867 2583h17M5867 3228h17M5867 3271h17M5868 3299h17M5868 2675h17M5868 3234h17M5868 2613h17M5869 2652h17M5870 2728h17M5870 3225h17M5870 3342h17M5870 3232h17M5870 2618h17M5871 3267h17M5871 3251h17M5871 2741h17M5871 3347h17M5872 3256h17M5872 3283h17M5872 2764h17M5872 3231h17M5872 3281h17M5873 3277h17M5873 3291h17M5873 2819h17M5874 3240h17M5874 3257h17M5874 2621h17M5874 3252h17M5874 2686h17M5875 3245h17M5875 3262h17M5875 3297h17M5875 3273h17M5875 3336h17M5877 3311h17M5878 3276h17M5878 2771h17M5879 2887h17M5879 2710h17M5880 3230h17M5880 2643h17M5881 2765h17M5881 3280h17M5881 3258h17M5882 3308h17M5883 2740h17M5884 3302h17M5884 2682h17M5884 2774h17M5885 3247h17M5885 3296h17M5885 2860h17M5886 3248h17M5886 3254h17M5886 3295h17M5886 3276h17M5886 2674h17M5886 2720h17M5886 2783h17M5886 3247h17M5887 3284h17M5887 2876h17M5887 2777h17M5887 2758h17M5887 2737h17M5887 2859h17M5888 2847h17M5888 2584h17M5888 3297h17M5889 2735h17M5889 2827h17M5890 2713h17M5891 3233h17M5891 3236h17M5891 2824h17M5892 3260h17M5892 3291h17M5892 2816h17M5893 3269h17M5893 2853h17M5894 3283h17M5894 2845h17M5894 3301h17M5894 2633h17M5894 3340h17M5894 3255h17M5894 2790h17M5894 2883h17M5894 2785h17M5895 2808h17M5895 3266h17M5895 3246h17M5895 2824h17M5895 2895h17M5896 2780h17M5896 3277h17M5896 3267h17M5897 2920h17M5897 2528h17M5897 2885h17M5898 3253h17M5898 3262h17M5898 3252h17M5898 2735h17M5899 2794h17M5899 3316h17M5899 2835h17M5900 3265h17M5900 2758h17M5900 2840h17M5900 2821h17M5900 2814h17M5901 2907h17M5901 3291h17M5901 2882h17M5902 2682h17M5902 2883h17M5902 2772h17M5902 3292h17M5903 3258h17M5903 2716h17M5903 2681h17M5903 2891h17M5904 3309h17M5904 2927h17M5904 3279h17M5905 3256h17M5906 3366h17M5907 2888h17M5908 3357h17M5908 2612h17M5908 3309h17M5908 3258h17M5908 2766h17M5909 3302h17M5909 3266h17M5909 2885h17M5910 3281h17M5910 3328h17M5910 3304h17M5910 2638h17M5910 3329h17M5910 2972h17M5910 2943h17M5911 3368h17M5911 3293h17M5912 2893h17M5913 2939h17M5913 3348h17M5914 2856h17M5914 2903h17M5915 2956h17M5915 3323h17M5915 2912h17M5915 2813h17M5915 3286h17M5915 2843h17M5916 3268h17M5916 2911h17M5916 2963h17M5916 3257h17M5918 3304h17M5918 3302h17M5919 2873h17M5919 3263h17M5919 2908h17M5919 3287h17M5920 2879h17M5920 2648h17M5920 2827h17M5921 3272h17M5921 3325h17M5921 3294h17M5921 2851h17M5921 3258h17M5923 3267h17M5923 2918h17M5923 3338h17M5923 3369h17M5924 3316h17M5924 2737h17M5924 3352h17M5924 2737h17M5924 2845h17M5925 2910h17M5925 2876h17M5925 2941h17M5925 2884h17M5925 3303h17M5926 2976h17M5926 2941h17M5926 2944h17M5927 2921h17M5927 3300h17M5928 2834h17M5928 3345h17M5928 3294h17M5928 3284h17M5928 3294h17M5928 2937h17M5928 3380h17M5929 2873h17M5929 3285h17M5931 3329h17M5931 3302h17M5931 2833h17M5931 2972h17M5932 2958h17M5932 3321h17M5933 3336h17M5933 3329h17M5933 3377h17M5933 3260h17M5934 2918h17M5935 3328h17M5935 2952h17M5935 3375h17M5935 2920h17M5935 2993h17M5935 3337h17M5937 3325h17M5937 3323h17M5937 2952h17M5937 2851h17M5938 3019h17M5939 3296h17M5940 3311h17M5940 3026h17M5940 2934h17M5942 3348h17M5942 2993h17M5943 3034h17M5943 3364h17M5943 3317h17M5943 3013h17M5944 3337h17M5944 3316h17M5944 2909h17M5945 2960h17M5945 2911h17M5945 2978h17M5945 2984h17M5945 3298h17M5945 3362h17M5945 3327h17M5947 2985h17M5947 2956h17M5947 3334h17M5948 2933h17M5948 3350h17M5949 2850h17M5950 3002h17M5950 3331h17M5951 2913h17M5951 2932h17M5952 3367h17M5952 2822h17M5953 3386h17M5953 3349h17M5953 3352h17M5953 3323h17M5954 3354h17M5954 3339h17M5954 2939h17M5954 3002h17M5955 3315h17M5955 3329h17M5956 3354h17M5956 3379h17M5958 2927h17M5958 3342h17M5958 3359h17M5958 3052h17M5959 3028h17M5959 3351h17M5960 3017h17M5960 3362h17M5961 3010h17M5961 3129h17M5961 3060h17M5962 2992h17M5962 3351h17M5962 3051h17M5963 3002h17M5963 3090h17M5963 3378h17M5963 3349h17M5964 3374h17M5964 3105h17M5964 3052h17M5964 3032h17M5965 3099h17M5966 3366h17M5966 3372h17M5966 3049h17M5966 3004h17M5967 3351h17M5967 3456h17M5967 2954h17M5968 2973h17M5968 2924h17M5968 3123h17M5968 3394h17M5970 3391h17M5970 3041h17M5970 3376h17M5970 3392h17M5970 3454h17M5971 3025h17M5971 3353h17M5971 3373h17M5971 3346h17M5971 3095h17M5972 2970h17M5972 3364h17M5972 3077h17M5972 3399h17M5972 3418h17M5972 2997h17M5972 2995h17M5972 3113h17M5973 3352h17M5973 3389h17M5973 3071h17M5974 3078h17M5974 3015h17M5974 3377h17M5974 3369h17M5975 3353h17M5975 3111h17M5976 3443h17M5977 3138h17M5977 3100h17M5977 3386h17M5977 3412h17M5978 3082h17M5978 3091h17M5978 3446h17M5979 3102h17M5980 3028h17M5980 3076h17M5980 3072h17M5982 3087h17M5982 3444h17M5983 3400h17M5983 3047h17M5983 3364h17M5985 3382h17M5986 3089h17M5986 3432h17M5986 3460h17M5987 3401h17M5987 3384h17M5988 3074h17M5988 2959h17M5988 2980h17M5988 3088h17M5988 3449h17M5988 3419h17M5989 3395h17M5989 3164h17M5989 3030h17M5989 3449h17M5990 3119h17M5990 3416h17M5991 3126h17M5991 3385h17M5991 3087h17M5991 3027h17M5992 3163h17M5992 3404h17M5992 3425h17M5992 3383h17M5993 3121h17M5994 3089h17M5994 3403h17M5994 3460h17M5995 3398h17M5995 3470h17M5995 3437h17M5996 3412h17M5996 3410h17M5996 3460h17M5997 3022h17M5997 3393h17M5998 3133h17M5998 3017h17M5998 3405h17M5998 3456h17M5999 3098h17M5999 3159h17M5999 3420h17M5999 3161h17M5999 3069h17M6000 3140h17M6000 3143h17M6000 2953h17M6000 3171h17M6001 3436h17M6001 3427h17M6002 3453h17M6002 3396h17M6002 3453h17M6002 3414h17M6003 3122h17M6004 3170h17M6005 3416h17M6005 3417h17M6005 3491h17M6005 3134h17M6005 3423h17M6005 3114h17M6005 3479h17M6006 3428h17M6007 3125h17M6007 3443h17M6009 3086h17M6010 3438h17M6011 3025h17M6012 3481h17M6012 3436h17M6013 3185h17M6013 3162h17M6014 3097h17M6014 3078h17M6014 3396h17M6014 3104h17M6015 3414h17M6015 3115h17M6015 3177h17M6015 3073h17M6016 3446h17M6016 3502h17M6016 3418h17M6017 3165h17M6017 3180h17M6017 3076h17M6017 3145h17M6018 3057h17M6018 3471h17M6018 3438h17M6019 3484h17M6019 3176h17M6019 3487h17M6019 3166h17M6020 3208h17M6020 3481h17M6021 3474h17M6021 3499h17M6021 3088h17M6021 3489h17M6022 2947h17M6022 3396h17M6022 3408h17M6022 3454h17M6023 3434h17M6024 3125h17M6024 3189h17M6025 3196h17M6025 2980h17M6026 3173h17M6026 3192h17M6027 3449h17M6027 3412h17M6028 3170h17M6028 3422h17M6029 3471h17M6029 3141h17M6030 3103h17M6030 3499h17M6031 3168h17M6031 3462h17M6032 3503h17M6033 3157h17M6033 2974h17M6034 3435h17M6034 3462h17M6035 3493h17M6035 3186h17M6036 3180h17M6036 3169h17M6036 3467h17M6036 3108h17M6036 3057h17M6037 3490h17M6037 3450h17M6038 3522h17M6038 3043h17M6039 3466h17M6042 3455h17M6042 3169h17M6042 3500h17M6042 3155h17M6044 3161h17M6044 3523h17M6044 3504h17M6044 3460h17M6045 3515h17M6045 3518h17M6046 3201h17M6046 3173h17M6046 3509h17M6047 3220h17M6047 3482h17M6048 3161h17M6048 3201h17M6048 3183h17M6048 3445h17M6049 3474h17M6049 3138h17M6049 3137h17M6049 3499h17M6050 3202h17M6051 3184h17M6051 3506h17M6052 3495h17M6052 3205h17M6052 3466h17M6052 3139h17M6052 3145h17M6052 3200h17M6053 3189h17M6053 3170h17M6054 3452h17M6054 3464h17M6055 3504h17M6056 3449h17M6056 3229h17M6056 3461h17M6058 3500h17M6058 3182h17M6058 3145h17M6058 3474h17M6059 3463h17M6059 3478h17M6059 3484h17M6060 3488h17M6062 3518h17M6062 3262h17M6062 3491h17M6063 3181h17M6063 3485h17M6064 3173h17M6065 3499h17M6065 3181h17M6066 3534h17M6068 3188h17M6069 3495h17M6069 3486h17M6069 3466h17M6070 3245h17M6070 3191h17M6071 3181h17M6071 3487h17M6072 3232h17M6072 3126h17M6072 3482h17M6073 3234h17M6073 3478h17M6073 3470h17M6073 3114h17M6073 3231h17M6075 3471h17M6076 3518h17M6076 3466h17M6076 3481h17M6076 3192h17M6076 3508h17M6076 3490h17M6077 3473h17M6077 3242h17M6077 3465h17M6078 3196h17M6078 3170h17M6078 3484h17M6078 3472h17M6080 3196h17M6080 3496h17M6080 3553h17M6081 3195h17M6081 3184h17M6082 3157h17M6084 3175h17M6084 3480h17M6084 3262h17M6085 3204h17M6085 3222h17M6085 3263h17M6085 3155h17M6086 3160h17M6086 3471h17M6086 3217h17M6087 3188h17M6087 3146h17M6087 3533h17M6087 3512h17M6087 3236h17M6090 3502h17M6090 3253h17M6091 3167h17M6092 3521h17M6092 3263h17M6093 3515h17M6093 3236h17M6093 3250h17M6093 3186h17M6093 3258h17M6095 3535h17M6095 3243h17M6095 3486h17M6096 3221h17M6096 3485h17M6096 3179h17M6097 3520h17M6097 3488h17M6097 3535h17M6097 3246h17M6098 3483h17M6098 3106h17M6098 3513h17M6099 3258h17M6099 3176h17M6099 3222h17M6099 3233h17M6100 3251h17M6100 3097h17M6100 3232h17M6100 3146h17M6101 3123h17M6101 3521h17M6101 3240h17M6102 3519h17M6102 3171h17M6102 3240h17M6103 3497h17M6103 3117h17M6104 3256h17M6104 3263h17M6105 3549h17M6105 3200h17M6105 3500h17M6106 3227h17M6107 3496h17M6107 3269h17M6107 3535h17M6108 3506h17M6108 3261h17M6108 3496h17M6109 3190h17M6109 3527h17M6109 3491h17M6110 3263h17M6111 3248h17M6111 3241h17M6111 3169h17M6111 3506h17M6112 3497h17M6114 3493h17M6114 3483h17M6114 3492h17M6115 3260h17M6115 3492h17M6115 3270h17M6116 3484h17M6116 3227h17M6117 3230h17M6117 3492h17M6117 3256h17M6118 3226h17M6119 3486h17M6119 3498h17M6119 3529h17M6119 3544h17M6119 3504h17M6119 3248h17M6119 3144h17M6119 3567h17M6121 3495h17M6121 3241h17M6122 3503h17M6122 3517h17M6123 3269h17M6123 3529h17M6125 3277h17M6125 3500h17M6125 3489h17M6126 3516h17M6126 3265h17M6126 3514h17M6127 3554h17M6128 3556h17M6129 3500h17M6129 3502h17M6129 3510h17M6130 3273h17M6131 3209h17M6132 3514h17M6133 3497h17M6134 3274h17M6136 3185h17M6136 3267h17M6136 3495h17M6136 3499h17M6137 3497h17M6137 3532h17M6138 3265h17M6138 3211h17M6138 3163h17M6138 3524h17M6140 3214h17M6141 3293h17M6141 3502h17M6141 3244h17M6142 3515h17M6142 3278h17M6142 3217h17M6143 3186h17M6143 3239h17M6143 3205h17M6144 3286h17M6144 3262h17M6144 3231h17M6145 3563h17M6145 3512h17M6146 3258h17M6146 3527h17M6147 3256h17M6147 3090h17M6148 3235h17M6148 3237h17M6149 3262h17M6149 3513h17M6149 3527h17M6149 3506h17M6150 3493h17M6150 3516h17M6150 3516h17M6150 3517h17M6150 3500h17M6151 3501h17M6151 3576h17M6152 3245h17M6152 3256h17M6153 3284h17M6154 3206h17M6155 3508h17M6156 3503h17M6156 3270h17M6156 3287h17M6157 3533h17M6158 3298h17M6158 3277h17M6159 3502h17M6159 3505h17M6160 3270h17M6160 3514h17M6160 3111h17M6161 3521h17M6164 3540h17M6164 3537h17M6164 3559h17M6165 3291h17M6165 3292h17M6165 3261h17M6166 3246h17M6166 3510h17M6166 3504h17M6168 3501h17M6168 3287h17M6168 3545h17M6169 3185h17M6169 3293h17M6169 3281h17M6170 3511h17M6170 3507h17M6171 3523h17M6171 3275h17M6172 3517h17M6172 3530h17M6172 3566h17M6173 3208h17M6174 3512h17M6175 3170h17M6175 3524h17M6175 3264h17M6176 3257h17M6177 3511h17M6177 3229h17M6177 3289h17M6178 3216h17M6178 3531h17M6179 3289h17M6180 3262h17M6180 3554h17M6181 3539h17M6181 3541h17M6181 3518h17M6182 3289h17M6183 3600h17M6183 3284h17M6183 3186h17M6183 3282h17M6185 3259h17M6186 3547h17M6186 3526h17M6186 3513h17M6186 3104h17M6187 3512h17M6187 3305h17M6188 3239h17M6189 3226h17M6189 3285h17M6189 3519h17M6191 3527h17M6191 3535h17M6193 3287h17M6194 3306h17M6195 3543h17M6195 3255h17M6195 3570h17M6196 3070h17M6197 3521h17M6198 3562h17M6198 3527h17M6198 3517h17M6199 3523h17M6199 3258h17M6199 3240h17M6199 3530h17M6199 3522h17M6200 3273h17M6200 3280h17M6200 3290h17M6201 3249h17M6201 3260h17M6202 3242h17M6202 3256h17M6203 3306h17M6203 3302h17M6204 3215h17M6205 3286h17M6205 3551h17M6205 3287h17M6206 3521h17M6206 3232h17M6206 3555h17M6207 3296h17M6207 3535h17M6207 3296h17M6209 3211h17M6209 3575h17M6209 3175h17M6210 3562h17M6211 3550h17M6212 3551h17M6212 3519h17M6213 3532h17M6213 3529h17M6213 3543h17M6214 3577h17M6214 3284h17M6214 3524h17M6215 3542h17M6216 3530h17M6217 3304h17M6218 3294h17M6218 3299h17M6218 3578h17M6219 3530h17M6219 3526h17M6219 3260h17M6219 3530h17M6219 3548h17M6220 3294h17M6220 3553h17M6220 3536h17M6220 3273h17M6220 3543h17M6221 3536h17M6222 3318h17M6223 3278h17M6223 3520h17M6223 3525h17M6224 3543h17M6224 3529h17M6224 3242h17M6224 3552h17M6225 3312h17M6225 3255h17M6226 3553h17M6226 3572h17M6227 3572h17M6227 3577h17M6228 3279h17M6228 3559h17M6229 3307h17M6230 3320h17M6230 3539h17M6232 3549h17M6234 3528h17M6235 3200h17M6235 3325h17M6236 3231h17M6236 3607h17M6237 3199h17M6237 3570h17M6237 3287h17M6237 3570h17M6238 3295h17M6238 3522h17M6239 3297h17M6240 3536h17M6240 3256h17M6240 3535h17M6241 3194h17M6241 3549h17M6242 3249h17M6242 3526h17M6242 3557h17M6243 3271h17M6243 3550h17M6243 3318h17M6244 3572h17M6245 3214h17M6245 3537h17M6246 3270h17M6246 3317h17M6247 3547h17M6247 3276h17M6247 3540h17M6248 3281h17M6249 3158h17M6249 3314h17M6249 3236h17M6250 3319h17M6250 3336h17M6250 3306h17M6250 3602h17M6251 3317h17M6252 3295h17M6252 3541h17M6252 3534h17M6252 3549h17M6254 3279h17M6254 3310h17M6254 3245h17M6254 3572h17M6254 3572h17M6255 3322h17M6257 3545h17M6257 3270h17M6258 3292h17M6258 3314h17M6260 3314h17M6261 3577h17M6262 3536h17M6263 3329h17M6263 3544h17M6263 3262h17M6263 3573h17M6264 3556h17M6264 3286h17M6265 3310h17M6265 3041h17M6266 3549h17M6266 3305h17M6267 3324h17M6267 3552h17M6268 3252h17M6268 3557h17M6268 3284h17M6269 3574h17M6269 3575h17M6269 3547h17M6269 3568h17M6270 3328h17M6272 3540h17M6272 3262h17M6272 3580h17M6272 3325h17M6273 3338h17M6273 3225h17M6273 3306h17M6274 3091h17M6274 3556h17M6274 3228h17M6275 3545h17M6276 3299h17M6277 3295h17M6277 3324h17M6277 3592h17M6278 3315h17M6279 3332h17M6279 3562h17M6280 3184h17M6280 3545h17M6280 3268h17M6281 3537h17M6282 3321h17M6282 3568h17M6282 3153h17M6283 3573h17M6283 3581h17M6283 3313h17M6283 3301h17M6283 3118h17M6283 3337h17M6284 3326h17M6286 3296h17M6286 3338h17M6286 3317h17M6288 3544h17M6288 3597h17M6289 3316h17M6289 3575h17M6290 3587h17M6290 3325h17M6290 3541h17M6290 3550h17M6291 3259h17M6291 3315h17M6292 3570h17M6292 3562h17M6292 3567h17M6293 3339h17M6295 3339h17M6297 3580h17M6297 3272h17M6298 3328h17M6298 3171h17M6298 3289h17M6299 3338h17M6300 3257h17M6300 3280h17M6300 3314h17M6301 3337h17M6301 3274h17M6301 3542h17M6302 3577h17M6302 3238h17M6302 3550h17M6303 3541h17M6304 3296h17M6305 3569h17M6305 3583h17M6306 3301h17M6306 3340h17M6306 3289h17M6306 3315h17M6307 3550h17M6307 3283h17M6308 3572h17M6308 3271h17M6308 3289h17M6308 3270h17M6308 3559h17M6308 3537h17M6309 3565h17M6309 3592h17M6309 3334h17M6310 3322h17M6311 3317h17M6311 3553h17M6311 3317h17M6313 3243h17M6313 3322h17M6313 3317h17M6313 3540h17M6314 3596h17M6314 3551h17M6315 3273h17M6315 3319h17M6315 3537h17M6316 3270h17M6316 3332h17M6316 3550h17M6316 3568h17M6317 3218h17M6318 3537h17M6318 3565h17M6318 3541h17M6318 3276h17M6320 3595h17M6321 3259h17M6321 3537h17M6322 3567h17M6322 3539h17M6323 3551h17M6323 3583h17M6323 3297h17M6323 3554h17M6324 3589h17M6325 3313h17M6326 3539h17M6326 3553h17M6327 3281h17M6327 3571h17M6328 3533h17M6328 3291h17M6328 3540h17M6329 3299h17M6329 3578h17M6330 3541h17M6330 3274h17M6330 3548h17M6331 3196h17M6331 3301h17M6331 3083h17M6331 3296h17M6331 3545h17M6332 3563h17M6332 3264h17M6332 3212h17M6333 3299h17M6333 3222h17M6333 3569h17M6333 3295h17M6334 3248h17M6334 3293h17M6335 3543h17M6335 3542h17M6335 3540h17M6336 3534h17M6336 3284h17M6336 3534h17M6337 3011h17M6338 3212h17M6338 3251h17M6339 3565h17M6339 3213h17M6339 3241h17M6341 3299h17M6342 3294h17M6342 3544h17M6343 3572h17M6343 3305h17M6343 3184h17M6343 3242h17M6343 3562h17M6343 3536h17M6343 3207h17M6344 3276h17M6344 3545h17M6344 3319h17M6344 3518h17M6345 3547h17M6345 3540h17M6346 3549h17M6346 3297h17M6347 3291h17M6347 3265h17M6348 3285h17M6348 3277h17M6349 3543h17M6349 3230h17M6350 3577h17M6350 3091h17M6350 3264h17M6350 3546h17M6351 3552h17M6351 3314h17M6351 3294h17M6352 3549h17M6352 3302h17M6352 3547h17M6352 3562h17M6353 3563h17M6355 3236h17M6356 3264h17M6357 3168h17M6358 3548h17M6358 3586h17M6358 3567h17M6358 3260h17M6358 3521h17M6359 3579h17M6359 3528h17M6359 3286h17M6360 3205h17M6360 3520h17M6360 3603h17M6361 3183h17M6361 3529h17M6362 3552h17M6362 3225h17M6363 3114h17M6364 3549h17M6364 3578h17M6367 3056h17M6367 3176h17M6367 3207h17M6367 3223h17M6368 3541h17M6369 3554h17M6369 3223h17M6369 3533h17M6370 3622h17M6371 3554h17M6371 3100h17M6371 3266h17M6371 3521h17M6372 3227h17M6372 3531h17M6372 3572h17M6372 3172h17M6373 3134h17M6374 3557h17M6374 3129h17M6374 3516h17M6374 3519h17M6375 3253h17M6375 3208h17M6375 3190h17M6375 3194h17M6376 3242h17M6377 3234h17M6377 3229h17M6378 3103h17M6378 3600h17M6378 2911h17M6379 3559h17M6379 3193h17M6379 3195h17M6379 3127h17M6379 3546h17M6381 2993h17M6381 3120h17M6381 3534h17M6381 3504h17M6383 3127h17M6384 3500h17M6384 3478h17M6384 3516h17M6384 3190h17M6384 3505h17M6385 3509h17M6385 3064h17M6385 3181h17M6386 3136h17M6387 3550h17M6388 3191h17M6388 3218h17M6389 2957h17M6389 3508h17M6390 3550h17M6390 3484h17M6391 3506h17M6391 3191h17M6394 3506h17M6394 3167h17M6394 3521h17M6394 3526h17M6394 3534h17M6395 3077h17M6395 3469h17M6395 3509h17M6395 3575h17M6396 3532h17M6397 3476h17M6397 3116h17M6397 3506h17M6398 3069h17M6399 3520h17M6399 3056h17M6400 3491h17M6401 3470h17M6401 3036h17M6402 3178h17M6402 3119h17M6402 3017h17M6403 3080h17M6403 3143h17M6403 3183h17M6403 3528h17M6403 3184h17M6403 3538h17M6404 3489h17M6404 3473h17M6406 3173h17M6407 3539h17M6408 3046h17M6408 2763h17M6409 3477h17M6409 3073h17M6409 3482h17M6409 3129h17M6410 3134h17M6410 3173h17M6410 3497h17M6412 3014h17M6412 3497h17M6412 3509h17M6413 2977h17M6413 3124h17M6414 3165h17M6414 3131h17M6414 3506h17M6414 3479h17M6415 3527h17M6416 3474h17M6416 3148h17M6416 2940h17M6416 3146h17M6416 3513h17M6417 2930h17M6417 3498h17M6419 3056h17M6419 3510h17M6419 3107h17M6419 3473h17M6420 2989h17M6420 3505h17M6421 3141h17M6421 3151h17M6421 3485h17M6421 3474h17M6422 3464h17M6422 3123h17M6422 3138h17M6423 3076h17M6423 3160h17M6423 3146h17M6424 3109h17M6425 3122h17M6425 3567h17M6426 3466h17M6426 3046h17M6427 3128h17M6427 3494h17M6427 3465h17M6427 3180h17M6428 3470h17M6428 3534h17M6428 3157h17M6428 3464h17M6428 3123h17M6429 3017h17M6429 3452h17M6429 3112h17M6429 3014h17M6431 3100h17M6431 2847h17M6431 3127h17M6431 3467h17M6432 3520h17M6432 3495h17M6432 3470h17M6433 2924h17M6434 2962h17M6434 3106h17M6435 3485h17M6435 3460h17M6436 3571h17M6436 3529h17M6436 3541h17M6436 3092h17M6436 3134h17M6436 3123h17M6436 3459h17M6438 2907h17M6439 3137h17M6439 3101h17M6440 3452h17M6440 3490h17M6440 3486h17M6440 3464h17M6440 3063h17M6441 3485h17M6441 3502h17M6441 3498h17M6441 3145h17M6442 3475h17M6442 3457h17M6443 3125h17M6445 3477h17M6445 3490h17M6445 3516h17M6447 3103h17M6447 3507h17M6448 3477h17M6448 3105h17M6449 3148h17M6449 3109h17M6451 3531h17M6452 3477h17M6452 3089h17M6452 3487h17M6452 3161h17M6452 3124h17M6453 3140h17M6454 3487h17M6454 3141h17M6456 2965h17M6457 3114h17M6459 3476h17M6459 3136h17M6459 3136h17M6459 3139h17M6459 3044h17M6460 3545h17M6461 3469h17M6461 3138h17M6461 3473h17M6462 3471h17M6462 3176h17M6462 3463h17M6462 3502h17M6462 3492h17M6464 3111h17M6465 3479h17M6467 3114h17M6467 3040h17M6469 3020h17M6470 3120h17M6471 3063h17M6471 3529h17M6471 3517h17M6472 3156h17M6472 3127h17M6473 3474h17M6473 3489h17M6474 3492h17M6474 3149h17M6474 3193h17M6474 3096h17M6474 3549h17M6475 3458h17M6476 3558h17M6476 3466h17M6476 3528h17M6477 3494h17M6477 3138h17M6478 3610h17M6479 3466h17M6481 3481h17M6482 3467h17M6482 3519h17M6483 3155h17M6484 3505h17M6484 3177h17M6484 3134h17M6484 3472h17M6485 3472h17M6485 3550h17M6485 3554h17M6485 3149h17M6485 3169h17M6485 3176h17M6485 3099h17M6486 3194h17M6487 3199h17M6487 3479h17M6487 3523h17M6488 3127h17M6488 3565h17M6489 3147h17M6489 3070h17M6489 3147h17M6489 3118h17M6490 3199h17M6490 3542h17M6491 3559h17M6491 3087h17M6491 3025h17M6492 3140h17M6492 3484h17M6494 3038h17M6495 3198h17M6495 3508h17M6495 3497h17M6497 3559h17M6497 3475h17M6498 3202h17M6498 3209h17M6498 3220h17M6500 3144h17M6501 3516h17M6501 3477h17M6502 3503h17M6502 3481h17M6503 3185h17M6503 3528h17M6503 3551h17M6504 3172h17M6504 3520h17M6504 3504h17M6504 3536h17M6505 3143h17M6505 3091h17M6505 3496h17M6505 3504h17M6505 3514h17M6505 3244h17M6506 3148h17M6506 3138h17M6508 3218h17M6508 3267h17M6510 3525h17M6511 3537h17M6511 3164h17M6511 3587h17M6512 3253h17M6512 3495h17M6513 3238h17M6513 3621h17M6514 3240h17M6514 3517h17M6514 3251h17M6515 3222h17M6516 3518h17M6517 3196h17M6517 3507h17M6520 3502h17M6521 3295h17M6522 3250h17M6522 3280h17M6523 3487h17M6523 3039h17M6523 3523h17M6524 3308h17M6525 3495h17M6526 3518h17M6526 3514h17M6526 3514h17M6527 3533h17M6527 3215h17M6527 3583h17M6527 3500h17M6528 3571h17M6528 3544h17M6529 3291h17M6529 3241h17M6529 3550h17M6529 3087h17M6529 3177h17M6529 3282h17M6530 3508h17M6531 3517h17M6532 3531h17M6532 3523h17M6533 3244h17M6533 3210h17M6533 3300h17M6534 3263h17M6534 3534h17M6535 3286h17M6535 3519h17M6536 3539h17M6537 3545h17M6537 3234h17M6538 3513h17M6538 3285h17M6538 3286h17M6538 3523h17M6538 3536h17M6539 3521h17M6540 3542h17M6540 3551h17M6540 3296h17M6541 3512h17M6541 3546h17M6542 3605h17M6542 3537h17M6542 3535h17M6543 3542h17M6544 3303h17M6544 3567h17M6544 3554h17M6544 3527h17M6545 3210h17M6546 3519h17M6547 3299h17M6548 3578h17M6548 3567h17M6548 3186h17M6549 3545h17M6550 3568h17M6550 3292h17M6551 3585h17M6551 3568h17M6551 3551h17M6551 3559h17M6551 3291h17M6552 3527h17M6552 3557h17M6552 3595h17M6552 3587h17M6553 3290h17M6554 3277h17M6555 3539h17M6555 3560h17M6556 3241h17M6556 3561h17M6557 3267h17M6558 3269h17M6558 3364h17M6558 3560h17M6558 3587h17M6559 3532h17M6560 3578h17M6562 3563h17M6562 3571h17M6562 3567h17M6562 3357h17M6563 3584h17M6564 3593h17M6564 3553h17M6565 3273h17M6565 3591h17M6565 3581h17M6566 3263h17M6567 3629h17M6568 3373h17M6569 3349h17M6569 3377h17M6569 3564h17M6570 3330h17M6570 3303h17M6571 3592h17M6571 3380h17M6571 3607h17M6572 3574h17M6572 3296h17M6573 3380h17M6574 3611h17M6574 3276h17M6575 3602h17M6576 3234h17M6577 3583h17M6577 3369h17M6578 3577h17M6578 3300h17M6578 3565h17M6579 3332h17M6581 3562h17M6581 3608h17M6581 3281h17M6582 3332h17M6584 3385h17M6586 3336h17M6586 3391h17M6586 3363h17M6586 3595h17M6587 3410h17M6587 3583h17M6588 3369h17M6588 3604h17M6588 3381h17M6589 3371h17M6589 3396h17M6589 3378h17M6590 3588h17M6591 3394h17M6592 3598h17M6592 3398h17M6593 3609h17M6593 3366h17M6593 3363h17M6593 3392h17M6594 3575h17M6594 3590h17M6594 3606h17M6595 3608h17M6595 3354h17M6596 3635h17M6596 3606h17M6596 3390h17M6597 3415h17M6597 3630h17M6597 3586h17M6598 3599h17M6598 3628h17M6600 3373h17M6600 3631h17M6600 3583h17M6601 3641h17M6601 3617h17M6601 3382h17M6602 3609h17M6604 3579h17M6604 3609h17M6604 3357h17M6605 3623h17M6606 3400h17M6607 3613h17M6607 3597h17M6607 3408h17M6607 3381h17M6607 3433h17M6611 3634h17M6611 3598h17M6611 3387h17M6611 3415h17M6611 3606h17M6612 3356h17M6612 3373h17M6613 3604h17M6613 3625h17M6614 3616h17M6614 3425h17M6615 3602h17M6615 3618h17M6615 3416h17M6615 3611h17M6616 3335h17M6616 3621h17M6616 3372h17M6616 3626h17M6617 3601h17M6618 3623h17M6618 3378h17M6619 3419h17M6619 3366h17M6620 3449h17M6620 3439h17M6620 3395h17M6623 3383h17M6624 3408h17M6625 3611h17M6625 3634h17M6626 3436h17M6627 3626h17M6628 3625h17M6629 3438h17M6630 3631h17M6630 3635h17M6630 3619h17M6631 3621h17M6631 3635h17M6632 3622h17M6633 3640h17M6633 3400h17M6634 3610h17M6634 3667h17M6634 3627h17M6634 3655h17M6634 3409h17M6635 3623h17M6636 3450h17M6636 3385h17M6636 3626h17M6637 3629h17M6637 3625h17M6638 3348h17M6639 3399h17M6639 3449h17M6639 3361h17M6639 3625h17M6640 3615h17M6640 3636h17M6641 3624h17M6642 3417h17M6642 3397h17M6643 3620h17M6643 3661h17M6643 3654h17M6644 3637h17M6644 3623h17M6644 3404h17M6644 3621h17M6644 3424h17M6644 3625h17M6646 3474h17M6646 3645h17M6646 3612h17M6648 3456h17M6648 3620h17M6648 3671h17M6648 3460h17M6649 3451h17M6649 3442h17M6650 3641h17M6651 3421h17M6651 3445h17M6652 3442h17M6652 3645h17M6652 3637h17M6653 3445h17M6653 3644h17M6653 3658h17M6654 3445h17M6655 3441h17M6656 3648h17M6656 3448h17M6657 3632h17M6659 3467h17M6659 3659h17M6661 3455h17M6661 3646h17M6661 3653h17M6661 3447h17M6663 3638h17M6663 3640h17M6664 3414h17M6664 3474h17M6665 3637h17M6665 3474h17M6665 3655h17M6666 3630h17M6668 3376h17M6669 3660h17M6669 3642h17M6669 3634h17M6669 3635h17M6669 3713h17M6669 3638h17M6672 3473h17M6672 3669h17M6673 3495h17M6673 3468h17M6673 3484h17M6674 3424h17M6675 3637h17M6675 3656h17M6675 3423h17M6675 3636h17M6675 3393h17M6676 3637h17M6676 3644h17M6676 3465h17M6677 3480h17M6679 3465h17M6679 3662h17M6679 3434h17M6679 3457h17M6680 3440h17M6680 3475h17M6681 3657h17M6681 3639h17M6682 3429h17M6683 3643h17M6684 3673h17M6684 3648h17M6684 3453h17M6684 3671h17M6684 3672h17M6684 3647h17M6686 3480h17M6686 3492h17M6687 3712h17M6687 3480h17M6689 3481h17M6689 3396h17M6690 3483h17M6690 3645h17M6690 3654h17M6690 3495h17M6692 3498h17M6692 3479h17M6694 3667h17M6695 3669h17M6698 3657h17M6701 3487h17M6701 3679h17M6701 3653h17M6702 3675h17M6703 3466h17M6704 3467h17M6704 3501h17M6704 3475h17M6704 3459h17M6705 3467h17M6706 3676h17M6707 3661h17M6709 3692h17M6710 3668h17M6710 3677h17M6710 3482h17M6710 3493h17M6711 3505h17M6711 3445h17M6712 3517h17M6716 3653h17M6717 3477h17M6717 3484h17M6718 3498h17M6718 3671h17M6720 3429h17M6721 3650h17M6722 3666h17M6722 3497h17M6723 3468h17M6724 3651h17M6725 3671h17M6726 3478h17M6727 3454h17M6728 3512h17M6729 3655h17M6731 3508h17M6731 3481h17M6733 3678h17M6736 3709h17M6736 3484h17M6736 3472h17M6736 3658h17M6737 3675h17M6737 3498h17M6738 3487h17M6739 3487h17M6739 3671h17M6739 3663h17M6739 3674h17M6739 3476h17M6741 3670h17M6741 3668h17M6741 3663h17M6742 3659h17M6742 3508h17M6744 3674h17M6744 3512h17M6744 3654h17M6744 3445h17M6746 3682h17M6746 3657h17M6748 3448h17M6748 3488h17M6750 3470h17M6750 3684h17M6751 3676h17M6752 3670h17M6752 3661h17M6753 3686h17M6754 3658h17M6754 3656h17M6755 3511h17M6755 3497h17M6755 3495h17M6756 3655h17M6757 3678h17M6758 3681h17M6759 3447h17M6759 3694h17M6760 3695h17M6760 3498h17M6760 3656h17M6761 3667h17M6761 3668h17M6761 3673h17M6762 3656h17M6762 3657h17M6763 3657h17M6763 3489h17M6765 3669h17M6765 3714h17M6766 3656h17M6766 3478h17M6767 3497h17M6767 3474h17M6767 3427h17M6768 3509h17M6769 3694h17M6770 3410h17M6771 3660h17M6773 3501h17M6773 3489h17M6773 3698h17M6773 3677h17M6774 3659h17M6774 3471h17M6775 3456h17M6776 3663h17M6777 3439h17M6777 3469h17M6779 3481h17M6779 3511h17M6779 3660h17M6779 3653h17M6780 3485h17M6781 3693h17M6781 3497h17M6781 3658h17M6782 3494h17M6783 3680h17M6783 3662h17M6783 3476h17M6784 3446h17M6785 3464h17M6785 3395h17M6785 3659h17M6785 3653h17M6786 3462h17M6787 3677h17M6787 3647h17M6788 3667h17M6788 3652h17M6788 3671h17M6789 3456h17M6790 3482h17M6790 3460h17M6791 3649h17M6792 3410h17M6793 3645h17M6793 3662h17M6793 3471h17M6794 3649h17M6795 3462h17M6795 3361h17M6796 3483h17M6796 3648h17M6798 3699h17M6799 3686h17M6800 3665h17M6800 3649h17M6801 3483h17M6802 3489h17M6803 3460h17M6803 3459h17M6803 3454h17M6804 3650h17M6804 3470h17M6804 3657h17M6804 3634h17M6805 3696h17M6806 3425h17M6808 3670h17M6809 3415h17M6809 3424h17M6810 3660h17M6810 3642h17M6811 3140h17M6812 3660h17M6812 3459h17M6812 3655h17M6812 3657h17M6812 3653h17M6813 3452h17M6813 3445h17M6813 3435h17M6814 3430h17M6815 3687h17M6815 3456h17M6815 3654h17M6815 3662h17M6815 3460h17M6816 3669h17M6816 3400h17M6817 3668h17M6817 3651h17M6817 3466h17M6818 3648h17M6818 3648h17M6818 3459h17M6819 3452h17M6819 3642h17M6819 3468h17M6821 3391h17M6822 3456h17M6822 3680h17M6822 3442h17M6823 3643h17M6824 3411h17M6826 3467h17M6826 3696h17M6828 3399h17M6828 3655h17M6828 3680h17M6829 3641h17M6829 3650h17M6830 3651h17M6830 3433h17M6832 3653h17M6832 3648h17M6832 3377h17M6833 3456h17M6834 3458h17M6834 3383h17M6835 3313h17M6837 3405h17M6837 3399h17M6838 3358h17M6839 3645h17M6840 3661h17M6841 3417h17M6842 3634h17M6842 3415h17M6843 3419h17M6844 3632h17M6844 3628h17M6845 3632h17M6845 3367h17M6846 3385h17M6846 3644h17M6847 3350h17M6847 3724h17M6847 3406h17M6848 3439h17M6849 3622h17M6850 3433h17M6851 3416h17M6851 3375h17M6852 3641h17M6853 3652h17M6853 3346h17M6853 3650h17M6854 3393h17M6854 3657h17M6854 3303h17M6856 3678h17M6856 3392h17M6856 3675h17M6856 3634h17M6856 3436h17M6857 3644h17M6858 3627h17M6858 3652h17M6860 3625h17M6861 3656h17M6861 3661h17M6861 3631h17M6862 3619h17M6862 3373h17M6862 3623h17M6864 3631h17M6864 3342h17M6865 3649h17M6865 3655h17M6865 3640h17M6865 3385h17M6866 3417h17M6866 3353h17M6866 3628h17M6866 3628h17M6866 3409h17M6866 3626h17M6866 3243h17M6867 3397h17M6867 3647h17M6867 3653h17M6867 3395h17M6868 3409h17M6870 3377h17M6870 3626h17M6870 3675h17M6871 3415h17M6872 3675h17M6873 3371h17M6875 3362h17M6877 3640h17M6881 3661h17M6881 3295h17M6882 3645h17M6883 3304h17M6885 3389h17M6885 3352h17M6885 3627h17M6885 3631h17M6885 3624h17M6886 3322h17M6886 3645h17M6886 3630h17M6886 3676h17M6887 3380h17M6888 3374h17M6889 3400h17M6890 3349h17M6890 3633h17M6892 3305h17M6893 3417h17M6893 3376h17M6893 3622h17M6894 3406h17M6894 3404h17M6895 3395h17M6895 3370h17M6896 3679h17M6896 3655h17M6896 3376h17M6897 3629h17M6897 3400h17M6898 3636h17M6900 3372h17M6901 3629h17M6902 3383h17M6902 3639h17M6903 3620h17M6906 3642h17M6906 3625h17M6906 3310h17M6906 3358h17M6906 3314h17M6907 3396h17M6907 3621h17M6908 3387h17M6908 3636h17M6908 3637h17M6908 3626h17M6909 3635h17M6909 3408h17M6910 3632h17M6911 3643h17M6911 3626h17M6911 3240h17M6912 3406h17M6913 3651h17M6913 3286h17M6914 3634h17M6915 3420h17M6916 3411h17M6917 3432h17M6917 3643h17M6918 3656h17M6918 3656h17M6918 3632h17M6918 3398h17M6919 3266h17M6920 3330h17M6921 3442h17M6921 3397h17M6922 3356h17M6922 3395h17M6923 3389h17M6923 3679h17M6924 3430h17M6924 3659h17M6924 3409h17M6925 3429h17M6927 3638h17M6927 3662h17M6929 3644h17M6929 3654h17M6929 3446h17M6930 3647h17M6930 3651h17M6931 3642h17M6931 3362h17M6932 3665h17M6932 3352h17M6933 3656h17M6934 3624h17M6934 3441h17M6934 3644h17M6935 3642h17M6935 3287h17M6937 3649h17M6938 3428h17M6938 3381h17M6939 3448h17M6939 3677h17M6940 3464h17M6940 3355h17M6941 3660h17M6942 3433h17M6943 3453h17M6944 3639h17M6945 3473h17M6945 3652h17M6946 3684h17M6946 3420h17M6949 3440h17M6951 3665h17M6951 3687h17M6952 3673h17M6955 3349h17M6957 3400h17M6957 3673h17M6961 3456h17M6961 3649h17M6965 3638h17M6965 3658h17M6967 3437h17M6967 3685h17M6968 3673h17M6978 3696h17" stroke="#0072bd" stroke-width="17" fill="none"/>
<path d="M534.1 407.1L534.2 406.3 534.3 405.5 534.4 404.7 534.6 403.9 534.7 403.1 534.8 402.3 534.9 401.6 535 400.8 535.1 400 535.2 399.2 535.4 398.4 535.5 397.6 535.6 396.8 535.7 396 535.8 395.2 535.9 394.4 536 393.6 536.1 392.8 536.2 392 536.3 391.3 536.4 390.5 536.5 389.7 536.6 388.9 536.8 388.1 536.9 387.3 537 386.5 537.1 385.7 537.2 384.9 537.3 384.1 537.4 383.3 537.5 382.5 537.6 381.7 537.7 380.9 537.8 380.1 537.8 379.4 537.9 378.6 538 377.8 538.1 377 538.2 376.2 538.3 375.4 538.4 374.6 538.5 373.8 538.6 373 538.7 372.2 538.8 371.4 538.9 370.6 539 369.8 539.1 369 539.2 368.2 539.3 367.4 539.4 366.6 539.5 365.9 539.6 365.1 539.7 364.3 539.8 363.5 539.9 362.7 540 361.9 540.1 361.1 540.2 360.3 540.3 359.5 540.4 358.7 540.5 357.9 540.6 357.1 540.7 356.3 540.8 355.5 540.9 354.7 541 353.9 541.1 353.2 541.2 352.4 541.3 351.6 541.4 350.8 541.5 350 541.6 349.2 541.7 348.4 541.8 347.6 541.9 346.8 542 346 542.1 345.2 542.2 344.4 542.3 343.6 542.4 342.8 542.5 342 542.6 341.2 542.8 340.5 542.9 339.7 543 338.9 543.2 338.1 543.3 337.1 543.5 336.1 543.7 335.3 543.9 335 544.4 335.3 545 336.1 545.5 336.8 545.9 337.5 546.2 338.2 546.6 338.9 546.9 339.7 547.2 340.4 547.4 341.2 547.8 341.9 548.1 342.7 548.4 343.4 548.8 344.1 549.1 344.9 549.4 345.6 549.8 346.3 550.1 347 550.5 347.7 550.9 348.5 551.2 349.2 551.6 349.9 552 350.5 552.4 351.2 552.9 351.9 553.3 352.6 553.8 353.2 554.2 353.9 554.7 354.5 555.2 355.2 555.8 355.7 556.3 356.3 556.9 356.9 557.5 357.5 558.1 358.1 558.7 358.6 559.3 359.1 560 359.5 560.7 359.9 561.4 360.1 562.2 360.4 563 360.6 563.8 360.8 564.6 360.9 565.3 360.9 566.1 360.6 566.8 360.2 567.6 359.8 568.2 359.2 568.8 358.7 569.3 358.2 569.8 357.6 570.2 356.9 570.6 356.2 571 355.5 571.3 354.7 571.6 354 571.9 353.2 572.2 352.4 572.5 351.6 572.7 350.9 572.9 350.1 573.1 349.4 573.3 348.6 573.5 347.8 573.7 347 573.8 346.2 574 345.4 574.2 344.7 574.3 343.9 574.4 343.1 574.6 342.3 574.7 341.5 574.8 340.7 575 339.9 575.1 339.1 575.2 338.3 575.3 337.5 575.4 336.7 575.5 335.9 575.6 335.1 575.7 334.3 575.8 333.5 575.9 332.8 576 332 576 331.2 576.1 330.4 576.2 329.6 576.3 328.8 576.4 328 576.5 327.2 576.5 326.4 576.6 325.6 576.7 324.8 576.8 324 576.9 323.2 577 322.4 577.1 321.6 577.2 320.8 577.3 320 577.4 319.2 577.5 318.4 577.5 317.6 577.6 316.8 577.7 316 577.8 315.2 577.9 314.4 578 313.7 578.1 312.9 578.3 312.1 578.4 311.3 578.5 310.5 578.6 309.7 578.8 308.9 578.9 308.1 579.1 307.3 579.2 306.5 579.4 305.7 579.6 304.9 579.8 304.2 580 303.4 580.2 302.6 580.4 301.9 580.7 301.1 581 300.3 581.3 299.4 581.7 298.6 582.2 297.9 582.7 297.7 583.3 297.9 584.1 298.3 584.8 298.9 585.4 299.4 585.9 300 586.4 300.6 586.8 301.3 587.2 302 587.6 302.7 588 303.4 588.4 304.1 588.7 304.8 589.1 305.6 589.4 306.3 589.7 307 590.1 307.8 590.4 308.5 590.7 309.2 591 310 591.4 310.7 591.7 311.4 592.1 312.1 592.4 312.8 592.8 313.6 593.1 314.3 593.5 315 593.9 315.7 594.2 316.4 594.6 317.1 594.9 317.9 595.3 318.6 595.6 319.3 596 320 596.4 320.7 596.7 321.4 597.1 322.2 597.4 322.9 597.7 323.6 598.1 324.4 598.4 325.1 598.8 325.8 599.1 326.6 599.5 327.3 599.9 328 600.2 328.7 600.6 329.4 601.1 330 601.5 330.7 602 331.3 602.5 331.9 603 332.5 603.5 333.1 604.1 333.7 604.7 334.3 605.3 334.9 605.9 335.4 606.5 335.9 607.1 336.4 607.8 336.9 608.4 337.3 609.1 337.7 609.8 338.1 610.5 338.5 611.2 338.8 612 339.2 612.7 339.5 613.4 339.8 614.2 340.1 614.9 340.4 615.7 340.6 616.5 340.9 617.2 341.1 618 341.3 618.8 341.5 619.5 341.8 620.3 342 621.1 342.3 621.8 342.5 622.6 342.8 623.3 343.1 624.1 343.4 624.8 343.7 625.6 343.9 626.3 344.2 627.1 344.4 627.9 344.7 628.7 344.9 629.5 345.1 630.2 345.3 631 345.3 631.7 345.2 632.4 344.9 633.1 344.5 633.8 344 634.5 343.4 635.2 342.9 635.8 342.3 636.3 341.8 636.8 341.2 637.3 340.6 637.8 339.9 638.2 339.2 638.6 338.5 639.1 337.8 639.5 337.1 640 336.4 640.4 335.8 641 335.2 641.5 334.7 642.2 334.1 642.8 333.5 643.5 333 644.2 332.6 644.9 332.4 645.6 332.5 646.2 332.8 646.9 333.3 647.6 333.9 648.2 334.5 648.8 335 649.4 335.6 649.9 336.2 650.4 336.8 650.8 337.4 651.3 338.1 651.7 338.8 652.2 339.5 652.6 340.2 653.1 340.8 653.5 341.5 654 342.2 654.4 342.8 654.9 343.5 655.4 344.2 655.8 344.8 656.3 345.5 656.7 346.2 657.2 346.8 657.6 347.5 658.1 348.1 658.6 348.8 659.1 349.4 659.6 350 660.1 350.5 660.7 351.1 661.3 351.7 661.9 352.2 662.5 352.8 663.1 353.3 663.7 353.8 664.3 354.3 665 354.8 665.7 355.3 666.3 355.7 667 356.1 667.7 356.5 668.4 356.9 669.1 357.3 669.8 357.7 670.6 358.1 671.3 358.4 672.1 358.8 672.9 359 673.6 359.2 674.4 359.4 675.1 359.4 675.9 359.3 676.6 359.2 677.4 358.9 678.1 358.6 678.9 358.3 679.6 357.9 680.4 357.5 681.1 357.1 681.8 356.7 682.5 356.3 683.2 355.9 683.9 355.4 684.6 354.8 685.2 354.3 685.9 353.8 686.6 353.3 687.3 352.9 687.9 352.7 688.7 352.7 689.4 352.8 690.2 353 691 353.3 691.8 353.6 692.5 354 693.2 354.4 693.8 354.8 694.4 355.3 695 355.8 695.5 356.5 696.1 357.1 696.6 357.8 696.6 357.9" stroke="#d95319" stroke-width="2" fill="none" stroke-linejoin="round"/>
<path d="M534.1 407.1L534.2 406.3 534.3 405.5 534.4 404.7 534.6 403.9 534.7 403.1 534.8 402.3 534.9 401.6 535 400.8 535.1 400 535.2 399.2 535.4 398.4 535.5 397.6 535.6 396.8 535.7 396 535.8 395.2 535.9 394.4 536 393.6 536.1 392.8 536.2 392 536.3 391.3 536.4 390.5 536.5 389.7 536.6 388.9 536.8 388.1 536.9 387.3 537 386.5 537.1 385.7 537.2 384.9 537.3 384.1 537.4 383.3 537.5 382.5 537.6 381.7 537.7 380.9 537.8 380.1 537.8 379.4 537.9 378.6 538 377.8 538.1 377 538.2 376.2 538.3 375.4 538.4 374.6 538.5 373.8 538.6 373 538.7 372.2 538.8 371.4 538.9 370.6 539 369.8 539.1 369 539.2 368.2 539.3 367.4 539.4 366.6 539.5 365.9 539.6 365.1 539.7 364.3 539.8 363.5 539.9 362.7 540 361.9 540.1 361.1 540.2 360.3 540.3 359.5 540.4 358.7 540.5 357.9 540.6 357.1 540.7 356.3 540.8 355.5 540.9 354.7 541 353.9 541.1 353.2 541.2 352.4 541.3 351.6 541.4 350.8 541.5 350 541.6 349.2 541.7 348.4 541.8 347.6 541.9 346.8 542 346 542.1 345.2 542.2 344.4 542.3 343.6 542.4 342.8 542.5 342 542.6 341.2 542.8 340.5 542.9 339.7 543 338.9 543.2 338.1 543.3 337.1 543.5 336.1 543.7 335.3 543.9 335 544.4 335.3 545 336.1 545.5 336.8 545.9 337.5 546.2 338.2 546.6 338.9 546.9 339.7 547.2 340.4 547.4 341.2 547.8 341.9 548.1 342.7 548.4 343.4 548.8 344.1 549.1 344.9 549.4 345.6 549.8 346.3 550.1 347 550.5 347.7 550.9 348.5 551.2 349.2 551.6 349.9 552 350.5 552.4 351.2 552.9 351.9 553.3 352.6 553.8 353.2 554.2 353.9 554.7 354.5 555.2 355.2 555.8 355.7 556.3 356.3 556.9 356.9 557.5 357.5 558.1 358.1 558.7 358.6 559.3 359.1 560 359.5 560.7 359.9 561.4 360.1 562.2 360.4 563 360.6 563.8 360.8 564.6 360.9 565.3 360.9 566.1 360.6 566.8 360.2 567.6 359.8 568.2 359.2 568.8 358.7 569.3 358.2 569.8 357.6 570.2 356.9 570.6 356.2 571 355.5 571.3 354.7 571.6 354 571.9 353.2 572.2 352.4 572.5 351.6 572.7 350.9 572.9 350.1 573.1 349.4 573.3 348.6 573.5 347.8 573.7 347 573.8 346.2 574 345.4 574.2 344.7 574.3 343.9 574.4 343.1 574.6 342.3 574.7 341.5 574.8 340.7 575 339.9 575.1 339.1 575.2 338.3 575.3 337.5 575.4 336.7 575.5 335.9 575.6 335.1 575.7 334.3 575.8 333.5 575.9 332.8 576 332 576 331.2 576.1 330.4 576.2 329.6 576.3 328.8 576.4 328 576.5 327.2 576.5 326.4 576.6 325.6 576.7 324.8 576.8 324 576.9 323.2 577 322.4 577.1 321.6 577.2 320.8 577.3 320 577.4 319.2 577.5 318.4 577.5 317.6 577.6 316.8 577.7 316 577.8 315.2 577.9 314.4 578 313.7 578.1 312.9 578.3 312.1 578.4 311.3 578.5 310.5 578.6 309.7 578.8 308.9 578.9 308.1 579.1 307.3 579.2 306.5 579.4 305.7 579.6 304.9 579.8 304.2 580 303.4 580.2 302.6 580.4 301.9 580.7 301.1 581 300.3 581.3 299.4 581.7 298.6 582.2 297.9 582.7 297.7 583.3 297.9 584.1 298.3 584.8 298.9 585.4 299.4 585.9 300 586.4 300.6 586.8 301.3 587.2 302 587.6 302.7 588 303.4 588.4 304.1 588.7 304.8 589.1 305.6 589.4 306.3 589.7 307 590.1 307.8 590.4 308.5 590.7 309.2 591 310 591.4 310.7 591.7 311.4 592.1 312.1 592.4 312.8 592.8 313.6 593.1 314.3 593.5 315 593.9 315.7 594.2 316.4 594.6 317.1 594.9 317.9 595.3 318.6 595.6 319.3 596 320 596.4 320.7 596.7 321.4 597.1 322.2 597.4 322.9 597.7 323.6 598.1 324.4 598.4 325.1 598.8 325.8 599.1 326.6 599.5 327.3 599.9 328 600.2 328.7 600.6 329.4 601.1 330 601.5 330.7 602 331.3 602.5 331.9 603 332.5 603.5 333.1 604.1 333.7 604.7 334.3 605.3 334.9 605.9 335.4 606.5 335.9 607.1 336.4 607.8 336.9 608.4 337.3 609.1 337.7 609.8 338.1 610.5 338.5 611.2 338.8 612 339.2 612.7 339.5 613.4 339.8 614.2 340.1 614.9 340.4 615.7 340.6 616.5 340.9 617.2 341.1 618 341.3 618.8 341.5 619.5 341.8 620.3 342 621.1 342.3 621.8 342.5 622.6 342.8 623.3 343.1 624.1 343.4 624.8 343.7 625.6 343.9 626.3 344.2 627.1 344.4 627.9 344.7 628.7 344.9 629.5 345.1 630.2 345.3 631 345.3 631.7 345.2 632.4 344.9 633.1 344.5 633.8 344 634.5 343.4 635.2 342.9 635.8 342.3 636.3 341.8 636.8 341.2 637.3 340.6 637.8 339.9 638.2 339.2 638.6 338.5 639.1 337.8 639.5 337.1 640 336.4 640.4 335.8 641 335.2 641.5 334.7 642.2 334.1 642.8 333.5 643.5 333 644.2 332.6 644.9 332.4 645.6 332.5 646.2 332.8 646.9 333.3 647.6 333.9 648.2 334.5 648.8 335 649.4 335.6 649.9 336.2 650.4 336.8 650.8 337.4 651.3 338.1 651.7 338.8 652.2 339.5 652.6 340.2 653.1 340.8 653.5 341.5 654 342.2 654.4 342.8 654.9 343.5 655.4 344.2 655.8 344.8 656.3 345.5 656.7 346.2 657.2 346.8 657.6 347.5 658.1 348.1 658.6 348.8 659.1 349.4 659.6 350 660.1 350.5 660.7 351.1 661.3 351.7 661.9 352.2 662.5 352.8 663.1 353.3 663.7 353.8 664.3 354.3 665 354.8 665.7 355.3 666.3 355.7 667 356.1 667.7 356.5 668.4 356.9 669.1 357.3 669.8 357.7 670.6 358.1 671.3 358.4 672.1 358.8 672.9 359 673.6 359.2 674.4 359.4 675.1 359.4 675.9 359.3 676.6 359.2 677.4 358.9 678.1 358.6 678.9 358.3 679.6 357.9 680.4 357.5 681.1 357.1 681.8 356.7 682.5 356.3 683.2 355.9 683.9 355.4 684.6 354.8 685.2 354.3 685.9 353.8 686.6 353.3 687.3 352.9 687.9 352.7 688.7 352.7 689.4 352.8 690.2 353 691 353.3 691.8 353.6 692.5 354 693.2 354.4 693.8 354.8 694.4 355.3 695 355.8 695.5 356.5 696.1 357.1 696.6 357.8 696.6 357.9" stroke="#edb120" stroke-width="2" fill="none" stroke-dasharray="6 1.6" stroke-linejoin="round"/>
</g>
<rect x="521.3" y="250.3" width="180.7" height="175.2" fill="none" stroke="#181818" stroke-width="1.7"/>
<path d="M521.3 425.5v-2.6M521.3 250.3v2.6M565.4 425.5v-2.6M565.4 250.3v2.6M609.4 425.5v-2.6M609.4 250.3v2.6M653.5 425.5v-2.6M653.5 250.3v2.6M697.6 425.5v-2.6M697.6 250.3v2.6M521.3 425.5h2.6M702 425.5h-2.6M521.3 393.6h2.6M702 393.6h-2.6M521.3 361.8h2.6M702 361.8h-2.6M521.3 329.9h2.6M702 329.9h-2.6M521.3 298.1h2.6M702 298.1h-2.6M521.3 266.2h2.6M702 266.2h-2.6" stroke="#262626" stroke-width="1.5" fill="none"/>
<g font-size="14" fill="#262626" text-anchor="middle">
<text x="521.3" y="443.7">3.4</text>
<text x="565.4" y="443.7">3.6</text>
<text x="609.4" y="443.7">3.8</text>
<text x="653.5" y="443.7">4</text>
<text x="697.6" y="443.7">4.2</text>
</g>
<g font-size="14" fill="#262626" text-anchor="end">
<text x="515.8" y="430.4">0</text>
<text x="515.8" y="398.5">1</text>
<text x="515.8" y="366.7">2</text>
<text x="515.8" y="334.8">3</text>
<text x="515.8" y="303">4</text>
<text x="515.8" y="271.1">5</text>
</g>
<text font-size="16" fill="#262626" text-anchor="middle" x="611.6" y="463">Voltage (V)</text>
<text font-size="16" fill="#262626" text-anchor="middle" transform="translate(503.3,335.8) rotate(-90)" textLength="106.5" lengthAdjust="spacing">ΔQ/ΔV (Ah/V)</text>
<text font-size="10" font-weight="bold" fill="#000" x="491" y="255.8">F</text>
<text font-size="14.5" fill="#000" x="528.8" y="420">Cell #04</text>
<rect x="48.3" y="142.5" width="10.4" height="10.5" fill="none" stroke="#1a1a1a" stroke-width="1"/>
<path d="M61.4 147.8L123.5 122.6" stroke="#1a1a1a" stroke-width="1" fill="none"/>
<path d="M129.4 120.3L119.3 120.1L122.4 122.9L122.4 126.8Z" fill="#000"/>
<rect x="154.5" y="96.5" width="60.3" height="61.9" fill="#fff"/>
<path d="M158.5 96.5V158.4M185 96.5V158.4M211.5 96.5V158.4M154.5 127.5H214.8" stroke="#d9d9d9" stroke-width="1.4" fill="none"/>
<clipPath id="clipIn"><rect x="154.5" y="96.5" width="60.3" height="61.9"/></clipPath>
<g clip-path="url(#clipIn)">
<path d="M155.5 155 157.2 153.2 158.2 144.4 159.3 142.6 160.4 141.8 161.5 139.7 162.6 136.3 163.7 133.9 164.8 129.2 165.9 127.1 167 124.1 168.1 122.3 169.2 120.9 170.3 118.8 171.4 118.7 172.5 117.2 173.6 113.8 174.7 118.2 175.8 114.1 176.9 115.5 178 112.6 179.1 113.4 180.2 112.8 181.3 115.4 182.4 113.4 183.5 112.3 184.6 111.4 185.7 112.4 186.8 109.3 187.9 109.8 189 111.5 190.1 110.7 191.2 111.4 192.3 109.3 193.4 110.7 194.5 106.9 195.6 104.8 196.7 108.4 197.8 107.7 198.9 104.4 200 102.5 201.1 103.8 202.2 102.1 203.3 103.2 204.4 102.4 205.5 101.1 206.6 98.2 207.7 103.6 208.8 101 209.9 100.8 211 98.7 212.1 98.4 213.2 97 214.3 96.1 216 95.3L216 107.7 214.3 112.9 213.2 112 212.1 114.8 211 115.9 209.9 115.3 208.8 112.4 207.7 114.3 206.6 119.1 205.5 117.7 204.4 115.5 203.3 119.1 202.2 119 201.1 118.6 200 118.6 198.9 119.9 197.8 117.6 196.7 120.4 195.6 120.7 194.5 121.2 193.4 119.9 192.3 120.2 191.2 119.9 190.1 120.2 189 122.4 187.9 121 186.8 121.5 185.7 123.4 184.6 123.4 183.5 121.4 182.4 120.4 181.3 122.9 180.2 126.4 179.1 126.4 178 126.2 176.9 125.8 175.8 125.2 174.7 126.5 173.6 126.7 172.5 127.9 171.4 128.1 170.3 129 169.2 129.2 168.1 134.3 167 135.3 165.9 138.1 164.8 138.6 163.7 144.2 162.6 146.4 161.5 149.1 160.4 152.4 159.3 156.4 158.2 160.2 157.2 159.5 155.5 163.3Z" fill="#0072bd"/>
<path d="M155.5 161L156 159.5 156.5 158.1 157 156.8 157.5 155.4 158 154.1 158.5 152.8 159 151.5 159.5 150.1 160 148.7 160.5 147.3 161 145.9 161.5 144.4 162 143 162.5 141.6 163 140.2 163.5 138.9 164 137.5 164.5 136.2 165 134.9 165.5 133.6 166 132.3 166.5 131.1 167 129.9 167.5 128.7 168 127.6 168.5 126.7 169 125.8 169.5 125.1 170 124.4 170.5 123.9 171 123.4 171.5 123 172 122.7 172.5 122.4 173 122.1 173.5 121.9 174 121.6 174.5 121.4 175 121.2 175.5 121 176 120.8 176.5 120.6 177 120.4 177.5 120.2 178 120 178.5 119.8 179 119.6 179.5 119.4 180 119.2 180.5 119 181 118.9 181.5 118.7 182 118.5 182.5 118.3 183 118.1 183.5 117.9 184 117.8 184.5 117.6 185 117.4 185.5 117.2 186 117 186.5 116.8 187 116.6 187.5 116.4 188 116.2 188.5 116 189 115.8 189.5 115.7 190 115.5 190.5 115.3 191 115.1 191.5 114.9 192 114.7 192.5 114.5 193 114.3 193.5 114.1 194 113.9 194.5 113.7 195 113.4 195.5 113.2 196 113 196.5 112.8 197 112.6 197.5 112.4 198 112.2 198.5 112 199 111.8 199.5 111.5 200 111.3 200.5 111.1 201 110.9 201.5 110.6 202 110.4 202.5 110.2 203 110 203.5 109.7 204 109.5 204.5 109.3 205 109 205.5 108.8 206 108.6 206.5 108.3 207 108.1 207.5 107.8 208 107.6 208.5 107.3 209 107 209.5 106.8 210 106.5 210.5 106.2 211 105.8 211.5 105.5 212 105.1 212.5 104.8 213 104.4 213.5 104 214 103.6 214.5 103.2 215 102.8 215.5 102.4" stroke="#d95319" stroke-width="2.2" fill="none" stroke-linejoin="round"/>
</g>
<rect x="154.5" y="96.5" width="60.3" height="61.9" fill="none" stroke="#333" stroke-width="1"/>
<path d="M158.5 158.4v-1.5M158.5 96.5v1.5M185 158.4v-1.5M185 96.5v1.5M211.5 158.4v-1.5M211.5 96.5v1.5M154.5 158.4h1.5M214.8 158.4h-1.5M154.5 127.5h1.5M214.8 127.5h-1.5M154.5 96.5h1.5M214.8 96.5h-1.5" stroke="#333" stroke-width="1" fill="none"/>
<g font-size="11" fill="#262626" text-anchor="middle">
<text x="158.5" y="172.6">8</text>
<text x="185" y="172.6">16</text>
<text x="211.5" y="172.6">24</text>
</g>
<g font-size="11" fill="#262626" text-anchor="end">
<text x="150.6" y="162.3">3.35</text>
<text x="150.6" y="131.4">3.4</text>
<text x="150.6" y="100.4">3.45</text>
</g>
<rect x="587.1" y="103.1" width="111.8" height="70.4" fill="#fff" stroke="#262626" stroke-width="1.2"/>
<path d="M589.4 112.5H603.1" stroke="#0072bd" stroke-width="1.6"/>
<text x="605.6" y="117.7" font-size="14.5" fill="#000">Voltage: noisy</text>
<path d="M589.4 129.7H603.1" stroke="#d95319" stroke-width="1.6"/>
<text x="605.6" y="134.9" font-size="14.5" fill="#000">Voltage: ref</text>
<path d="M589.4 146.8H603.1" stroke="#7e2f8e" stroke-width="1.6"/>
<text x="605.6" y="152" font-size="14.5" fill="#000">Current: noisy</text>
<path d="M589.4 163.9H603.1" stroke="#77ac30" stroke-width="1.6"/>
<text x="605.6" y="169.1" font-size="14.5" fill="#000">Current: ref</text>
<rect x="598.4" y="257.8" width="96.1" height="52.7" fill="#fff" stroke="#262626" stroke-width="1.2"/>
<path d="M600.9 267.1H614" stroke="#0072bd" stroke-opacity="0.55" stroke-width="0.8" stroke-dasharray="1 1.3"/>
<path d="M606.4 267.1h1.8" stroke="#0072bd" stroke-width="1.8"/>
<text x="617" y="272.3" font-size="14.5" fill="#000">Raw</text>
<path d="M600.9 284.1H614.5" stroke="#d95319" stroke-width="2"/>
<text x="617" y="289.3" font-size="14.5" fill="#000">Referenced</text>
<path d="M600.9 300.7H614.5" stroke="#edb120" stroke-width="2" stroke-dasharray="7 2.2"/>
<text x="617" y="305.9" font-size="14.5" fill="#000">Proposed</text>
</svg></body></html>
